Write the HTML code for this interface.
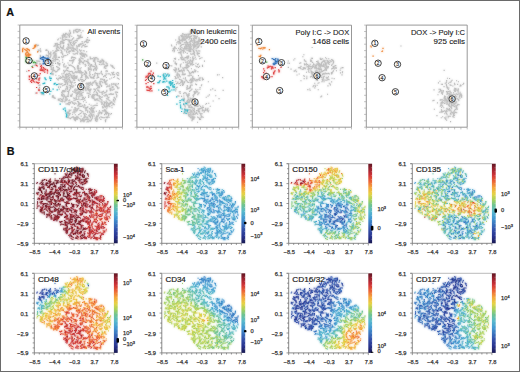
<!DOCTYPE html><html><head><meta charset="utf-8"><style>html,body{margin:0;padding:0;background:#fff;}svg{display:block;font-family:"Liberation Sans",sans-serif;}</style></head><body><svg width="520" height="372" viewBox="0 0 520 372"><defs><linearGradient id="cb" x1="0" y1="0" x2="0" y2="1"><stop offset="0.000" stop-color="#5f1623"/><stop offset="0.070" stop-color="#9b2330"/><stop offset="0.140" stop-color="#cd3237"/><stop offset="0.220" stop-color="#eb6437"/><stop offset="0.300" stop-color="#f5a53c"/><stop offset="0.380" stop-color="#e6d246"/><stop offset="0.450" stop-color="#aad25a"/><stop offset="0.520" stop-color="#6ec391"/><stop offset="0.600" stop-color="#58b9cd"/><stop offset="0.680" stop-color="#449bd2"/><stop offset="0.760" stop-color="#3a73be"/><stop offset="0.840" stop-color="#324ba5"/><stop offset="0.920" stop-color="#28328c"/><stop offset="1.000" stop-color="#191950"/></linearGradient><filter id="bl" x="-5%" y="-5%" width="110%" height="110%"><feGaussianBlur stdDeviation="0.35"/></filter><filter id="halo" x="-5%" y="-5%" width="110%" height="110%"><feGaussianBlur in="SourceGraphic" stdDeviation="1.1" result="b"/><feComponentTransfer in="b" result="b2"><feFuncA type="linear" slope="0.8"/></feComponentTransfer><feGaussianBlur in="SourceGraphic" stdDeviation="0.3" result="s"/><feMerge><feMergeNode in="b2"/><feMergeNode in="s"/></feMerge></filter></defs><rect x="0" y="0" width="520" height="372" fill="#fff"/><rect x="0.5" y="0.5" width="519" height="371" fill="none" stroke="#6a6a6a" stroke-width="1"/><text x="6.3" y="15.6" font-size="10.80" text-anchor="start" font-weight="bold" fill="#111" stroke="#111" stroke-width="0.2">A</text><text x="6.8" y="154.8" font-size="10.80" text-anchor="start" font-weight="bold" fill="#111" stroke="#111" stroke-width="0.2">B</text><g stroke-width="1.1" fill="none" filter="url(#halo)"><path d="M62.0 90.8h1.1M94.5 62.4h1.1M81.7 120.9h1.1M78.1 114.6h1.1M80.5 54.7h1.1M70.5 86.4h1.1M73.8 67.6h1.1M78.9 86.2h1.1M78.5 96.0h1.1M67.5 95.2h1.1M36.9 45.6h1.1M104.1 111.0h1.1M76.7 49.0h1.1M78.1 104.5h1.1M96.5 120.2h1.1M87.4 61.0h1.1M87.5 89.7h1.1M94.1 99.7h1.1M100.2 84.9h1.1M110.1 74.9h1.1M90.3 108.7h1.1M80.8 54.7h1.1M64.7 77.2h1.1M108.1 86.1h1.1M88.0 68.0h1.1M72.4 45.9h1.1M94.1 61.3h1.1M84.2 116.6h1.1M87.0 119.5h1.1M78.3 35.9h1.1M105.8 77.5h1.1M96.5 98.6h1.1M112.3 67.5h1.1M47.9 56.7h1.1M61.7 93.1h1.1M60.0 43.9h1.1M48.3 53.6h1.1M85.9 119.4h1.1M109.8 102.6h1.1M81.4 87.3h1.1M45.3 50.3h1.1M90.0 90.1h1.1M82.8 92.3h1.1M62.2 91.7h1.1M62.1 59.9h1.1M81.1 99.5h1.1M74.2 90.2h1.1M113.1 72.4h1.1M84.2 107.8h1.1M77.3 52.3h1.1M106.3 90.4h1.1M69.9 113.8h1.1M58.0 87.5h1.1M98.4 112.3h1.1M104.4 82.4h1.1M68.8 73.4h1.1M107.5 116.9h1.1M101.5 102.2h1.1M78.4 31.1h1.1M99.3 61.7h1.1M98.6 98.8h1.1M62.1 95.2h1.1M111.1 83.7h1.1M84.8 64.4h1.1M62.4 41.8h1.1M83.8 42.1h1.1M78.5 102.7h1.1M67.6 104.3h1.1M90.3 65.8h1.1M76.5 76.0h1.1M110.0 103.4h1.1M75.0 85.0h1.1M103.0 76.6h1.1M103.0 91.4h1.1M97.9 86.0h1.1M78.9 49.9h1.1M84.4 105.7h1.1M59.0 68.3h1.1M71.3 77.8h1.1M77.1 65.9h1.1M63.6 77.3h1.1M83.9 117.7h1.1M94.7 90.5h1.1M80.6 116.1h1.1M65.8 82.2h1.1M97.6 95.7h1.1M79.0 61.2h1.1M62.0 101.7h1.1M75.4 77.2h1.1M82.2 53.2h1.1M73.3 30.6h1.1M61.9 85.7h1.1M100.4 81.2h1.1M73.8 77.8h1.1M102.4 104.0h1.1M77.5 92.2h1.1M88.1 95.2h1.1M93.2 70.7h1.1M98.5 112.8h1.1M116.6 74.5h1.1M101.6 92.2h1.1M82.4 55.5h1.1M98.4 91.4h1.1M81.5 46.2h1.1M88.8 69.5h1.1M85.9 72.6h1.1M63.7 71.4h1.1M89.5 83.4h1.1M79.3 64.1h1.1M104.0 114.6h1.1M72.4 103.4h1.1M113.0 94.1h1.1M76.4 94.3h1.1M58.7 89.1h1.1M76.5 31.8h1.1M50.7 60.6h1.1M61.6 41.3h1.1M90.4 120.7h1.1M100.9 113.7h1.1M58.9 65.2h1.1M73.2 111.7h1.1M88.9 108.6h1.1M70.4 110.0h1.1M34.2 65.2h1.1M92.4 82.4h1.1M50.3 52.1h1.1M71.8 60.2h1.1M74.7 53.9h1.1M105.6 65.5h1.1M50.7 65.9h1.1M76.3 92.3h1.1M61.5 52.7h1.1M90.6 70.1h1.1M84.1 117.7h1.1M84.1 55.0h1.1M76.5 29.3h1.1M77.8 101.7h1.1M73.3 30.2h1.1M62.1 47.4h1.1M75.0 30.8h1.1M82.8 120.7h1.1M101.7 94.4h1.1M101.8 74.5h1.1M69.0 65.5h1.1M86.8 39.9h1.1M68.7 85.4h1.1M69.4 102.4h1.1M70.0 87.3h1.1M116.8 78.0h1.1M108.4 106.1h1.1M73.0 42.8h1.1M54.4 57.3h1.1M71.8 94.2h1.1M62.1 79.3h1.1M107.8 99.7h1.1M72.9 66.9h1.1M79.7 37.6h1.1M97.1 75.8h1.1M74.8 99.1h1.1M48.1 54.2h1.1M75.6 97.4h1.1M86.7 42.7h1.1M90.1 77.1h1.1M93.3 111.5h1.1M109.2 86.3h1.1M106.9 117.8h1.1M79.5 71.9h1.1M70.1 88.6h1.1M79.7 68.9h1.1M79.7 50.7h1.1M67.7 96.4h1.1M61.6 94.2h1.1M76.7 46.8h1.1M71.5 50.7h1.1M90.9 114.6h1.1M81.7 53.7h1.1M85.1 75.4h1.1M80.1 51.2h1.1M66.5 68.6h1.1M79.8 62.1h1.1M89.2 91.0h1.1M39.7 57.5h1.1M94.9 64.1h1.1M63.1 79.7h1.1M91.0 64.6h1.1M97.7 73.8h1.1M57.0 67.1h1.1M70.0 85.5h1.1M57.7 99.2h1.1M41.2 93.6h1.1M96.2 67.1h1.1M103.1 60.7h1.1M81.7 120.3h1.1M116.0 94.7h1.1M89.9 69.3h1.1M65.3 91.0h1.1M79.5 61.0h1.1M53.8 70.6h1.1M114.0 76.7h1.1M61.3 56.6h1.1M115.8 73.7h1.1M90.4 109.9h1.1M112.2 84.3h1.1M69.1 60.6h1.1M96.9 93.1h1.1M108.1 115.5h1.1M91.0 114.5h1.1M100.0 79.1h1.1M76.1 45.9h1.1M60.0 87.1h1.1M106.2 108.8h1.1M93.8 66.6h1.1M70.7 75.4h1.1M69.4 110.6h1.1M54.8 54.9h1.1M103.4 101.8h1.1M65.2 39.4h1.1M83.8 113.9h1.1M61.0 50.7h1.1M100.3 119.4h1.1M86.7 76.9h1.1M85.2 108.3h1.1M82.3 120.0h1.1M68.0 93.0h1.1M55.1 44.7h1.1M62.7 34.6h1.1M54.0 52.2h1.1M67.7 35.6h1.1M117.0 92.4h1.1M113.7 104.7h1.1M74.3 78.5h1.1M37.3 61.1h1.1M72.0 114.2h1.1M111.2 72.7h1.1M100.4 116.9h1.1M61.8 37.8h1.1M63.0 43.6h1.1M53.4 70.4h1.1M78.3 37.9h1.1M82.2 56.4h1.1M84.9 79.5h1.1M77.6 69.6h1.1M89.6 67.7h1.1M95.2 80.9h1.1M64.7 39.4h1.1M111.5 107.8h1.1M92.1 108.7h1.1M70.9 101.8h1.1M79.1 44.6h1.1M55.5 56.1h1.1M68.1 91.9h1.1M68.6 42.0h1.1M67.3 48.6h1.1M87.3 111.0h1.1M72.6 53.7h1.1M52.0 58.2h1.1M60.8 101.4h1.1M95.0 68.0h1.1M80.6 67.8h1.1M100.3 62.8h1.1M67.3 40.0h1.1M100.9 71.4h1.1M64.3 96.3h1.1M91.7 110.3h1.1M105.0 121.6h1.1M58.0 47.7h1.1M78.2 98.9h1.1M59.7 42.8h1.1M90.0 116.1h1.1M63.2 65.8h1.1M85.2 46.6h1.1M114.3 100.2h1.1M98.3 61.2h1.1M91.3 77.9h1.1M99.1 113.8h1.1M63.2 96.8h1.1M69.5 103.4h1.1M35.1 93.1h1.1M117.4 88.7h1.1M70.4 47.9h1.1M80.7 53.3h1.1M118.1 75.1h1.1M60.6 84.4h1.1M105.5 73.2h1.1M80.5 110.7h1.1M81.9 95.2h1.1M63.7 72.5h1.1M52.4 71.0h1.1M63.8 36.5h1.1M81.0 93.6h1.1M39.4 50.4h1.1M102.3 60.0h1.1M63.1 85.3h1.1M111.6 90.1h1.1M82.2 105.3h1.1M94.7 89.4h1.1M64.9 74.6h1.1M113.3 83.6h1.1M74.3 76.4h1.1M82.4 72.5h1.1M67.6 103.6h1.1M76.3 116.4h1.1M65.6 74.9h1.1M112.9 103.8h1.1M98.5 86.6h1.1M57.7 80.0h1.1M55.2 59.6h1.1M56.1 78.4h1.1M83.3 121.7h1.1M54.5 53.8h1.1M88.6 68.7h1.1M103.3 107.2h1.1M92.4 106.0h1.1M48.6 64.1h1.1M92.4 94.9h1.1M81.1 53.4h1.1M84.0 98.6h1.1M78.6 106.0h1.1M111.8 66.5h1.1M104.0 80.7h1.1M80.8 72.2h1.1M81.5 84.5h1.1M98.8 95.7h1.1M97.5 76.9h1.1M82.5 58.9h1.1M75.5 76.6h1.1M72.7 41.8h1.1M98.7 101.0h1.1M76.8 117.4h1.1M68.7 90.4h1.1M70.9 58.1h1.1M74.7 42.9h1.1M59.9 47.1h1.1M94.1 60.7h1.1M89.3 120.6h1.1M80.7 89.6h1.1M80.7 50.3h1.1M79.6 96.0h1.1M76.4 47.9h1.1M66.3 39.5h1.1M103.0 111.0h1.1M39.3 61.7h1.1M95.9 121.2h1.1M104.3 92.5h1.1M76.9 118.7h1.1M93.7 95.4h1.1M72.5 60.6h1.1M79.8 106.2h1.1M61.2 92.2h1.1M89.7 94.4h1.1M88.6 116.0h1.1M68.4 39.7h1.1M108.7 100.3h1.1M100.5 92.2h1.1M94.7 64.6h1.1M69.3 47.8h1.1M89.5 112.8h1.1M79.1 29.6h1.1M88.6 120.3h1.1M93.5 105.8h1.1M66.7 113.3h1.1M66.2 80.0h1.1M66.6 77.9h1.1M113.8 74.6h1.1M88.4 82.7h1.1M87.9 40.2h1.1M73.7 73.0h1.1M89.2 91.2h1.1M95.8 116.7h1.1M57.2 70.3h1.1M74.2 111.3h1.1M96.1 99.6h1.1M78.8 45.1h1.1M116.9 87.7h1.1M83.2 89.7h1.1M84.4 115.8h1.1M103.5 61.8h1.1M72.2 112.3h1.1M58.3 64.3h1.1M83.9 120.9h1.1M113.7 97.3h1.1M74.6 100.2h1.1M71.0 49.7h1.1M50.3 62.6h1.1M57.9 78.7h1.1M58.9 57.4h1.1M65.1 78.7h1.1M75.5 29.8h1.1M63.9 34.5h1.1M66.2 73.9h1.1M50.1 54.1h1.1M91.7 111.4h1.1M99.4 81.4h1.1M68.7 114.3h1.1M117.1 75.5h1.1M74.3 107.9h1.1M74.7 118.5h1.1M93.2 76.5h1.1M97.2 85.8h1.1M93.3 60.1h1.1M65.0 34.8h1.1M54.4 45.6h1.1M82.9 101.8h1.1M73.3 49.3h1.1M90.5 111.0h1.1M91.6 97.8h1.1M72.1 57.1h1.1M86.6 93.1h1.1M76.7 71.7h1.1M90.6 113.2h1.1M58.2 86.7h1.1M114.9 99.3h1.1M32.3 65.8h1.1M75.3 93.1h1.1M81.6 106.3h1.1M105.9 114.3h1.1M86.3 85.2h1.1M72.0 102.1h1.1M74.9 120.6h1.1M61.7 48.2h1.1M74.0 117.7h1.1M98.9 86.3h1.1M74.3 48.9h1.1M87.1 37.5h1.1M82.9 89.2h1.1M77.7 72.2h1.1M106.5 105.8h1.1M64.3 91.0h1.1M104.2 106.4h1.1M68.2 47.9h1.1M102.0 60.6h1.1M73.0 48.3h1.1M80.2 77.8h1.1M87.9 69.1h1.1M81.7 90.1h1.1M92.2 74.6h1.1M84.9 76.3h1.1M76.3 50.4h1.1M78.5 36.9h1.1M59.0 78.3h1.1M98.1 77.5h1.1M63.3 42.5h1.1M55.1 71.9h1.1M99.7 82.5h1.1M83.1 117.3h1.1M105.6 101.0h1.1M79.0 114.0h1.1M92.0 116.4h1.1M92.5 108.3h1.1M51.9 60.7h1.1M114.2 102.0h1.1M95.1 57.6h1.1M107.5 105.4h1.1M86.4 122.0h1.1M67.6 117.8h1.1M85.0 72.7h1.1M57.1 49.8h1.1M71.2 95.1h1.1M87.6 119.0h1.1M40.1 51.8h1.1M90.5 105.2h1.1M55.2 51.7h1.1M69.7 118.6h1.1M64.8 66.9h1.1M69.0 36.0h1.1M63.1 91.8h1.1M80.8 79.6h1.1M79.3 118.8h1.1M99.7 83.6h1.1M76.3 72.7h1.1M81.2 47.3h1.1M41.6 94.1h1.1M111.6 94.5h1.1M72.2 38.6h1.1M76.8 71.7h1.1M82.6 63.8h1.1M82.4 30.9h1.1M54.2 52.9h1.1M76.3 76.5h1.1M82.4 45.5h1.1M115.5 93.7h1.1M70.9 117.8h1.1M77.2 99.5h1.1M87.9 62.5h1.1M101.5 102.0h1.1M72.2 78.5h1.1M82.7 56.3h1.1M53.3 57.3h1.1M66.0 51.8h1.1M56.0 43.9h1.1M89.3 66.3h1.1M104.3 110.9h1.1M102.2 82.6h1.1M63.0 76.8h1.1M104.0 81.2h1.1M93.2 114.7h1.1M71.1 96.3h1.1M58.2 50.2h1.1M65.6 66.0h1.1M112.1 73.4h1.1M85.3 71.6h1.1M88.7 104.3h1.1M82.9 113.3h1.1M105.1 120.5h1.1M81.0 76.3h1.1M75.1 49.2h1.1M85.3 109.4h1.1M92.2 96.0h1.1M39.7 55.3h1.1M75.3 72.1h1.1M81.5 58.3h1.1M39.8 48.9h1.1M90.8 108.6h1.1M85.7 114.5h1.1M70.0 51.1h1.1M68.7 37.1h1.1M62.3 99.1h1.1M75.9 95.5h1.1M70.8 40.3h1.1M103.5 93.1h1.1M85.1 61.0h1.1M78.8 38.2h1.1M88.8 114.9h1.1M72.4 47.4h1.1M101.4 103.1h1.1M75.1 49.7h1.1M101.1 85.5h1.1M68.7 53.2h1.1M78.3 63.3h1.1M105.2 83.4h1.1M67.1 87.1h1.1M96.5 93.0h1.1M65.4 104.0h1.1M106.2 86.9h1.1M91.2 65.2h1.1M56.7 43.3h1.1M74.1 89.9h1.1M69.6 40.2h1.1M67.2 112.0h1.1M36.2 60.9h1.1M63.2 70.4h1.1M91.5 96.9h1.1M97.0 87.8h1.1M63.1 35.6h1.1M87.0 112.1h1.1M95.5 99.9h1.1M83.9 56.2h1.1M93.4 78.5h1.1M75.8 118.1h1.1M26.2 71.4h1.1M94.3 75.1h1.1M49.1 65.4h1.1M85.3 83.7h1.1M115.5 83.9h1.1M78.4 71.7h1.1M57.4 59.6h1.1M58.9 100.3h1.1M109.3 78.9h1.1M77.0 68.2h1.1M84.5 64.6h1.1M86.8 77.6h1.1M70.6 75.8h1.1M66.8 87.6h1.1M76.1 110.6h1.1M80.4 60.7h1.1M51.6 65.3h1.1M66.6 103.9h1.1M99.5 112.0h1.1M78.4 118.2h1.1M86.5 86.6h1.1M67.9 45.2h1.1M64.7 99.7h1.1M46.7 55.6h1.1M107.0 102.8h1.1M85.4 90.6h1.1M37.9 51.2h1.1M86.6 84.1h1.1M51.7 97.0h1.1M106.9 86.1h1.1M106.7 63.9h1.1M63.0 46.7h1.1M83.0 99.0h1.1M105.2 66.8h1.1M113.5 104.5h1.1M77.1 35.3h1.1M79.2 61.1h1.1M106.0 104.4h1.1M58.8 99.0h1.1M50.7 69.4h1.1M60.1 78.4h1.1M104.9 81.9h1.1M54.5 55.9h1.1M51.7 69.9h1.1M87.8 78.1h1.1M54.3 98.1h1.1M113.9 68.2h1.1M78.8 63.0h1.1M88.3 115.6h1.1M118.6 79.3h1.1M71.7 94.1h1.1M66.7 67.9h1.1M56.8 47.8h1.1M66.3 100.2h1.1M84.3 73.6h1.1M109.5 103.0h1.1M79.6 90.4h1.1M108.4 94.2h1.1M82.3 99.4h1.1M83.3 120.5h1.1M52.0 95.9h1.1M74.5 69.7h1.1M93.5 112.7h1.1M62.1 62.3h1.1M105.6 95.3h1.1M104.6 81.6h1.1M38.9 64.0h1.1M66.3 37.1h1.1M67.6 46.3h1.1M96.9 116.8h1.1M82.2 119.3h1.1M38.0 45.3h1.1M73.2 32.9h1.1M112.2 74.8h1.1M106.7 96.8h1.1M80.4 120.5h1.1M77.3 92.7h1.1M80.8 112.7h1.1M87.8 93.2h1.1M89.5 76.2h1.1M96.7 94.1h1.1M65.9 70.1h1.1M101.4 73.8h1.1M81.8 86.3h1.1M109.4 106.7h1.1M80.7 32.8h1.1M73.6 51.2h1.1M39.0 90.6h1.1M81.2 72.6h1.1M78.9 88.3h1.1M85.6 41.4h1.1M82.9 90.3h1.1M106.5 84.1h1.1M68.9 51.1h1.1M95.8 111.2h1.1M50.3 52.4h1.1M85.9 75.8h1.1M84.8 116.9h1.1M101.9 106.9h1.1M74.6 72.3h1.1M87.4 59.8h1.1M105.9 113.3h1.1M59.2 64.6h1.1M39.4 85.1h1.1M105.3 119.5h1.1M88.4 87.7h1.1M68.0 76.7h1.1M94.8 72.9h1.1M68.6 80.0h1.1M69.2 31.3h1.1M97.8 115.9h1.1M80.0 30.2h1.1M76.1 119.3h1.1M81.3 74.4h1.1M95.2 65.1h1.1M52.4 65.5h1.1M92.5 77.8h1.1M79.7 36.0h1.1M50.0 61.3h1.1M78.7 92.5h1.1M83.6 74.4h1.1M80.7 52.7h1.1M74.3 57.5h1.1M71.3 45.6h1.1M67.6 116.6h1.1M79.4 87.9h1.1M51.3 74.1h1.1M60.9 47.6h1.1M79.9 87.9h1.1M62.9 98.1h1.1M86.1 51.7h1.1M65.8 76.2h1.1M75.1 119.5h1.1M45.7 50.5h1.1M67.6 49.8h1.1M49.2 53.9h1.1M61.7 48.4h1.1M96.8 116.4h1.1M69.3 46.1h1.1M66.8 84.8h1.1M75.6 103.7h1.1M40.3 51.0h1.1M82.9 62.7h1.1M66.7 74.3h1.1M38.3 85.3h1.1M59.3 63.5h1.1M72.3 91.4h1.1M76.2 93.8h1.1M89.2 72.7h1.1M76.6 117.0h1.1M63.9 81.8h1.1M88.7 85.5h1.1M68.7 115.3h1.1M74.8 108.9h1.1M80.7 94.7h1.1M45.7 55.1h1.1M70.3 96.5h1.1M91.0 115.7h1.1M110.9 85.0h1.1M116.4 95.8h1.1M71.3 86.7h1.1M106.3 112.4h1.1M105.4 92.3h1.1M113.0 99.6h1.1M103.7 117.6h1.1M85.6 109.0h1.1M98.9 73.8h1.1M104.8 76.3h1.1M73.5 43.8h1.1M60.6 41.3h1.1M53.4 56.2h1.1M93.2 108.4h1.1M51.4 64.8h1.1M105.7 63.2h1.1M94.1 91.5h1.1M88.0 121.7h1.1M66.0 74.5h1.1M74.9 118.8h1.1M104.9 82.3h1.1M62.1 53.7h1.1M99.0 87.6h1.1M62.1 54.8h1.1M90.2 77.6h1.1M78.0 44.9h1.1M71.0 65.7h1.1M60.9 77.6h1.1M77.5 29.8h1.1M49.4 53.4h1.1M79.3 103.5h1.1M80.5 106.5h1.1M37.7 50.1h1.1M67.7 113.6h1.1M77.7 46.1h1.1M104.1 82.6h1.1M81.4 111.3h1.1M92.7 82.9h1.1M54.4 71.0h1.1M103.7 67.9h1.1M107.5 73.8h1.1M74.1 80.4h1.1M93.5 82.1h1.1M85.3 89.4h1.1M81.9 84.1h1.1M81.3 73.3h1.1M80.0 53.7h1.1M40.5 64.4h1.1M53.6 59.4h1.1M106.0 103.7h1.1M70.0 74.2h1.1M88.1 97.4h1.1M85.4 107.5h1.1M65.5 81.2h1.1M65.5 99.0h1.1M78.8 36.8h1.1M93.4 98.6h1.1M113.2 77.5h1.1M101.9 110.9h1.1M73.5 92.2h1.1M105.6 106.8h1.1M109.6 101.0h1.1M53.1 52.9h1.1M106.7 71.5h1.1M86.0 110.3h1.1M76.1 117.4h1.1M89.7 58.9h1.1M103.9 75.9h1.1M72.2 72.6h1.1M52.5 74.6h1.1M80.4 93.7h1.1M100.4 112.6h1.1M77.9 70.6h1.1M78.0 91.8h1.1M80.3 103.9h1.1M64.2 91.6h1.1M77.9 80.4h1.1M71.7 39.6h1.1M105.4 82.0h1.1M85.2 110.8h1.1M87.1 121.1h1.1M65.7 88.3h1.1M90.8 119.6h1.1M80.3 119.4h1.1M76.8 53.9h1.1M78.6 30.0h1.1M46.7 50.2h1.1M65.2 80.7h1.1M82.1 85.2h1.1M45.8 49.8h1.1M95.4 70.2h1.1M77.9 38.8h1.1M79.8 73.0h1.1M73.2 44.5h1.1M70.1 65.1h1.1M36.0 44.9h1.1M71.2 36.3h1.1M62.9 34.0h1.1M85.0 119.6h1.1M80.7 95.6h1.1M102.0 97.0h1.1M82.1 54.0h1.1M65.4 83.3h1.1M50.3 55.2h1.1M89.6 69.0h1.1M62.5 101.2h1.1M95.8 73.5h1.1M55.0 63.4h1.1M91.2 77.4h1.1M73.7 59.2h1.1M96.5 95.5h1.1M57.1 50.5h1.1M88.4 83.8h1.1M73.1 37.9h1.1M110.5 89.8h1.1M61.7 41.6h1.1M80.9 106.4h1.1M105.4 84.4h1.1M96.0 119.3h1.1M49.9 63.3h1.1M89.9 65.0h1.1M78.8 46.2h1.1M82.7 50.8h1.1M84.4 100.4h1.1M66.6 89.8h1.1M89.3 89.6h1.1M39.9 56.4h1.1M74.6 92.2h1.1M69.6 80.6h1.1M67.9 78.8h1.1M104.1 103.8h1.1M62.5 49.2h1.1M110.2 65.0h1.1M74.7 103.1h1.1M68.5 40.9h1.1M95.9 92.1h1.1M66.4 34.1h1.1M49.5 64.4h1.1M78.7 38.1h1.1M96.8 83.7h1.1M112.1 103.0h1.1M58.4 75.7h1.1M87.3 106.9h1.1M85.5 65.3h1.1M70.0 118.4h1.1M97.8 114.8h1.1M71.9 78.4h1.1M100.4 60.6h1.1M68.1 73.9h1.1M107.6 103.8h1.1M81.7 55.8h1.1M76.2 110.9h1.1M84.8 108.3h1.1M90.8 69.0h1.1M73.6 54.2h1.1M47.9 52.5h1.1M77.9 89.6h1.1M55.2 43.6h1.1M64.9 97.1h1.1M78.4 60.3h1.1M96.2 115.7h1.1M76.3 96.5h1.1M96.9 73.6h1.1M50.6 67.0h1.1M87.0 107.4h1.1M78.2 97.1h1.1M91.7 112.8h1.1M81.3 55.1h1.1M105.1 95.3h1.1M60.1 41.7h1.1M107.7 113.3h1.1M60.9 99.4h1.1M61.0 92.2h1.1M109.1 85.0h1.1M51.0 61.8h1.1M89.6 59.0h1.1M66.3 86.4h1.1M115.9 86.1h1.1M67.9 76.8h1.1M66.2 100.1h1.1M96.0 66.0h1.1M80.0 70.7h1.1M68.7 118.0h1.1M105.4 71.1h1.1M86.2 117.3h1.1M91.5 118.7h1.1M117.8 78.5h1.1M100.5 73.1h1.1M103.8 106.2h1.1M56.8 44.4h1.1M97.6 113.7h1.1M54.5 61.3h1.1M66.3 80.5h1.1M59.5 84.1h1.1M87.3 89.6h1.1M66.9 70.6h1.1M103.9 79.6h1.1M43.3 94.7h1.1M75.7 53.3h1.1M56.0 49.9h1.1M95.1 100.1h1.1M51.1 63.4h1.1M60.0 76.7h1.1M104.8 113.8h1.1M92.9 77.6h1.1M106.2 91.5h1.1M106.0 104.6h1.1M101.0 61.2h1.1M68.2 100.7h1.1M81.3 77.4h1.1M68.8 77.4h1.1M97.1 90.1h1.1M74.6 91.2h1.1M95.7 83.9h1.1M88.2 89.9h1.1M68.2 71.1h1.1M105.8 80.9h1.1M58.4 83.9h1.1M90.5 89.2h1.1M54.6 45.9h1.1M98.9 110.8h1.1M98.8 64.4h1.1M73.6 82.9h1.1M71.4 60.6h1.1M94.6 94.7h1.1M78.8 58.9h1.1M53.0 52.8h1.1M53.0 60.9h1.1M87.3 89.7h1.1M102.7 61.9h1.1M59.1 69.0h1.1M34.9 63.3h1.1M87.4 59.2h1.1M56.2 51.3h1.1M77.8 104.9h1.1M97.3 77.5h1.1M57.5 46.7h1.1M66.0 48.3h1.1M80.5 91.9h1.1M79.7 79.4h1.1M114.5 84.2h1.1M76.8 89.6h1.1M114.8 92.1h1.1M104.1 67.0h1.1M101.4 59.3h1.1M50.1 53.2h1.1M108.3 105.0h1.1M61.5 53.1h1.1M83.5 119.4h1.1M80.2 121.6h1.1M77.5 31.7h1.1M105.4 112.1h1.1M81.8 97.1h1.1M69.2 30.2h1.1M74.0 119.9h1.1M105.1 113.1h1.1M95.9 66.1h1.1M76.2 108.8h1.1M96.6 58.9h1.1M70.0 33.4h1.1M87.1 117.2h1.1M73.9 98.4h1.1M70.1 86.6h1.1M68.4 64.9h1.1M106.6 105.8h1.1M90.0 114.0h1.1M75.5 78.4h1.1M116.8 86.8h1.1M108.5 103.5h1.1M86.5 87.7h1.1M108.7 113.8h1.1M39.8 92.7h1.1M77.0 110.0h1.1M84.1 46.8h1.1M73.8 104.5h1.1M70.7 44.6h1.1M82.7 44.0h1.1M82.6 118.8h1.1M112.0 65.7h1.1M94.2 73.8h1.1M61.9 36.7h1.1M89.8 74.8h1.1M86.8 88.8h1.1M54.1 52.1h1.1M75.7 119.0h1.1M58.0 67.7h1.1M57.8 57.4h1.1M68.2 102.6h1.1M94.4 100.1h1.1M60.0 46.0h1.1M118.3 87.9h1.1M100.4 101.9h1.1M84.4 70.9h1.1M109.2 88.2h1.1M69.1 80.1h1.1M78.2 103.4h1.1M92.2 94.8h1.1M80.5 54.3h1.1M80.9 61.7h1.1M52.9 69.9h1.1M52.0 62.5h1.1M55.5 53.8h1.1M95.0 82.8h1.1M86.4 42.3h1.1M61.7 38.9h1.1M97.7 59.1h1.1M64.2 80.1h1.1M67.1 54.6h1.1M72.9 78.5h1.1M81.7 120.4h1.1M96.6 99.7h1.1M79.4 110.4h1.1M73.8 41.3h1.1M107.0 65.5h1.1M89.6 57.1h1.1M49.6 60.3h1.1M95.9 70.0h1.1M103.6 104.8h1.1M64.0 71.4h1.1M51.3 73.5h1.1M85.9 76.2h1.1M64.1 35.5h1.1M77.3 93.6h1.1M63.1 37.3h1.1M54.9 60.0h1.1M113.5 98.0h1.1M53.5 97.3h1.1M92.4 109.4h1.1M104.0 105.8h1.1M82.8 80.3h1.1M103.1 80.1h1.1M70.9 83.8h1.1M83.0 97.4h1.1M91.0 108.2h1.1M93.3 92.3h1.1M112.4 66.8h1.1M52.8 70.1h1.1M75.1 58.2h1.1M112.8 67.8h1.1M52.4 70.8h1.1M70.2 71.5h1.1M86.3 56.3h1.1M75.2 110.3h1.1M102.6 63.0h1.1M85.4 108.6h1.1M105.3 112.8h1.1M108.5 105.9h1.1M62.4 40.4h1.1M96.4 78.1h1.1M86.2 61.3h1.1M68.6 111.5h1.1M61.6 42.4h1.1M112.8 100.3h1.1M62.9 56.9h1.1M96.9 116.6h1.1M80.7 71.6h1.1M73.5 103.1h1.1M106.4 65.0h1.1M85.7 102.2h1.1M75.7 98.3h1.1M103.6 110.6h1.1M109.8 90.7h1.1M74.0 78.6h1.1M92.1 115.0h1.1M72.5 117.2h1.1M66.0 81.1h1.1M67.6 81.5h1.1M71.9 48.1h1.1M64.3 49.5h1.1M35.1 64.4h1.1M67.8 112.9h1.1M70.1 81.6h1.1M55.0 58.9h1.1M91.5 95.7h1.1M105.3 117.2h1.1M97.1 74.7h1.1M77.8 68.5h1.1M92.7 66.4h1.1M70.3 82.8h1.1M56.9 44.6h1.1M112.4 104.2h1.1M69.1 41.2h1.1M36.5 63.1h1.1M52.7 67.2h1.1M111.1 78.0h1.1M84.1 104.6h1.1M80.5 44.4h1.1M106.1 103.5h1.1M66.1 78.2h1.1M97.5 100.4h1.1M104.0 102.7h1.1M70.7 42.3h1.1M73.3 79.4h1.1M74.7 40.8h1.1M77.4 38.6h1.1M100.3 61.7h1.1M68.4 52.1h1.1M55.8 57.2h1.1M73.5 117.8h1.1M94.6 118.4h1.1M52.9 67.9h1.1M65.8 77.1h1.1M83.8 51.0h1.1M58.1 69.6h1.1M68.6 110.1h1.1M88.9 111.9h1.1M112.7 74.3h1.1M89.3 71.6h1.1M98.2 90.3h1.1M73.6 111.9h1.1M112.5 87.7h1.1M99.0 117.9h1.1M76.6 32.4h1.1M106.9 112.6h1.1M92.1 58.6h1.1M76.3 39.1h1.1M96.5 103.3h1.1M72.2 62.2h1.1M106.4 70.5h1.1M67.7 112.2h1.1M57.2 39.9h1.1M69.9 43.9h1.1M85.1 116.8h1.1M71.4 76.3h1.1M86.1 108.0h1.1M107.6 97.6h1.1M58.1 83.9h1.1M67.5 115.7h1.1M77.1 101.5h1.1M89.3 64.3h1.1M115.2 85.0h1.1M70.8 60.8h1.1M65.2 37.1h1.1M102.9 105.0h1.1M79.8 44.6h1.1M75.3 71.5h1.1M55.8 71.6h1.1M61.4 48.2h1.1M84.9 113.7h1.1M81.6 41.6h1.1M97.0 119.1h1.1M59.2 44.6h1.1M92.4 98.1h1.1M67.4 47.4h1.1M71.7 71.6h1.1M72.8 116.7h1.1M84.4 53.9h1.1M108.4 97.3h1.1M75.1 112.0h1.1M96.4 121.3h1.1M62.8 48.1h1.1M64.4 55.7h1.1M58.8 77.9h1.1M78.7 37.0h1.1M95.7 94.5h1.1M72.0 77.3h1.1M74.8 89.1h1.1M108.7 73.9h1.1M87.3 83.2h1.1M99.7 83.9h1.1M76.2 89.4h1.1M97.9 87.8h1.1M98.9 83.1h1.1M83.2 88.6h1.1M69.6 87.4h1.1M105.6 111.5h1.1M106.0 105.8h1.1M102.5 117.7h1.1M88.0 65.1h1.1M77.1 51.2h1.1M74.7 82.5h1.1M78.8 104.4h1.1M72.1 57.4h1.1M56.5 47.9h1.1M64.6 96.7h1.1M71.6 86.1h1.1M56.9 79.2h1.1M75.2 90.7h1.1M78.7 72.7h1.1M106.7 106.9h1.1M75.4 29.5h1.1M84.1 87.8h1.1M54.3 61.0h1.1M48.9 57.7h1.1M83.0 81.0h1.1M76.9 40.8h1.1M83.4 61.7h1.1M99.3 96.8h1.1M82.9 107.3h1.1M54.6 43.9h1.1M78.7 88.9h1.1M81.2 43.7h1.1M64.8 82.1h1.1M110.2 114.3h1.1M72.9 98.0h1.1M86.5 110.3h1.1M85.0 88.4h1.1M99.2 62.5h1.1M77.7 65.2h1.1M58.5 63.7h1.1M99.7 96.5h1.1M57.3 63.7h1.1M85.3 54.6h1.1M63.8 63.9h1.1M74.7 107.6h1.1M90.3 89.0h1.1M79.2 91.5h1.1M83.0 54.6h1.1M83.5 55.6h1.1M72.6 61.2h1.1M105.9 98.8h1.1M72.6 73.5h1.1M74.2 109.9h1.1M112.7 89.8h1.1M47.8 55.6h1.1M61.2 95.8h1.1M77.7 117.3h1.1M73.4 77.5h1.1M57.7 63.0h1.1M68.4 33.2h1.1M106.4 117.1h1.1M55.6 55.0h1.1M52.5 68.9h1.1M107.5 116.7h1.1M53.7 55.1h1.1M88.6 63.4h1.1M75.8 118.6h1.1M89.2 73.8h1.1M101.1 79.1h1.1M111.9 94.2h1.1M56.3 59.4h1.1M110.6 102.8h1.1M94.4 99.2h1.1M87.2 62.1h1.1M79.0 80.8h1.1M66.6 49.5h1.1M63.2 91.2h1.1M65.0 89.2h1.1M69.6 42.5h1.1M70.9 82.4h1.1M52.4 95.8h1.1M94.5 67.0h1.1M87.9 70.2h1.1M61.7 35.6h1.1M69.2 75.0h1.1M68.7 104.6h1.1M93.8 68.9h1.1M50.9 72.7h1.1M117.4 84.3h1.1M69.4 82.1h1.1M100.4 99.6h1.1M93.9 59.1h1.1M56.2 45.7h1.1M105.2 68.4h1.1M56.5 46.8h1.1M111.4 87.1h1.1M89.7 66.6h1.1M104.2 81.4h1.1M88.8 75.3h1.1M64.3 102.0h1.1M89.9 109.3h1.1M88.1 119.3h1.1M79.6 99.8h1.1M81.8 62.4h1.1M63.2 94.4h1.1M101.4 81.8h1.1M108.1 114.4h1.1M64.2 90.7h1.1M39.7 63.6h1.1M95.6 105.2h1.1M69.0 51.4h1.1M63.1 45.6h1.1M106.1 117.6h1.1M65.3 98.2h1.1M89.5 121.2h1.1M106.2 102.0h1.1M80.3 93.8h1.1M77.5 35.7h1.1M104.7 111.2h1.1M104.4 102.4h1.1M89.0 116.5h1.1M79.4 106.5h1.1M77.2 94.0h1.1M82.0 75.7h1.1M69.1 71.8h1.1M75.9 78.2h1.1M67.8 67.9h1.1M78.6 36.0h1.1M93.4 89.1h1.1M79.4 37.6h1.1M102.4 107.9h1.1M91.7 85.4h1.1M49.7 66.4h1.1M66.0 86.7h1.1M94.9 119.6h1.1M75.6 42.2h1.1M101.4 100.1h1.1M87.3 84.0h1.1M69.2 89.3h1.1M75.5 31.3h1.1M105.8 113.1h1.1M66.9 88.7h1.1M81.9 79.6h1.1M70.0 43.1h1.1M91.3 84.3h1.1M73.8 43.6h1.1M57.9 44.5h1.1M57.8 100.1h1.1M52.7 96.4h1.1M101.4 64.2h1.1M78.2 108.1h1.1M63.3 73.6h1.1M63.5 66.9h1.1M101.6 93.3h1.1M61.4 42.2h1.1M106.7 80.2h1.1M80.6 120.6h1.1M73.2 60.2h1.1M64.3 50.8h1.1M91.9 117.7h1.1M73.9 119.2h1.1M81.9 37.3h1.1M116.7 72.7h1.1M67.1 79.5h1.1M60.3 50.1h1.1M72.4 51.4h1.1M96.0 69.2h1.1M77.6 67.4h1.1M66.3 50.7h1.1M62.3 42.6h1.1M74.6 30.3h1.1M68.9 113.3h1.1M85.4 109.9h1.1M94.1 81.1h1.1M73.2 57.6h1.1M95.5 117.8h1.1M59.7 38.1h1.1M111.3 105.6h1.1M72.1 50.3h1.1M118.1 73.3h1.1M70.2 60.7h1.1M81.9 118.9h1.1M72.0 66.2h1.1M68.3 44.1h1.1M83.5 45.4h1.1M72.3 87.1h1.1M88.4 90.4h1.1M99.3 97.6h1.1M50.4 54.9h1.1M58.9 48.3h1.1M57.1 62.6h1.1M66.8 117.4h1.1M84.0 115.5h1.1M101.9 91.7h1.1M110.8 94.2h1.1M84.8 66.2h1.1M89.9 82.3h1.1M52.5 63.4h1.1M78.7 70.6h1.1M71.8 117.1h1.1M77.3 108.9h1.1M66.5 99.0h1.1M111.2 101.9h1.1M73.7 113.0h1.1M55.2 57.8h1.1M73.4 118.9h1.1M84.6 74.4h1.1M74.9 77.5h1.1M71.2 84.8h1.1M73.2 85.9h1.1M70.1 95.4h1.1M35.9 62.8h1.1M87.7 88.6h1.1M56.9 45.7h1.1M81.9 43.2h1.1M117.4 72.5h1.1M72.2 43.3h1.1M100.9 97.2h1.1M92.6 112.0h1.1M84.7 87.3h1.1M98.1 87.6h1.1M85.9 61.4h1.1M63.7 36.5h1.1M86.4 46.4h1.1M101.0 86.5h1.1M52.5 73.5h1.1M55.3 75.3h1.1M58.5 99.0h1.1M96.1 118.7h1.1M99.5 112.2h1.1M67.4 63.0h1.1M71.5 48.1h1.1M67.0 67.6h1.1M54.7 98.3h1.1M95.9 85.0h1.1M60.4 52.8h1.1M109.5 94.5h1.1M99.2 92.2h1.1M80.2 57.0h1.1M84.5 41.7h1.1M82.4 111.8h1.1M61.4 73.9h1.1M79.8 103.8h1.1M89.9 58.2h1.1M104.8 120.5h1.1M65.0 70.9h1.1M69.5 48.5h1.1M93.4 57.6h1.1M77.9 102.3h1.1M91.2 96.7h1.1M69.8 32.2h1.1M66.7 99.1h1.1M67.1 74.5h1.1M60.6 77.8h1.1M52.6 53.8h1.1M92.4 77.9h1.1M35.9 63.8h1.1M113.6 89.1h1.1M74.1 48.7h1.1M103.9 66.7h1.1M72.6 75.4h1.1M84.0 80.6h1.1M100.6 72.0h1.1M76.3 77.6h1.1M87.4 63.2h1.1M92.9 69.6h1.1M106.2 94.7h1.1M106.2 112.2h1.1M51.7 71.9h1.1M54.2 98.2h1.1M69.1 100.1h1.1M78.9 62.3h1.1M61.5 83.6h1.1M89.4 92.1h1.1M77.7 66.3h1.1M101.6 103.3h1.1M100.4 64.7h1.1M53.4 46.2h1.1M79.8 59.7h1.1M94.9 63.4h1.1M83.4 106.3h1.1M86.1 73.7h1.1M76.4 94.8h1.1M94.9 120.7h1.1M73.7 44.9h1.1M62.2 77.1h1.1M61.5 100.0h1.1M93.3 97.5h1.1M57.9 39.0h1.1M99.9 98.5h1.1M94.4 59.6h1.1M113.3 84.2h1.1M71.8 63.3h1.1M73.1 110.0h1.1M70.6 77.0h1.1M63.0 40.1h1.1M105.0 95.3h1.1M62.2 39.3h1.1M105.4 62.2h1.1M116.1 96.9h1.1M62.2 96.3h1.1M55.7 43.7h1.1M96.9 85.4h1.1M96.2 57.8h1.1M76.3 90.5h1.1M80.4 58.1h1.1M94.9 68.9h1.1M64.3 101.4h1.1M65.0 84.4h1.1M66.5 52.8h1.1M97.8 86.7h1.1M69.0 79.0h1.1M80.8 37.4h1.1M74.3 68.6h1.1M107.6 98.1h1.1M109.8 93.7h1.1M69.1 36.7h1.1M73.9 77.5h1.1M53.5 97.2h1.1M96.6 105.4h1.1M55.9 48.4h1.1M109.7 103.8h1.1M76.0 99.4h1.1M38.4 61.1h1.1M106.3 66.3h1.1M105.4 94.3h1.1M96.2 84.6h1.1M63.1 64.7h1.1M88.2 86.6h1.1M53.6 97.9h1.1M101.7 74.8h1.1M115.9 92.1h1.1M63.3 43.0h1.1M65.3 100.8h1.1M68.1 51.9h1.1M67.3 79.6h1.1M66.9 88.2h1.1M85.0 71.8h1.1M82.8 53.9h1.1M52.4 50.7h1.1M52.6 58.8h1.1M65.0 33.5h1.1M69.3 102.4h1.1M55.2 50.7h1.1M113.3 101.3h1.1M76.4 117.1h1.1M64.7 34.5h1.1M88.7 93.8h1.1M105.5 102.7h1.1M96.1 82.9h1.1M76.8 119.3h1.1M76.7 53.3h1.1M61.7 57.7h1.1M58.2 63.5h1.1M71.8 82.1h1.1M73.0 76.4h1.1M51.2 68.0h1.1M101.5 112.9h1.1M57.6 69.4h1.1M108.8 104.5h1.1M73.4 100.3h1.1M101.4 117.4h1.1M102.5 63.9h1.1M108.0 104.9h1.1M104.5 65.8h1.1M105.2 110.5h1.1M63.9 84.6h1.1M110.8 93.8h1.1M56.6 71.2h1.1M87.8 84.9h1.1M81.0 81.2h1.1M85.1 41.2h1.1M58.8 61.0h1.1M112.6 94.1h1.1M77.2 117.1h1.1M59.9 98.8h1.1M104.8 75.3h1.1M79.0 60.0h1.1M109.4 89.7h1.1M104.3 96.2h1.1M63.3 55.8h1.1M94.5 89.3h1.1M71.4 107.1h1.1M106.8 95.7h1.1M90.0 117.6h1.1M50.6 69.0h1.1M97.0 94.7h1.1M58.2 50.4h1.1M67.3 44.2h1.1M39.0 87.4h1.1M74.0 75.3h1.1M68.9 34.2h1.1M74.8 114.8h1.1M66.6 104.0h1.1M75.6 109.7h1.1M71.8 87.3h1.1M93.9 76.1h1.1M90.5 84.1h1.1M66.9 112.9h1.1M66.6 96.4h1.1M66.9 76.3h1.1M56.0 66.6h1.1M64.4 35.6h1.1M36.9 45.2h1.1M89.5 84.7h1.1M59.8 101.0h1.1M107.0 113.1h1.1M63.2 79.7h1.1M75.6 31.7h1.1M78.0 93.4h1.1M93.3 77.1h1.1M64.1 36.6h1.1M80.3 35.0h1.1M84.3 57.3h1.1M105.8 74.7h1.1M69.9 102.4h1.1M89.6 116.6h1.1M98.9 97.1h1.1M65.1 75.9h1.1M68.8 114.1h1.1M65.5 33.4h1.1M91.9 97.1h1.1M84.9 97.2h1.1M71.2 57.1h1.1M79.7 43.7h1.1M81.8 92.8h1.1M105.1 107.1h1.1M75.8 40.5h1.1M72.8 59.8h1.1M87.7 42.1h1.1M72.7 80.3h1.1M113.0 103.5h1.1M91.6 83.2h1.1M86.0 41.9h1.1M68.1 75.5h1.1M67.7 94.1h1.1M74.9 117.6h1.1M64.1 79.1h1.1M81.6 55.4h1.1M71.2 71.2h1.1M81.3 53.2h1.1M102.2 79.4h1.1M91.2 107.3h1.1M86.2 40.4h1.1M65.5 55.5h1.1M94.5 105.3h1.1M73.1 50.4h1.1M112.4 86.6h1.1M110.0 89.5h1.1M85.5 78.5h1.1M83.7 114.4h1.1M93.8 58.6h1.1M110.9 113.5h1.1M83.8 60.6h1.1M97.2 61.1h1.1M67.2 82.6h1.1M96.4 117.6h1.1M76.9 67.0h1.1M80.0 36.5h1.1M94.1 107.8h1.1M103.5 64.4h1.1M49.8 60.4h1.1M85.3 77.4h1.1M107.0 99.0h1.1M79.1 91.9h1.1M90.7 107.5h1.1M92.7 110.5h1.1M47.9 51.4h1.1M61.0 94.7h1.1M91.4 111.7h1.1M78.1 68.4h1.1M61.3 51.6h1.1M91.1 115.6h1.1M49.9 57.1h1.1M82.2 98.2h1.1M94.7 58.3h1.1M87.8 67.9h1.1M103.9 109.8h1.1M93.6 116.0h1.1M103.5 95.5h1.1M81.3 75.5h1.1M38.5 88.5h1.1M61.5 43.5h1.1M75.5 118.3h1.1M34.9 63.3h1.1M112.0 73.7h1.1M62.0 100.2h1.1M93.3 94.3h1.1M86.7 118.2h1.1M112.5 72.7h1.1M99.5 84.8h1.1M110.9 102.8h1.1M98.6 96.2h1.1M94.2 59.0h1.1M90.9 58.8h1.1M67.0 83.7h1.1M105.4 106.2h1.1M77.5 68.6h1.1M63.1 90.5h1.1M96.5 68.2h1.1M52.6 97.5h1.1M77.3 105.9h1.1M79.5 53.4h1.1M92.9 61.1h1.1M110.3 88.4h1.1M101.1 104.2h1.1M88.3 96.3h1.1M87.5 89.4h1.1M76.8 94.8h1.1M52.8 95.7h1.1M91.6 66.2h1.1M108.6 117.2h1.1M105.0 110.0h1.1M50.3 56.0h1.1M117.9 83.5h1.1M77.7 79.3h1.1M93.2 96.4h1.1M86.2 83.0h1.1M63.7 95.4h1.1M86.4 39.3h1.1M96.2 88.6h1.1M67.4 34.5h1.1M106.1 105.4h1.1M62.3 75.9h1.1M67.1 91.5h1.1M73.2 31.8h1.1M79.3 94.5h1.1M80.0 113.5h1.1M86.2 55.2h1.1M49.8 66.7h1.1M65.7 97.1h1.1M114.6 98.2h1.1M85.9 76.9h1.1M86.1 107.5h1.1M110.8 65.9h1.1M82.0 81.6h1.1M79.2 93.1h1.1M89.0 40.4h1.1M84.8 44.6h1.1M69.5 35.0h1.1M114.9 85.5h1.1M68.2 91.3h1.1M79.7 54.1h1.1M64.1 40.3h1.1" stroke="#c0c0c0"/></g><g stroke-width="1.2" fill="none" filter="url(#halo)"><path d="M26.0 57.2h1.2M33.7 62.1h1.2M25.8 62.2h1.2M34.7 62.6h1.2M32.8 62.7h1.2M25.7 60.2h1.2M30.3 59.8h1.2M29.5 60.1h1.2M32.0 60.9h1.2M26.1 59.2h1.2M25.3 61.3h1.2M31.5 66.6h1.2M25.7 58.3h1.2M29.3 59.5h1.2M25.3 57.1h1.2M30.9 60.8h1.2M26.9 62.7h1.2" stroke="#4fa84f"/><path d="M33.5 47.9h1.2M26.9 54.9h1.2M28.8 55.9h1.2M34.8 45.2h1.2M22.0 50.5h1.2M25.7 55.1h1.2M34.3 47.1h1.2M26.1 50.5h1.2M24.2 49.4h1.2M28.0 55.1h1.2M26.1 56.1h1.2M26.4 48.6h1.2M28.7 50.6h1.2M28.3 49.5h1.2M26.6 51.5h1.2M22.0 51.6h1.2M32.5 48.5h1.2M37.0 51.9h1.2M25.1 53.8h1.2M30.0 54.8h1.2M34.0 45.9h1.2M28.9 54.4h1.2M25.1 54.9h1.2M27.4 52.9h1.2M27.2 49.4h1.2M35.0 45.3h1.2M28.0 53.8h1.2M34.3 46.1h1.2M26.0 55.5h1.2M25.5 53.1h1.2M35.0 46.3h1.2M25.1 50.1h1.2M26.4 52.4h1.2M22.5 48.4h1.2M25.6 55.0h1.2M27.6 56.4h1.2M22.0 49.4h1.2" stroke="#ef8a3c"/><path d="M32.8 81.1h1.2M32.3 80.1h1.2M28.7 76.2h1.2M43.9 70.0h1.2M36.1 79.0h1.2M44.9 69.4h1.2M30.2 81.4h1.2M44.1 72.2h1.2M39.6 73.6h1.2M28.8 76.8h1.2M38.4 82.5h1.2M35.7 82.2h1.2M40.1 66.5h1.2M38.4 80.1h1.2M39.5 70.0h1.2M32.1 67.5h1.2M40.6 70.4h1.2M31.0 77.5h1.2M28.7 79.4h1.2M38.3 78.8h1.2M42.3 69.5h1.2M38.4 89.6h1.2M47.0 70.8h1.2M42.9 67.6h1.2M41.7 70.4h1.2M38.3 75.4h1.2M37.6 83.3h1.2M36.0 74.2h1.2M31.0 82.5h1.2M40.5 69.2h1.2M31.7 79.7h1.2M39.1 78.0h1.2M33.8 82.0h1.2M46.9 73.0h1.2M43.5 68.5h1.2M31.8 78.2h1.2M46.6 69.8h1.2M35.7 65.3h1.2M36.2 93.0h1.2M36.8 82.5h1.2M28.3 70.7h1.2M41.2 67.0h1.2M40.8 68.0h1.2M36.7 66.0h1.2M40.7 65.5h1.2M42.7 70.8h1.2M39.8 70.1h1.2M38.3 90.3h1.2M32.7 74.5h1.2M36.0 87.5h1.2M30.9 80.5h1.2" stroke="#e04848"/><path d="M53.8 83.7h1.2M50.0 80.3h1.2M43.0 92.9h1.2M66.1 115.7h1.2M43.6 89.9h1.2M52.5 89.1h1.2M59.6 104.1h1.2M55.8 84.6h1.2M44.4 88.1h1.2M49.4 78.3h1.2M64.4 108.1h1.2M49.1 77.0h1.2M40.9 92.5h1.2M42.7 93.7h1.2M57.0 84.5h1.2M65.8 116.8h1.2M65.0 111.2h1.2M66.1 114.5h1.2M54.5 83.4h1.2M56.6 89.8h1.2M53.6 84.1h1.2M42.5 83.7h1.2M44.5 89.2h1.2M50.1 73.6h1.2M41.8 93.1h1.2M50.2 91.4h1.2M49.2 94.0h1.2M44.7 78.8h1.2M64.6 110.1h1.2M44.3 77.8h1.2M42.0 92.6h1.2M45.4 79.7h1.2M62.8 109.1h1.2M50.6 78.4h1.2M65.5 113.2h1.2M43.6 83.4h1.2M44.1 83.1h1.2" stroke="#40bccc"/><path d="M46.1 58.6h1.2M48.7 59.8h1.2M47.9 59.1h1.2M42.9 61.7h1.2M42.5 63.9h1.2M46.3 65.1h1.2M45.0 61.7h1.2M47.3 58.1h1.2M41.5 59.4h1.2M40.7 57.9h1.2M45.7 60.6h1.2M42.6 59.6h1.2M47.9 63.2h1.2M43.1 60.6h1.2M44.0 57.8h1.2M39.8 58.6h1.2M42.6 56.6h1.2M41.8 57.7h1.2M43.5 63.3h1.2M45.1 58.1h1.2M46.1 61.6h1.2M47.1 59.2h1.2M43.3 60.0h1.2M43.0 57.7h1.2M44.5 63.9h1.2" stroke="#3070b8"/></g><path d="M19.8 25.0V127.2H122.5V25.0Z" stroke="#8c8c8c" stroke-width="0.9" fill="none"/><path d="M19.8 25.0h-2.2M19.8 127.2v2.2M19.8 31.4h-2.2M26.2 127.2v2.2M19.8 37.8h-2.2M32.6 127.2v2.2M19.8 44.2h-2.2M39.1 127.2v2.2M19.8 50.5h-2.2M45.5 127.2v2.2M19.8 56.9h-2.2M51.9 127.2v2.2M19.8 63.3h-2.2M58.3 127.2v2.2M19.8 69.7h-2.2M64.7 127.2v2.2M19.8 76.1h-2.2M71.2 127.2v2.2M19.8 82.5h-2.2M77.6 127.2v2.2M19.8 88.9h-2.2M84.0 127.2v2.2M19.8 95.3h-2.2M90.4 127.2v2.2M19.8 101.7h-2.2M96.8 127.2v2.2M19.8 108.0h-2.2M103.2 127.2v2.2M19.8 114.4h-2.2M109.7 127.2v2.2M19.8 120.8h-2.2M116.1 127.2v2.2M19.8 127.2h-2.2M122.5 127.2v2.2" stroke="#999" stroke-width="0.6" fill="none"/><text x="120.2" y="33.9" font-size="8.00" text-anchor="end" font-weight="normal" fill="#1a1a1a" stroke="#1a1a1a" stroke-width="0.12" textLength="32.6" lengthAdjust="spacingAndGlyphs">All events</text><circle cx="26.1" cy="40.9" r="3.2" fill="#fff" fill-opacity="0.7" stroke="#2a2a2a" stroke-width="0.9"/><text x="26.1" y="42.8" font-size="5.30" text-anchor="middle" font-weight="normal" fill="#333" stroke="#333" stroke-width="0.15">1</text><circle cx="29.0" cy="60.6" r="3.2" fill="#fff" fill-opacity="0.7" stroke="#2a2a2a" stroke-width="0.9"/><text x="29.0" y="62.5" font-size="5.30" text-anchor="middle" font-weight="normal" fill="#333" stroke="#333" stroke-width="0.15">2</text><circle cx="48.0" cy="62.5" r="3.2" fill="#fff" fill-opacity="0.7" stroke="#2a2a2a" stroke-width="0.9"/><text x="48.0" y="64.4" font-size="5.30" text-anchor="middle" font-weight="normal" fill="#333" stroke="#333" stroke-width="0.15">3</text><circle cx="34.3" cy="75.9" r="3.2" fill="#fff" fill-opacity="0.7" stroke="#2a2a2a" stroke-width="0.9"/><text x="34.3" y="77.8" font-size="5.30" text-anchor="middle" font-weight="normal" fill="#333" stroke="#333" stroke-width="0.15">4</text><circle cx="46.4" cy="89.6" r="3.2" fill="#fff" fill-opacity="0.7" stroke="#2a2a2a" stroke-width="0.9"/><text x="46.4" y="91.5" font-size="5.30" text-anchor="middle" font-weight="normal" fill="#333" stroke="#333" stroke-width="0.15">5</text><circle cx="80.8" cy="86.5" r="3.2" fill="#fff" fill-opacity="0.7" stroke="#2a2a2a" stroke-width="0.9"/><text x="80.8" y="88.4" font-size="5.30" text-anchor="middle" font-weight="normal" fill="#333" stroke="#333" stroke-width="0.15">6</text><g stroke-width="1.1" fill="none" filter="url(#halo)"><path d="M205.0 110.5h1.1M179.1 83.5h1.1M197.1 54.8h1.1M182.9 74.8h1.1M179.8 48.2h1.1M178.8 74.9h1.1M184.8 67.6h1.1M193.3 49.1h1.1M186.5 43.0h1.1M203.9 61.1h1.1M190.9 36.1h1.1M197.3 54.8h1.1M216.9 74.9h1.1M189.0 46.1h1.1M182.3 59.7h1.1M200.7 116.6h1.1M194.9 36.1h1.1M183.4 37.0h1.1M222.1 77.6h1.1M183.4 100.1h1.1M196.3 41.5h1.1M193.4 53.0h1.1M190.9 39.6h1.1M197.4 41.7h1.1M186.6 69.0h1.1M169.7 65.7h1.1M200.7 107.9h1.1M193.8 52.5h1.1M222.6 90.4h1.1M186.6 113.8h1.1M174.2 70.3h1.1M187.6 98.8h1.1M200.7 108.3h1.1M187.1 65.5h1.1M179.1 41.9h1.1M187.4 34.1h1.1M187.9 99.9h1.1M194.4 41.4h1.1M198.5 79.1h1.1M191.6 85.1h1.1M195.5 50.1h1.1M182.0 85.5h1.1M200.4 117.7h1.1M189.1 107.4h1.1M196.0 66.7h1.1M182.5 82.3h1.1M192.0 77.3h1.1M198.7 53.4h1.1M191.1 64.2h1.1M190.0 30.8h1.1M188.3 36.7h1.1M194.1 92.2h1.1M188.0 113.0h1.1M183.7 92.7h1.1M184.5 74.0h1.1M184.7 106.9h1.1M198.0 46.4h1.1M182.2 57.7h1.1M175.5 89.2h1.1M178.4 41.4h1.1M189.8 111.7h1.1M178.2 71.3h1.1M193.1 29.5h1.1M177.7 42.2h1.1M185.7 65.6h1.1M189.7 43.0h1.1M202.9 79.4h1.1M183.9 99.1h1.1M191.4 79.5h1.1M187.4 110.1h1.1M191.2 54.2h1.1M188.4 94.3h1.1M178.9 79.4h1.1M198.8 78.0h1.1M191.4 99.1h1.1M197.0 64.6h1.1M182.9 39.9h1.1M184.9 42.7h1.1M194.3 71.3h1.1M184.4 105.9h1.1M186.7 88.7h1.1M196.3 50.9h1.1M193.3 47.0h1.1M188.2 50.9h1.1M167.3 73.5h1.1M198.4 111.9h1.1M183.2 68.7h1.1M212.6 101.0h1.1M190.8 81.6h1.1M199.5 87.6h1.1M177.2 74.6h1.1M173.9 58.5h1.1M186.7 85.6h1.1M201.4 57.8h1.1M193.8 44.2h1.1M175.9 83.6h1.1M173.2 61.0h1.1M197.1 66.7h1.1M192.2 116.2h1.1M206.8 109.9h1.1M197.6 46.0h1.1M187.1 112.2h1.1M188.6 102.8h1.1M184.5 36.8h1.1M192.7 46.0h1.1M176.8 87.2h1.1M182.8 62.8h1.1M185.4 36.2h1.1M186.0 110.7h1.1M186.1 34.9h1.1M181.9 39.6h1.1M200.4 113.9h1.1M201.8 108.3h1.1M194.8 42.8h1.1M184.0 58.0h1.1M184.4 35.7h1.1M190.9 46.8h1.1M188.6 114.2h1.1M178.5 38.0h1.1M177.3 82.1h1.1M192.3 54.0h1.1M179.7 43.8h1.1M197.4 42.1h1.1M198.7 56.5h1.1M194.2 69.7h1.1M189.6 109.9h1.1M181.4 39.6h1.1M187.5 101.8h1.1M195.7 44.8h1.1M184.0 48.8h1.1M203.8 111.1h1.1M185.9 93.2h1.1M184.0 40.2h1.1M181.0 96.4h1.1M208.2 110.3h1.1M174.7 47.9h1.1M194.7 99.0h1.1M188.3 88.5h1.1M180.7 49.7h1.1M176.4 42.9h1.1M179.9 65.9h1.1M170.9 45.0h1.1M188.5 109.7h1.1M174.8 88.7h1.1M183.7 38.7h1.1M192.5 35.3h1.1M187.1 48.1h1.1M197.1 110.7h1.1M192.5 95.4h1.1M206.0 110.0h1.1M197.6 93.7h1.1M179.8 85.4h1.1M198.7 105.3h1.1M180.7 58.9h1.1M198.9 41.3h1.1M181.6 74.7h1.1M179.5 71.1h1.1M182.9 84.8h1.1M181.6 41.7h1.1M208.8 94.9h1.1M197.6 53.5h1.1M194.6 36.1h1.1M195.2 106.0h1.1M215.2 95.7h1.1M177.3 75.7h1.1M188.8 106.1h1.1M189.8 36.6h1.1M189.3 41.9h1.1M187.5 58.3h1.1M197.3 89.7h1.1M193.0 48.0h1.1M183.4 44.2h1.1M183.0 39.7h1.1M193.5 118.7h1.1M196.3 106.3h1.1M185.1 39.9h1.1M192.5 59.0h1.1M186.0 47.9h1.1M201.9 109.8h1.1M190.3 73.1h1.1M174.0 70.4h1.1M190.9 111.3h1.1M195.4 45.3h1.1M186.1 94.9h1.1M188.9 112.3h1.1M185.4 48.1h1.1M204.5 110.3h1.1M192.0 63.3h1.1M191.2 100.2h1.1M187.7 49.8h1.1M180.2 40.2h1.1M174.7 78.8h1.1M193.5 78.7h1.1M179.8 51.8h1.1M184.7 60.2h1.1M175.2 81.2h1.1M195.8 42.3h1.1M188.5 93.5h1.1M190.6 106.3h1.1M178.2 59.7h1.1M181.7 34.9h1.1M189.9 49.4h1.1M207.0 111.0h1.1M189.6 44.4h1.1M178.7 91.9h1.1M187.4 57.5h1.1M199.2 80.0h1.1M174.7 59.4h1.1M186.9 110.3h1.1M188.6 102.1h1.1M191.5 120.6h1.1M202.3 106.1h1.1M190.9 49.0h1.1M190.3 65.0h1.1M199.4 89.2h1.1M184.8 92.9h1.1M184.9 48.1h1.1M189.6 48.5h1.1M180.4 35.5h1.1M194.0 35.9h1.1M192.9 50.6h1.1M175.7 78.4h1.1M197.2 47.0h1.1M187.7 102.8h1.1M184.9 77.9h1.1M186.6 58.9h1.1M206.9 109.4h1.1M180.0 42.7h1.1M183.6 59.9h1.1M196.0 84.6h1.1M191.2 116.7h1.1M192.3 80.0h1.1M187.8 95.1h1.1M191.0 38.5h1.1M185.6 36.2h1.1M179.8 91.8h1.1M197.3 79.7h1.1M181.7 50.2h1.1M175.6 48.5h1.1M186.8 70.3h1.1M192.9 72.8h1.1M197.7 47.5h1.1M196.3 113.4h1.1M186.0 42.4h1.1M193.4 71.8h1.1M198.9 45.7h1.1M197.9 103.7h1.1M193.8 99.5h1.1M182.7 51.9h1.1M181.8 71.7h1.1M179.7 76.9h1.1M199.1 39.3h1.1M187.7 96.3h1.1M205.2 104.3h1.1M199.4 113.4h1.1M188.3 116.0h1.1M183.5 98.0h1.1M191.7 49.4h1.1M191.9 72.2h1.1M197.1 32.8h1.1M192.3 78.8h1.1M194.8 57.2h1.1M185.4 37.3h1.1M192.5 95.5h1.1M189.6 33.5h1.1M189.4 88.3h1.1M198.5 108.7h1.1M195.3 38.4h1.1M189.0 47.5h1.1M191.7 49.8h1.1M190.7 90.0h1.1M183.4 69.8h1.1M200.2 31.6h1.1M203.5 112.2h1.1M186.8 64.4h1.1M192.4 118.1h1.1M195.0 71.8h1.1M199.9 78.0h1.1M206.0 103.5h1.1M192.7 110.6h1.1M173.6 51.8h1.1M179.7 52.9h1.1M183.0 83.7h1.1M179.7 46.8h1.1M197.4 109.0h1.1M198.1 40.0h1.1M182.2 83.0h1.1M193.6 35.5h1.1M218.5 98.6h1.1M188.3 46.2h1.1M195.4 63.2h1.1M179.3 71.1h1.1M175.6 70.0h1.1M192.1 57.9h1.1M176.7 73.6h1.1M188.4 94.1h1.1M180.7 54.8h1.1M173.6 47.9h1.1M189.0 37.7h1.1M186.9 67.4h1.1M200.8 85.7h1.1M187.9 67.0h1.1M191.3 61.4h1.1M187.2 88.9h1.1M183.0 37.3h1.1M184.3 46.5h1.1M189.8 33.1h1.1M197.3 71.7h1.1M193.9 92.8h1.1M192.4 81.1h1.1M195.0 114.0h1.1M195.1 89.2h1.1M182.6 70.2h1.1M199.0 119.4h1.1M190.2 51.4h1.1M182.3 44.5h1.1M194.2 47.3h1.1M182.3 68.0h1.1M192.6 117.3h1.1M191.2 72.4h1.1M188.3 45.1h1.1M175.9 64.8h1.1M196.7 48.0h1.1M185.3 80.1h1.1M192.7 119.3h1.1M182.2 40.8h1.1M195.3 92.5h1.1M197.2 52.9h1.1M187.9 45.7h1.1M199.0 66.4h1.1M186.6 44.1h1.1M175.9 75.0h1.1M168.1 74.2h1.1M194.5 38.5h1.1M177.4 76.8h1.1M192.1 108.0h1.1M191.7 119.5h1.1M198.4 37.9h1.1M186.0 46.3h1.1M188.9 49.8h1.1M183.4 74.4h1.1M195.0 92.8h1.1M181.2 44.8h1.1M188.0 99.5h1.1M176.0 63.6h1.1M189.0 91.4h1.1M180.6 81.9h1.1M197.2 94.8h1.1M188.0 34.6h1.1M187.0 96.5h1.1M196.5 52.0h1.1M190.2 44.0h1.1M177.4 41.5h1.1M173.4 69.6h1.1M182.7 74.6h1.1M191.6 118.8h1.1M189.8 90.7h1.1M194.6 45.1h1.1M187.7 65.8h1.1M177.7 77.7h1.1M194.1 30.0h1.1M192.5 113.5h1.1M185.2 57.7h1.1M194.2 46.3h1.1M198.0 111.4h1.1M176.6 72.2h1.1M190.3 40.6h1.1M193.7 53.7h1.1M190.7 80.5h1.1M180.1 52.8h1.1M196.5 53.8h1.1M198.3 41.1h1.1M192.0 61.6h1.1M194.5 104.2h1.1M182.3 73.9h1.1M201.9 107.5h1.1M182.2 81.3h1.1M182.2 99.0h1.1M195.4 36.9h1.1M190.5 85.0h1.1M179.0 52.6h1.1M202.6 110.3h1.1M183.1 93.6h1.1M187.5 75.8h1.1M192.7 117.4h1.1M196.9 41.9h1.1M188.9 72.7h1.1M194.5 70.8h1.1M194.6 91.9h1.1M205.2 108.2h1.1M194.5 80.5h1.1M193.9 42.3h1.1M188.4 39.8h1.1M201.7 110.9h1.1M198.5 39.1h1.1M193.4 54.0h1.1M195.2 30.1h1.1M181.9 80.8h1.1M189.2 48.7h1.1M187.9 70.7h1.1M189.8 44.7h1.1M186.7 65.2h1.1M199.0 58.7h1.1M191.4 114.7h1.1M187.9 36.5h1.1M182.1 83.4h1.1M189.7 38.1h1.1M190.4 79.0h1.1M178.4 41.8h1.1M197.4 106.4h1.1M195.4 46.4h1.1M199.3 51.0h1.1M186.2 80.7h1.1M184.6 78.9h1.1M193.6 112.5h1.1M190.0 64.8h1.1M183.1 34.2h1.1M171.2 65.9h1.1M177.9 52.8h1.1M184.8 74.1h1.1M198.3 56.0h1.1M192.8 110.9h1.1M183.8 51.1h1.1M196.7 34.8h1.1M197.1 104.8h1.1M187.5 97.4h1.1M175.0 58.2h1.1M190.9 63.6h1.1M189.7 114.0h1.1M176.9 83.1h1.1M192.9 96.6h1.1M186.9 37.6h1.1M188.2 105.3h1.1M174.5 67.7h1.1M202.7 117.3h1.1M188.1 44.4h1.1M190.1 99.2h1.1M186.9 100.4h1.1M182.6 59.5h1.1M183.5 37.6h1.1M181.6 36.5h1.1M183.5 70.8h1.1M193.7 43.1h1.1M172.8 50.0h1.1M182.8 50.6h1.1M187.7 35.7h1.1M189.6 41.5h1.1M198.0 67.5h1.1M171.3 46.0h1.1M197.9 64.0h1.1M186.4 62.4h1.1M179.2 49.9h1.1M190.2 83.0h1.1M188.0 60.7h1.1M210.2 89.9h1.1M195.4 59.1h1.1M179.2 40.7h1.1M175.8 69.1h1.1M180.8 51.9h1.1M193.1 64.5h1.1M175.1 90.9h1.1M174.2 46.8h1.1M186.5 50.4h1.1M182.7 48.5h1.1M197.0 91.9h1.1M196.2 79.5h1.1M186.3 38.5h1.1M200.0 119.4h1.1M194.1 31.9h1.1M190.5 98.5h1.1M186.8 86.7h1.1M192.3 76.2h1.1M193.6 110.0h1.1M200.7 46.9h1.1M190.4 104.5h1.1M187.3 44.8h1.1M199.2 44.1h1.1M199.1 118.8h1.1M196.6 80.7h1.1M189.8 34.2h1.1M181.3 47.6h1.1M178.6 36.9h1.1M180.7 45.8h1.1M189.7 51.8h1.1M184.8 102.6h1.1M188.4 95.4h1.1M185.8 80.2h1.1M187.2 63.3h1.1M193.4 58.4h1.1M178.4 39.1h1.1M186.4 87.6h1.1M192.0 62.3h1.1M181.0 80.1h1.1M185.7 68.3h1.1M185.9 109.9h1.1M198.2 109.7h1.1M196.0 110.5h1.1M190.4 41.5h1.1M193.5 36.6h1.1M195.1 66.0h1.1M180.8 35.7h1.1M193.9 93.7h1.1M186.1 46.5h1.1M186.5 87.9h1.1M199.4 80.4h1.1M189.2 34.7h1.1M188.0 37.3h1.1M182.8 58.7h1.1M207.5 108.3h1.1M196.9 43.1h1.1M195.2 113.3h1.1M189.3 115.1h1.1M192.9 51.7h1.1M175.8 87.6h1.1M192.9 114.6h1.1M183.3 113.4h1.1M179.1 40.6h1.1M180.0 57.8h1.1M185.3 111.5h1.1M189.9 87.1h1.1M209.7 106.2h1.1M198.1 41.3h1.1M179.4 70.5h1.1M192.3 98.4h1.1M183.9 108.9h1.1M190.7 78.7h1.1M184.2 81.6h1.1M188.6 48.3h1.1M194.4 55.8h1.1M184.5 113.0h1.1M186.8 81.7h1.1M194.4 42.2h1.1M185.0 57.5h1.1M199.8 33.5h1.1M183.0 104.1h1.1M185.7 41.4h1.1M179.0 71.5h1.1M185.1 45.9h1.1M197.1 44.6h1.1M191.1 81.6h1.1M182.8 78.3h1.1M186.7 53.4h1.1M194.2 92.6h1.1M187.4 42.5h1.1M190.0 79.5h1.1M191.4 40.9h1.1M185.0 52.3h1.1M191.4 107.1h1.1M190.1 117.8h1.1M188.2 46.2h1.1M201.9 78.9h1.1M185.8 67.1h1.1M202.9 107.5h1.1M192.9 38.5h1.1M174.9 69.7h1.1M193.9 45.4h1.1M192.4 56.8h1.1M188.9 37.2h1.1M186.4 104.2h1.1M214.6 90.4h1.1M183.6 59.8h1.1M190.3 112.0h1.1M191.9 60.4h1.1M188.8 100.3h1.1M193.2 32.6h1.1M192.9 39.2h1.1M188.8 62.4h1.1M184.4 112.2h1.1M179.6 93.4h1.1M186.5 44.0h1.1M190.3 117.0h1.1M201.6 116.9h1.1M202.5 41.4h1.1M186.0 41.3h1.1M189.7 59.9h1.1M181.9 37.2h1.1M189.4 75.1h1.1M196.4 44.7h1.1M192.0 71.6h1.1M178.1 48.4h1.1M184.0 39.0h1.1M201.5 113.8h1.1M156.2 63.1h1.1M188.7 99.7h1.1M198.1 41.7h1.1M175.4 69.3h1.1M185.8 42.1h1.1M193.9 100.2h1.1M175.9 44.8h1.1M184.1 47.6h1.1M188.4 71.7h1.1M191.7 112.1h1.1M193.7 39.3h1.1M186.0 57.0h1.1M187.7 34.7h1.1M194.3 106.7h1.1M190.3 60.9h1.1M181.1 55.8h1.1M190.2 82.3h1.1M191.4 89.1h1.1M180.0 82.8h1.1M190.1 53.9h1.1M188.5 102.0h1.1M185.1 38.9h1.1M175.5 68.2h1.1M193.2 43.2h1.1M190.5 115.3h1.1M218.6 74.7h1.1M193.8 37.7h1.1M189.5 48.5h1.1M182.9 38.7h1.1M194.0 111.4h1.1M186.3 57.4h1.1M186.8 56.2h1.1M193.7 51.3h1.1M183.5 101.2h1.1M191.3 82.6h1.1M193.0 44.3h1.1M189.3 116.6h1.1M192.0 29.7h1.1M174.7 62.1h1.1M182.3 40.1h1.1M193.5 40.9h1.1M197.8 43.9h1.1M181.5 82.2h1.1M189.5 98.0h1.1M203.0 110.3h1.1M175.2 63.9h1.1M198.3 110.8h1.1M180.6 64.0h1.1M191.3 107.6h1.1M195.8 91.6h1.1M180.4 70.9h1.1M189.2 61.3h1.1M189.3 73.6h1.1M188.1 106.9h1.1M194.3 117.3h1.1M174.5 63.2h1.1M173.5 49.6h1.1M188.7 34.1h1.1M187.2 94.8h1.1M192.4 118.6h1.1M190.1 47.5h1.1M185.7 45.2h1.1M188.8 100.9h1.1M195.5 80.9h1.1M183.3 49.6h1.1M186.3 42.7h1.1M175.2 70.9h1.1M187.5 82.5h1.1M183.6 105.0h1.1M174.5 76.5h1.1M183.4 39.8h1.1M177.3 95.9h1.1M192.1 30.3h1.1M199.2 40.4h1.1M192.4 114.3h1.1M183.7 70.9h1.1M186.9 36.9h1.1M197.1 114.2h1.1M178.7 41.7h1.1M179.9 45.7h1.1M173.9 50.7h1.1M192.0 64.9h1.1M181.1 57.9h1.1M189.3 101.3h1.1M192.5 78.3h1.1M201.9 65.3h1.1M186.4 101.4h1.1M189.2 101.9h1.1M195.9 37.8h1.1M175.1 40.0h1.1M192.2 42.3h1.1M198.2 50.9h1.1M198.4 79.7h1.1M202.0 66.4h1.1M186.7 43.3h1.1M187.4 44.2h1.1M182.3 35.7h1.1M180.2 67.0h1.1M189.6 47.9h1.1M192.1 78.9h1.1M199.0 109.0h1.1M189.8 60.4h1.1M184.4 46.9h1.1M178.0 69.5h1.1M188.0 114.9h1.1M190.2 107.7h1.1M191.9 44.9h1.1M177.1 50.2h1.1M188.6 75.9h1.1M189.1 51.5h1.1M183.0 50.8h1.1M179.0 42.7h1.1M191.2 30.4h1.1M201.9 109.9h1.1M189.8 57.8h1.1M188.7 66.3h1.1M185.0 44.3h1.1M188.9 87.2h1.1M163.0 73.7h1.1M175.7 48.5h1.1M178.1 68.4h1.1M188.5 44.2h1.1M200.5 115.5h1.1M189.7 105.4h1.1M207.5 96.1h1.1M195.3 70.7h1.1M193.9 108.9h1.1M186.1 45.1h1.1M190.4 113.1h1.1M193.2 78.6h1.1M185.3 49.2h1.1M183.6 39.1h1.1M189.9 85.9h1.1M186.8 95.4h1.1M198.5 43.3h1.1M182.5 36.3h1.1M189.0 36.7h1.1M190.4 62.7h1.1M194.2 37.7h1.1M188.2 48.3h1.1M183.7 67.7h1.1M207.8 81.7h1.1M195.7 38.6h1.1M199.0 111.9h1.1M178.1 74.0h1.1M178.4 96.1h1.1M212.2 88.9h1.1M193.1 72.3h1.1M181.7 71.0h1.1M186.1 48.7h1.1M185.5 67.2h1.1M183.3 99.2h1.1M183.8 74.6h1.1M177.4 77.9h1.1M201.6 77.8h1.1M190.7 48.9h1.1M199.2 41.5h1.1M195.7 90.2h1.1M186.2 89.3h1.1M178.2 83.7h1.1M197.7 41.1h1.1M190.6 110.2h1.1M200.0 106.4h1.1M193.0 94.9h1.1M190.3 45.1h1.1M189.7 31.3h1.1M188.4 63.4h1.1M189.7 110.1h1.1M179.7 40.2h1.1M179.0 39.4h1.1M187.2 105.0h1.1M189.9 46.1h1.1M181.7 84.5h1.1M183.1 53.0h1.1M190.9 68.7h1.1M197.1 117.1h1.1M186.3 37.9h1.1M192.5 80.0h1.1M185.7 36.9h1.1M172.7 48.6h1.1M205.7 97.3h1.1M200.4 44.2h1.1M188.1 65.9h1.1M192.6 99.4h1.1M179.8 64.8h1.1M185.7 64.2h1.1M183.3 96.0h1.1M180.0 43.2h1.1M196.0 105.1h1.1M189.1 50.9h1.1M200.0 41.2h1.1M187.9 56.4h1.1M181.8 50.4h1.1M172.0 50.8h1.1M193.0 117.1h1.1M180.5 53.8h1.1M193.3 53.4h1.1M174.8 71.9h1.1M176.6 75.2h1.1M174.9 63.6h1.1M183.8 42.8h1.1M188.5 82.2h1.1M168.0 68.1h1.1M200.0 58.3h1.1M193.9 114.3h1.1M190.0 100.3h1.1M178.6 70.5h1.1M195.6 48.2h1.1M195.2 38.2h1.1M205.0 109.3h1.1M194.1 41.2h1.1M181.8 38.5h1.1M193.8 117.1h1.1M195.6 37.2h1.1M188.1 107.1h1.1M191.5 80.6h1.1M192.6 53.5h1.1M167.4 69.1h1.1M192.7 45.6h1.1M190.7 75.4h1.1M195.8 112.4h1.1M185.5 34.4h1.1M189.0 38.3h1.1M192.2 109.7h1.1M180.7 49.9h1.1M175.1 77.4h1.1M186.7 66.9h1.1M179.9 79.8h1.1M192.3 31.9h1.1M194.6 93.4h1.1M180.8 36.8h1.1M186.6 102.4h1.1M182.2 33.5h1.1M187.8 57.2h1.1M197.0 122.2h1.1M196.3 43.8h1.1M198.4 92.9h1.1M201.2 84.7h1.1M176.1 69.1h1.1M192.4 40.7h1.1M202.0 80.0h1.1M198.0 117.8h1.1M189.3 80.4h1.1M188.1 56.1h1.1M186.7 61.3h1.1M193.9 54.8h1.1M208.2 103.2h1.1M191.5 117.6h1.1M192.3 77.7h1.1M189.7 50.5h1.1M193.3 46.6h1.1M200.2 114.4h1.1M183.9 82.6h1.1M181.4 56.9h1.1M173.7 48.5h1.1M181.4 59.6h1.1M196.6 36.6h1.1M195.0 84.1h1.1M195.7 92.0h1.1M182.3 72.7h1.1M207.9 111.7h1.1M181.3 81.7h1.1M185.0 109.3h1.1M182.1 68.0h1.1M193.1 113.5h1.1M193.2 108.2h1.1M197.9 75.6h1.1M178.2 43.7h1.1M181.0 70.0h1.1M192.1 118.3h1.1M187.2 46.3h1.1M189.8 32.4h1.1M197.6 42.8h1.1M193.0 60.0h1.1M180.1 49.3h1.1M181.2 80.9h1.1M188.7 47.1h1.1M189.2 42.4h1.1M193.4 94.9h1.1M189.8 63.7h1.1M194.3 79.4h1.1M190.6 31.5h1.1M184.1 34.6h1.1M179.0 76.0h1.1M194.2 40.3h1.1M193.6 91.6h1.1M199.0 118.3h1.1M199.6 108.6h1.1M188.4 94.6h1.1M184.9 62.1h1.1M186.1 35.2h1.1M180.8 40.5h1.1" stroke="#c0c0c0"/></g><g stroke-width="1.2" fill="none" filter="url(#halo)"><path d="M168.7 82.9h1.2M165.2 79.0h1.2M170.0 85.4h1.2M167.9 91.6h1.2M180.1 108.0h1.2M168.5 87.9h1.2M165.4 76.4h1.2M187.0 110.1h1.2M179.5 102.7h1.2M157.5 76.2h1.2M186.8 111.2h1.2M162.5 81.7h1.2M157.3 82.6h1.2M166.2 81.2h1.2M186.1 103.4h1.2M162.6 75.1h1.2M185.3 103.7h1.2M176.3 104.2h1.2M168.6 91.8h1.2M171.7 84.0h1.2M170.4 84.3h1.2M166.1 75.5h1.2M158.1 90.0h1.2M172.1 80.5h1.2M159.5 80.7h1.2M183.8 112.0h1.2M181.3 99.8h1.2M182.9 100.2h1.2M170.7 82.8h1.2M172.3 87.0h1.2M162.4 82.3h1.2M164.5 73.9h1.2M169.7 82.3h1.2M164.1 77.4h1.2M164.4 82.0h1.2M184.1 109.8h1.2M173.9 86.8h1.2M167.9 87.0h1.2M171.4 83.7h1.2M173.7 84.5h1.2M179.5 100.7h1.2M176.1 96.9h1.2M180.0 106.9h1.2M171.3 83.5h1.2M168.7 81.8h1.2M166.3 86.9h1.2M163.3 75.8h1.2M173.4 89.9h1.2M185.2 110.1h1.2M163.1 76.9h1.2M172.1 85.9h1.2M162.8 74.8h1.2M173.0 86.1h1.2M179.9 105.2h1.2M166.8 87.0h1.2M163.3 81.5h1.2M181.0 111.5h1.2M171.3 90.0h1.2M158.8 81.6h1.2M173.5 87.5h1.2M167.0 95.3h1.2M166.5 74.5h1.2M185.5 113.3h1.2M168.6 89.0h1.2M164.1 78.7h1.2M167.1 91.5h1.2M158.4 82.6h1.2M169.6 83.6h1.2M181.5 109.0h1.2M172.1 82.7h1.2M183.2 104.1h1.2M159.6 76.6h1.2M163.1 79.2h1.2M170.1 81.5h1.2M169.4 91.1h1.2M168.1 76.1h1.2M168.7 75.1h1.2" stroke="#40bccc"/><path d="M145.7 76.3h1.2M148.4 73.3h1.2M146.4 90.1h1.2M144.9 80.5h1.2M152.7 76.2h1.2M149.5 91.0h1.2M146.2 87.2h1.2M153.2 83.7h1.2M145.7 79.5h1.2M149.7 89.4h1.2M152.8 73.2h1.2M150.3 86.3h1.2M147.4 90.5h1.2M147.5 82.5h1.2M145.5 83.6h1.2M150.8 82.0h1.2M147.8 74.2h1.2M146.1 87.1h1.2M151.9 74.7h1.2M151.3 90.9h1.2M148.5 88.0h1.2M150.6 88.4h1.2M149.5 73.3h1.2M150.7 88.4h1.2M147.3 76.9h1.2M150.5 71.2h1.2M147.4 75.7h1.2M148.6 90.4h1.2M147.2 78.0h1.2M146.7 86.8h1.2M149.7 74.6h1.2M149.4 88.3h1.2M145.4 77.4h1.2M147.4 87.1h1.2" stroke="#e04848"/><path d="M142.1 59.9h1.2" stroke="#4fa84f"/></g><path d="M136.9 25.2V127.2H238.7V25.2Z" stroke="#8c8c8c" stroke-width="0.9" fill="none"/><path d="M136.9 25.2h-2.2M136.9 127.2v2.2M136.9 31.6h-2.2M143.3 127.2v2.2M136.9 38.0h-2.2M149.6 127.2v2.2M136.9 44.3h-2.2M156.0 127.2v2.2M136.9 50.7h-2.2M162.3 127.2v2.2M136.9 57.1h-2.2M168.7 127.2v2.2M136.9 63.5h-2.2M175.1 127.2v2.2M136.9 69.8h-2.2M181.4 127.2v2.2M136.9 76.2h-2.2M187.8 127.2v2.2M136.9 82.6h-2.2M194.2 127.2v2.2M136.9 89.0h-2.2M200.5 127.2v2.2M136.9 95.3h-2.2M206.9 127.2v2.2M136.9 101.7h-2.2M213.2 127.2v2.2M136.9 108.1h-2.2M219.6 127.2v2.2M136.9 114.5h-2.2M226.0 127.2v2.2M136.9 120.8h-2.2M232.3 127.2v2.2M136.9 127.2h-2.2M238.7 127.2v2.2" stroke="#999" stroke-width="0.6" fill="none"/><text x="236.5" y="34.4" font-size="8.00" text-anchor="end" font-weight="normal" fill="#1a1a1a" stroke="#1a1a1a" stroke-width="0.12" textLength="46.0" lengthAdjust="spacingAndGlyphs">Non leukemic</text><text x="236.5" y="43.7" font-size="8.00" text-anchor="end" font-weight="normal" fill="#1a1a1a" stroke="#1a1a1a" stroke-width="0.12" textLength="36.3" lengthAdjust="spacingAndGlyphs">2400 cells</text><circle cx="143.5" cy="43.9" r="3.2" fill="#fff" fill-opacity="0.7" stroke="#2a2a2a" stroke-width="0.9"/><text x="143.5" y="45.8" font-size="5.30" text-anchor="middle" font-weight="normal" fill="#333" stroke="#333" stroke-width="0.15">1</text><circle cx="147.5" cy="63.7" r="3.2" fill="#fff" fill-opacity="0.7" stroke="#2a2a2a" stroke-width="0.9"/><text x="147.5" y="65.6" font-size="5.30" text-anchor="middle" font-weight="normal" fill="#333" stroke="#333" stroke-width="0.15">2</text><circle cx="166.0" cy="65.6" r="3.2" fill="#fff" fill-opacity="0.7" stroke="#2a2a2a" stroke-width="0.9"/><text x="166.0" y="67.5" font-size="5.30" text-anchor="middle" font-weight="normal" fill="#333" stroke="#333" stroke-width="0.15">3</text><circle cx="151.5" cy="78.5" r="3.2" fill="#fff" fill-opacity="0.7" stroke="#2a2a2a" stroke-width="0.9"/><text x="151.5" y="80.4" font-size="5.30" text-anchor="middle" font-weight="normal" fill="#333" stroke="#333" stroke-width="0.15">4</text><circle cx="164.7" cy="92.3" r="3.2" fill="#fff" fill-opacity="0.7" stroke="#2a2a2a" stroke-width="0.9"/><text x="164.7" y="94.2" font-size="5.30" text-anchor="middle" font-weight="normal" fill="#333" stroke="#333" stroke-width="0.15">5</text><circle cx="195.0" cy="102.0" r="3.2" fill="#fff" fill-opacity="0.7" stroke="#2a2a2a" stroke-width="0.9"/><text x="195.0" y="103.9" font-size="5.30" text-anchor="middle" font-weight="normal" fill="#333" stroke="#333" stroke-width="0.15">6</text><g stroke-width="1.1" fill="none" filter="url(#halo)"><path d="M324.4 62.5h1.1M304.4 67.7h1.1M299.0 67.6h1.1M317.5 61.1h1.1M317.7 89.8h1.1M329.9 85.0h1.1M312.2 66.2h1.1M318.2 68.1h1.1M324.0 61.5h1.1M341.6 67.6h1.1M300.7 69.0h1.1M340.3 68.2h1.1M293.2 60.0h1.1M325.4 63.1h1.1M320.4 65.9h1.1M331.8 72.9h1.1M326.7 80.0h1.1M320.3 96.9h1.1M309.9 66.7h1.1M305.1 64.2h1.1M300.2 62.9h1.1M332.7 67.6h1.1M298.6 74.0h1.1M318.9 69.6h1.1M311.2 68.6h1.1M309.7 64.2h1.1M312.2 66.9h1.1M307.4 66.2h1.1M335.2 65.6h1.1M327.4 79.1h1.1M318.7 64.4h1.1M320.7 70.2h1.1M308.1 70.1h1.1M314.5 68.8h1.1M316.6 79.4h1.1M312.6 78.0h1.1M315.2 74.4h1.1M320.2 77.2h1.1M317.5 64.4h1.1M311.9 77.1h1.1M310.1 69.0h1.1M308.5 66.3h1.1M324.5 69.2h1.1M324.8 64.2h1.1M311.3 73.7h1.1M319.9 59.4h1.1M312.1 74.4h1.1M326.1 67.3h1.1M332.8 60.8h1.1M320.0 69.4h1.1M287.7 61.0h1.1M311.0 66.7h1.1M310.0 61.1h1.1M308.6 72.2h1.1M323.8 66.7h1.1M287.8 67.4h1.1M316.9 77.0h1.1M325.2 65.2h1.1M316.5 63.9h1.1M324.6 60.9h1.1M332.9 62.8h1.1M325.5 69.1h1.1M319.7 67.8h1.1M326.1 58.8h1.1M307.3 69.3h1.1M324.9 68.1h1.1M327.3 67.8h1.1M318.5 73.4h1.1M332.0 60.1h1.1M317.8 63.8h1.1M312.7 72.6h1.1M296.5 75.0h1.1M318.7 68.8h1.1M322.9 65.1h1.1M311.2 72.4h1.1M321.0 59.5h1.1M324.6 64.7h1.1M318.5 82.8h1.1M332.2 71.8h1.1M333.1 61.9h1.1M306.0 63.3h1.1M318.4 66.1h1.1M330.9 73.5h1.1M323.2 76.6h1.1M323.3 60.2h1.1M327.7 61.2h1.1M316.6 85.2h1.1M316.0 80.0h1.1M304.3 65.0h1.1M331.7 60.8h1.1M318.1 69.2h1.1M322.9 70.5h1.1M315.5 66.4h1.1M325.0 57.7h1.1M315.3 72.8h1.1M311.6 47.5h1.1M335.2 67.5h1.1M317.1 62.1h1.1M318.0 62.7h1.1M319.4 66.4h1.1M296.0 71.7h1.1M315.6 71.7h1.1M335.8 68.1h1.1M305.9 72.2h1.1M311.9 58.4h1.1M306.2 78.8h1.1M327.4 85.9h1.1M328.0 63.4h1.1M294.3 58.8h1.1M321.2 65.3h1.1M317.0 77.7h1.1M327.1 62.2h1.1M314.8 73.3h1.1M310.8 60.8h1.1M303.2 68.9h1.1M320.9 66.0h1.1M325.6 80.3h1.1M302.7 67.8h1.1M293.6 71.1h1.1M339.9 72.9h1.1M314.6 73.7h1.1M303.3 54.8h1.1M305.3 61.4h1.1M341.5 74.9h1.1M319.6 76.3h1.1M331.1 73.9h1.1M311.6 72.7h1.1M315.4 67.8h1.1M314.3 87.9h1.1M324.7 73.0h1.1M323.6 61.2h1.1M321.6 62.0h1.1M311.7 74.5h1.1M325.1 65.3h1.1M321.9 80.8h1.1M313.9 74.5h1.1M314.7 65.8h1.1M309.5 66.3h1.1M319.3 72.8h1.1M313.1 63.9h1.1M328.7 73.9h1.1M333.4 68.0h1.1M311.6 73.4h1.1M332.8 61.0h1.1M323.1 64.0h1.1M331.1 65.5h1.1M318.6 71.3h1.1M330.9 72.6h1.1M302.3 56.8h1.1M325.4 70.4h1.1M342.4 67.6h1.1M319.7 69.1h1.1M325.6 73.6h1.1M321.3 77.5h1.1M326.8 60.9h1.1M317.0 80.4h1.1M317.3 72.2h1.1M332.1 68.5h1.1M321.0 62.9h1.1M320.0 65.1h1.1M315.2 67.3h1.1M300.4 80.7h1.1M304.0 64.8h1.1M312.1 65.8h1.1M315.7 65.4h1.1M320.8 69.1h1.1M302.2 69.4h1.1M326.7 73.7h1.1M314.9 71.3h1.1M325.9 66.1h1.1M310.4 70.8h1.1M322.6 73.5h1.1M328.3 61.8h1.1M317.1 68.8h1.1M322.9 77.7h1.1M330.8 61.3h1.1M311.8 67.5h1.1M328.6 64.5h1.1M324.3 80.1h1.1M307.0 64.5h1.1M327.2 77.6h1.1M320.9 64.1h1.1M321.8 62.2h1.1M307.3 89.6h1.1M332.4 63.8h1.1M331.1 59.5h1.1M325.8 66.2h1.1M306.3 76.2h1.1M324.2 73.9h1.1M319.9 74.9h1.1M315.8 67.5h1.1M323.9 70.2h1.1M322.0 74.2h1.1M312.5 86.7h1.1M314.7 71.0h1.1M311.3 61.8h1.1M328.4 62.4h1.1M326.7 66.8h1.1M299.8 68.3h1.1M315.6 74.1h1.1M303.6 78.6h1.1M342.0 71.7h1.1M332.9 70.9h1.1M325.8 70.1h1.1M309.0 66.0h1.1M316.1 76.3h1.1M310.8 72.7h1.1M324.5 64.7h1.1M307.9 71.7h1.1M326.2 78.2h1.1M322.5 61.4h1.1M321.4 71.0h1.1M308.3 68.6h1.1M322.7 66.5h1.1M303.3 67.8h1.1M330.1 61.8h1.1M315.6 78.9h1.1M300.5 66.4h1.1M319.4 71.7h1.1M322.1 58.7h1.1M306.5 66.9h1.1M309.9 76.9h1.1M331.5 64.5h1.1M303.8 59.9h1.1M328.2 58.8h1.1M323.1 73.9h1.1M314.5 85.4h1.1M304.3 60.9h1.1M317.5 83.3h1.1M310.9 76.5h1.1M329.5 84.0h1.1M328.7 83.2h1.1M316.2 70.3h1.1M320.4 72.3h1.1M322.8 80.1h1.1M318.1 65.3h1.1M319.5 72.9h1.1M326.5 60.6h1.1M309.2 89.0h1.1M329.0 62.6h1.1M308.2 65.3h1.1M303.7 68.4h1.1M325.6 64.6h1.1M294.6 70.9h1.1M288.9 63.2h1.1M318.8 63.5h1.1M319.3 74.0h1.1M314.7 73.6h1.1M324.4 67.1h1.1M327.9 76.8h1.1M319.7 58.3h1.1M327.7 61.6h1.1M319.8 66.7h1.1M318.9 75.4h1.1M312.1 62.5h1.1M331.1 81.9h1.1M306.0 64.9h1.1M310.7 71.6h1.1M314.2 83.2h1.1M321.7 79.4h1.1M325.7 77.2h1.1M310.9 71.9h1.1M314.8 86.4h1.1M287.4 63.1h1.1M318.1 73.0h1.1M325.9 69.4h1.1M308.1 67.5h1.1M339.7 70.1h1.1M321.1 96.1h1.1M315.1 66.4h1.1M322.1 74.4h1.1M314.8 74.5h1.1M328.9 62.7h1.1M335.9 70.8h1.1M316.1 61.5h1.1M331.1 68.9h1.1M323.5 81.7h1.1M297.9 67.7h1.1M321.4 81.7h1.1M327.5 67.7h1.1M312.9 85.7h1.1M299.7 67.2h1.1M315.4 77.8h1.1M333.5 66.9h1.1M303.3 75.5h1.1M328.4 79.6h1.1M309.6 90.2h1.1M322.7 78.8h1.1M316.0 68.7h1.1M329.5 60.5h1.1M332.7 66.5h1.1M308.2 66.4h1.1M310.3 59.9h1.1M315.8 75.2h1.1M324.8 63.6h1.1M331.5 78.2h1.1M312.9 72.7h1.1M312.9 65.0h1.1M310.8 58.3h1.1M321.1 71.5h1.1M323.6 65.3h1.1M327.4 61.1h1.1M314.3 64.7h1.1M304.9 68.7h1.1M313.2 66.6h1.1M314.3 67.7h1.1M315.3 71.9h1.1M322.5 61.3h1.1M327.8 66.6h1.1M319.8 64.3h1.1M303.7 76.5h1.1M326.5 63.1h1.1M319.2 65.3h1.1M327.8 73.4h1.1M334.1 66.0h1.1M321.2 75.9h1.1M333.6 78.6h1.1M312.0 72.1h1.1M323.8 76.2h1.1M321.9 65.7h1.1M299.1 63.2h1.1M316.4 76.2h1.1M309.1 68.8h1.1M316.7 71.3h1.1M290.5 69.1h1.1M315.7 80.0h1.1M320.8 64.9h1.1M327.0 94.3h1.1M322.7 65.9h1.1M306.3 77.7h1.1M333.7 68.9h1.1M322.2 71.4h1.1M316.2 65.1h1.1M323.5 60.9h1.1M314.2 67.2h1.1M308.6 68.5h1.1M317.9 68.0h1.1M311.7 75.6h1.1M295.3 70.0h1.1M341.8 72.8h1.1M320.9 59.0h1.1M308.0 68.7h1.1M335.1 68.3h1.1M326.3 68.4h1.1M321.6 66.3h1.1M303.8 63.7h1.1M315.3 72.3h1.1M316.1 77.0h1.1" stroke="#c0c0c0"/></g><g stroke-width="1.2" fill="none" filter="url(#halo)"><path d="M259.8 48.7h1.2M268.8 49.6h1.2M262.1 49.0h1.2M258.4 48.3h1.2M260.2 55.3h1.2M263.3 48.2h1.2M260.8 48.2h1.2M258.6 56.4h1.2M264.3 47.6h1.2M256.7 45.2h1.2M262.5 47.5h1.2M264.4 48.0h1.2M259.8 56.6h1.2" stroke="#ef8a3c"/><path d="M263.0 72.6h1.2M273.1 72.7h1.2M270.9 68.9h1.2M263.9 70.9h1.2M269.3 77.0h1.2M280.4 67.4h1.2M261.0 76.9h1.2M268.6 66.8h1.2M266.8 67.9h1.2M278.4 72.0h1.2M267.5 66.2h1.2M269.6 66.3h1.2M278.6 70.9h1.2M271.0 66.8h1.2M274.6 67.7h1.2M263.2 78.6h1.2M272.0 66.8h1.2M271.4 76.6h1.2M273.0 73.9h1.2M263.9 78.3h1.2M263.1 68.9h1.2M271.4 67.8h1.2M278.1 69.9h1.2M263.3 77.2h1.2M262.5 76.9h1.2M262.1 77.1h1.2M267.8 67.5h1.2M262.3 78.0h1.2M266.0 77.1h1.2M274.4 70.9h1.2M272.5 68.2h1.2M265.6 73.4h1.2M273.2 73.8h1.2M273.7 71.8h1.2" stroke="#e04848"/><path d="M279.3 62.7h1.2M273.4 64.7h1.2M274.2 64.1h1.2M276.1 61.3h1.2M280.3 62.2h1.2M277.1 61.1h1.2M276.3 62.8h1.2M274.9 61.8h1.2M277.2 59.2h1.2M273.0 59.4h1.2M275.2 58.7h1.2M274.3 59.7h1.2M272.7 63.8h1.2M277.7 60.2h1.2M271.6 58.7h1.2M279.6 61.4h1.2M275.1 63.4h1.2M274.7 60.7h1.2M273.6 63.0h1.2M278.9 62.3h1.2" stroke="#3070b8"/><path d="M260.1 60.8h1.2M266.1 62.2h1.2" stroke="#4fa84f"/></g><path d="M252.3 25.2V127.2H351.5V25.2Z" stroke="#8c8c8c" stroke-width="0.9" fill="none"/><path d="M252.3 25.2h-2.2M252.3 127.2v2.2M252.3 31.6h-2.2M258.5 127.2v2.2M252.3 38.0h-2.2M264.7 127.2v2.2M252.3 44.3h-2.2M270.9 127.2v2.2M252.3 50.7h-2.2M277.1 127.2v2.2M252.3 57.1h-2.2M283.3 127.2v2.2M252.3 63.5h-2.2M289.5 127.2v2.2M252.3 69.8h-2.2M295.7 127.2v2.2M252.3 76.2h-2.2M301.9 127.2v2.2M252.3 82.6h-2.2M308.1 127.2v2.2M252.3 89.0h-2.2M314.3 127.2v2.2M252.3 95.3h-2.2M320.5 127.2v2.2M252.3 101.7h-2.2M326.7 127.2v2.2M252.3 108.1h-2.2M332.9 127.2v2.2M252.3 114.5h-2.2M339.1 127.2v2.2M252.3 120.8h-2.2M345.3 127.2v2.2M252.3 127.2h-2.2M351.5 127.2v2.2" stroke="#999" stroke-width="0.6" fill="none"/><text x="349.2" y="34.7" font-size="8.00" text-anchor="end" font-weight="normal" fill="#1a1a1a" stroke="#1a1a1a" stroke-width="0.12" textLength="53.6" lengthAdjust="spacingAndGlyphs">Poly I:C -&gt; DOX</text><text x="349.2" y="44.0" font-size="8.00" text-anchor="end" font-weight="normal" fill="#1a1a1a" stroke="#1a1a1a" stroke-width="0.12" textLength="36.9" lengthAdjust="spacingAndGlyphs">1468 cells</text><circle cx="258.8" cy="41.5" r="3.2" fill="#fff" fill-opacity="0.7" stroke="#2a2a2a" stroke-width="0.9"/><text x="258.8" y="43.4" font-size="5.30" text-anchor="middle" font-weight="normal" fill="#333" stroke="#333" stroke-width="0.15">1</text><circle cx="262.5" cy="60.8" r="3.2" fill="#fff" fill-opacity="0.7" stroke="#2a2a2a" stroke-width="0.9"/><text x="262.5" y="62.7" font-size="5.30" text-anchor="middle" font-weight="normal" fill="#333" stroke="#333" stroke-width="0.15">2</text><circle cx="281.5" cy="62.7" r="3.2" fill="#fff" fill-opacity="0.7" stroke="#2a2a2a" stroke-width="0.9"/><text x="281.5" y="64.6" font-size="5.30" text-anchor="middle" font-weight="normal" fill="#333" stroke="#333" stroke-width="0.15">3</text><circle cx="266.5" cy="76.6" r="3.2" fill="#fff" fill-opacity="0.7" stroke="#2a2a2a" stroke-width="0.9"/><text x="266.5" y="78.5" font-size="5.30" text-anchor="middle" font-weight="normal" fill="#333" stroke="#333" stroke-width="0.15">4</text><circle cx="279.7" cy="90.6" r="3.2" fill="#fff" fill-opacity="0.7" stroke="#2a2a2a" stroke-width="0.9"/><text x="279.7" y="92.5" font-size="5.30" text-anchor="middle" font-weight="normal" fill="#333" stroke="#333" stroke-width="0.15">5</text><circle cx="316.9" cy="75.8" r="3.2" fill="#fff" fill-opacity="0.7" stroke="#2a2a2a" stroke-width="0.9"/><text x="316.9" y="77.7" font-size="5.30" text-anchor="middle" font-weight="normal" fill="#333" stroke="#333" stroke-width="0.15">6</text><g stroke-width="1.1" fill="none" filter="url(#halo)"><path d="M456.0 80.7h1.1M448.9 95.4h1.1M452.3 94.7h1.1M454.2 98.0h1.1M448.3 88.0h1.1M453.8 115.4h1.1M454.7 102.7h1.1M441.3 110.7h1.1M445.7 82.7h1.1M449.4 82.4h1.1M444.1 96.1h1.1M446.6 102.2h1.1M443.7 98.8h1.1M451.9 105.2h1.1M447.3 88.4h1.1M448.0 91.5h1.1M446.6 114.7h1.1M439.9 90.6h1.1M449.8 92.1h1.1M447.5 104.1h1.1M446.0 113.7h1.1M453.3 97.9h1.1M446.7 92.9h1.1M454.1 84.8h1.1M450.7 92.8h1.1M453.3 106.1h1.1M440.9 102.6h1.1M452.7 99.7h1.1M454.8 105.7h1.1M460.8 94.7h1.1M453.7 111.1h1.1M457.1 84.4h1.1M453.0 115.5h1.1M450.0 96.3h1.1M451.2 108.8h1.1M448.5 101.8h1.1M447.6 116.4h1.1M445.3 119.4h1.1M458.1 99.5h1.1M440.3 90.2h1.1M445.5 117.0h1.1M457.9 81.8h1.1M456.3 107.8h1.1M450.0 121.6h1.1M444.2 113.8h1.1M456.5 90.2h1.1M439.9 89.5h1.1M445.2 118.3h1.1M448.8 94.1h1.1M443.9 101.0h1.1M445.4 112.8h1.1M443.1 102.7h1.1M449.9 94.5h1.1M458.6 97.3h1.1M450.5 111.0h1.1M451.6 95.6h1.1M447.8 97.6h1.1M441.3 93.4h1.1M445.4 111.5h1.1M451.4 105.8h1.1M449.2 106.4h1.1M454.8 91.4h1.1M455.0 96.7h1.1M442.2 106.3h1.1M441.7 101.5h1.1M450.6 101.1h1.1M452.5 105.4h1.1M442.0 102.6h1.1M454.0 106.5h1.1M456.5 94.6h1.1M460.3 93.7h1.1M446.5 102.0h1.1M446.5 87.7h1.1M449.5 84.8h1.1M452.4 97.2h1.1M441.4 112.1h1.1M454.5 84.2h1.1M449.5 85.0h1.1M448.6 93.2h1.1M446.5 103.2h1.1M459.8 94.3h1.1M441.7 93.1h1.1M440.7 99.9h1.1M446.5 94.4h1.1M451.9 102.8h1.1M446.1 80.5h1.1M458.4 104.6h1.1M451.0 104.4h1.1M447.2 98.6h1.1M443.2 107.8h1.1M453.3 94.3h1.1M456.2 112.7h1.1M442.7 90.6h1.1M450.6 95.3h1.1M449.9 95.1h1.1M442.1 116.8h1.1M451.7 96.9h1.1M441.9 94.2h1.1M454.3 106.7h1.1M447.8 109.8h1.1M441.0 111.2h1.1M446.9 100.8h1.1M460.6 96.1h1.1M446.8 98.3h1.1M457.7 88.8h1.1M444.5 103.2h1.1M453.6 101.8h1.1M442.0 111.6h1.1M441.4 105.4h1.1M447.3 93.5h1.1M453.6 90.1h1.1M449.1 97.3h1.1M455.1 97.3h1.1M461.2 95.8h1.1M451.3 112.4h1.1M457.8 99.7h1.1M454.0 98.8h1.1M439.3 91.5h1.1M437.9 82.9h1.1M456.6 109.1h1.1M450.9 103.8h1.1M450.6 106.8h1.1M454.6 101.0h1.1M440.9 109.7h1.1M451.0 107.7h1.1M454.6 101.2h1.1M450.4 82.0h1.1M450.0 94.2h1.1M446.9 101.5h1.1M447.1 97.1h1.1M445.8 84.3h1.1M455.4 89.8h1.1M461.1 97.1h1.1M449.6 97.0h1.1M395.9 63.4h1.1M459.2 95.2h1.1M449.1 103.8h1.1M439.9 99.8h1.1M441.1 92.1h1.1M449.4 91.0h1.1M447.2 88.0h1.1M447.2 109.1h1.1M452.6 103.8h1.1M445.0 96.7h1.1M453.0 92.8h1.1M445.8 100.5h1.1M453.9 83.3h1.1M450.1 95.3h1.1M452.7 113.4h1.1M458.6 93.7h1.1M448.0 83.2h1.1M454.0 112.8h1.1M448.8 106.3h1.1M451.6 101.9h1.1M454.7 99.6h1.1M449.8 113.9h1.1M451.0 104.7h1.1M433.5 89.9h1.1M450.8 81.0h1.1M400.4 46.0h1.1M444.0 110.8h1.1M441.0 107.5h1.1M456.0 106.7h1.1M453.6 99.6h1.1M456.1 96.8h1.1M459.6 92.2h1.1M443.6 70.4h1.1M457.2 98.9h1.1M462.4 84.5h1.1M450.1 113.1h1.1M454.9 95.6h1.1M453.4 103.6h1.1M453.6 113.8h1.1M447.8 89.5h1.1M455.7 107.4h1.1M448.7 116.2h1.1M450.5 99.7h1.1M446.1 120.2h1.1M439.6 100.1h1.1M445.4 101.9h1.1M454.1 88.2h1.1M437.4 94.8h1.1M452.3 86.0h1.1M459.5 86.1h1.1M441.8 99.7h1.1M440.8 84.3h1.1M460.6 85.8h1.1M448.6 104.8h1.1M449.0 105.9h1.1M450.6 111.1h1.1M438.5 92.3h1.1M448.9 108.6h1.1M433.4 100.4h1.1M452.3 116.7h1.1M446.1 113.5h1.1M448.6 110.6h1.1M454.7 90.7h1.1M450.5 85.4h1.1M441.9 84.4h1.1M457.3 104.2h1.1M451.1 103.5h1.1M442.6 100.4h1.1M442.1 92.7h1.1M449.1 102.7h1.1M443.7 97.7h1.1M444.7 83.3h1.1M445.9 91.6h1.1M444.1 117.9h1.1M451.9 112.6h1.1M441.7 103.3h1.1M446.9 109.3h1.1M452.5 97.6h1.1M460.0 85.1h1.1M448.0 105.1h1.1M457.6 92.1h1.1M451.5 99.1h1.1M453.4 97.3h1.1M440.4 103.1h1.1M439.7 106.3h1.1M448.0 100.7h1.1M436.9 102.9h1.1M450.9 105.8h1.1M438.5 89.2h1.1M447.6 117.7h1.1M443.5 86.6h1.1M446.3 86.6h1.1M446.9 87.3h1.1M450.5 96.0h1.1M449.1 91.3h1.1M444.4 96.9h1.1M454.1 91.1h1.1M453.2 112.1h1.1M432.3 100.8h1.1M444.7 100.3h1.1M450.9 98.8h1.1M457.6 89.8h1.1M452.8 115.7h1.1M452.5 116.7h1.1M448.3 109.5h1.1M455.5 102.9h1.1M449.9 96.4h1.1M446.0 81.7h1.1M445.5 99.6h1.1M453.0 114.4h1.1M440.2 105.3h1.1M439.2 112.3h1.1M451.2 102.0h1.1M455.0 109.4h1.1M449.4 102.4h1.1M442.6 91.7h1.1M446.4 100.1h1.1M463.1 83.4h1.1M456.9 105.1h1.1M444.4 99.6h1.1M451.6 80.3h1.1M440.3 112.0h1.1M439.3 81.2h1.1M440.7 117.8h1.1M456.2 105.6h1.1M457.4 91.0h1.1M452.5 99.4h1.1M444.4 97.6h1.1M447.0 91.8h1.1M456.1 101.9h1.1M459.0 96.3h1.1M456.1 98.8h1.1M445.8 112.0h1.1M449.8 116.2h1.1M452.6 102.3h1.1M454.4 94.5h1.1M455.4 88.8h1.1M451.2 94.7h1.1M446.1 110.1h1.1M448.6 94.3h1.1M457.8 89.9h1.1M446.6 103.3h1.1M454.1 110.1h1.1M448.6 96.8h1.1M446.9 78.2h1.1M445.0 98.6h1.1M450.5 114.1h1.1M450.0 95.4h1.1M460.9 96.9h1.1M446.0 85.4h1.1M452.6 98.1h1.1M454.6 103.8h1.1M450.3 94.3h1.1M444.0 103.4h1.1M455.1 112.4h1.1M450.4 102.8h1.1M445.4 111.0h1.1M454.2 101.6h1.1M458.2 100.6h1.1M460.0 94.0h1.1M453.7 104.5h1.1M433.8 109.3h1.1M455.7 93.8h1.1M457.5 94.1h1.1M454.3 89.7h1.1M449.4 96.2h1.1M439.7 89.3h1.1M451.7 95.7h1.1M446.3 108.4h1.1M449.0 78.5h1.1M450.3 94.1h1.1M441.2 90.8h1.1M456.2 108.0h1.1M444.0 97.1h1.1M455.9 108.5h1.1M450.1 107.1h1.1M456.5 109.5h1.1M454.9 89.6h1.1M460.3 95.0h1.1M446.6 111.3h1.1M454.5 89.3h1.1M451.9 99.1h1.1M443.1 111.4h1.1M436.4 115.6h1.1M449.0 109.8h1.1M441.0 107.4h1.1M448.5 95.5h1.1M444.9 111.8h1.1M440.6 104.2h1.1M455.2 88.5h1.1M446.2 104.2h1.1M453.5 117.2h1.1M450.0 110.0h1.1M447.1 93.4h1.1M459.4 98.2h1.1" stroke="#c0c0c0"/></g><g stroke-width="1.2" fill="none" filter="url(#halo)"><path d="M381.4 51.5h1.2M370.2 46.0h1.2M372.5 56.1h1.2M381.9 51.0h1.2M370.7 47.0h1.2M382.4 48.3h1.2" stroke="#ef8a3c"/></g><path d="M366.3 25.1V127.2H467.2V25.1Z" stroke="#8c8c8c" stroke-width="0.9" fill="none"/><path d="M366.3 25.1h-2.2M366.3 127.2v2.2M366.3 31.5h-2.2M372.6 127.2v2.2M366.3 37.9h-2.2M378.9 127.2v2.2M366.3 44.2h-2.2M385.2 127.2v2.2M366.3 50.6h-2.2M391.5 127.2v2.2M366.3 57.0h-2.2M397.8 127.2v2.2M366.3 63.4h-2.2M404.1 127.2v2.2M366.3 69.8h-2.2M410.4 127.2v2.2M366.3 76.2h-2.2M416.8 127.2v2.2M366.3 82.5h-2.2M423.1 127.2v2.2M366.3 88.9h-2.2M429.4 127.2v2.2M366.3 95.3h-2.2M435.7 127.2v2.2M366.3 101.7h-2.2M442.0 127.2v2.2M366.3 108.1h-2.2M448.3 127.2v2.2M366.3 114.4h-2.2M454.6 127.2v2.2M366.3 120.8h-2.2M460.9 127.2v2.2M366.3 127.2h-2.2M467.2 127.2v2.2" stroke="#999" stroke-width="0.6" fill="none"/><text x="465.1" y="34.7" font-size="8.00" text-anchor="end" font-weight="normal" fill="#1a1a1a" stroke="#1a1a1a" stroke-width="0.12" textLength="54.2" lengthAdjust="spacingAndGlyphs">DOX -&gt; Poly I:C</text><text x="465.1" y="44.0" font-size="8.00" text-anchor="end" font-weight="normal" fill="#1a1a1a" stroke="#1a1a1a" stroke-width="0.12" textLength="31.5" lengthAdjust="spacingAndGlyphs">925 cells</text><circle cx="374.9" cy="43.3" r="3.2" fill="#fff" fill-opacity="0.7" stroke="#2a2a2a" stroke-width="0.9"/><text x="374.9" y="45.2" font-size="5.30" text-anchor="middle" font-weight="normal" fill="#333" stroke="#333" stroke-width="0.15">1</text><circle cx="378.1" cy="63.2" r="3.2" fill="#fff" fill-opacity="0.7" stroke="#2a2a2a" stroke-width="0.9"/><text x="378.1" y="65.1" font-size="5.30" text-anchor="middle" font-weight="normal" fill="#333" stroke="#333" stroke-width="0.15">2</text><circle cx="397.5" cy="64.4" r="3.2" fill="#fff" fill-opacity="0.7" stroke="#2a2a2a" stroke-width="0.9"/><text x="397.5" y="66.3" font-size="5.30" text-anchor="middle" font-weight="normal" fill="#333" stroke="#333" stroke-width="0.15">3</text><circle cx="382.1" cy="77.7" r="3.2" fill="#fff" fill-opacity="0.7" stroke="#2a2a2a" stroke-width="0.9"/><text x="382.1" y="79.6" font-size="5.30" text-anchor="middle" font-weight="normal" fill="#333" stroke="#333" stroke-width="0.15">4</text><circle cx="395.4" cy="91.8" r="3.2" fill="#fff" fill-opacity="0.7" stroke="#2a2a2a" stroke-width="0.9"/><text x="395.4" y="93.7" font-size="5.30" text-anchor="middle" font-weight="normal" fill="#333" stroke="#333" stroke-width="0.15">5</text><circle cx="452.1" cy="99.0" r="3.2" fill="#fff" fill-opacity="0.7" stroke="#2a2a2a" stroke-width="0.9"/><text x="452.1" y="100.9" font-size="5.30" text-anchor="middle" font-weight="normal" fill="#333" stroke="#333" stroke-width="0.15">6</text><g stroke-width="1" fill="none" filter="url(#halo)"><path d="M87.3 174.3h1M78.7 186.3h1M71.1 175.8h1M68.4 179.8h1M54.3 204.3h1M42.0 198.9h1M80.0 174.6h1M66.7 209.6h1M60.9 198.1h1M80.8 226.9h1M43.7 188.4h1M75.9 191.7h1M53.9 209.3h1M48.8 196.3h1M43.0 204.3h1M60.9 214.7h1M68.2 199.1h1M55.0 192.3h1M54.5 201.3h1M65.9 203.7h1M49.9 184.4h1M55.0 203.6h1M69.4 236.8h1M66.3 231.9h1M44.5 208.8h1M45.7 205.1h1M60.7 209.0h1M48.6 209.1h1M77.5 205.5h1M41.9 208.3h1M81.8 171.2h1M80.3 171.0h1M56.3 193.4h1M92.5 204.1h1M62.9 207.7h1M61.2 179.7h1M46.3 198.8h1M60.3 182.4h1M76.2 167.1h1M71.6 204.4h1M74.2 193.1h1M67.6 223.7h1M70.0 186.5h1M52.9 206.8h1M81.6 235.5h1M38.2 192.7h1M63.1 178.1h1M49.5 191.8h1M54.2 207.7h1M57.3 193.6h1M71.5 232.1h1M73.5 194.9h1M73.1 206.0h1M49.5 215.1h1M39.9 189.5h1M66.0 189.6h1M83.3 179.9h1M61.6 221.4h1M91.7 196.4h1M65.6 227.8h1M72.1 219.3h1M85.4 178.5h1M39.7 190.2h1M70.3 217.1h1M45.6 206.1h1M65.8 197.5h1M78.9 174.5h1M76.5 186.5h1M59.1 194.0h1M49.5 205.1h1M48.8 181.5h1M37.1 202.8h1M64.3 180.8h1M45.5 199.3h1M63.0 186.5h1M57.8 214.2h1M76.1 190.8h1M53.1 183.1h1M69.4 228.4h1M70.1 172.2h1M70.5 173.2h1M81.8 238.4h1M77.6 177.0h1M73.4 233.4h1M64.9 202.6h1M58.0 196.5h1M60.2 184.9h1M63.2 229.7h1M77.6 171.4h1M76.9 217.6h1M60.0 188.7h1M61.2 184.8h1M91.0 207.8h1M66.4 192.3h1M46.3 217.3h1M82.3 169.7h1M42.2 187.8h1M80.3 221.2h1M37.0 201.8h1M55.8 206.1h1M78.2 223.0h1M63.4 224.6h1M69.0 210.0h1M54.3 186.1h1M46.6 183.1h1M50.2 199.5h1M73.2 194.5h1M48.0 186.8h1M65.9 191.0h1M81.0 182.3h1M56.9 181.1h1M43.5 185.0h1M43.1 188.3h1M71.4 185.3h1M46.1 185.2h1M53.0 203.7h1M41.4 187.6h1M68.7 220.9h1M65.6 175.5h1M50.4 191.3h1M64.7 213.4h1M53.7 194.3h1M55.3 200.7h1M60.2 209.6h1M55.7 183.3h1M73.7 170.3h1M47.9 181.0h1M44.5 191.9h1M79.6 173.6h1M66.9 190.0h1M65.3 196.6h1M68.8 229.2h1M80.4 231.4h1M75.4 183.5h1M67.5 201.8h1M78.7 222.1h1M67.4 195.5h1M82.2 230.0h1M52.5 193.1h1M80.1 207.7h1M49.7 204.0h1M44.9 194.9h1M63.5 193.0h1M57.9 194.4h1M50.9 217.1h1M72.4 180.5h1M40.8 182.4h1M76.2 178.5h1M73.9 220.9h1M64.8 196.4h1M42.7 198.8h1M68.7 180.9h1M64.9 216.6h1M51.0 187.8h1M39.6 190.5h1M61.7 206.2h1M49.6 195.8h1M39.0 188.6h1M65.6 225.4h1M84.5 229.2h1M92.8 194.0h1M69.8 174.8h1M51.3 191.2h1M58.1 192.3h1M52.1 183.9h1M66.3 203.4h1M62.9 193.9h1M71.1 236.6h1M42.5 203.5h1M74.4 186.5h1M45.0 205.8h1M59.8 214.8h1M47.5 194.3h1M60.3 199.0h1M51.5 197.5h1M93.9 194.9h1M79.8 196.6h1M57.9 180.8h1M66.4 228.6h1M84.6 194.5h1M72.4 183.8h1M49.4 179.9h1M45.6 194.4h1M77.2 178.3h1M48.8 212.2h1M74.9 210.7h1M65.1 190.3h1M41.4 209.3h1M71.5 174.8h1M55.5 180.5h1M77.6 171.0h1M59.2 206.1h1M47.9 196.8h1M46.9 185.9h1M73.9 224.0h1M70.8 174.0h1M51.5 193.4h1M75.6 237.4h1M64.1 185.9h1M76.0 170.3h1M58.0 203.5h1M42.5 182.8h1M70.1 218.8h1M83.0 177.2h1M82.2 200.7h1M60.7 221.7h1M77.5 223.8h1M40.7 211.3h1M61.9 214.6h1M67.3 196.5h1M54.6 211.3h1M52.0 188.1h1M48.7 195.3h1M64.0 182.0h1M66.4 230.9h1M45.7 190.9h1M45.7 184.3h1M59.8 186.6h1M63.8 196.3h1M41.1 199.4h1M73.0 234.4h1M80.2 214.1h1M66.2 177.3h1M64.8 216.6h1M75.0 193.0h1M55.5 202.5h1M66.4 233.6h1M85.6 179.5h1M77.1 223.6h1M84.1 172.7h1M74.1 211.7h1M71.4 208.8h1M57.7 198.5h1M68.2 195.3h1M57.3 182.1h1M71.4 191.2h1M70.0 210.1h1M54.9 219.6h1M54.7 200.1h1M68.0 182.0h1M56.6 182.7h1M65.6 225.2h1M75.7 170.1h1M45.7 189.9h1M84.6 179.5h1M78.8 202.9h1M54.2 219.8h1M51.1 212.1h1M41.1 197.3h1M63.2 206.4h1M83.7 176.6h1M43.7 213.2h1M50.2 184.5h1M41.9 184.9h1M82.3 171.0h1M57.3 212.2h1M45.9 203.8h1M57.2 209.5h1M66.0 215.0h1M66.6 224.8h1M41.7 201.5h1M77.9 185.6h1M71.8 224.4h1M41.8 193.2h1M39.2 198.3h1M72.1 227.4h1M41.4 187.1h1M53.9 218.8h1M88.1 189.3h1M70.6 232.7h1M66.8 216.0h1M70.7 187.7h1M66.7 193.5h1M67.9 179.0h1M41.6 180.8h1M47.4 198.6h1M73.5 173.4h1M60.1 189.8h1M68.5 208.7h1M58.4 211.2h1M76.0 215.2h1M58.8 192.7h1M76.1 219.4h1M75.9 170.7h1M43.0 198.7h1M62.2 190.2h1M43.9 212.1h1M58.1 187.9h1M47.0 211.0h1M57.3 196.7h1M59.7 211.3h1M56.6 182.8h1M65.8 206.0h1M72.8 224.0h1M70.1 219.7h1M47.3 197.6h1M50.8 189.5h1M62.0 198.1h1M70.5 199.4h1M72.5 173.3h1M66.5 222.8h1M83.3 184.2h1M41.0 210.3h1M63.5 193.1h1M68.4 185.8h1M48.8 215.8h1M76.7 169.9h1M54.4 185.5h1M69.0 174.2h1M64.7 221.2h1M75.1 233.5h1M50.8 201.8h1M49.4 196.8h1M52.7 198.9h1M75.3 185.9h1M52.7 194.0h1M44.3 193.7h1M76.1 191.9h1M80.6 235.7h1M94.2 197.9h1M75.4 171.6h1M41.2 197.5h1M69.7 235.8h1M43.3 197.2h1M60.5 210.6h1M72.8 204.7h1M46.6 194.7h1M62.8 196.0h1M83.1 204.4h1M81.5 201.0h1M74.2 225.3h1M73.1 188.5h1M50.3 181.5h1M54.9 186.2h1M63.8 208.4h1M77.7 171.7h1M39.3 188.0h1M40.8 199.5h1M52.2 184.7h1M75.0 178.6h1M75.3 218.8h1M57.1 215.2h1M43.2 196.1h1M41.2 191.3h1M51.2 184.5h1M41.2 198.3h1M74.9 233.0h1M74.7 210.9h1M59.4 205.0h1M40.2 209.6h1M77.6 174.1h1M37.3 199.2h1M76.3 189.7h1M62.7 200.0h1M91.2 195.6h1M52.9 186.6h1M70.5 221.7h1M42.7 184.3h1M82.9 228.1h1M51.0 200.0h1M56.3 195.6h1M49.6 185.4h1M54.8 205.7h1M77.1 231.4h1M70.4 183.2h1M75.3 172.6h1M56.7 190.9h1M79.4 201.9h1M49.8 192.6h1M62.0 182.2h1M64.2 178.0h1M89.7 188.9h1M40.5 194.5h1M58.2 200.1h1M64.5 186.5h1M68.0 194.9h1M50.3 211.9h1M45.8 194.3h1M58.9 200.9h1M72.8 181.5h1M62.5 207.8h1M56.0 183.7h1M66.5 174.1h1M65.9 229.9h1M77.9 200.9h1M82.4 236.1h1M41.0 210.0h1M54.5 210.5h1M91.6 204.3h1M43.4 189.4h1M67.5 194.8h1M55.2 186.7h1M60.1 188.1h1M69.4 223.6h1M57.3 195.7h1M75.9 212.1h1M86.7 173.5h1M60.1 199.3h1M46.1 180.5h1M67.4 218.2h1M61.2 210.0h1M60.7 200.6h1M80.7 171.9h1M56.4 201.3h1M68.5 176.8h1M69.0 181.4h1M57.8 190.7h1M62.6 200.1h1M40.1 188.4h1M55.9 190.3h1M55.6 210.6h1M74.9 222.2h1M62.3 184.8h1M76.3 232.0h1M68.2 223.0h1M76.3 193.4h1M79.1 233.0h1M63.7 207.3h1M85.8 199.4h1M58.5 204.3h1M40.9 191.4h1M72.7 172.7h1M73.6 224.7h1M73.8 168.5h1M42.0 183.7h1M49.4 194.3h1M84.4 171.7h1M38.6 205.9h1M37.3 193.2h1M49.6 182.3h1M81.3 179.6h1M60.9 215.0h1M72.3 231.7h1M69.0 174.5h1M81.4 168.8h1M49.9 179.0h1M62.5 180.0h1M75.9 221.0h1M50.7 207.3h1M66.3 222.2h1M75.6 177.8h1M36.3 183.4h1M79.7 170.4h1M83.0 174.9h1M77.5 172.4h1M57.6 182.8h1M67.1 184.2h1M81.6 206.4h1M53.3 214.6h1M36.5 192.7h1M47.0 183.1h1M85.4 203.9h1M88.8 198.4h1M68.8 197.9h1M83.8 191.8h1M75.9 190.7h1M82.1 176.5h1M75.3 221.2h1M58.7 208.1h1M62.4 224.4h1M37.9 189.2h1M43.2 180.2h1M55.0 208.3h1M77.2 173.4h1M74.5 181.6h1M42.1 180.2h1M79.5 222.1h1M78.3 203.8h1M80.5 183.8h1M53.4 182.3h1M76.8 230.6h1M72.8 190.0h1M72.2 217.1h1M40.5 207.9h1M47.7 201.6h1M39.3 187.7h1M52.4 197.0h1M47.5 183.5h1M49.5 210.1h1M50.5 191.7h1M74.1 233.8h1M78.9 179.3h1M78.6 180.5h1M88.8 200.4h1M83.8 175.6h1M70.7 210.9h1M51.8 189.6h1M55.7 216.8h1M80.0 199.2h1M85.2 183.3h1M40.5 203.8h1M50.4 194.4h1M86.6 181.2h1M68.5 189.8h1M61.4 187.0h1M57.7 217.7h1M58.0 210.2h1M82.0 184.7h1M79.5 192.3h1M62.9 195.0h1M70.8 222.5h1M52.2 212.2h1M64.1 190.6h1M54.5 173.8h1" stroke="#5f1623"/><path d="M89.3 212.2h1M65.5 232.7h1M75.2 216.2h1M92.2 208.5h1M68.8 235.0h1M81.3 207.4h1M72.8 205.7h1M74.6 213.9h1M66.3 183.6h1M76.4 207.2h1M83.0 212.0h1M71.9 220.9h1M85.7 189.3h1M48.8 206.5h1M82.5 201.1h1M69.1 222.5h1M70.0 215.1h1M90.5 229.7h1M87.5 204.4h1M53.0 220.3h1M95.9 197.1h1M83.1 210.0h1M67.0 231.2h1M50.6 218.0h1M89.0 232.8h1M96.3 213.5h1M57.6 205.4h1M78.8 178.4h1M73.9 198.5h1M81.9 220.1h1M75.5 171.2h1M79.6 210.9h1M77.2 172.6h1M89.2 205.7h1M90.0 190.5h1M85.1 205.1h1M83.4 211.5h1M80.3 214.4h1M106.9 210.2h1M85.2 206.2h1M41.3 197.5h1M85.5 229.1h1M85.4 238.4h1M84.3 233.6h1M71.0 211.8h1M73.0 224.4h1M81.2 205.5h1M75.1 221.7h1M100.7 202.5h1M81.4 170.2h1M71.7 228.4h1M40.3 209.5h1M69.1 198.4h1M77.1 167.6h1M85.7 202.0h1M64.7 213.2h1M102.6 213.2h1M54.9 190.3h1M89.5 231.3h1M102.7 200.5h1M95.8 213.3h1M64.9 228.6h1M86.3 228.7h1M53.9 192.2h1M68.5 219.0h1M94.7 192.2h1M68.0 175.9h1M91.6 231.2h1M80.6 228.8h1M74.9 170.8h1M83.7 200.0h1M94.3 203.4h1M81.4 235.1h1M102.0 203.7h1M49.7 217.1h1M75.6 179.4h1M55.8 189.9h1M75.5 176.3h1M84.3 219.3h1M102.0 201.3h1M99.2 238.2h1M101.9 226.8h1M88.9 191.0h1M50.4 197.6h1M72.1 216.7h1M88.1 223.0h1M47.7 208.7h1M57.3 219.0h1M80.8 237.3h1M75.1 210.2h1M66.5 217.1h1M51.3 211.7h1M88.8 230.5h1M65.3 209.9h1M47.8 215.7h1M77.8 217.1h1M65.7 217.2h1M55.1 209.3h1M97.2 226.1h1M47.1 187.5h1M88.8 224.7h1M79.5 175.4h1M89.4 211.3h1M90.1 227.2h1M79.1 194.9h1M64.3 180.6h1M54.0 199.5h1M45.3 208.2h1M84.7 237.1h1M39.5 202.2h1M41.3 208.3h1M68.0 181.6h1M76.0 178.1h1M92.9 201.8h1M65.6 222.4h1M42.3 205.1h1M50.9 202.8h1M64.6 222.2h1M78.7 194.0h1M92.5 201.0h1M82.4 208.6h1M75.3 211.3h1M72.3 205.1h1M82.6 225.6h1M70.5 214.8h1M84.5 231.6h1M73.1 209.7h1M95.1 222.0h1M81.6 210.8h1M88.6 206.6h1M89.6 228.3h1M45.0 194.2h1M96.3 210.9h1M49.2 192.8h1M84.9 228.0h1M72.1 236.9h1M68.6 198.5h1M73.1 205.8h1M73.3 215.4h1M90.6 189.6h1M46.6 197.4h1M79.7 233.9h1M98.6 209.6h1M45.9 191.9h1M81.4 226.1h1M76.5 236.9h1M76.5 205.3h1M59.8 200.2h1M76.6 227.9h1M94.8 198.7h1M79.0 224.1h1M90.5 208.7h1M74.8 234.1h1M51.8 202.7h1M79.8 171.4h1M103.5 206.3h1M62.1 210.2h1M109.5 211.1h1M70.1 198.6h1M68.0 211.7h1M70.0 216.1h1M59.2 201.1h1M79.7 208.5h1M56.0 192.7h1M86.3 203.7h1M81.6 214.4h1M69.3 195.6h1M86.3 218.2h1M75.7 194.2h1M65.1 217.0h1M64.8 184.2h1M79.7 221.2h1M86.0 193.7h1M61.4 224.3h1M85.4 221.2h1M58.6 217.0h1M85.4 204.2h1M103.5 227.5h1M72.4 183.2h1M47.1 206.3h1M89.8 200.9h1M69.2 213.9h1M73.4 187.6h1M50.0 211.1h1M87.1 236.3h1M100.0 236.5h1M47.8 207.4h1M88.9 223.1h1M85.3 179.7h1M73.5 204.5h1M67.9 198.1h1M80.8 231.3h1M90.1 193.6h1M93.6 236.7h1M86.0 212.8h1M84.1 192.8h1M45.3 185.0h1M81.3 221.1h1M81.5 205.4h1M74.7 170.6h1M69.4 186.1h1M80.3 214.0h1M91.0 209.8h1M59.8 214.3h1M70.9 224.8h1M92.2 233.7h1M75.9 198.5h1M67.1 202.8h1M79.5 187.0h1M58.6 201.6h1M82.9 203.7h1M79.9 208.7h1M88.0 176.2h1M75.6 168.5h1M65.3 230.9h1M94.8 193.2h1M45.8 197.9h1M67.5 219.1h1M89.5 234.0h1M45.5 179.6h1M40.1 207.0h1M64.6 182.5h1M45.0 195.3h1M66.2 227.0h1M80.5 232.2h1M92.4 195.5h1M89.7 201.9h1M53.0 197.8h1M72.1 225.0h1M66.5 198.3h1M80.6 211.1h1M83.7 228.8h1M94.1 191.9h1M75.4 198.7h1M65.0 224.9h1M94.1 230.2h1M71.7 231.1h1M97.4 207.1h1M42.0 207.6h1M43.9 203.7h1M81.6 225.3h1M100.4 227.1h1M88.6 233.2h1M74.0 172.4h1M65.9 202.7h1M41.2 208.6h1M91.7 237.2h1M81.4 204.4h1M42.6 196.4h1M82.9 192.5h1M110.0 207.3h1M62.4 183.1h1M71.6 232.4h1M74.4 226.3h1M88.5 211.1h1M89.3 192.7h1M90.5 207.4h1M102.4 201.5h1M81.5 183.8h1M72.6 230.5h1M61.2 190.2h1M78.6 201.9h1M80.0 172.7h1M48.9 186.9h1M67.4 183.5h1M100.9 210.8h1M91.6 199.9h1M41.5 203.4h1M60.8 214.3h1M64.8 176.8h1M80.6 225.9h1M38.8 187.1h1M65.3 224.5h1M75.6 210.5h1M82.8 237.4h1M51.2 199.8h1M70.3 196.2h1M91.8 201.9h1M73.6 193.9h1M60.8 199.1h1M83.0 189.8h1M79.5 177.3h1M57.1 209.9h1M81.7 201.6h1M65.2 229.0h1M88.9 231.9h1M63.5 191.4h1M80.6 225.4h1M90.8 192.8h1M96.6 198.9h1M59.9 194.5h1M97.1 231.2h1M58.8 195.8h1M101.7 223.5h1M72.3 198.7h1M79.4 213.7h1M52.9 219.1h1M84.1 237.7h1M61.1 181.7h1M83.1 237.5h1M75.4 220.3h1M66.5 218.9h1M39.8 195.2h1M71.6 221.9h1M74.9 179.6h1M89.3 225.5h1M56.8 206.1h1" stroke="#9f2430"/><path d="M85.3 201.0h1M78.2 223.5h1M53.8 200.5h1M49.7 201.8h1M96.8 199.9h1M91.7 200.9h1M56.0 217.9h1M73.2 229.8h1M89.6 230.2h1M57.6 197.5h1M37.0 203.8h1M80.7 213.2h1M65.1 222.1h1M67.4 199.8h1M88.0 218.1h1M63.1 208.6h1M110.1 206.3h1M37.6 206.1h1M82.4 220.4h1M66.0 230.9h1M56.6 180.6h1M61.8 213.9h1M70.7 226.4h1M62.2 178.4h1M46.3 183.8h1M80.0 218.1h1M89.9 220.4h1M77.1 170.1h1M41.3 198.6h1M41.0 202.2h1M79.5 169.0h1M96.6 210.6h1M68.8 195.6h1M82.2 234.7h1M43.7 199.0h1M78.2 224.0h1M96.2 237.7h1M64.4 217.5h1M74.2 169.6h1M84.0 203.2h1M85.0 212.7h1M83.4 235.5h1M84.2 236.7h1M70.9 215.1h1M37.8 198.1h1M65.8 204.9h1M98.3 229.6h1M76.3 177.0h1M70.3 207.7h1M84.2 212.2h1M67.2 196.8h1M64.4 187.5h1M73.1 197.9h1M75.0 221.0h1M82.0 189.4h1M57.0 192.8h1M77.3 205.4h1M55.1 204.9h1M55.6 200.6h1M84.4 197.9h1M74.8 175.6h1M96.1 197.7h1M54.2 215.2h1M62.7 192.3h1M101.1 227.2h1M77.5 186.7h1M65.8 216.2h1M67.0 211.6h1M73.2 206.6h1M42.2 196.0h1M66.7 173.0h1M90.9 190.4h1M85.4 237.9h1M84.2 180.4h1M44.2 196.7h1M56.2 196.7h1M78.9 200.8h1M53.8 217.4h1M83.0 203.4h1M77.2 193.0h1M75.8 201.6h1M72.8 237.6h1M54.7 216.7h1M48.7 201.5h1M73.8 217.3h1M49.0 185.2h1M44.5 198.3h1M83.8 198.7h1M80.8 171.1h1M83.4 198.1h1M78.8 201.0h1M82.4 211.9h1M63.9 220.5h1M84.2 183.6h1M78.2 185.9h1M54.0 220.0h1M74.0 229.2h1M88.0 197.7h1M91.7 192.2h1M73.2 184.4h1M59.1 221.8h1M72.8 205.3h1M78.5 181.2h1M83.8 228.8h1M70.4 191.0h1M79.1 224.5h1M51.3 193.2h1M75.9 217.6h1M90.7 192.7h1M80.0 236.6h1M80.3 179.3h1M89.3 190.0h1M72.1 182.1h1M84.1 193.8h1M95.6 190.5h1M80.3 220.4h1M69.7 234.4h1M89.5 216.5h1M67.6 175.9h1M43.2 186.6h1M57.6 211.2h1M73.2 207.0h1M83.2 211.0h1M65.4 214.2h1M88.7 191.8h1M64.2 228.9h1M50.7 211.7h1M66.8 216.1h1M89.2 189.3h1M45.6 209.6h1M65.8 231.8h1M40.2 202.9h1M84.6 218.0h1M93.3 194.9h1M63.7 176.8h1M79.6 229.1h1M57.9 208.7h1M53.5 206.0h1M69.3 199.9h1M57.5 218.5h1M57.4 213.2h1M84.6 205.8h1M77.0 233.2h1M61.4 182.4h1M74.8 232.0h1M84.0 228.5h1M75.4 226.4h1M83.6 205.8h1M69.4 196.7h1M87.5 178.4h1M41.4 201.4h1M71.8 229.2h1M81.3 187.3h1M77.7 193.7h1M92.0 207.4h1M87.7 222.7h1M40.0 210.6h1M42.7 212.7h1M91.6 189.5h1M81.4 238.1h1M64.9 222.2h1M88.3 221.8h1M46.7 196.8h1M56.2 181.9h1M60.9 180.7h1M70.3 192.0h1M80.9 238.7h1M85.1 193.9h1M43.5 187.3h1M75.7 232.8h1M85.5 194.0h1M76.2 224.0h1M65.2 223.1h1M74.2 215.9h1M74.6 195.1h1M84.2 181.3h1M68.6 220.2h1M69.4 180.4h1M45.8 184.1h1M49.0 187.9h1M81.6 172.5h1M87.8 199.9h1M55.4 196.0h1M74.8 189.8h1M74.9 221.2h1M82.9 229.3h1M71.2 216.8h1M65.4 174.5h1M96.6 198.7h1M61.3 178.7h1M59.5 210.9h1M66.8 232.6h1M51.4 217.9h1M67.2 215.2h1M46.5 216.3h1M73.4 169.4h1M83.1 188.2h1M92.1 197.4h1M48.5 181.7h1M80.9 226.1h1M93.3 194.1h1M76.6 210.8h1M63.9 202.2h1M82.1 210.4h1M86.7 205.0h1M59.4 182.0h1M93.7 193.9h1M77.0 232.1h1M82.6 169.0h1M70.4 177.3h1M85.2 222.1h1M100.4 200.6h1M76.0 192.7h1M54.2 210.3h1M36.9 206.9h1M88.8 227.6h1M61.1 188.0h1M91.2 211.2h1M84.1 181.4h1M64.8 223.9h1M88.4 237.5h1M54.6 179.0h1M104.4 203.4h1M41.1 192.4h1M49.7 206.8h1M79.2 199.8h1M68.6 221.2h1M50.4 200.8h1M51.1 203.5h1M67.5 208.5h1M52.7 211.1h1M77.8 178.2h1M36.8 205.0h1M77.4 215.6h1M86.4 178.3h1M64.7 173.7h1M105.6 213.1h1M51.0 204.5h1M84.7 229.1h1M45.8 206.7h1M79.1 217.5h1M66.7 231.9h1M84.9 205.2h1M95.1 233.7h1M71.0 191.4h1M88.7 193.6h1M67.2 203.2h1M70.8 186.7h1M66.6 225.8h1M55.2 215.3h1M63.3 228.3h1M59.9 222.3h1M69.4 185.6h1M82.5 205.8h1M46.9 203.8h1M61.0 221.6h1M46.3 210.3h1M67.7 176.9h1M70.0 191.6h1M77.1 175.0h1M60.1 189.8h1M46.5 193.5h1M99.4 204.8h1M40.3 187.7h1M75.6 204.7h1M89.7 206.8h1M69.7 217.1h1M69.4 177.3h1M85.8 221.5h1M40.5 190.6h1M83.8 234.5h1M87.5 175.3h1M54.7 186.9h1M71.4 239.0h1M95.8 199.1h1M74.4 198.3h1M86.6 195.4h1M71.8 204.8h1M65.7 219.0h1M79.3 181.9h1M77.5 202.6h1M40.4 209.6h1M58.6 188.2h1M38.3 198.9h1M82.4 219.4h1M80.7 227.9h1M81.4 227.1h1M73.1 233.6h1M68.0 174.9h1M81.1 220.7h1M74.9 238.2h1M66.9 203.3h1M66.9 230.4h1M70.7 228.6h1M40.2 183.2h1M41.7 181.8h1M97.4 196.7h1M57.0 217.9h1M81.0 188.1h1M64.9 224.0h1M91.3 194.0h1M76.0 189.8h1M63.1 209.6h1M93.2 201.8h1M54.0 203.8h1M73.4 198.3h1M89.0 206.7h1M59.6 204.0h1M49.5 203.0h1M78.9 209.0h1M70.8 217.9h1M59.8 194.5h1M77.0 168.7h1M92.3 194.0h1M39.6 210.2h1M77.6 216.7h1M70.0 214.6h1M47.7 206.4h1M47.9 193.9h1M49.2 185.9h1M68.6 189.4h1M54.2 192.6h1M78.1 217.2h1M49.7 201.8h1M76.8 201.8h1M72.4 208.8h1M56.8 217.2h1M83.2 181.9h1M66.0 211.2h1M79.9 236.8h1M60.7 210.1h1M87.7 219.5h1M40.7 212.1h1M80.5 175.5h1M81.1 189.0h1M71.4 173.6h1M83.7 237.8h1M74.2 194.1h1M55.3 187.7h1M56.1 209.5h1" stroke="#8a1f2c"/><path d="M92.4 230.1h1M91.4 217.0h1M88.1 227.6h1M86.0 216.6h1M93.3 214.7h1M95.0 238.7h1M100.2 220.1h1M96.2 205.5h1M90.2 237.0h1M93.6 215.8h1M96.8 214.1h1M109.5 212.8h1M103.3 201.9h1M95.2 210.9h1M97.1 224.2h1M96.9 228.8h1M89.5 232.8h1M96.9 227.6h1M93.4 229.7h1M105.4 205.9h1M103.4 206.6h1M95.9 219.5h1M104.3 232.0h1M94.9 219.2h1M106.7 219.8h1M103.5 231.4h1M92.1 224.0h1M98.6 199.7h1M100.6 211.4h1M99.0 205.7h1M96.2 221.3h1M105.2 219.5h1M100.0 211.0h1M102.4 200.3h1M106.0 214.1h1M100.3 219.4h1M98.5 207.5h1M102.2 208.8h1M106.1 211.3h1M105.8 229.3h1M101.8 222.5h1M104.0 218.0h1M99.9 208.2h1M92.9 232.9h1M87.2 197.1h1M101.4 195.6h1M87.1 232.9h1M108.9 211.9h1M105.7 218.3h1M89.0 222.5h1M99.3 219.0h1M106.7 210.5h1M86.7 210.9h1M106.3 219.9h1M97.6 210.2h1M97.9 227.8h1M105.8 219.3h1M97.5 215.9h1M103.1 207.6h1M105.2 206.2h1" stroke="#da4837"/><path d="M82.0 192.9h1M56.2 204.9h1M65.8 174.8h1M78.6 228.9h1M45.8 183.1h1M51.6 211.2h1M62.8 177.3h1M64.6 212.2h1M82.0 175.4h1M49.7 193.3h1M77.8 199.8h1M72.7 205.1h1M85.2 205.9h1M68.3 199.4h1M62.7 211.1h1M77.1 217.6h1M41.8 196.6h1M64.1 184.9h1M39.8 211.6h1M76.5 199.8h1M37.3 194.6h1M86.1 181.4h1M38.8 189.7h1M96.1 198.9h1M67.4 210.0h1M45.6 183.3h1M59.3 178.6h1M83.8 203.4h1M74.2 171.4h1M49.3 209.8h1M54.5 180.7h1M66.9 227.7h1M42.6 211.0h1M65.8 182.0h1M55.3 208.8h1M75.2 211.3h1M67.0 208.6h1M84.8 203.1h1M62.5 212.1h1M77.8 230.3h1M58.9 188.6h1M82.6 199.8h1M41.3 209.1h1M86.0 181.6h1M60.6 224.0h1M75.6 212.2h1M66.7 177.0h1M76.2 200.7h1M71.1 203.4h1M49.1 187.0h1M56.4 220.8h1M48.7 208.0h1M39.2 189.6h1M78.2 221.1h1M89.7 200.8h1M67.9 188.7h1M84.6 195.6h1M64.8 181.8h1M67.7 181.0h1M46.0 195.5h1M68.0 203.4h1M61.8 200.7h1M76.8 198.0h1M52.0 199.7h1M67.4 195.8h1M62.0 186.2h1M70.2 199.4h1M57.7 217.5h1M68.2 182.0h1M79.3 179.2h1M50.5 201.1h1M82.3 168.3h1M36.5 208.3h1M77.2 177.4h1M99.0 201.4h1M75.7 220.3h1M91.6 193.0h1M71.7 181.2h1M80.5 168.7h1M57.5 204.2h1M70.5 216.9h1M53.8 183.9h1M55.6 190.9h1M62.2 188.1h1M59.9 214.7h1M60.1 224.9h1M70.8 188.7h1M73.4 189.5h1M43.2 204.6h1M64.5 222.9h1M74.0 180.8h1M82.0 176.9h1M70.1 168.6h1M71.5 212.7h1M60.3 191.8h1M59.8 195.5h1M67.4 192.7h1M81.9 175.5h1M48.8 186.2h1M74.9 198.5h1M79.0 178.3h1M43.8 214.2h1M74.7 169.0h1M73.1 216.5h1M48.7 193.3h1M49.5 182.3h1M74.4 218.2h1M76.2 196.0h1M57.5 204.4h1M71.3 180.2h1M69.1 193.5h1M55.2 218.7h1M77.7 234.0h1M53.9 184.9h1M77.1 200.5h1M75.1 193.6h1M42.3 195.7h1M38.7 198.6h1M81.8 209.1h1M81.9 176.4h1M75.9 238.4h1M82.0 182.3h1M71.2 210.7h1M56.9 216.5h1M82.8 177.3h1M80.7 231.7h1M50.9 194.3h1M68.2 182.6h1M73.9 187.4h1M71.8 231.1h1M81.3 214.5h1M70.3 186.5h1M52.0 196.7h1M64.5 189.6h1M79.9 232.2h1M65.8 208.4h1M82.6 170.1h1M80.7 196.2h1M82.3 187.5h1M64.2 181.6h1M46.1 207.7h1M72.4 239.4h1M55.5 216.3h1M59.0 212.9h1M51.9 207.2h1M49.1 210.3h1M61.3 210.8h1M73.0 172.6h1M49.0 208.5h1M93.8 234.7h1M67.4 198.8h1M79.1 223.1h1M48.1 214.2h1M54.9 201.7h1M82.6 182.8h1M79.7 233.0h1M77.6 180.2h1M68.5 182.8h1M43.7 209.5h1M82.4 221.0h1M36.8 182.5h1M54.7 217.7h1M41.2 192.4h1M61.2 181.7h1M64.2 185.5h1M74.6 210.3h1M75.6 214.2h1M66.3 196.8h1M79.4 196.1h1M58.7 217.1h1M75.9 219.3h1M48.8 214.7h1M65.2 177.5h1M49.5 198.7h1M76.4 198.7h1M56.2 219.0h1M76.4 197.0h1M49.8 207.8h1M48.5 209.0h1M63.4 199.3h1M77.2 176.0h1M67.0 194.5h1M76.1 184.4h1M71.1 227.3h1M59.2 211.9h1M42.2 186.9h1M43.7 203.7h1M78.7 169.6h1M77.0 177.8h1M41.1 184.3h1M78.5 192.7h1M60.2 181.1h1M67.2 177.6h1M71.9 206.5h1M52.6 189.0h1M48.5 193.8h1M75.7 182.5h1M63.0 189.5h1M51.1 215.6h1M92.3 212.0h1M66.6 198.1h1M41.7 212.9h1M52.9 196.1h1M57.8 197.6h1M50.2 192.3h1M84.5 199.4h1M55.0 189.2h1M81.9 174.3h1M66.2 201.8h1M76.9 238.1h1M78.7 201.5h1M52.7 183.1h1M88.8 196.7h1M66.6 209.2h1M64.6 189.4h1M71.3 198.7h1M84.3 193.4h1M77.0 227.5h1M63.6 194.0h1M86.2 193.8h1M86.8 194.3h1M42.4 206.0h1M100.0 237.4h1M76.1 195.0h1M58.3 193.3h1M73.8 189.7h1M60.4 209.3h1M47.5 204.6h1M77.1 206.4h1M89.3 197.6h1M58.2 212.2h1M71.4 182.9h1M75.8 230.2h1M44.9 203.5h1M71.6 186.6h1M42.8 207.0h1M53.5 193.3h1M75.2 220.0h1M80.0 222.2h1M66.4 210.0h1M84.8 170.8h1M53.7 193.2h1M79.1 221.6h1M50.5 216.4h1M87.2 196.3h1M72.0 206.0h1M86.4 182.2h1M65.6 204.7h1M40.5 201.8h1M74.8 222.7h1M96.7 203.6h1M80.1 224.4h1M74.9 198.8h1M80.0 207.5h1M79.6 180.8h1M77.2 236.5h1M39.4 183.8h1M68.5 200.6h1M56.5 216.0h1M49.2 180.9h1M59.0 189.6h1M46.2 200.1h1M59.5 187.6h1M67.0 226.7h1M70.8 187.1h1M72.6 169.9h1M95.7 238.7h1M50.6 219.0h1M44.8 206.8h1M45.8 184.7h1M45.4 205.8h1M57.9 216.5h1M76.9 228.6h1M57.2 199.9h1M71.8 182.9h1M80.7 232.7h1M93.1 201.9h1M72.2 185.9h1M60.1 222.1h1M69.2 173.2h1M55.3 186.1h1M46.7 215.3h1M96.1 207.0h1M46.1 214.3h1M36.3 193.6h1M51.5 219.0h1M59.6 204.5h1M86.7 206.1h1M69.4 189.3h1M84.3 179.9h1M46.0 206.1h1M71.6 170.1h1M64.8 208.4h1M90.0 189.9h1M84.0 177.1h1M72.8 204.8h1M71.5 214.8h1M82.1 213.5h1M70.7 235.5h1M66.1 182.6h1M102.9 196.7h1M47.1 214.4h1M60.4 190.7h1M72.4 179.5h1M44.9 192.9h1M70.4 233.7h1M87.5 174.2h1M80.2 196.7h1M49.1 183.2h1M40.9 199.3h1M70.0 199.8h1M71.1 219.4h1M86.6 201.7h1M85.2 180.9h1M53.9 186.4h1M67.8 187.7h1M65.9 205.7h1M47.2 199.9h1M83.7 233.2h1M78.6 171.2h1M48.7 201.9h1M44.0 179.6h1M48.1 187.3h1M83.2 229.2h1M77.5 192.8h1M68.4 194.2h1M56.4 219.8h1M93.8 202.6h1M46.9 197.2h1M58.8 214.4h1M64.5 230.2h1M69.8 221.0h1M64.0 217.3h1M79.2 187.3h1M80.0 188.0h1M59.0 193.7h1M71.3 207.4h1M62.6 200.1h1M76.3 192.6h1M61.8 180.8h1M50.7 183.7h1M73.6 169.6h1M62.2 209.7h1M55.0 191.3h1" stroke="#741b28"/><path d="M96.0 230.5h1M49.1 213.8h1M74.1 210.0h1M64.6 225.4h1M57.8 218.5h1M69.2 219.3h1M59.6 201.6h1M61.8 214.5h1M68.3 235.5h1M99.2 209.0h1M100.1 216.5h1M97.0 206.4h1M102.4 204.6h1M95.5 214.3h1M100.7 234.0h1M91.0 225.1h1M96.6 203.4h1M95.7 237.9h1M80.6 215.3h1M76.1 200.9h1M77.6 227.5h1M85.7 211.2h1M98.4 200.7h1M87.1 223.7h1M96.1 191.4h1M89.4 189.0h1M85.8 206.7h1M96.6 197.8h1M63.0 201.0h1M75.3 182.4h1M87.2 228.1h1M50.1 213.7h1M99.7 238.4h1M77.2 226.5h1M69.5 198.6h1M94.2 201.8h1M90.9 213.0h1M73.4 212.4h1M84.8 237.9h1M99.0 228.9h1M92.0 202.4h1M107.2 219.0h1M67.8 180.6h1M83.0 220.0h1M98.0 225.4h1M91.8 194.1h1M94.0 191.2h1M76.5 235.7h1M67.8 184.5h1M62.1 207.2h1M86.3 228.5h1M104.5 212.2h1M103.5 228.1h1M71.8 228.2h1M93.2 204.9h1M88.5 226.6h1M86.0 238.7h1M108.4 216.4h1M54.1 211.4h1M107.6 212.0h1M105.7 204.0h1M97.6 227.1h1M75.2 210.3h1M70.4 189.0h1M77.1 192.7h1M82.9 207.8h1M100.3 219.2h1M92.9 236.0h1M97.5 200.1h1M72.7 230.7h1M84.0 192.4h1M103.1 232.9h1M70.9 207.9h1M90.3 210.9h1M90.9 231.9h1M88.8 229.6h1M107.4 201.9h1M78.2 228.4h1M79.9 215.1h1M92.5 222.2h1M93.7 209.9h1M94.9 202.6h1M83.4 221.1h1M76.0 193.6h1M99.3 200.4h1M83.6 232.1h1M99.9 214.6h1M67.2 202.2h1M66.6 206.7h1M67.1 222.8h1M103.7 205.6h1M94.1 237.6h1M108.3 209.3h1M89.8 212.9h1M54.7 218.8h1M102.0 214.1h1M95.6 203.1h1M84.5 198.9h1M93.9 201.4h1M89.1 227.6h1M93.6 192.1h1M74.1 192.5h1M56.5 218.8h1M101.0 225.0h1M87.9 196.2h1M94.2 189.6h1M98.1 233.0h1M69.3 209.3h1M84.5 218.0h1M95.7 211.0h1M98.3 197.2h1M99.0 216.4h1M80.5 169.3h1M99.7 199.3h1M51.2 192.1h1M79.8 238.8h1M97.6 204.1h1M63.6 211.9h1M67.7 229.8h1M71.4 230.1h1M101.8 234.3h1M91.4 195.6h1M103.3 197.7h1M86.3 196.9h1M57.6 213.1h1M107.4 201.5h1M85.2 217.1h1M95.9 222.7h1M100.5 199.9h1M57.7 201.0h1M80.1 202.6h1M85.2 209.3h1M83.4 202.5h1M90.2 205.3h1M72.4 215.3h1M70.6 238.4h1M101.5 233.3h1M66.7 218.9h1M93.4 235.6h1M36.9 193.7h1M98.7 224.7h1M95.8 203.2h1M69.9 224.5h1M86.7 212.0h1M66.8 191.0h1M73.1 194.8h1M61.8 199.5h1M99.2 232.8h1M98.9 203.9h1M41.3 207.2h1M96.4 209.9h1M102.9 210.6h1M83.0 221.3h1M79.5 222.2h1M107.5 209.5h1M72.6 194.4h1M96.3 229.6h1M90.4 238.7h1M94.9 237.7h1M86.5 220.6h1M69.6 199.0h1M80.1 209.4h1M39.1 199.6h1M99.7 197.1h1M78.0 237.2h1M96.7 217.1h1M87.7 195.4h1M93.2 238.5h1M71.0 199.1h1M78.9 233.3h1M69.5 198.9h1M103.7 200.6h1M102.2 224.2h1M70.1 222.3h1M94.4 221.3h1M93.9 192.9h1M83.4 219.0h1M96.1 217.9h1M78.4 232.4h1M89.9 217.4h1M59.0 188.5h1M104.0 222.2h1M74.7 170.1h1M86.1 237.6h1M99.4 196.0h1M80.2 183.0h1M87.4 198.1h1M81.0 203.4h1M49.8 180.1h1M78.9 182.8h1M106.4 216.1h1M86.1 218.4h1M54.7 217.0h1M100.5 209.3h1M92.1 231.6h1M103.8 231.0h1M92.2 205.1h1M99.7 211.2h1M81.7 212.6h1M90.3 212.1h1M84.6 183.1h1M93.4 195.7h1M83.9 217.1h1M69.0 203.4h1M93.8 193.1h1M87.7 210.5h1M93.3 217.9h1" stroke="#b02933"/><path d="M101.9 211.0h1M86.6 207.4h1M91.6 231.4h1M102.9 226.6h1M89.5 233.9h1M103.7 210.1h1M93.4 221.7h1M85.8 210.2h1M94.1 202.4h1M103.0 199.5h1M95.1 197.6h1M107.0 207.9h1M100.6 210.4h1M89.7 232.0h1M92.7 216.4h1M101.5 207.8h1M39.2 196.1h1M101.5 200.8h1M89.7 235.0h1M96.7 237.9h1M96.7 228.6h1M41.1 196.0h1M96.2 228.0h1M96.1 192.5h1M78.3 196.3h1M92.3 215.1h1M83.2 216.4h1M86.1 222.5h1M96.1 231.7h1M107.2 212.3h1M94.2 238.5h1M89.2 198.9h1M85.2 182.3h1M88.8 234.7h1M89.6 221.7h1M98.0 223.7h1M104.3 208.0h1M89.9 211.8h1M107.3 202.8h1M94.6 194.2h1M82.3 219.2h1M89.9 233.0h1M72.4 233.6h1M98.2 227.0h1M108.6 211.7h1M104.6 207.0h1M96.4 238.9h1M106.1 219.1h1M92.6 228.6h1M87.9 223.1h1M99.6 227.8h1M91.2 224.1h1M89.0 230.9h1M108.0 221.3h1M94.5 226.0h1M104.7 211.6h1M100.7 197.0h1M91.3 212.0h1M91.8 226.8h1M90.7 232.0h1M103.2 198.4h1M97.8 227.9h1M98.1 215.5h1M48.6 211.2h1M91.9 206.1h1M89.1 215.5h1M97.1 233.7h1M87.9 224.2h1M49.8 189.3h1M57.6 216.7h1M100.2 239.3h1M80.2 213.3h1M90.9 210.8h1M93.5 221.1h1M101.3 199.4h1M103.8 198.6h1M102.1 200.1h1M90.7 232.0h1M96.0 215.2h1M91.6 223.1h1M84.5 238.7h1M89.2 236.8h1M93.9 232.8h1M86.7 222.4h1M107.0 211.2h1M84.4 221.0h1M91.9 203.3h1M69.0 191.6h1M90.7 215.1h1M107.3 213.0h1M99.8 235.5h1M97.5 226.4h1M98.4 226.9h1M94.8 234.3h1M81.1 195.3h1M95.5 198.0h1M91.3 214.9h1M101.0 235.0h1M82.8 208.8h1M96.1 233.4h1M85.4 207.2h1M99.1 210.5h1M99.5 207.8h1M99.0 228.6h1M106.4 204.7h1M100.2 207.2h1M87.7 233.7h1M67.7 229.3h1M89.8 221.4h1M104.3 205.7h1M99.9 208.2h1M68.0 208.4h1M91.1 232.9h1M102.5 228.6h1M97.2 238.0h1M106.9 219.0h1M86.8 198.9h1M98.6 199.3h1M100.9 215.1h1M91.6 230.4h1M104.4 204.6h1M88.7 199.8h1M102.3 223.1h1M98.1 225.7h1M105.8 205.0h1M88.4 218.8h1M103.1 209.3h1M85.6 218.9h1M90.9 237.8h1M86.9 221.6h1M77.5 239.0h1M102.9 234.4h1M95.6 215.5h1M56.8 189.6h1M42.0 210.2h1M93.1 231.7h1M105.1 204.1h1M84.3 204.1h1M93.9 201.6h1M105.4 210.8h1M95.7 222.3h1M63.0 182.3h1M66.5 183.0h1M66.0 216.7h1M94.4 215.2h1M89.0 235.6h1" stroke="#c22f36"/><path d="M91.3 225.9h1M94.0 220.3h1M105.3 219.8h1M94.8 213.5h1M101.3 224.6h1M109.5 218.2h1" stroke="#ec6837"/><path d="M93.8 219.4h1M94.3 219.3h1M105.3 214.9h1M101.7 233.3h1M96.3 227.0h1M81.7 209.4h1M89.1 202.7h1M101.8 224.4h1M105.5 230.8h1M95.9 239.7h1M88.9 228.6h1M102.8 224.3h1M95.7 218.8h1M77.8 199.8h1M80.0 233.2h1M104.4 218.9h1M105.2 217.6h1M100.9 208.5h1M90.8 216.1h1M100.4 195.6h1M108.5 209.8h1M101.1 209.4h1M109.9 214.3h1M109.0 207.8h1M97.0 220.7h1M97.1 228.7h1M96.5 216.0h1M95.3 232.3h1M88.6 235.7h1M96.1 208.0h1M100.5 207.8h1M100.4 199.1h1M100.7 226.2h1M96.6 199.6h1M98.2 198.3h1M103.8 217.0h1M99.0 226.0h1M101.1 216.4h1M96.7 213.8h1M105.6 224.6h1M93.3 232.7h1M95.1 230.0h1M91.3 211.8h1M99.8 202.0h1M91.9 227.9h1M80.5 201.2h1M106.2 217.8h1M107.2 218.1h1M104.2 227.5h1M103.6 211.6h1M89.6 222.4h1M96.9 206.2h1M96.7 226.5h1M100.9 228.2h1M94.7 202.6h1M107.0 203.8h1M98.9 214.8h1M93.0 212.8h1M102.6 211.3h1M88.0 226.7h1M98.7 222.9h1M101.1 218.6h1M100.8 214.1h1M97.0 239.7h1M87.3 220.0h1M105.1 222.4h1M93.0 209.1h1M91.6 224.9h1M106.4 217.1h1M90.3 211.7h1M90.4 231.8h1M86.9 217.4h1M104.7 224.1h1M87.1 223.9h1M99.1 227.9h1M89.3 219.2h1M91.5 217.0h1M101.8 215.6h1M87.1 218.6h1M108.0 208.3h1M101.4 196.2h1M105.0 205.2h1M87.9 200.4h1M98.2 238.2h1M109.5 209.4h1M103.7 232.0h1M91.5 230.5h1M95.4 226.5h1" stroke="#d13837"/><path d="M103.7 223.2h1M99.9 210.2h1M98.5 218.3h1M105.0 211.4h1" stroke="#ef7c39"/><path d="M96.0 212.3h1M109.0 217.2h1M101.5 214.9h1M102.7 230.7h1M94.6 221.1h1M101.7 218.6h1M105.4 215.9h1M104.3 223.2h1M88.1 236.1h1M100.5 237.4h1M92.4 217.5h1M89.0 226.4h1M96.2 213.3h1M101.0 219.4h1M100.0 232.2h1M101.5 221.5h1M99.5 219.9h1M110.0 215.3h1M101.8 205.4h1M96.7 237.7h1M104.4 212.5h1" stroke="#e45737"/></g><path d="M34.3 163.7V243.3H113.9" stroke="#7a7a7a" stroke-width="0.9" fill="none"/><path d="M32.3 163.7H113.9" stroke="#a8a8a8" stroke-width="0.8" fill="none"/><path d="M32.1 163.7h2.2M34.3 243.3v2.2M32.7 168.7h1.6M39.3 243.3v1.6M32.7 173.6h1.6M44.2 243.3v1.6M32.7 178.6h1.6M49.2 243.3v1.6M32.1 183.6h2.2M54.2 243.3v2.2M32.7 188.6h1.6M59.2 243.3v1.6M32.7 193.5h1.6M64.1 243.3v1.6M32.7 198.5h1.6M69.1 243.3v1.6M32.1 203.5h2.2M74.1 243.3v2.2M32.7 208.5h1.6M79.1 243.3v1.6M32.7 213.4h1.6M84.0 243.3v1.6M32.7 218.4h1.6M89.0 243.3v1.6M32.1 223.4h2.2M94.0 243.3v2.2M32.7 228.4h1.6M99.0 243.3v1.6M32.7 233.3h1.6M103.9 243.3v1.6M32.7 238.3h1.6M108.9 243.3v1.6M32.1 243.3h2.2M113.9 243.3v2.2" stroke="#6a6a6a" stroke-width="0.7" fill="none"/><text x="28.3" y="166.2" font-size="5.70" text-anchor="end" font-weight="normal" fill="#333" stroke="#333" stroke-width="0.25">6.1</text><text x="28.3" y="186.1" font-size="5.70" text-anchor="end" font-weight="normal" fill="#333" stroke="#333" stroke-width="0.25">3.1</text><text x="28.3" y="206.0" font-size="5.70" text-anchor="end" font-weight="normal" fill="#333" stroke="#333" stroke-width="0.25">0.1</text><text x="28.3" y="225.9" font-size="5.70" text-anchor="end" font-weight="normal" fill="#333" stroke="#333" stroke-width="0.25">−2.9</text><text x="28.3" y="245.8" font-size="5.70" text-anchor="end" font-weight="normal" fill="#333" stroke="#333" stroke-width="0.25">−5.9</text><text x="34.8" y="254.3" font-size="5.70" text-anchor="middle" font-weight="normal" fill="#3a3a3a" stroke="#3a3a3a" stroke-width="0.25">−8.5</text><text x="54.7" y="254.3" font-size="5.70" text-anchor="middle" font-weight="normal" fill="#3a3a3a" stroke="#3a3a3a" stroke-width="0.25">−4.4</text><text x="74.6" y="254.3" font-size="5.70" text-anchor="middle" font-weight="normal" fill="#3a3a3a" stroke="#3a3a3a" stroke-width="0.25">−0.3</text><text x="94.5" y="254.3" font-size="5.70" text-anchor="middle" font-weight="normal" fill="#3a3a3a" stroke="#3a3a3a" stroke-width="0.25">3.7</text><text x="114.4" y="254.3" font-size="5.70" text-anchor="middle" font-weight="normal" fill="#3a3a3a" stroke="#3a3a3a" stroke-width="0.25">7.8</text><rect x="113.9" y="163.7" width="3.8" height="79.6" fill="url(#cb)"/><path d="M117.7 167.7h-1.2M117.7 171.7h-1.2M117.7 175.6h-1.2M117.7 179.6h-1.2M117.7 183.6h-1.2M117.7 187.6h-1.2M117.7 191.6h-1.2M117.7 195.5h-1.2M117.7 199.5h-1.2M117.7 203.5h-1.2M117.7 207.5h-1.2M117.7 211.5h-1.2M117.7 215.4h-1.2M117.7 219.4h-1.2M117.7 223.4h-1.2M117.7 227.4h-1.2M117.7 231.4h-1.2M117.7 235.3h-1.2M117.7 239.3h-1.2" stroke="#fff" stroke-opacity="0.5" stroke-width="0.5"/><rect x="116.5" y="199.7" width="2.5" height="1.6" rx="0.6" fill="#000"/><text x="123.1" y="196.9" font-size="5.70" text-anchor="start" font-weight="normal" fill="#333" stroke="#333" stroke-width="0.25">10<tspan dy="-2.3" font-size="3.9">3</tspan></text><text x="123.1" y="202.2" font-size="5.70" text-anchor="start" font-weight="normal" fill="#333" stroke="#333" stroke-width="0.25">0</text><text x="123.1" y="207.4" font-size="5.70" text-anchor="start" font-weight="normal" fill="#333" stroke="#333" stroke-width="0.25">−10<tspan dy="-2.3" font-size="3.9">3</tspan></text><text x="123.1" y="239.2" font-size="5.70" text-anchor="start" font-weight="normal" fill="#333" stroke="#333" stroke-width="0.25">−10<tspan dy="-2.3" font-size="3.9">4</tspan></text><text x="37.9" y="172.2" font-size="8.00" text-anchor="start" font-weight="normal" fill="#222" stroke="#222" stroke-width="0.2" textLength="42.5" lengthAdjust="spacingAndGlyphs">CD117/cKit</text><g stroke-width="1" fill="none" filter="url(#halo)"><path d="M214.8 174.3h1M216.8 212.2h1M219.9 230.1h1M207.5 174.6h1M218.8 225.9h1M217.0 233.9h1M226.7 209.0h1M215.6 227.6h1M215.5 218.1h1M227.6 216.5h1M229.2 233.3h1M223.4 197.1h1M231.2 223.2h1M230.5 199.5h1M207.8 171.0h1M203.7 167.1h1M222.5 238.7h1M201.7 193.1h1M217.4 220.4h1M207.0 169.0h1M209.4 220.1h1M210.8 179.9h1M203.0 171.2h1M221.5 220.3h1M234.5 207.9h1M223.2 237.9h1M216.7 205.7h1M210.1 199.8h1M229.3 224.4h1M229.0 200.8h1M209.3 238.4h1M213.3 206.7h1M218.5 207.8h1M216.4 228.6h1M223.6 192.5h1M237.0 212.8h1M230.8 201.9h1M236.5 217.2h1M217.2 200.8h1M212.1 195.6h1M226.5 228.9h1M219.8 215.1h1M206.4 200.8h1M208.9 170.2h1M210.5 203.4h1M225.5 225.4h1M203.3 201.6h1M210.7 216.4h1M200.7 194.5h1M231.9 218.9h1M221.5 191.2h1M209.8 168.3h1M213.2 202.0h1M230.1 213.2h1M210.9 198.1h1M216.7 198.9h1M212.7 182.3h1M223.3 213.3h1M213.8 228.5h1M201.2 170.3h1M201.5 229.2h1M224.6 224.2h1M216.0 226.6h1M217.0 232.8h1M202.4 170.8h1M211.2 200.0h1M229.5 203.7h1M224.5 220.7h1M229.5 201.3h1M206.6 224.5h1M235.1 212.0h1M229.0 214.9h1M230.9 206.6h1M207.8 179.3h1M211.6 193.8h1M223.1 190.5h1M231.8 232.0h1M202.4 198.5h1M209.8 219.2h1M202.2 169.0h1M220.3 194.0h1M217.4 233.0h1M210.7 211.0h1M201.9 186.5h1M216.3 224.7h1M207.0 175.4h1M216.9 211.3h1M222.4 219.2h1M205.2 234.0h1M206.6 194.9h1M221.4 194.9h1M204.6 200.5h1M220.8 194.9h1M221.2 209.9h1M209.3 209.1h1M199.0 174.8h1M231.0 231.4h1M232.1 207.0h1M212.1 205.8h1M220.4 201.8h1M232.9 215.9h1M201.4 187.4h1M223.9 238.9h1M228.1 211.4h1M223.6 208.0h1M227.9 199.1h1M210.5 177.2h1M210.1 170.1h1M219.5 207.4h1M227.4 214.6h1M215.2 222.7h1M209.1 210.8h1M219.1 189.5h1M217.1 228.3h1M197.8 192.0h1M222.0 226.0h1M212.6 193.9h1M202.5 193.0h1M227.5 211.0h1M210.1 182.8h1M200.6 205.8h1M219.3 226.8h1M229.5 214.1h1M212.1 179.5h1M225.3 227.9h1M202.1 195.1h1M223.1 203.1h1M215.6 236.1h1M221.4 201.4h1M229.9 200.3h1M224.6 233.7h1M206.5 224.1h1M218.0 208.7h1M233.5 214.1h1M231.0 206.3h1M215.6 189.3h1M225.6 233.0h1M207.2 208.5h1M207.7 213.3h1M212.0 218.0h1M200.9 169.4h1M223.2 211.0h1M228.8 224.6h1M203.4 170.7h1M208.0 169.3h1M209.6 210.4h1M213.5 193.7h1M218.8 211.8h1M214.2 205.0h1M229.6 200.1h1M212.9 221.2h1M206.0 192.7h1M219.4 227.9h1M225.1 204.1h1M233.6 211.3h1M204.2 169.9h1M233.7 217.8h1M211.6 181.4h1M234.5 211.2h1M202.8 185.9h1M221.7 197.9h1M217.1 222.4h1M210.6 204.4h1M218.2 215.1h1M234.8 213.0h1M200.6 188.5h1M225.9 226.9h1M206.2 201.5h1M216.3 196.7h1M223.4 222.7h1M226.4 214.8h1M205.2 171.7h1M223.0 198.0h1M213.5 212.8h1M228.0 199.9h1M213.7 193.8h1M210.3 208.8h1M217.7 205.3h1M229.3 222.5h1M212.4 205.2h1M204.6 206.4h1M215.5 226.7h1M218.7 195.6h1M227.7 207.2h1M223.7 213.3h1M228.3 214.1h1M223.3 203.2h1M214.2 212.0h1M215.5 176.2h1M196.9 185.6h1M204.6 231.4h1M226.7 232.8h1M226.4 203.9h1M232.6 222.4h1M204.6 175.0h1M223.9 209.9h1M210.5 221.3h1M219.9 195.5h1M217.2 201.9h1M218.6 232.9h1M235.0 209.5h1M230.0 228.6h1M227.5 232.2h1M211.2 228.8h1M202.9 198.7h1M220.5 209.1h1M219.1 224.9h1M222.4 237.7h1M234.4 219.0h1M227.9 227.1h1M216.1 233.2h1M214.3 198.9h1M217.9 231.8h1M223.3 199.1h1M226.1 199.3h1M214.1 195.4h1M237.5 207.3h1M228.4 215.1h1M219.1 230.4h1M214.7 197.1h1M216.2 199.8h1M220.7 238.5h1M203.8 193.4h1M207.5 172.7h1M215.9 218.8h1M200.6 233.6h1M211.9 171.7h1M216.8 219.2h1M237.5 215.3h1M229.3 205.4h1M219.0 217.0h1M229.7 224.2h1M218.4 237.8h1M226.8 219.0h1M223.6 217.9h1M208.5 188.1h1M199.1 170.1h1M219.3 201.9h1M217.4 217.4h1M223.1 215.5h1M231.5 222.2h1M220.7 201.8h1M207.0 177.3h1M226.0 218.3h1M214.2 210.9h1M213.6 237.6h1M200.9 198.3h1M216.5 206.7h1M207.7 183.0h1M218.3 192.8h1M206.4 209.0h1M232.6 204.1h1M204.5 168.7h1M221.4 201.6h1M211.2 233.2h1M232.5 205.2h1M215.4 200.4h1M201.6 233.8h1M228.0 209.3h1M219.6 231.6h1M216.3 200.4h1M231.3 231.0h1M233.3 219.3h1M219.7 205.1h1M227.2 211.2h1M199.8 198.7h1M205.0 192.8h1M222.9 226.5h1M207.5 199.2h1M211.6 237.7h1M230.6 207.6h1M196.0 189.8h1M216.8 225.5h1M201.1 169.6h1" stroke="#459dd2"/><path d="M212.8 201.0h1M193.3 174.8h1M219.7 208.5h1M203.4 191.7h1M230.4 226.6h1M203.9 207.2h1M205.3 199.8h1M221.3 219.4h1M200.2 205.1h1M195.8 199.4h1M218.0 229.7h1M215.0 204.4h1M221.6 202.4h1M209.3 171.2h1M220.0 204.1h1M199.1 204.4h1M207.5 218.1h1M229.9 204.6h1M224.1 210.6h1M209.7 234.7h1M199.0 232.1h1M219.2 196.4h1M224.1 203.4h1M228.1 210.4h1M212.9 178.5h1M207.1 210.9h1M217.2 232.0h1M206.4 174.5h1M208.1 215.3h1M217.7 237.0h1M213.5 181.6h1M200.6 197.9h1M203.1 212.2h1M224.2 228.6h1M198.6 203.4h1M223.6 191.4h1M216.9 189.0h1M202.3 175.6h1M190.7 229.7h1M224.1 197.8h1M212.9 238.4h1M208.7 205.5h1M195.4 188.7h1M200.9 212.4h1M212.9 237.9h1M234.7 219.0h1M195.3 180.6h1M210.5 220.0h1M200.3 237.6h1M206.8 179.2h1M232.7 217.6h1M198.9 185.3h1M195.3 184.5h1M236.0 209.8h1M221.7 238.5h1M230.2 200.5h1M219.1 193.0h1M207.1 173.6h1M205.7 185.9h1M199.2 181.2h1M219.1 231.2h1M196.3 229.2h1M219.2 192.2h1M213.5 238.7h1M198.3 188.7h1M232.8 219.8h1M207.5 236.6h1M216.4 191.0h1M216.8 190.0h1M197.9 189.0h1M208.3 237.3h1M202.6 210.2h1M206.5 178.3h1M205.3 217.1h1M190.4 193.9h1M216.2 191.8h1M224.7 226.1h1M198.8 180.2h1M216.7 189.3h1M205.7 228.4h1M212.1 218.0h1M199.9 183.8h1M220.0 222.2h1M222.8 232.3h1M203.4 238.4h1M209.5 182.3h1M219.6 224.0h1M226.8 200.4h1M208.2 231.7h1M206.2 194.0h1M208.8 214.5h1M226.5 205.7h1M218.7 224.1h1M202.8 211.3h1M199.8 205.1h1M211.1 232.1h1M200.5 172.6h1M235.5 221.3h1M225.7 198.3h1M207.7 214.1h1M199.6 236.9h1M196.1 198.5h1M207.2 233.0h1M213.1 179.5h1M211.6 172.7h1M218.2 232.0h1M226.5 226.0h1M230.7 198.4h1M203.7 224.0h1M211.2 176.6h1M219.4 206.1h1M209.8 171.0h1M221.1 192.1h1M192.9 174.5h1M221.7 189.6h1M233.1 224.6h1M194.3 232.6h1M198.2 187.7h1M201.0 173.4h1M210.6 188.2h1M219.6 197.4h1M225.8 197.2h1M222.6 230.0h1M203.5 215.2h1M209.1 214.4h1M203.2 194.2h1M220.8 194.1h1M204.5 177.8h1M227.3 202.0h1M198.0 199.4h1M200.0 173.3h1M210.8 184.2h1M231.0 227.5h1M199.9 183.2h1M195.9 185.8h1M203.2 182.5h1M234.7 218.1h1M231.7 227.5h1M198.9 230.1h1M231.9 203.4h1M218.9 195.6h1M230.8 197.7h1M209.4 174.3h1M201.0 204.5h1M228.4 228.2h1M227.3 235.5h1M213.8 196.9h1M234.5 203.8h1M204.9 215.6h1M234.9 201.5h1M213.9 178.3h1M204.5 227.5h1M228.5 235.0h1M192.2 173.7h1M202.5 178.6h1M202.2 170.6h1M202.2 210.9h1M220.9 235.6h1M231.5 218.0h1M198.5 191.4h1M203.3 230.2h1M219.7 233.7h1M216.2 193.6h1M203.4 198.5h1M227.4 208.2h1M198.3 186.7h1M199.1 186.6h1M194.1 225.8h1M203.1 168.5h1M214.8 220.0h1M197.9 183.2h1M210.0 205.8h1M231.8 205.7h1M217.2 188.9h1M203.1 204.7h1M200.1 194.4h1M217.9 238.7h1M193.4 229.9h1M211.3 234.5h1M213.9 182.2h1M224.7 238.0h1M215.0 175.3h1M224.2 203.6h1M207.1 180.8h1M204.7 236.5h1M201.9 198.3h1M210.4 192.5h1M199.3 204.8h1M194.5 226.7h1M199.1 232.4h1M208.2 171.9h1M216.8 192.7h1M227.2 197.1h1M196.5 181.4h1M228.9 195.6h1M205.0 202.6h1M205.5 237.2h1M229.9 201.5h1M200.1 230.5h1M204.4 228.6h1M206.1 201.9h1M209.9 219.4h1M208.2 232.7h1M200.2 172.7h1M201.1 224.7h1M201.3 168.5h1M195.5 174.9h1M197.0 198.9h1M208.6 220.7h1M208.9 168.8h1M196.9 189.3h1M210.5 174.9h1M211.8 179.9h1M218.8 194.0h1M211.5 177.1h1M196.3 197.9h1M211.3 191.8h1M209.6 213.5h1M209.6 176.5h1M193.6 182.6h1M230.4 196.7h1M202.8 221.2h1M214.6 218.6h1M197.9 233.7h1M204.7 173.4h1M228.9 196.2h1M214.9 198.1h1M225.7 238.2h1M225.1 210.2h1M237.0 209.4h1M196.1 189.4h1M229.2 223.5h1M205.6 217.2h1M209.2 212.6h1M217.8 212.1h1M206.9 213.7h1M210.7 181.9h1M212.7 183.3h1M211.4 217.1h1M206.7 187.3h1M208.0 175.5h1M208.6 189.0h1M210.6 237.5h1M221.3 193.1h1" stroke="#52b0cf"/><path d="M205.7 223.5h1M209.5 192.9h1M206.2 186.3h1M208.3 226.9h1M209.5 175.4h1M214.1 207.4h1M219.1 231.4h1M213.2 189.3h1M200.7 229.8h1M195.8 235.5h1M217.1 230.2h1M212.7 205.9h1M231.2 210.1h1M208.2 213.2h1M232.8 214.9h1M204.6 217.6h1M224.5 206.4h1M213.5 216.6h1M223.5 212.3h1M223.6 198.9h1M197.5 186.5h1M204.6 170.1h1M201.7 171.4h1M227.7 220.1h1M223.8 227.0h1M201.4 198.5h1M228.2 234.0h1M200.6 206.0h1M223.7 237.7h1M211.5 203.2h1M223.7 205.5h1M210.9 235.5h1M204.7 172.6h1M212.3 203.1h1M211.7 236.7h1M225.8 229.6h1M216.6 202.7h1M205.3 230.3h1M203.8 177.0h1M205.1 227.5h1M203.6 190.8h1M221.1 215.8h1M225.9 200.7h1M205.1 177.0h1M212.6 205.1h1M217.2 235.0h1M233.0 230.8h1M209.5 189.4h1M203.7 200.7h1M223.4 239.7h1M223.7 228.0h1M224.3 214.1h1M223.6 197.7h1M212.7 206.2h1M230.3 224.3h1M213.0 229.1h1M228.6 227.2h1M209.8 169.7h1M214.7 228.1h1M227.2 238.4h1M200.7 206.6h1M221.7 201.8h1M218.4 190.4h1M219.5 202.4h1M204.3 198.0h1M207.5 233.2h1M219.3 194.1h1M195.7 182.0h1M204.0 235.7h1M208.5 182.3h1M223.6 231.7h1M222.7 210.9h1M228.4 208.5h1M234.7 212.3h1M204.7 177.4h1M211.3 198.7h1M227.9 195.6h1M208.3 171.1h1M226.5 201.4h1M216.3 234.7h1M206.3 201.0h1M209.9 211.9h1M232.0 212.2h1M231.0 228.1h1M211.7 183.6h1M220.7 204.9h1M213.8 228.7h1M222.2 192.2h1M195.5 175.9h1M208.1 228.8h1M236.5 207.8h1M224.4 228.8h1M206.2 222.1h1M224.4 227.6h1M225.5 223.7h1M203.1 179.4h1M232.9 205.9h1M217.4 211.8h1M197.9 191.0h1M209.5 176.9h1M211.8 219.3h1M224.6 228.7h1M226.7 238.2h1M229.4 226.8h1M203.4 217.6h1M233.2 204.0h1M215.6 223.0h1M225.1 227.1h1M207.8 220.4h1M209.4 175.5h1M216.3 230.5h1M227.8 219.2h1M217.0 216.5h1M197.3 174.8h1M220.4 236.0h1M225.0 200.1h1M230.2 230.7h1M211.5 192.4h1M203.7 196.0h1M218.4 231.9h1M216.3 229.6h1M204.7 178.3h1M202.4 210.7h1M207.1 229.1h1M205.1 171.0h1M222.4 202.6h1M234.2 219.8h1M209.4 176.4h1M203.5 178.1h1M226.1 199.7h1M210.3 177.3h1M216.1 235.7h1M202.9 226.4h1M203.5 170.3h1M220.1 228.6h1M215.0 178.4h1M227.1 227.8h1M228.2 226.2h1M207.4 232.2h1M205.2 193.7h1M209.8 187.5h1M210.1 225.6h1M212.0 231.6h1M216.5 230.9h1M215.8 221.8h1M223.8 210.9h1M231.3 217.0h1M235.8 209.3h1M218.8 212.0h1M196.0 182.8h1M218.1 189.6h1M209.9 221.0h1M225.6 215.5h1M212.0 198.9h1M211.7 181.3h1M226.1 209.6h1M209.1 172.5h1M204.0 205.3h1M201.6 192.5h1M204.1 227.9h1M222.3 198.7h1M215.4 224.2h1M224.1 198.7h1M205.4 185.6h1M206.9 196.1h1M215.4 196.2h1M237.0 211.1h1M203.4 219.3h1M227.7 239.3h1M218.4 210.8h1M220.8 232.7h1M203.9 197.0h1M208.4 226.1h1M227.8 219.4h1M204.1 210.8h1M204.7 176.0h1M219.9 217.5h1M203.6 184.4h1M227.2 199.3h1M207.2 221.2h1M221.2 193.9h1M206.2 169.6h1M218.2 232.0h1M210.1 169.0h1M226.0 207.5h1M227.9 200.6h1M212.0 238.7h1M229.7 208.8h1M208.0 201.2h1M216.3 227.6h1M196.5 174.2h1M200.9 187.6h1M221.4 232.8h1M219.8 212.0h1M214.6 236.3h1M203.6 191.9h1M208.1 235.7h1M202.9 171.6h1M211.9 221.0h1M231.1 211.6h1M219.4 203.3h1M216.4 223.1h1M209.0 201.0h1M224.2 226.5h1M233.3 229.3h1M222.2 202.6h1M205.3 178.2h1M222.3 234.3h1M216.5 226.4h1M212.7 217.1h1M198.8 198.7h1M221.1 236.7h1M211.8 193.4h1M211.6 192.8h1M230.1 211.3h1M218.8 214.9h1M207.6 202.6h1M233.1 213.1h1M210.9 202.5h1M212.2 229.1h1M209.0 205.4h1M223.6 233.4h1M201.3 189.7h1M212.9 207.2h1M229.0 233.3h1M227.0 207.8h1M216.8 197.6h1M228.6 218.6h1M215.2 233.7h1M207.0 187.0h1M220.4 232.9h1M200.6 194.8h1M202.8 172.6h1M206.9 201.9h1M195.5 208.4h1M195.2 176.9h1M207.5 222.2h1M197.5 191.6h1M217.0 234.0h1M212.3 170.8h1M230.4 210.6h1M208.0 232.2h1M228.5 219.4h1M194.0 174.1h1M213.3 221.5h1M214.7 196.3h1M208.1 211.1h1M223.8 229.6h1M221.6 191.9h1M205.4 200.9h1M209.9 236.1h1M221.6 230.2h1M224.9 207.1h1M214.0 220.6h1M219.2 237.2h1M208.9 204.4h1M214.4 217.4h1M232.2 224.1h1M207.6 209.4h1M196.0 176.8h1M206.8 181.9h1M215.2 195.4h1M218.0 207.4h1M229.8 223.1h1M203.8 232.0h1M233.3 205.0h1M198.5 199.1h1M199.3 182.9h1M226.6 227.9h1M208.2 227.9h1M208.9 227.1h1M194.9 183.5h1M213.1 218.9h1M233.2 218.3h1M208.8 179.6h1M231.2 200.6h1M208.1 225.9h1M221.9 221.3h1M210.9 219.0h1M207.2 170.4h1M214.4 221.6h1M234.2 210.5h1M197.8 196.2h1M205.0 172.4h1M230.4 234.4h1M205.9 232.4h1M201.1 193.9h1M216.3 198.4h1M203.5 189.8h1M200.3 204.8h1M203.4 190.7h1M210.5 189.8h1M209.2 201.6h1M235.5 208.3h1M199.9 179.5h1M233.8 219.9h1M226.9 196.0h1M207.7 196.7h1M216.4 231.9h1M208.1 225.4h1M211.8 204.1h1M224.1 198.9h1M219.8 194.0h1M232.9 210.8h1M213.6 218.4h1M224.6 231.2h1M231.2 232.0h1M206.4 179.3h1M225.4 227.8h1M223.2 222.3h1M206.1 180.5h1M204.3 201.8h1M212.1 183.1h1M232.5 211.4h1M221.3 202.6h1M232.7 206.2h1M207.5 188.0h1M221.9 215.2h1M216.5 235.6h1M203.8 192.6h1M209.5 184.7h1M215.2 210.5h1M207.0 192.3h1M202.4 179.6h1" stroke="#4ba6d0"/><path d="M193.0 232.7h1M202.7 216.2h1M195.9 179.8h1M223.5 230.5h1M196.3 235.0h1M188.4 198.1h1M192.1 212.2h1M202.1 213.9h1M193.8 183.6h1M199.4 220.9h1M193.8 231.9h1M186.8 178.6h1M196.3 195.6h1M193.3 182.0h1M189.1 221.4h1M193.3 204.9h1M197.8 207.7h1M191.8 180.8h1M198.0 173.2h1M190.5 201.0h1M193.9 192.3h1M198.5 211.8h1M212.3 237.9h1M202.6 221.7h1M205.7 223.0h1M196.5 210.0h1M197.7 199.4h1M201.3 217.3h1M199.3 228.2h1M194.4 190.0h1M202.9 183.5h1M200.7 184.4h1M201.4 220.9h1M192.3 196.4h1M194.0 217.1h1M193.1 225.4h1M200.6 216.5h1M200.2 230.7h1M193.3 231.8h1M192.6 190.3h1M191.2 176.8h1M201.4 224.0h1M195.7 182.6h1M191.6 185.9h1M202.3 232.0h1M211.5 228.5h1M199.3 229.2h1M192.0 189.6h1M193.3 208.4h1M199.9 239.4h1M200.6 209.7h1M194.7 202.2h1M188.8 210.8h1M208.9 238.1h1M194.9 198.8h1M200.5 234.4h1M192.3 216.6h1M193.9 233.6h1M204.6 223.6h1M200.8 215.4h1M203.2 232.8h1M193.1 225.2h1M196.9 180.4h1M208.9 226.1h1M202.4 221.2h1M193.8 196.8h1M195.5 211.7h1M192.7 177.5h1M196.8 209.3h1M191.4 202.2h1M197.6 219.7h1M189.5 198.1h1M194.7 177.6h1M188.6 188.0h1M194.1 198.1h1M197.2 235.8h1M204.4 238.1h1M191.3 208.4h1M191.1 194.0h1M208.8 221.1h1M199.9 215.3h1M187.9 209.3h1M206.6 217.5h1M194.2 231.9h1M198.4 224.8h1M198.0 221.7h1M197.4 224.5h1M190.8 228.3h1M192.8 230.9h1M195.2 229.3h1M192.0 186.5h1M192.1 182.5h1M206.6 221.6h1M195.5 194.9h1M200.3 181.5h1M199.6 225.0h1M192.5 224.9h1M188.7 210.0h1M193.2 219.0h1M206.6 233.0h1M202.4 238.2h1M199.8 231.7h1M194.4 203.3h1M192.3 176.8h1M190.0 180.0h1M197.6 222.3h1M203.4 221.0h1M188.3 199.1h1M199.0 214.8h1M198.2 235.5h1M192.7 229.0h1M189.9 224.4h1M197.5 199.8h1M205.1 216.7h1M195.3 187.7h1M195.9 194.2h1M193.5 211.2h1M196.5 203.4h1M192.0 230.2h1M194.0 218.9h1M199.1 221.9h1M198.3 222.5h1" stroke="#5fbcba"/><path d="M198.6 175.8h1M206.1 228.9h1M201.6 210.0h1M200.3 205.7h1M196.7 219.3h1M196.9 236.8h1M205.0 205.5h1M209.9 220.4h1M223.8 213.5h1M209.1 235.5h1M190.6 178.1h1M194.4 227.7h1M222.6 197.6h1M202.7 211.3h1M205.7 224.0h1M201.7 169.6h1M204.0 186.5h1M217.5 190.5h1M200.9 233.4h1M188.1 224.0h1M204.4 217.6h1M190.2 192.3h1M202.8 182.4h1M205.0 186.7h1M211.8 233.6h1M205.7 221.1h1M207.8 221.2h1M200.5 224.4h1M197.0 198.6h1M218.4 213.0h1M194.2 173.0h1M195.2 181.0h1M195.5 203.4h1M190.9 224.6h1M204.7 193.0h1M213.6 222.5h1M196.6 198.4h1M204.6 167.6h1M193.1 175.5h1M208.0 168.7h1M207.9 231.4h1M195.0 201.8h1M209.7 230.0h1M208.9 235.1h1M200.3 205.3h1M206.0 181.2h1M211.3 228.8h1M200.9 189.5h1M192.0 222.9h1M201.5 180.8h1M203.0 176.3h1M199.9 180.5h1M203.7 178.5h1M196.2 180.9h1M199.6 182.1h1M187.3 195.5h1M202.7 210.3h1M194.9 192.7h1M204.6 192.7h1M197.2 234.4h1M212.0 229.2h1M195.1 175.9h1M201.9 218.2h1M191.7 228.9h1M198.4 207.9h1M187.8 199.0h1M217.6 227.2h1M193.9 228.6h1M207.4 215.1h1M196.8 199.9h1M195.5 181.6h1M198.7 210.7h1M203.1 237.4h1M199.3 231.1h1M209.9 208.6h1M208.8 187.3h1M205.0 223.8h1M193.9 230.9h1M208.4 238.7h1M193.7 177.3h1M206.6 223.1h1M212.4 228.0h1M201.6 211.7h1M198.9 208.8h1M198.9 191.2h1M195.5 182.0h1M202.1 210.3h1M203.1 214.2h1M202.3 189.8h1M204.0 236.9h1M210.4 229.3h1M198.7 216.8h1M224.2 213.8h1M188.8 178.7h1M202.3 234.1h1M198.1 232.7h1M195.4 179.0h1M196.8 195.6h1M228.8 199.4h1M204.5 232.1h1M197.9 177.3h1M207.3 238.8h1M187.7 181.1h1M216.7 236.8h1M191.0 193.1h1M203.5 192.7h1M202.6 233.5h1M215.9 237.5h1M196.5 191.6h1M195.4 198.1h1M201.7 225.3h1M225.0 226.4h1M192.1 189.4h1M217.6 193.6h1M208.6 195.3h1M202.8 218.8h1M198.1 238.4h1M226.6 210.5h1M202.4 233.0h1M205.1 174.1h1M196.9 186.1h1M203.8 189.7h1M198.9 182.9h1M226.2 224.7h1M210.4 228.1h1M191.7 178.0h1M193.7 227.0h1M207.0 222.2h1M196.9 177.3h1M199.5 206.0h1M199.2 231.1h1M233.9 217.1h1M202.3 222.7h1M209.1 225.3h1M193.4 202.7h1M198.9 239.0h1M203.4 212.1h1M197.1 199.0h1M189.9 183.1h1M201.9 226.3h1M198.3 187.1h1M200.1 169.9h1M202.4 222.2h1M206.4 233.3h1M199.7 185.9h1M196.7 173.2h1M194.4 230.4h1M203.1 210.5h1M210.3 237.4h1M198.2 228.6h1M203.1 177.8h1M205.0 239.0h1M202.2 170.1h1M215.0 174.2h1M202.0 181.6h1M207.0 222.1h1M208.0 183.8h1M204.3 230.6h1M200.3 190.0h1M231.9 212.5h1M212.7 180.9h1M206.4 182.8h1M206.1 171.2h1M211.3 175.6h1M210.7 229.2h1M199.9 208.8h1M194.0 183.0h1M207.4 236.8h1M214.1 181.2h1M198.9 173.6h1M211.2 237.8h1M202.9 220.3h1M201.7 194.1h1M198.8 207.4h1" stroke="#58b9cd"/><path d="M181.8 204.3h1M183.7 204.9h1M183.5 217.9h1M184.1 180.6h1M189.7 178.4h1M182.8 208.8h1M185.5 196.5h1M183.1 200.6h1M181.7 215.2h1M189.5 186.2h1M182.2 216.7h1M182.8 200.7h1M183.2 183.3h1M183.1 190.9h1M186.6 221.8h1M178.5 187.8h1M185.1 211.2h1M182.6 209.3h1M185.0 204.4h1M194.3 216.1h1M182.7 218.7h1M179.0 197.5h1M185.4 180.8h1M185.4 208.7h1M183.0 216.3h1M186.5 212.9h1M179.5 188.1h1M183.7 181.9h1M187.3 186.6h1M175.6 214.2h1M182.2 200.1h1M190.7 206.4h1M182.9 196.0h1M184.7 209.5h1M183.5 192.7h1M185.9 211.2h1M185.6 187.9h1M184.1 182.8h1M186.1 217.0h1M191.1 211.9h1M182.1 179.0h1M185.2 201.0h1M186.1 201.6h1M183.8 195.6h1M182.3 205.7h1M184.2 190.9h1M193.9 210.0h1M187.6 189.8h1M181.2 193.2h1M183.5 183.7h1M182.2 186.9h1M184.8 195.7h1M184.0 216.0h1M185.3 190.7h1M185.4 216.5h1M182.8 186.1h1M192.3 208.4h1M181.4 186.4h1M184.3 217.2h1M183.2 216.8h1M182.8 187.7h1M182.5 191.3h1" stroke="#95cd6e"/><path d="M181.3 200.5h1M176.6 213.8h1M182.5 203.6h1M181.7 207.7h1M177.0 215.1h1M180.6 183.1h1M176.6 187.0h1M181.3 217.4h1M179.5 199.7h1M175.5 186.8h1M177.2 217.1h1M178.4 217.1h1M178.8 191.2h1M181.4 184.9h1M179.5 196.7h1M182.1 211.3h1M177.7 184.5h1M176.0 209.0h1M178.7 192.1h1M177.5 211.1h1M178.3 201.8h1M180.4 196.1h1M177.7 192.3h1M178.6 203.5h1M178.5 200.0h1M181.0 193.3h1M177.8 211.9h1M180.5 197.8h1M182.0 210.5h1M183.1 210.6h1M179.0 219.0h1M187.1 204.5h1M180.8 214.6h1M184.3 189.6h1M182.5 208.3h1M175.2 201.6h1M179.9 197.0h1M181.7 192.6h1M177.9 194.4h1" stroke="#bfd253"/><path d="M169.5 198.9h1M165.1 206.1h1M168.8 198.6h1M168.5 202.2h1M168.6 196.0h1M169.7 196.0h1M164.0 208.3h1M168.9 187.6h1M168.3 182.4h1M167.0 202.2h1M169.8 195.7h1M166.2 198.6h1M168.7 197.5h1M168.7 191.3h1M169.2 181.8h1M169.5 210.2h1M168.4 199.3h1M168.0 207.9h1M167.3 195.2h1" stroke="#e45737"/><path d="M229.4 211.0h1M208.8 207.4h1M224.3 199.9h1M218.9 217.0h1M210.5 212.0h1M210.0 201.1h1M220.9 221.7h1M213.3 210.2h1M237.6 206.3h1M213.6 181.4h1M220.8 214.7h1M210.6 210.0h1M206.3 178.4h1M211.3 203.4h1M223.0 214.3h1M201.0 194.9h1M212.5 212.7h1M211.7 212.2h1M197.6 172.2h1M210.9 211.5h1M224.2 237.9h1M204.8 205.4h1M214.6 223.7h1M205.1 171.4h1M234.4 210.2h1M205.8 196.3h1M223.2 218.8h1M205.3 199.8h1M211.7 180.4h1M218.3 216.1h1M217.0 231.3h1M215.5 197.7h1M237.4 214.3h1M220.9 229.7h1M221.8 203.4h1M235.9 216.4h1M231.8 208.0h1M207.6 207.7h1M234.8 202.8h1M197.6 168.6h1M218.2 192.7h1M222.1 194.2h1M223.4 219.5h1M210.4 207.8h1M200.7 207.0h1M230.6 232.9h1M217.8 210.9h1M207.3 196.6h1M234.9 201.9h1M225.7 227.0h1M212.2 237.1h1M210.9 221.1h1M198.3 174.0h1M203.5 193.6h1M222.1 221.1h1M229.2 218.6h1M211.1 205.8h1M197.8 186.5h1M233.6 219.1h1M228.0 207.8h1M215.4 223.1h1M224.1 199.6h1M223.7 221.3h1M216.1 206.6h1M221.3 234.7h1M221.6 237.6h1M232.2 211.6h1M232.7 219.5h1M205.1 180.2h1M213.0 194.0h1M203.2 170.1h1M206.3 202.9h1M228.6 216.4h1M216.6 215.5h1M228.0 237.4h1M207.3 171.4h1M227.4 210.2h1M203.9 198.7h1M213.8 218.2h1M226.5 216.4h1M223.5 215.2h1M219.1 223.1h1M218.7 211.2h1M214.2 222.4h1M227.5 236.5h1M206.7 199.8h1M200.3 204.7h1M212.0 199.4h1M212.8 179.7h1M220.5 212.8h1M214.3 194.3h1M227.5 237.4h1M203.6 195.0h1M226.5 228.6h1M207.8 214.0h1M233.9 204.7h1M218.5 209.8h1M224.5 239.7h1M207.4 208.7h1M217.3 221.4h1M222.3 193.2h1M227.4 208.2h1M219.1 204.3h1M201.5 172.4h1M217.8 211.7h1M207.6 224.4h1M229.0 221.5h1M214.2 173.5h1M216.0 211.1h1M223.2 238.7h1M214.6 232.9h1M227.0 219.9h1M225.6 225.7h1M213.3 199.4h1M230.6 209.3h1M236.4 211.9h1M220.6 201.9h1M219.1 199.9h1M196.5 174.5h1M216.5 222.5h1M237.0 218.2h1M214.2 206.1h1M224.9 196.7h1M209.1 206.4h1M229.3 215.6h1M217.5 189.9h1M220.6 231.7h1M214.1 201.7h1M233.9 216.1h1M219.0 230.5h1M225.0 215.9h1M220.9 195.7h1M215.2 219.5h1M220.8 217.9h1" stroke="#4291cd"/><path d="M194.2 209.6h1M190.3 177.3h1M195.7 199.1h1M189.3 214.5h1M196.6 222.5h1M193.4 203.7h1M197.5 215.1h1M194.9 199.8h1M191.6 184.9h1M193.5 230.9h1M189.3 213.9h1M198.2 226.4h1M188.7 179.7h1M194.5 231.2h1M195.1 223.7h1M194.9 210.0h1M193.5 189.6h1M193.1 227.8h1M194.5 208.6h1M199.6 219.3h1M193.3 197.5h1M198.4 215.1h1M190.0 212.1h1M186.4 188.6h1M190.5 186.5h1M196.9 228.4h1M191.9 187.5h1M202.5 221.0h1M194.2 177.0h1M193.3 216.2h1M194.5 211.6h1M183.3 206.1h1M204.7 226.5h1M194.9 195.8h1M193.4 191.0h1M192.2 213.2h1M196.2 220.9h1M192.2 213.4h1M192.4 228.6h1M203.2 220.3h1M187.7 209.6h1M191.4 220.5h1M194.9 195.5h1M199.6 216.7h1M192.8 209.9h1M198.6 236.6h1M199.9 233.6h1M187.3 214.8h1M191.8 180.6h1M204.5 233.2h1M192.1 222.2h1M196.9 196.7h1M197.6 218.8h1M198.0 214.8h1M194.6 222.8h1M188.4 180.7h1M191.3 196.3h1M183.0 202.5h1M228.2 197.0h1M201.7 215.9h1M194.1 224.8h1M199.3 224.4h1M199.6 227.4h1M197.6 198.6h1M197.5 216.1h1M187.0 210.9h1M194.2 193.5h1M203.6 219.4h1M193.3 206.0h1M198.6 227.3h1M192.6 217.0h1M194.0 222.8h1M196.7 213.9h1M192.3 223.9h1M196.1 221.2h1M188.0 210.6h1M195.0 208.5h1M194.1 209.2h1M208.3 231.3h1M194.7 203.2h1M194.3 191.0h1M187.4 222.3h1M202.7 220.0h1M194.0 198.3h1M197.2 217.1h1M196.9 223.6h1M196.0 200.6h1M191.2 207.3h1M192.8 224.5h1M193.8 222.2h1M194.6 184.2h1M190.6 209.6h1M198.3 217.9h1M187.3 194.5h1M198.6 219.4h1M197.5 214.6h1M193.4 205.7h1M186.3 195.8h1M182.2 217.0h1M198.2 210.9h1M193.5 216.7h1M197.3 221.0h1M190.1 200.1h1M189.3 180.8h1M190.4 195.0h1M191.6 190.6h1" stroke="#66bfa8"/><path d="M192.1 225.4h1M185.3 218.5h1M188.4 214.7h1M192.6 222.1h1M188.2 209.0h1M190.4 207.7h1M187.8 182.4h1M191.9 217.5h1M197.8 217.1h1M186.6 194.0h1M192.4 202.6h1M192.3 181.8h1M189.3 200.7h1M199.2 228.4h1M181.8 186.1h1M184.4 181.1h1M196.0 219.0h1M198.0 216.9h1M187.6 224.9h1M191.0 193.0h1M185.4 194.4h1M199.0 212.7h1M187.8 191.8h1M192.4 216.6h1M189.2 206.2h1M185.6 192.3h1M193.8 203.4h1M193.2 217.2h1M192.9 214.2h1M196.6 193.5h1M186.7 206.1h1M193.1 222.4h1M178.4 202.8h1M188.9 182.4h1M185.5 203.5h1M191.7 181.6h1M194.1 206.7h1M192.4 222.2h1M191.5 182.0h1M195.7 195.3h1M182.2 218.8h1M197.5 210.1h1M184.1 182.7h1M188.7 181.7h1M191.7 185.5h1M192.7 223.1h1M196.1 220.2h1M193.5 215.0h1M187.3 200.2h1M185.1 216.7h1M186.2 217.1h1M194.3 216.0h1M186.7 201.1h1M189.7 190.2h1M187.2 211.3h1M186.7 211.9h1M192.3 184.2h1M186.9 182.0h1M188.9 224.3h1M199.4 206.5h1M180.1 189.0h1M195.2 229.8h1M190.3 196.0h1M193.7 201.8h1M184.6 215.2h1M194.2 218.9h1M190.2 200.0h1M187.3 214.3h1M194.6 202.8h1M182.7 215.3h1M189.5 182.2h1M185.7 200.1h1M195.0 219.1h1M193.1 204.7h1M195.0 194.8h1M187.6 199.3h1M183.9 201.3h1M190.1 200.1h1M189.8 184.8h1M186.1 188.2h1M188.7 190.2h1M184.7 199.9h1M186.0 204.3h1M188.4 215.0h1M188.3 214.3h1M187.9 190.7h1M191.0 191.4h1M199.7 217.1h1M187.4 194.5h1M190.5 182.3h1M188.2 210.1h1M188.6 181.7h1M191.5 217.3h1M188.9 187.0h1M186.5 193.7h1" stroke="#6dc295"/><path d="M173.3 183.1h1M173.8 183.8h1M173.0 199.3h1M171.7 196.7h1M174.1 183.1h1M178.8 193.2h1M175.2 208.7h1M170.2 212.7h1M176.7 192.8h1M173.4 203.8h1M171.4 212.1h1M175.3 207.4h1M174.1 194.7h1M172.8 185.0h1M173.3 206.7h1M174.4 203.8h1M173.3 184.7h1M177.1 182.3h1M177.4 179.0h1M175.0 183.5h1" stroke="#f0b33f"/><path d="M179.1 211.2h1M177.2 201.8h1M180.5 220.3h1M176.3 181.5h1M177.6 213.7h1M178.0 201.1h1M177.9 191.3h1M181.4 192.2h1M181.6 211.4h1M178.8 211.7h1M175.3 215.7h1M178.2 211.7h1M179.4 207.2h1M176.1 211.2h1M178.6 212.1h1M178.9 217.9h1M174.9 198.6h1M180.2 198.9h1M178.6 215.6h1M180.2 194.0h1M177.8 181.5h1M180.2 211.1h1M179.7 184.7h1M177.3 192.6h1M178.0 216.4h1M176.4 186.9h1M173.6 214.3h1M178.7 199.8h1M174.6 214.4h1M177.0 203.0h1M177.0 210.1h1M176.7 185.9h1M176.2 201.9h1" stroke="#d5d24c"/><path d="M171.2 188.4h1M170.5 204.3h1M168.8 197.5h1M170.7 186.6h1M170.0 203.5h1M170.0 182.8h1M168.9 201.4h1M171.0 187.3h1M168.6 197.3h1M169.3 193.2h1M170.5 198.7h1M170.8 197.2h1M168.8 207.2h1M166.6 199.6h1M168.4 191.4h1M169.6 180.2h1" stroke="#ec6837"/><path d="M181.4 209.3h1M182.5 192.3h1M185.1 197.5h1M183.8 193.4h1M178.1 218.0h1M185.1 205.4h1M180.4 206.8h1M177.0 191.8h1M182.0 180.7h1M184.8 193.6h1M183.7 196.7h1M180.5 203.7h1M189.6 207.2h1M181.5 220.0h1M180.0 193.1h1M179.6 183.9h1M181.5 199.5h1M183.0 180.5h1M179.0 193.4h1M182.4 219.6h1M181.7 219.8h1M184.8 212.2h1M177.3 189.3h1M181.4 218.8h1M176.3 214.7h1M177.0 198.7h1M181.7 210.3h1M181.9 185.5h1M185.1 213.1h1M185.8 193.3h1M177.1 185.4h1M182.7 186.7h1M187.0 187.6h1M183.4 190.3h1M184.5 217.9h1M186.5 188.5h1M184.6 209.9h1M187.1 204.0h1M180.9 182.3h1M179.3 189.6h1M180.4 219.1h1M185.5 210.2h1M183.6 209.5h1M182.0 173.8h1" stroke="#aad25a"/><path d="M176.3 196.3h1M177.2 193.3h1M177.4 184.4h1M176.1 209.1h1M176.2 208.0h1M176.2 201.5h1M181.2 194.3h1M176.3 186.2h1M176.2 193.3h1M174.6 187.5h1M172.8 208.2h1M176.3 212.2h1M174.2 196.8h1M176.5 187.9h1M174.0 216.3h1M176.0 181.7h1M177.3 207.8h1M178.3 189.5h1M177.9 200.8h1M180.2 183.1h1M178.5 204.5h1M178.7 184.5h1M175.0 204.6h1M178.1 219.0h1M176.9 194.3h1M178.2 207.3h1M176.6 183.2h1M174.7 199.9h1M178.0 191.7h1M175.2 206.4h1M177.2 201.8h1M178.2 183.7h1M179.7 212.2h1" stroke="#e7cf45"/><path d="M219.2 200.9h1M221.8 219.3h1M204.0 199.8h1M216.5 232.8h1M209.2 209.4h1M218.5 225.1h1M220.2 216.4h1M229.0 207.8h1M213.2 211.2h1M211.9 197.9h1M207.8 214.4h1M228.2 202.5h1M228.6 209.4h1M217.1 221.7h1M224.0 216.0h1M202.6 193.6h1M236.1 211.7h1M220.0 201.0h1M208.2 196.2h1M231.2 205.6h1M217.3 212.9h1M231.8 223.2h1M207.2 233.9h1M215.3 199.9h1M216.6 227.6h1M228.5 225.0h1M222.3 213.5h1M221.0 221.1h1M231.3 198.6h1M212.7 222.1h1M217.3 200.9h1M229.3 234.3h1M224.4 206.2h1M222.6 233.7h1M226.2 222.9h1M210.4 203.7h1M226.9 204.8h1M217.2 206.8h1M202.4 198.8h1M207.5 207.5h1M214.6 223.9h1M231.9 204.6h1M224.2 217.1h1M209.0 183.8h1M228.4 210.8h1M224.2 237.7h1M221.4 192.9h1M205.8 203.8h1" stroke="#3e84c7"/><path d="M187.1 201.6h1M182.0 201.3h1M190.2 211.1h1M190.6 208.6h1M185.3 214.2h1M194.7 196.8h1M184.5 192.8h1M182.6 204.9h1M187.7 184.9h1M183.9 220.8h1M187.5 188.7h1M188.7 184.8h1M185.2 217.5h1M182.4 190.3h1M192.8 196.6h1M185.0 204.2h1M181.3 183.9h1M189.7 188.1h1M187.4 214.7h1M183.3 189.9h1M184.8 219.0h1M181.0 206.0h1M185.0 218.5h1M184.9 213.2h1M184.4 216.5h1M188.2 221.7h1M189.4 214.6h1M194.8 196.5h1M182.4 201.7h1M185.2 198.5h1M184.8 182.1h1M182.2 217.7h1M184.0 218.8h1M179.3 202.7h1M189.6 210.2h1M194.7 215.2h1M187.6 189.8h1M196.0 208.7h1M183.7 219.0h1M186.3 192.7h1M184.8 196.7h1M190.9 199.3h1M194.5 194.5h1M200.3 224.0h1M190.5 189.5h1M192.2 221.2h1M185.3 197.6h1M182.5 189.2h1M182.4 186.2h1M186.9 205.0h1M185.7 212.2h1M180.4 186.6h1M189.3 199.5h1M188.5 221.6h1M186.4 200.9h1M190.0 207.8h1M187.6 188.1h1M186.5 189.6h1M194.9 218.2h1M188.2 200.6h1M195.7 223.0h1M187.6 222.1h1M185.1 182.8h1M192.4 224.0h1M181.5 203.8h1M186.2 208.1h1M183.9 219.8h1M186.3 214.4h1M185.2 217.7h1M184.3 206.1h1M189.7 209.7h1" stroke="#7fc781"/><path d="M176.3 206.5h1M172.0 208.8h1M173.8 198.8h1M176.8 209.8h1M170.1 211.0h1M177.0 205.1h1M173.8 217.3h1M177.7 199.5h1M176.5 185.2h1M172.0 198.3h1M175.4 181.0h1M177.2 204.0h1M172.4 194.9h1M177.9 197.6h1M171.3 214.2h1M177.0 182.3h1M176.9 179.9h1M175.4 196.8h1M174.4 185.9h1M178.4 194.3h1M173.6 207.7h1M176.6 210.3h1M176.2 195.3h1M176.5 208.5h1M173.2 189.9h1M174.5 211.0h1M176.3 215.8h1M176.9 196.8h1M177.2 206.8h1M176.7 180.9h1M173.6 180.5h1M173.7 200.1h1M174.2 215.3h1M175.4 193.9h1M175.6 187.3h1M174.4 197.2h1" stroke="#ecc142"/><path d="M164.5 203.8h1M166.3 189.7h1M169.7 187.8h1M168.9 187.1h1M168.6 184.3h1M164.4 206.9h1M164.3 205.0h1M164.8 199.2h1M167.8 187.7h1M167.6 188.4h1M166.1 205.9h1M169.0 203.4h1" stroke="#d13837"/><path d="M169.3 196.6h1M167.3 211.6h1M169.4 208.3h1M167.8 209.5h1M170.6 188.3h1M170.7 204.6h1M172.5 205.8h1M168.8 208.3h1M169.8 205.1h1M168.2 211.3h1M167.5 210.6h1M173.2 184.3h1M166.7 198.3h1M169.7 186.9h1M171.2 203.7h1M168.5 210.3h1M168.6 192.4h1M168.3 199.5h1M169.9 206.0h1M168.7 198.3h1M167.7 209.6h1M170.2 184.3h1M170.3 207.0h1M173.0 179.6h1M174.0 193.5h1M168.5 210.0h1M171.4 203.7h1M168.7 208.6h1M172.3 206.8h1M170.7 180.2h1M167.1 210.2h1" stroke="#ef7c39"/><path d="M173.2 205.1h1M173.6 185.2h1M170.2 198.8h1M177.1 195.8h1M175.0 194.3h1M173.1 194.4h1M168.9 209.3h1M173.2 190.9h1M171.2 209.5h1M174.1 197.4h1M173.4 191.9h1M171.2 213.2h1M173.3 184.1h1M174.8 197.6h1M174.6 206.3h1M176.0 193.8h1M169.2 212.9h1M171.8 193.7h1M170.7 196.1h1M172.4 203.5h1M173.3 197.9h1M173.8 210.3h1M172.5 195.3h1M173.3 194.3h1M169.5 207.6h1M172.9 205.8h1M173.5 206.1h1M174.5 183.1h1M177.3 180.1h1" stroke="#f5a53c"/><path d="M164.8 194.6h1M167.2 190.2h1M165.3 198.1h1M166.7 189.6h1M166.8 188.0h1M168.0 190.6h1" stroke="#b02933"/><path d="M173.1 183.3h1M171.2 199.0h1M173.1 206.1h1M168.8 209.1h1M173.5 195.5h1M172.0 191.9h1M173.1 209.6h1M172.5 194.2h1M169.2 201.5h1M167.6 207.0h1M170.9 189.4h1M167.9 209.6h1M172.4 192.9h1M171.5 179.6h1M168.2 212.1h1" stroke="#f2913a"/><path d="M165.7 192.7h1M164.8 193.2h1" stroke="#8a1f2c"/><path d="M167.4 189.5h1M164.6 202.8h1M171.0 185.0h1M167.1 190.5h1M167.7 202.9h1M168.6 199.4h1M168.7 192.4h1M169.4 184.9h1M169.1 180.8h1M168.0 194.5h1M168.0 201.8h1M170.1 196.4h1M165.8 198.9h1M169.5 183.7h1" stroke="#da4837"/><path d="M203.6 200.9h1M212.1 194.5h1M209.7 200.7h1M222.6 222.0h1M213.8 203.7h1M212.9 204.2h1M212.7 209.3h1M223.6 207.0h1M212.9 203.9h1M208.5 203.4h1" stroke="#3b78c0"/><path d="M166.7 196.1h1M164.5 201.8h1M166.5 188.6h1M166.9 183.8h1M166.3 187.1h1M167.7 183.2h1M166.8 187.7h1M168.0 203.8h1" stroke="#c22f36"/><path d="M164.3 182.5h1M164.0 192.7h1M165.4 189.2h1" stroke="#9f2430"/><path d="M164.4 193.7h1M163.8 193.6h1M163.8 183.4h1" stroke="#741b28"/></g><path d="M161.8 163.7V243.3H241.4" stroke="#7a7a7a" stroke-width="0.9" fill="none"/><path d="M159.8 163.7H241.4" stroke="#a8a8a8" stroke-width="0.8" fill="none"/><path d="M159.6 163.7h2.2M161.8 243.3v2.2M160.2 168.7h1.6M166.8 243.3v1.6M160.2 173.6h1.6M171.8 243.3v1.6M160.2 178.6h1.6M176.7 243.3v1.6M159.6 183.6h2.2M181.7 243.3v2.2M160.2 188.6h1.6M186.7 243.3v1.6M160.2 193.5h1.6M191.7 243.3v1.6M160.2 198.5h1.6M196.6 243.3v1.6M159.6 203.5h2.2M201.6 243.3v2.2M160.2 208.5h1.6M206.6 243.3v1.6M160.2 213.4h1.6M211.6 243.3v1.6M160.2 218.4h1.6M216.5 243.3v1.6M159.6 223.4h2.2M221.5 243.3v2.2M160.2 228.4h1.6M226.5 243.3v1.6M160.2 233.3h1.6M231.4 243.3v1.6M160.2 238.3h1.6M236.4 243.3v1.6M159.6 243.3h2.2M241.4 243.3v2.2" stroke="#6a6a6a" stroke-width="0.7" fill="none"/><text x="155.8" y="166.2" font-size="5.70" text-anchor="end" font-weight="normal" fill="#333" stroke="#333" stroke-width="0.25">6.1</text><text x="155.8" y="186.1" font-size="5.70" text-anchor="end" font-weight="normal" fill="#333" stroke="#333" stroke-width="0.25">3.1</text><text x="155.8" y="206.0" font-size="5.70" text-anchor="end" font-weight="normal" fill="#333" stroke="#333" stroke-width="0.25">0.1</text><text x="155.8" y="225.9" font-size="5.70" text-anchor="end" font-weight="normal" fill="#333" stroke="#333" stroke-width="0.25">−2.9</text><text x="155.8" y="245.8" font-size="5.70" text-anchor="end" font-weight="normal" fill="#333" stroke="#333" stroke-width="0.25">−5.9</text><text x="162.3" y="254.3" font-size="5.70" text-anchor="middle" font-weight="normal" fill="#3a3a3a" stroke="#3a3a3a" stroke-width="0.25">−8.5</text><text x="182.2" y="254.3" font-size="5.70" text-anchor="middle" font-weight="normal" fill="#3a3a3a" stroke="#3a3a3a" stroke-width="0.25">−4.4</text><text x="202.1" y="254.3" font-size="5.70" text-anchor="middle" font-weight="normal" fill="#3a3a3a" stroke="#3a3a3a" stroke-width="0.25">−0.3</text><text x="222.0" y="254.3" font-size="5.70" text-anchor="middle" font-weight="normal" fill="#3a3a3a" stroke="#3a3a3a" stroke-width="0.25">3.7</text><text x="241.9" y="254.3" font-size="5.70" text-anchor="middle" font-weight="normal" fill="#3a3a3a" stroke="#3a3a3a" stroke-width="0.25">7.8</text><rect x="241.4" y="163.7" width="3.8" height="79.6" fill="url(#cb)"/><path d="M245.2 167.7h-1.2M245.2 171.7h-1.2M245.2 175.6h-1.2M245.2 179.6h-1.2M245.2 183.6h-1.2M245.2 187.6h-1.2M245.2 191.6h-1.2M245.2 195.5h-1.2M245.2 199.5h-1.2M245.2 203.5h-1.2M245.2 207.5h-1.2M245.2 211.5h-1.2M245.2 215.4h-1.2M245.2 219.4h-1.2M245.2 223.4h-1.2M245.2 227.4h-1.2M245.2 231.4h-1.2M245.2 235.3h-1.2M245.2 239.3h-1.2" stroke="#fff" stroke-opacity="0.5" stroke-width="0.5"/><rect x="244.0" y="221.7" width="2.5" height="2.6" rx="1.0" fill="#000"/><text x="250.6" y="181.3" font-size="5.70" text-anchor="start" font-weight="normal" fill="#333" stroke="#333" stroke-width="0.25">10<tspan dy="-2.3" font-size="3.9">4</tspan></text><text x="250.6" y="212.3" font-size="5.70" text-anchor="start" font-weight="normal" fill="#333" stroke="#333" stroke-width="0.25">10<tspan dy="-2.3" font-size="3.9">3</tspan></text><text x="250.6" y="224.8" font-size="5.70" text-anchor="start" font-weight="normal" fill="#333" stroke="#333" stroke-width="0.25">0</text><text x="250.6" y="237.7" font-size="5.70" text-anchor="start" font-weight="normal" fill="#333" stroke="#333" stroke-width="0.25">−10<tspan dy="-2.3" font-size="3.9">3</tspan></text><text x="165.4" y="172.2" font-size="8.00" text-anchor="start" font-weight="normal" fill="#222" stroke="#222" stroke-width="0.2" textLength="19.0" lengthAdjust="spacingAndGlyphs">Sca-1</text><g stroke-width="1" fill="none" filter="url(#halo)"><path d="M341.7 174.3h1M315.6 179.7h1M313.7 178.6h1M333.9 169.0h1M328.6 171.4h1M329.9 171.2h1M339.8 178.5h1M331.6 172.6h1M330.7 177.0h1M324.9 173.2h1M321.1 177.0h1M314.6 184.9h1M335.8 170.2h1M336.7 168.3h1M311.3 181.1h1M331.5 167.6h1M335.2 171.1h1M329.3 170.8h1M325.9 174.8h1M311.7 182.1h1M304.6 184.5h1M322.3 179.0h1M333.1 169.6h1M323.8 185.6h1M311.1 190.9h1M322.1 176.9h1M339.2 170.8h1M328.4 172.4h1M316.8 183.1h1M312.2 190.7h1M327.1 172.7h1M322.4 174.9h1M319.2 176.8h1M331.9 172.4h1M329.1 170.1h1M331.6 173.4h1M328.9 181.6h1M339.6 180.9h1M334.9 175.5h1M316.2 180.8h1" stroke="#f0b33f"/><path d="M343.7 212.2h1M327.2 205.7h1M324.4 215.1h1M344.9 229.7h1M340.2 210.2h1M336.8 220.4h1M322.0 223.7h1M327.5 206.0h1M321.4 208.6h1M343.6 205.7h1M338.6 212.2h1M331.7 205.4h1M317.4 201.0h1M345.4 207.8h1M331.6 226.5h1M327.6 206.6h1M322.4 203.4h1M330.2 201.6h1M322.9 219.0h1M319.7 209.9h1M320.7 203.4h1M343.2 224.7h1M331.5 200.5h1M348.1 209.9h1M336.2 209.1h1M347.0 228.6h1M321.5 222.8h1M344.0 228.3h1M350.7 210.9h1M344.2 212.9h1M346.2 226.8h1M327.7 215.4h1M330.6 224.0h1M317.6 206.4h1M346.3 206.1h1M330.9 205.3h1M331.0 227.9h1M326.5 227.4h1M322.4 211.7h1M334.6 213.3h1M335.3 226.1h1M338.8 221.0h1M343.3 223.1h1M328.6 225.3h1M331.4 227.5h1M321.6 203.2h1M324.9 221.7h1M337.3 228.1h1M321.5 202.8h1M344.2 221.4h1M336.9 205.8h1M334.4 222.2h1M320.8 210.0h1M324.1 217.1h1M338.1 228.8h1M296.4 207.6h1M335.8 204.4h1M323.8 223.6h1M330.3 212.1h1M341.5 223.9h1M333.0 201.9h1M335.1 227.9h1M350.5 207.0h1M324.5 222.3h1M319.7 224.5h1M336.0 206.4h1M339.8 203.9h1M343.4 206.7h1M332.7 203.8h1M325.2 217.9h1M350.1 222.3h1M323.4 203.4h1M329.8 220.3h1" stroke="#4291cd"/><path d="M339.7 201.0h1M319.9 232.7h1M310.6 204.9h1M333.0 228.9h1M319.0 225.4h1M315.3 198.1h1M320.3 203.7h1M317.1 211.1h1M315.1 209.0h1M303.0 209.1h1M296.3 208.3h1M316.2 213.9h1M328.6 193.1h1M350.7 227.0h1M320.4 189.6h1M312.2 214.2h1M323.8 228.4h1M330.6 200.7h1M310.8 220.8h1M308.6 215.2h1M339.0 195.6h1M323.9 198.6h1M345.3 190.4h1M331.2 198.0h1M290.9 208.3h1M309.7 200.7h1M330.1 220.3h1M308.4 220.0h1M346.0 231.2h1M323.2 229.2h1M342.4 197.7h1M311.9 204.2h1M321.8 195.5h1M314.3 214.7h1M324.8 191.0h1M321.8 192.7h1M319.3 216.6h1M329.3 198.5h1M316.1 206.2h1M338.9 229.2h1M312.0 211.2h1M344.3 233.0h1M309.5 209.3h1M318.6 228.9h1M300.0 209.6h1M314.7 199.0h1M308.4 199.5h1M296.7 205.1h1M328.3 187.4h1M355.1 226.2h1M315.1 221.7h1M300.5 207.7h1M309.9 216.3h1M338.9 231.6h1M343.4 230.9h1M303.4 208.5h1M319.2 216.6h1M309.1 218.8h1M309.1 217.7h1M303.0 211.2h1M319.6 223.1h1M296.1 201.5h1M312.0 216.7h1M352.5 233.0h1M313.6 201.1h1M313.9 210.9h1M323.7 195.6h1M314.1 211.3h1M321.4 194.5h1M298.1 203.7h1M352.9 207.5h1M334.9 201.2h1M318.0 211.9h1M323.6 213.9h1M297.7 197.2h1M314.9 210.6h1M304.8 200.8h1M351.3 206.2h1M320.6 201.8h1M307.1 211.1h1M349.1 202.6h1M343.2 196.7h1M312.0 213.1h1M350.3 222.7h1M335.2 231.3h1M295.2 199.5h1M346.6 233.7h1M350.2 203.2h1M321.0 225.8h1M317.7 228.3h1M322.1 229.3h1M309.2 205.7h1M314.3 222.3h1M333.8 201.9h1M301.3 203.8h1M315.4 221.6h1M300.7 210.3h1M354.3 208.2h1M353.8 204.8h1M345.5 232.9h1M322.4 194.9h1M313.3 200.9h1M327.0 194.4h1M350.7 229.6h1M319.4 224.9h1M326.1 231.1h1M351.1 203.6h1M315.6 210.0h1M305.0 219.0h1M343.1 199.8h1M353.9 219.9h1M312.3 216.5h1M292.7 198.9h1M340.2 199.4h1M353.5 227.9h1M300.5 214.3h1M301.5 214.4h1M319.6 229.0h1M309.4 208.3h1M324.8 233.7h1M343.3 231.9h1M338.1 233.2h1M309.1 217.0h1M345.9 230.5h1M326.7 198.7h1M348.2 202.6h1M313.2 214.4h1" stroke="#58b9cd"/><path d="M346.8 230.1h1M336.4 192.9h1M346.1 200.9h1M340.1 189.3h1M316.2 214.5h1M303.2 206.5h1M323.8 236.8h1M300.1 205.1h1M300.7 198.8h1M350.5 198.9h1M305.0 218.0h1M336.0 235.5h1M295.4 202.2h1M297.0 211.0h1M355.1 234.0h1M327.9 194.9h1M309.7 208.8h1M298.1 199.0h1M351.0 203.4h1M294.1 190.2h1M337.8 235.5h1M295.7 209.1h1M356.2 224.4h1M315.0 224.0h1M344.1 235.0h1M359.9 230.8h1M317.6 229.7h1M317.1 192.3h1M329.7 182.4h1M363.4 217.2h1M354.1 238.4h1M291.4 201.8h1M344.1 200.8h1M296.6 196.0h1M348.6 201.8h1M334.4 233.2h1M312.1 217.5h1M298.9 198.3h1M304.8 191.3h1M298.9 191.9h1M351.3 227.6h1M305.3 217.1h1M356.3 226.8h1M360.1 204.0h1M302.1 208.7h1M331.5 192.7h1M312.5 192.3h1M303.1 193.3h1M296.9 203.5h1M343.6 189.3h1M328.8 186.5h1M305.9 197.5h1M320.2 231.8h1M294.6 202.9h1M299.7 208.2h1M296.7 195.7h1M349.3 202.6h1M311.8 213.2h1M347.3 201.8h1M330.4 193.6h1M311.3 216.5h1M353.4 205.7h1M295.8 201.4h1M306.4 196.7h1M334.3 232.2h1M316.3 214.6h1M309.0 211.3h1M306.3 207.2h1M303.1 195.3h1M295.5 199.4h1M348.9 226.0h1M354.4 211.0h1M320.8 233.6h1M355.1 197.0h1M312.1 198.5h1M300.1 189.9h1M352.2 227.9h1M334.1 233.9h1M338.9 198.9h1M342.2 199.9h1M309.8 196.0h1M356.8 200.3h1M311.6 209.5h1M355.5 216.4h1M333.8 196.1h1M342.3 196.2h1M354.9 237.4h1M357.9 206.3h1M312.8 211.2h1M301.4 211.0h1M311.7 196.7h1M354.1 199.3h1M305.2 189.5h1M334.2 238.8h1M356.6 208.8h1M325.8 230.1h1M348.3 232.8h1M324.1 235.8h1M312.2 197.6h1M304.6 192.3h1M305.5 203.5h1M331.3 238.1h1M352.8 226.9h1M361.8 201.5h1M341.2 194.3h1M325.0 238.4h1M301.9 204.6h1M291.7 199.2h1M353.1 224.7h1M313.0 201.6h1M347.3 232.9h1M331.5 231.4h1M324.4 191.6h1M348.5 191.9h1M348.5 230.2h1M351.6 238.0h1M331.6 236.5h1M353.0 199.3h1M300.6 200.1h1M321.4 226.7h1M326.0 232.4h1M341.6 197.1h1M343.7 192.7h1M354.1 197.1h1M294.8 209.6h1M299.8 205.8h1M356.7 223.1h1M325.4 199.1h1M335.1 232.7h1M303.8 194.3h1M360.1 218.3h1M356.2 205.4h1M305.6 199.8h1M305.1 207.3h1M307.7 214.6h1M328.0 193.9h1M356.2 215.6h1M343.2 198.4h1M325.1 235.5h1M311.5 209.9h1M296.4 210.2h1M313.1 208.1h1M347.5 231.7h1M359.5 204.1h1M302.1 201.6h1M306.8 197.0h1M303.1 201.9h1M358.2 231.0h1M349.8 226.5h1M337.5 237.5h1M317.3 195.0h1" stroke="#6dc295"/><path d="M332.6 223.5h1M329.6 216.2h1M346.6 208.5h1M330.8 207.2h1M345.8 217.0h1M326.3 220.9h1M323.6 219.3h1M339.6 205.9h1M332.6 224.0h1M329.4 221.0h1M330.0 212.2h1M332.6 223.0h1M345.2 216.1h1M347.6 204.9h1M338.7 219.3h1M333.5 224.5h1M334.3 215.1h1M335.7 214.5h1M342.3 223.1h1M337.0 225.6h1M342.1 222.7h1M343.0 206.6h1M323.0 220.2h1M330.0 214.2h1M329.3 221.2h1M343.5 215.5h1M338.9 218.0h1M330.5 219.4h1M340.7 218.2h1M320.2 206.0h1M346.7 212.0h1M337.5 204.4h1M329.1 210.9h1M337.4 221.3h1M333.5 221.6h1M329.2 222.7h1M340.9 220.6h1M334.4 207.5h1M335.5 220.7h1M332.5 217.2h1M336.1 212.6h1M338.3 217.1h1M343.7 225.5h1" stroke="#365fb2"/><path d="M333.1 186.3h1M336.4 175.4h1M309.4 192.3h1M336.2 171.2h1M291.7 194.6h1M294.3 189.5h1M292.2 198.1h1M317.4 186.5h1M318.8 187.5h1M332.0 177.0h1M311.4 192.8h1M303.5 187.0h1M321.1 173.0h1M361.6 219.0h1M361.6 212.3h1M339.6 182.3h1M330.0 179.4h1M326.8 180.5h1M303.2 186.2h1M333.4 178.3h1M331.6 178.3h1M318.1 176.8h1M322.4 181.6h1M301.3 185.9h1M336.4 182.3h1M357.9 231.4h1M325.2 174.0h1M318.5 185.9h1M337.0 170.1h1M338.5 172.7h1M338.6 181.3h1M334.2 171.4h1M348.6 189.6h1M295.8 187.1h1M334.9 169.3h1M305.6 192.1h1M360.6 217.8h1M317.4 189.5h1M323.4 174.2h1M338.5 181.4h1M329.7 185.9h1M358.0 211.6h1M340.8 178.3h1M332.1 171.7h1M330.7 189.7h1M333.9 187.0h1M342.4 176.2h1M310.7 195.6h1M331.5 175.0h1M300.9 193.5h1M361.9 209.5h1M320.9 174.1h1M340.8 182.2h1M323.4 181.4h1M335.7 179.6h1M323.6 173.2h1M316.9 180.0h1M326.0 170.1h1M290.9 192.7h1M320.5 182.6h1M358.8 212.5h1M360.2 219.3h1M337.6 181.9h1M339.6 183.3h1M341.0 181.2h1M343.4 235.6h1" stroke="#e7cf45"/><path d="M325.5 175.8h1M334.4 174.6h1M340.5 181.4h1M330.6 167.1h1M333.3 174.5h1M324.5 172.2h1M329.2 175.6h1M332.0 171.4h1M322.6 182.0h1M333.7 179.2h1M322.2 184.5h1M328.4 180.8h1M323.1 180.9h1M293.4 188.6h1M336.3 176.4h1M315.8 182.4h1M330.4 170.3h1M324.7 186.5h1M306.4 188.1h1M327.4 172.6h1M340.0 179.5h1M332.0 180.2h1M358.7 223.2h1M322.9 182.8h1M322.4 182.0h1M336.0 172.5h1M315.7 178.7h1M319.6 177.5h1M337.0 169.0h1M322.8 185.8h1M315.5 188.0h1M330.5 191.9h1M356.2 222.5h1M304.0 185.4h1M307.9 193.3h1M323.8 177.3h1M313.9 187.6h1M335.9 183.8h1M334.4 172.7h1M358.1 200.6h1M335.8 168.8h1M338.7 179.9h1M330.3 190.7h1M333.0 171.2h1M338.2 175.6h1M320.9 183.0h1M333.6 187.3h1M325.8 173.6h1M328.0 169.6h1" stroke="#ecc142"/><path d="M322.8 179.8h1M303.2 196.3h1M343.9 233.9h1M364.5 206.3h1M293.2 189.7h1M356.8 204.6h1M292.6 192.7h1M337.7 179.9h1M328.6 169.6h1M330.5 190.8h1M355.9 200.8h1M336.2 238.4h1M350.5 191.4h1M339.2 237.9h1M300.4 195.5h1M331.6 193.0h1M335.4 182.3h1M357.1 200.5h1M326.1 181.2h1M362.8 216.4h1M332.9 181.2h1M361.7 202.8h1M324.5 168.6h1M362.0 212.0h1M330.6 178.5h1M334.7 179.3h1M326.5 182.1h1M304.0 195.8h1M317.3 193.9h1M325.7 180.2h1M301.5 187.5h1M357.5 232.9h1M301.9 194.3h1M332.0 171.0h1M361.1 219.8h1M359.0 207.0h1M330.4 178.1h1M353.0 199.7h1M331.4 233.2h1M354.9 207.8h1M335.7 187.3h1M327.4 234.4h1M325.8 191.2h1M356.4 214.1h1M295.6 192.4h1M329.0 195.1h1M342.5 236.1h1M351.5 233.7h1M301.8 198.6h1M310.4 192.7h1M316.6 190.2h1M354.7 219.4h1M337.7 184.2h1M357.9 227.5h1M343.6 236.8h1M361.6 218.1h1M298.7 193.7h1M336.3 174.3h1M361.7 213.0h1M351.1 226.5h1M344.5 193.6h1M357.0 211.3h1M312.7 193.3h1M349.5 233.7h1M325.8 182.9h1M324.8 183.2h1M304.2 192.6h1M327.2 181.5h1M354.4 232.2h1M344.8 238.7h1M297.8 189.4h1M361.3 219.0h1M355.8 195.6h1M294.5 188.4h1M295.3 191.4h1M338.8 171.7h1M355.3 210.8h1M326.6 185.9h1M351.1 237.7h1M363.9 218.2h1M351.8 196.7h1M358.4 222.2h1M338.2 191.8h1M299.3 192.9h1M293.7 187.7h1M302.1 206.4h1M302.5 187.3h1M357.5 207.6h1M335.5 189.0h1M334.4 188.0h1" stroke="#bfd253"/><path d="M350.4 230.5h1M306.0 211.2h1M297.4 204.3h1M304.1 193.3h1M332.2 199.8h1M322.7 235.5h1M321.8 199.8h1M321.4 231.2h1M307.3 206.8h1M321.8 210.0h1M323.2 195.6h1M308.6 207.7h1M321.3 227.7h1M303.9 215.1h1M346.1 196.4h1M361.4 207.9h1M350.6 205.5h1M355.0 210.4h1M344.4 190.5h1M355.9 207.8h1M337.0 199.8h1M293.6 196.1h1M319.3 202.6h1M312.4 196.5h1M351.2 214.1h1M295.7 197.5h1M310.2 206.1h1M298.6 196.7h1M352.4 225.4h1M346.2 194.1h1M309.1 216.7h1M304.9 201.1h1M349.6 210.9h1M354.8 195.6h1M343.9 231.3h1M353.4 201.4h1M347.8 229.7h1M297.6 204.6h1M317.9 193.0h1M356.4 201.3h1M311.7 219.0h1M324.1 234.4h1M302.2 215.7h1M357.1 230.7h1M311.9 204.4h1M305.1 211.7h1M351.6 226.1h1M325.5 236.6h1M323.5 193.5h1M314.2 214.8h1M346.9 222.2h1M293.1 198.6h1M349.7 232.3h1M335.1 231.7h1M326.2 231.1h1M321.7 196.5h1M354.3 214.6h1M320.8 230.9h1M309.3 201.7h1M326.5 236.9h1M322.6 195.3h1M298.1 213.2h1M314.2 200.2h1M351.0 198.7h1M310.9 218.8h1M296.2 193.2h1M363.9 211.1h1M354.6 239.3h1M354.3 210.2h1M303.9 198.7h1M300.9 216.3h1M310.6 219.0h1M358.2 198.6h1M316.4 198.1h1M317.9 193.1h1M319.1 221.2h1M321.0 198.1h1M307.3 196.1h1M348.6 197.9h1M345.8 195.6h1M295.6 197.5h1M317.2 196.0h1M354.2 235.5h1M340.7 196.9h1M338.7 193.4h1M349.9 198.0h1M312.1 201.0h1M300.2 206.7h1M294.6 209.6h1M354.6 207.2h1M350.6 213.3h1M355.2 214.1h1M309.6 215.3h1M297.2 207.0h1M300.2 197.9h1M312.6 200.1h1M344.1 201.9h1M307.4 197.8h1M320.9 198.3h1M320.3 229.9h1M298.3 203.7h1M321.9 194.8h1M354.8 227.1h1M350.2 199.1h1M322.9 200.6h1M293.5 199.6h1M310.8 201.3h1M299.2 206.8h1M351.1 217.1h1M327.0 230.5h1M312.9 204.3h1M329.3 238.2h1M326.7 231.7h1M321.3 203.3h1M337.2 237.4h1M324.7 196.2h1M350.5 217.9h1M300.4 206.1h1M347.6 201.8h1M352.9 218.3h1M314.0 204.0h1M295.3 199.3h1M331.2 230.6h1M348.3 201.6h1M314.3 194.5h1M342.3 200.4h1M354.9 209.3h1M346.5 231.6h1M310.1 216.8h1M334.4 199.2h1M318.4 217.3h1M338.1 237.8h1M312.1 217.7h1" stroke="#5fbcba"/><path d="M308.7 204.3h1M323.2 235.0h1M298.1 188.4h1M312.0 197.5h1M291.4 203.8h1M349.4 238.7h1M324.4 186.5h1M303.7 209.8h1M354.6 220.1h1M311.7 193.6h1M325.9 232.1h1M330.9 186.5h1M344.6 237.0h1M352.8 200.7h1M336.4 189.4h1M343.8 189.0h1M338.8 197.9h1M357.2 224.3h1M355.5 227.2h1M331.9 186.7h1M355.1 202.5h1M322.2 180.6h1M306.4 199.7h1M327.6 194.5h1M358.8 218.9h1M327.2 237.6h1M348.4 191.2h1M303.1 201.5h1M325.8 185.3h1M307.4 203.7h1M308.1 194.3h1M355.5 209.4h1M357.9 228.1h1M329.8 183.5h1M327.6 184.4h1M312.3 194.4h1M305.7 193.2h1M314.7 191.8h1M357.8 206.6h1M314.2 195.5h1M335.2 237.3h1M347.2 194.0h1M347.3 236.0h1M351.9 200.1h1M327.1 230.7h1M332.1 234.0h1M339.0 194.5h1M326.8 183.8h1M352.6 227.0h1M339.1 237.1h1M330.3 238.4h1M363.0 211.7h1M305.3 202.8h1M356.1 218.6h1M329.2 232.0h1M350.8 238.9h1M341.9 178.4h1M354.8 199.1h1M335.1 196.2h1M362.4 221.3h1M335.3 238.7h1M329.4 193.0h1M309.9 202.5h1M359.6 219.5h1M362.7 209.3h1M301.0 197.4h1M339.9 194.0h1M357.6 198.4h1M352.5 215.5h1M308.6 219.8h1M348.3 201.4h1M300.3 203.8h1M293.6 198.3h1M342.5 189.3h1M355.7 224.6h1M297.4 198.7h1M298.3 212.1h1M330.1 194.2h1M340.4 193.7h1M352.0 204.1h1M338.9 238.7h1M302.9 193.8h1M360.5 211.3h1M330.1 182.5h1M329.5 233.5h1M342.8 237.5h1M357.7 197.7h1M323.4 191.6h1M355.3 228.2h1M351.9 226.4h1M348.0 236.7h1M305.4 204.5h1M325.4 191.4h1M342.1 233.7h1M325.2 186.7h1M357.3 210.6h1M299.4 195.3h1M294.7 187.7h1M294.9 190.6h1M338.2 234.5h1M360.8 217.1h1M311.7 195.7h1M359.1 224.1h1M341.0 195.4h1M355.3 215.1h1M333.7 181.9h1M341.5 232.9h1M360.2 205.0h1M303.3 186.9h1M327.5 233.6h1M291.7 193.2h1M364.4 215.3h1M293.2 187.1h1M345.3 237.8h1M337.4 174.9h1M357.3 234.4h1M314.8 190.7h1M360.7 219.9h1M334.6 183.0h1M294.9 207.9h1M360.8 216.1h1M359.8 210.8h1M301.6 199.9h1M302.3 193.9h1M313.2 195.8h1M303.6 185.9h1M363.9 209.4h1M358.1 232.0h1M356.1 223.5h1M333.0 180.5h1M322.8 194.2h1M339.0 183.1h1M359.4 211.4h1M301.3 197.2h1M328.6 194.1h1M313.4 193.7h1M330.7 192.6h1M312.4 210.2h1M294.2 195.2h1M333.9 192.3h1" stroke="#95cd6e"/><path d="M308.2 200.5h1M308.3 209.3h1M322.6 199.1h1M314.0 201.6h1M327.6 229.8h1M344.0 230.2h1M353.6 209.0h1M309.4 203.6h1M348.5 202.4h1M359.7 214.9h1M296.2 196.6h1M298.9 208.8h1M354.5 216.5h1M343.4 232.8h1M295.7 198.6h1M349.9 214.3h1M328.3 198.5h1M336.6 234.7h1M320.0 227.8h1M300.0 206.1h1M303.9 205.1h1M327.8 233.4h1M351.1 228.6h1M295.5 196.0h1M309.5 204.9h1M351.0 197.8h1M332.7 196.3h1M300.7 217.3h1M324.6 199.4h1M320.3 191.0h1M323.5 198.4h1M357.0 213.2h1M337.8 198.1h1M343.9 232.8h1M352.4 223.7h1M348.7 203.4h1M313.5 221.8h1M308.5 211.4h1M299.3 194.9h1M351.4 220.7h1M353.6 238.2h1M334.4 236.6h1M355.9 214.9h1M343.3 191.0h1M297.1 198.8h1M352.0 227.1h1M350.0 190.5h1M298.2 214.2h1M343.1 191.8h1M312.3 208.7h1M307.9 206.0h1M311.9 218.5h1M295.8 209.3h1M302.3 196.8h1M343.0 235.7h1M346.9 201.0h1M338.0 232.1h1M303.5 210.3h1M297.1 212.7h1M300.1 190.9h1M324.7 192.0h1M348.2 234.7h1M358.2 217.0h1M334.1 233.0h1M298.1 209.5h1M345.0 189.6h1M345.1 232.0h1M295.5 197.3h1M300.3 191.9h1M349.2 198.7h1M320.7 196.8h1M313.1 217.1h1M308.3 218.8h1M303.2 214.7h1M321.1 193.5h1M347.7 232.7h1M353.4 216.4h1M313.6 211.9h1M348.1 193.9h1M331.4 232.1h1M354.8 200.6h1M295.4 210.3h1M308.6 210.3h1M304.4 211.1h1M305.2 201.8h1M303.8 196.8h1M307.1 198.9h1M295.5 192.4h1M354.4 236.5h1M302.2 207.4h1M349.2 234.3h1M325.7 198.7h1M354.9 199.9h1M355.4 235.0h1M311.5 215.2h1M350.5 233.4h1M295.6 198.3h1M314.8 209.3h1M329.3 233.0h1M313.8 205.0h1M353.9 207.8h1M321.1 231.9h1M345.6 195.6h1M312.6 212.2h1M353.1 222.9h1M314.2 214.3h1M299.3 203.5h1M354.3 208.2h1M351.4 239.7h1M305.4 200.0h1M316.2 199.5h1M349.2 193.2h1M294.9 194.5h1M295.7 207.2h1M294.5 207.0h1M334.9 232.2h1M304.7 211.9h1M300.2 194.3h1M356.9 228.6h1M341.6 196.3h1M336.8 236.1h1M351.8 207.1h1M343.0 233.2h1M341.2 198.9h1M344.8 231.8h1M346.1 237.2h1M355.9 221.5h1M310.9 216.0h1M315.1 200.6h1M358.8 204.6h1M317.0 200.1h1M310.0 210.6h1M330.7 232.0h1M311.6 199.9h1M347.5 201.9h1M321.3 230.4h1M353.7 219.0h1M314.0 204.5h1M323.8 189.3h1M316.8 224.4h1M334.6 196.7h1M303.9 210.1h1M294.0 210.2h1M328.5 233.8h1M352.3 227.8h1M311.2 217.2h1M310.8 219.8h1M347.8 195.7h1M307.3 219.1h1M294.9 203.8h1M295.1 212.1h1M306.6 212.2h1" stroke="#66bfa8"/><path d="M296.4 198.9h1M356.3 211.0h1M351.2 199.9h1M308.9 201.3h1M307.4 220.3h1M292.0 206.1h1M356.1 233.3h1M310.7 193.4h1M313.5 194.0h1M291.5 202.8h1M350.6 228.0h1M350.5 197.7h1M361.3 210.2h1M363.9 212.8h1M293.6 189.6h1M338.7 233.6h1M322.3 188.7h1M339.8 237.9h1M321.8 195.8h1M350.5 231.7h1M355.3 208.5h1M348.6 238.5h1M343.6 198.9h1M332.6 185.9h1M349.1 192.2h1M351.5 224.2h1M346.1 192.2h1M334.8 231.4h1M340.4 238.7h1M335.8 235.1h1M304.1 204.0h1M325.2 188.7h1M327.8 189.5h1M349.0 194.2h1M343.7 190.0h1M338.5 193.8h1M354.7 219.2h1M330.6 196.0h1M299.4 205.8h1M345.3 231.9h1M334.2 196.6h1M361.8 201.9h1M300.0 194.4h1M347.7 194.9h1M329.5 193.6h1M319.5 190.3h1M293.9 202.2h1M323.7 199.9h1M313.6 206.1h1M333.1 194.0h1M355.0 211.4h1M312.4 203.5h1M332.1 193.7h1M326.8 239.4h1M351.0 199.6h1M313.4 212.9h1M294.4 210.6h1M335.8 238.1h1M299.4 194.2h1M352.6 198.3h1M348.5 237.6h1M339.5 193.9h1M309.1 200.1h1M330.1 232.8h1M353.4 226.0h1M305.5 212.1h1M350.0 203.1h1M303.4 187.9h1M329.2 189.8h1M348.0 192.1h1M330.9 236.9h1M328.5 192.5h1M360.0 224.6h1M346.5 197.4h1M352.7 197.2h1M349.5 230.0h1M304.2 207.8h1M347.7 194.1h1M356.5 200.1h1M301.5 206.3h1M303.2 215.8h1M291.3 206.9h1M358.6 227.5h1M305.5 215.6h1M361.4 211.2h1M356.2 234.3h1M335.0 235.7h1M304.1 206.8h1M327.5 188.5h1M291.2 205.0h1M353.3 214.8h1M335.5 195.3h1M318.0 194.0h1M296.8 206.0h1M330.5 195.0h1M297.6 196.1h1M355.9 233.3h1M353.4 228.6h1M347.8 235.6h1M343.7 197.6h1M360.8 204.7h1M355.5 218.6h1M343.1 193.6h1M321.2 191.0h1M353.6 232.8h1M353.3 203.9h1M344.1 188.9h1M359.5 222.4h1M346.8 195.5h1M349.3 237.7h1M295.6 208.6h1M314.5 199.3h1M332.4 237.2h1M342.1 195.4h1M356.8 201.5h1M333.3 233.3h1M293.0 205.9h1M295.9 203.4h1M290.7 193.6h1M348.3 192.9h1M361.1 210.5h1M332.8 232.4h1M345.7 194.0h1M315.2 199.1h1M308.4 203.8h1M357.3 196.7h1M353.8 196.0h1M292.3 189.2h1M303.9 203.0h1M345.2 192.8h1M355.8 196.2h1M351.0 198.9h1M341.8 198.1h1M351.5 231.2h1M323.0 189.4h1M304.1 201.8h1M354.1 211.2h1M334.3 236.8h1M359.6 206.2h1M322.9 189.8h1M348.2 193.1h1M317.0 200.1h1M336.4 184.7h1M311.2 206.1h1" stroke="#7fc781"/><path d="M320.2 174.8h1M314.7 182.4h1M331.5 170.1h1M320.2 182.0h1M313.3 188.6h1M318.7 180.8h1M315.6 184.8h1M297.9 185.0h1M336.3 175.5h1M329.1 169.0h1M306.5 183.9h1M312.3 180.8h1M318.6 185.5h1M314.5 189.8h1M330.5 184.4h1M313.8 182.0h1M307.0 189.0h1M307.3 186.6h1M316.4 182.2h1M335.1 171.9h1M327.0 169.9h1M322.9 176.8h1M310.3 190.3h1M311.2 189.6h1M326.8 179.5h1M331.4 168.7h1M315.8 187.0h1M309.4 191.3h1" stroke="#f2913a"/><path d="M303.5 213.8h1M321.1 209.6h1M346.0 231.4h1M304.1 201.8h1M310.4 217.9h1M322.7 199.4h1M319.5 222.1h1M320.4 230.9h1M350.3 197.1h1M330.9 199.8h1M347.7 214.7h1M350.7 213.5h1M312.0 205.4h1M338.2 203.4h1M351.0 210.6h1M350.1 237.9h1M320.2 197.5h1M344.1 232.0h1M332.2 230.3h1M330.5 200.9h1M324.7 207.7h1M325.5 203.4h1M310.0 200.6h1M320.8 192.3h1M341.6 228.1h1M333.3 200.8h1M319.1 213.4h1M318.3 220.5h1M314.5 224.9h1M344.3 211.8h1M351.5 228.7h1M345.1 192.7h1M305.7 211.7h1M320.1 217.2h1M333.5 194.9h1M348.3 194.9h1M320.8 228.6h1M320.0 222.4h1M349.0 221.1h1M350.5 208.0h1M326.2 229.2h1M295.1 211.3h1M321.6 202.2h1M301.1 196.8h1M321.8 198.8h1M358.1 205.6h1M302.5 214.2h1M339.3 228.0h1M333.2 202.9h1M353.0 209.6h1M337.3 229.3h1M306.2 202.7h1M316.5 210.2h1M321.2 232.6h1M330.8 198.7h1M330.8 197.0h1M302.9 209.0h1M317.8 199.3h1M318.3 202.2h1M301.7 197.6h1M346.3 227.9h1M313.0 217.0h1M324.9 199.4h1M346.0 223.1h1M344.2 200.9h1M341.1 222.4h1M338.9 199.4h1M335.9 201.0h1M344.6 205.3h1M353.5 210.5h1M330.3 198.5h1M327.5 194.8h1M329.8 198.7h1M332.3 200.9h1M308.9 210.5h1M346.0 224.9h1M320.3 202.7h1M328.8 198.3h1M321.8 218.2h1M324.0 199.0h1M331.9 202.6h1M347.6 238.5h1M323.9 198.9h1M346.0 199.9h1M315.3 215.0h1M315.2 214.3h1M305.9 219.0h1M320.7 222.2h1M311.4 217.9h1M346.2 201.9h1M317.5 209.6h1M336.1 201.6h1M327.8 198.3h1M343.2 200.4h1M351.9 215.9h1M320.4 216.7h1M315.1 210.1h1M316.6 209.7h1" stroke="#52b0cf"/><path d="M328.5 210.0h1M341.0 207.4h1M345.7 225.9h1M342.5 227.6h1M341.9 204.4h1M331.9 205.5h1M325.1 226.4h1M337.5 210.0h1M336.3 220.1h1M329.6 211.3h1M338.4 203.2h1M326.5 219.3h1M316.9 212.1h1M335.0 215.3h1M340.1 211.2h1M339.5 205.1h1M321.4 211.6h1M335.6 205.5h1M345.3 213.0h1M317.8 224.6h1M323.1 220.9h1M350.2 213.3h1M342.9 226.6h1M333.1 222.1h1M327.2 205.3h1M338.2 228.8h1M318.9 222.9h1M325.9 212.7h1M342.5 223.0h1M332.2 217.1h1M343.8 211.3h1M349.3 219.2h1M344.5 227.2h1M337.8 221.1h1M339.0 205.8h1M324.9 214.8h1M350.6 221.3h1M321.0 206.7h1M328.5 211.7h1M324.4 210.1h1M320.0 225.2h1M329.0 210.3h1M320.4 215.0h1M325.6 216.8h1M342.3 224.2h1M324.4 216.1h1M334.1 208.5h1M349.2 213.5h1M345.3 210.8h1M324.5 219.7h1M334.1 221.2h1M341.1 205.0h1M326.3 206.5h1M323.0 221.2h1M344.0 222.4h1M327.9 204.5h1M318.2 208.4h1M347.4 212.8h1M339.6 209.3h1M331.5 206.4h1M330.2 230.2h1M337.3 203.7h1M334.3 208.7h1M329.6 220.0h1M330.0 204.7h1M347.4 209.1h1M341.3 217.4h1M328.8 226.3h1M344.9 207.4h1M329.3 222.2h1M318.1 207.3h1M328.0 224.7h1M343.7 219.2h1M330.0 210.5h1M330.3 221.0h1M341.1 206.1h1M344.3 217.4h1M323.2 197.9h1M327.2 204.8h1M326.6 217.1h1M332.0 216.7h1M337.6 229.2h1M331.2 201.8h1M320.4 211.2h1M348.8 215.2h1M342.1 210.5h1M325.2 222.5h1" stroke="#3e84c7"/><path d="M300.2 183.1h1M307.5 183.1h1M308.2 183.9h1M308.3 184.9h1M303.8 179.9h1M300.1 184.3h1M296.3 184.9h1M312.5 187.9h1M309.0 179.0h1M310.4 183.7h1M300.5 180.5h1M304.0 182.3h1M304.3 179.0h1" stroke="#da4837"/><path d="M335.7 207.4h1M319.0 212.2h1M337.4 212.0h1M342.4 218.1h1M317.5 208.6h1M350.4 212.3h1M334.0 210.9h1M324.7 217.1h1M341.5 223.7h1M334.7 221.2h1M327.4 224.4h1M346.7 215.1h1M323.4 210.0h1M328.2 217.3h1M340.7 228.5h1M336.8 211.9h1M335.0 228.8h1M324.9 216.9h1M330.3 217.6h1M326.5 216.7h1M329.6 210.3h1M329.5 210.2h1M327.6 207.0h1M329.8 226.4h1M336.8 208.6h1M346.4 207.4h1M333.5 223.1h1M331.5 223.6h1M325.8 208.8h1M327.5 205.8h1M333.4 224.1h1M321.0 224.8h1M344.9 208.7h1M330.3 219.3h1M323.7 209.3h1M321.6 215.2h1M336.0 214.4h1M327.2 224.0h1M336.5 210.4h1M345.7 211.8h1M339.8 221.2h1M320.9 222.8h1M343.2 227.6h1M345.6 211.2h1M327.2 204.7h1M345.7 214.9h1M335.9 205.4h1M345.4 209.8h1M325.3 224.8h1M344.1 206.8h1M340.2 221.5h1M335.0 211.1h1M326.4 206.0h1M346.0 204.3h1M336.0 225.3h1M342.9 211.1h1M331.3 228.6h1M335.0 225.9h1M341.3 221.6h1M333.9 222.1h1M333.3 209.0h1M325.5 219.4h1M338.7 204.1h1M333.8 213.7h1M324.2 221.0h1M320.9 218.9h1M326.0 221.9h1M347.7 217.9h1" stroke="#3b78c0"/><path d="M335.2 226.9h1M329.0 213.9h1M348.2 219.4h1M335.1 213.2h1M331.5 217.6h1M340.4 216.6h1M346.9 204.1h1M334.4 218.1h1M344.3 220.4h1M336.1 209.4h1M339.4 212.7h1M332.0 227.5h1M337.8 211.5h1M331.3 217.6h1M339.6 206.2h1M332.6 221.1h1M327.8 212.4h1M337.4 203.4h1M337.6 216.4h1M334.7 220.4h1M320.9 217.1h1M327.5 216.5h1M328.8 218.2h1M344.7 210.9h1M339.0 218.0h1M329.3 210.7h1M338.4 228.5h1M338.0 205.8h1M336.0 210.8h1M345.7 212.0h1M336.8 221.0h1M335.8 226.1h1M326.2 224.4h1M331.0 210.8h1M325.5 227.3h1M345.1 215.1h1M321.9 208.5h1M321.0 209.2h1M331.8 215.6h1M339.6 217.1h1M337.2 208.8h1M329.7 218.8h1M333.5 217.5h1M339.3 205.2h1M341.7 220.0h1M334.5 224.4h1M326.2 204.8h1M320.1 219.0h1M336.8 219.4h1M345.9 217.0h1M337.8 219.0h1M336.5 213.5h1M329.7 221.2h1M341.1 210.9h1M325.1 210.9h1" stroke="#386cb9"/><path d="M317.2 177.3h1M304.3 184.4h1M316.6 178.4h1M308.7 186.1h1M300.5 185.2h1M320.0 175.5h1M328.1 170.3h1M310.0 190.9h1M310.2 189.9h1M309.9 180.5h1M318.4 182.0h1M327.8 169.4h1M311.0 182.8h1M314.6 181.1h1M329.7 172.6h1M319.0 182.5h1M315.5 181.7h1M309.7 187.7h1M308.9 173.8h1" stroke="#ec6837"/><path d="M330.3 191.7h1M357.3 226.6h1M358.1 210.1h1M358.1 223.2h1M357.4 199.5h1M333.2 178.4h1M350.6 237.7h1M338.6 236.7h1M352.7 229.6h1M299.9 199.3h1M351.1 237.9h1M350.3 239.7h1M303.1 208.0h1M339.8 238.4h1M338.6 180.4h1M353.4 228.9h1M310.6 196.7h1M308.2 217.4h1M304.6 199.5h1M330.9 235.7h1M297.5 188.3h1M331.6 177.4h1M343.2 234.7h1M346.0 193.0h1M363.4 207.8h1M351.3 228.8h1M359.7 219.8h1M336.4 176.9h1M304.8 197.6h1M324.8 189.0h1M358.7 232.0h1M297.6 186.6h1M338.4 192.4h1M326.8 233.6h1M305.9 193.4h1M353.7 200.4h1M359.8 215.9h1M360.5 219.1h1M318.9 189.6h1M336.7 187.5h1M303.6 192.8h1M297.9 187.3h1M338.1 176.6h1M311.7 212.2h1M332.3 185.6h1M360.4 214.1h1M304.2 189.3h1M325.0 232.7h1M325.1 187.7h1M337.5 188.2h1M313.2 192.7h1M331.6 176.0h1M355.7 199.4h1M296.6 186.9h1M331.4 177.8h1M354.2 202.0h1M332.9 192.7h1M324.8 177.3h1M330.4 192.7h1M307.1 194.0h1M301.0 194.7h1M360.2 229.3h1M361.4 203.8h1M340.6 193.8h1M360.0 213.1h1M329.4 178.6h1M354.4 237.4h1M328.2 189.7h1M358.4 218.0h1M323.8 186.1h1M291.3 193.7h1M358.7 205.7h1M343.9 234.0h1M341.9 175.3h1M325.8 239.0h1M337.3 192.5h1M364.4 207.3h1M350.1 238.7h1M330.7 193.4h1M333.5 233.0h1M326.2 182.9h1M321.8 183.5h1M356.6 224.2h1M330.0 177.8h1M331.9 239.0h1M335.4 188.1h1M344.4 189.9h1M337.4 189.8h1M340.5 237.6h1M362.4 208.3h1M317.9 191.4h1M334.9 183.8h1M327.2 190.0h1M314.2 194.5h1M346.7 194.0h1M359.4 205.2h1M352.6 238.2h1M333.3 179.3h1M338.5 237.7h1M304.8 194.4h1M318.5 190.6h1" stroke="#aad25a"/><path d="M320.7 183.6h1M303.9 191.8h1M340.4 181.6h1M314.4 188.7h1M350.5 192.5h1M357.7 201.9h1M336.7 169.7h1M296.6 187.8h1M322.1 181.0h1M359.6 217.6h1M302.4 186.8h1M295.8 187.6h1M362.9 209.8h1M358.9 212.2h1M334.0 173.6h1M308.3 192.2h1M321.3 190.0h1M322.4 175.9h1M334.9 168.7h1M364.3 214.3h1M306.9 193.1h1M358.7 208.0h1M329.9 176.3h1M305.4 187.8h1M294.0 190.5h1M305.7 191.2h1M333.9 175.4h1M337.2 177.3h1M305.3 194.3h1M322.6 182.6h1M330.0 237.4h1M354.0 227.8h1M337.4 177.2h1M346.0 189.5h1M359.1 211.6h1M337.0 182.8h1M330.1 170.1h1M339.0 179.5h1M323.8 180.4h1M355.4 225.0h1M329.2 234.1h1M326.8 183.2h1M331.1 169.9h1M327.8 187.6h1M358.8 203.4h1M341.5 236.3h1M329.8 171.6h1M339.7 179.7h1M332.2 178.2h1M319.0 189.4h1M293.7 188.0h1M338.5 192.8h1M329.1 170.6h1M295.6 191.3h1M332.0 174.1h1M326.0 186.6h1M330.0 168.5h1M314.5 189.8h1M318.9 186.5h1M308.1 193.2h1M355.4 219.4h1M294.9 201.8h1M334.0 180.8h1M313.4 189.6h1M325.2 187.1h1M315.6 190.2h1M357.5 209.3h1M363.3 211.9h1M321.5 184.2h1M313.4 188.5h1M330.4 189.8h1M336.5 176.5h1M333.9 177.3h1M341.9 174.2h1M333.3 182.8h1M322.2 187.7h1M304.9 191.7h1M308.6 192.6h1M331.9 192.8h1M329.3 179.6h1" stroke="#d5d24c"/><path d="M312.2 218.5h1M336.9 201.1h1M327.1 205.1h1M347.8 221.7h1M351.4 206.4h1M317.3 207.7h1M349.5 197.6h1M343.5 202.7h1M321.6 196.8h1M348.0 215.8h1M327.5 197.9h1M340.2 206.7h1M346.4 202.4h1M316.2 200.7h1M338.2 198.7h1M316.5 207.2h1M333.2 201.0h1M319.3 228.6h1M314.6 209.6h1M326.2 228.2h1M340.7 228.7h1M328.4 229.2h1M319.7 196.6h1M336.6 230.0h1M356.4 203.7h1M304.1 217.1h1M359.8 205.9h1M319.2 196.4h1M320.0 225.4h1M350.9 216.0h1M334.0 229.1h1M295.7 208.3h1M328.3 224.0h1M320.2 208.4h1M349.5 222.0h1M315.7 210.8h1M319.3 222.2h1M318.2 196.3h1M323.0 198.5h1M309.3 219.6h1M343.5 227.6h1M321.2 216.0h1M340.7 203.7h1M330.4 215.2h1M347.9 221.1h1M346.8 217.5h1M319.5 217.0h1M339.8 204.2h1M322.1 229.8h1M319.2 223.9h1M333.6 199.8h1M346.3 203.3h1M322.3 198.1h1M334.5 202.6h1M339.1 229.1h1M326.8 215.3h1M317.1 200.0h1M321.9 219.1h1M350.8 209.9h1M316.9 207.8h1M304.9 216.4h1M295.4 210.0h1M320.0 204.7h1M344.7 211.7h1M329.3 198.8h1M297.0 196.4h1M346.0 230.4h1M322.6 223.0h1M352.5 225.7h1M301.1 215.3h1M348.8 221.3h1M319.2 208.4h1M350.0 215.5h1M324.4 199.8h1M335.0 225.4h1M341.0 201.7h1M335.4 203.4h1M352.0 210.2h1M346.6 205.1h1M318.9 230.2h1M310.5 209.5h1" stroke="#4ba6d0"/><path d="M315.3 214.7h1M323.5 222.5h1M348.7 219.3h1M320.7 231.9h1M294.2 211.6h1M326.0 204.4h1M316.0 221.4h1M348.4 220.3h1M318.8 217.5h1M339.2 203.1h1M320.2 204.9h1M347.1 216.4h1M343.3 228.6h1M339.9 229.1h1M320.2 216.2h1M304.5 213.7h1M350.1 218.8h1M325.4 211.8h1M332.2 199.8h1M326.1 228.4h1M337.4 220.0h1M294.7 209.5h1M340.1 202.0h1M319.1 213.2h1M321.9 201.8h1M338.1 200.0h1M328.3 220.9h1M350.3 219.5h1M337.3 207.8h1M343.2 230.5h1M319.8 214.2h1M321.2 216.1h1M325.3 207.9h1M309.6 218.7h1M343.2 229.6h1M332.6 228.4h1M303.2 212.2h1M325.6 210.7h1M346.5 224.0h1M319.0 222.2h1M323.8 196.7h1M324.5 218.8h1M345.6 224.1h1M329.7 211.3h1M326.7 205.1h1M336.6 200.7h1M331.9 223.8h1M342.7 221.8h1M351.1 213.8h1M324.5 198.6h1M305.8 217.9h1M322.9 208.7h1M350.1 211.0h1M345.1 232.0h1M315.8 224.3h1M350.4 215.2h1M296.1 212.9h1M333.1 201.5h1M343.4 226.4h1M337.8 202.5h1M339.8 207.2h1M321.1 218.9h1M342.4 226.7h1M324.3 224.5h1M319.7 230.9h1M322.4 208.4h1M320.6 227.0h1M326.5 225.0h1M314.5 222.1h1M343.4 222.5h1M325.1 228.6h1M319.3 224.0h1M324.4 214.6h1M340.5 218.4h1M320.3 205.7h1M326.8 208.8h1M344.7 212.1h1M325.7 207.4h1" stroke="#459dd2"/><path d="M318.5 184.9h1M317.5 178.1h1M308.9 180.7h1M316.4 186.2h1M315.3 180.7h1M314.2 186.6h1M327.9 173.4h1M319.2 184.2h1M295.5 184.3h1M299.7 185.0h1M341.1 173.5h1M316.7 184.8h1M328.2 168.5h1M312.0 182.8h1M306.2 189.6h1M317.4 182.3h1" stroke="#ef7c39"/><path d="M311.0 180.6h1M334.7 171.0h1M319.2 181.8h1M303.4 185.2h1M338.6 183.6h1M316.6 188.1h1M324.2 174.8h1M322.0 175.9h1M318.6 181.6h1M320.6 177.3h1M315.6 181.7h1M336.7 171.0h1M319.8 174.5h1M330.3 170.7h1M326.9 173.3h1M321.6 177.6h1M307.1 183.1h1M319.1 173.7h1M318.6 178.0h1M309.6 186.7h1M314.5 188.1h1M313.0 188.2h1M323.4 174.5h1M334.1 170.4h1M338.4 177.1h1" stroke="#f5a53c"/><path d="M300.7 183.8h1M291.2 182.5h1" stroke="#9f2430"/><path d="M300.0 183.3h1M301.0 183.1h1M295.2 182.4h1M301.4 183.1h1M298.4 179.6h1" stroke="#8a1f2c"/><path d="M345.4 225.1h1M329.5 221.7h1M344.0 221.7h1M343.9 216.5h1M328.6 215.9h1M333.9 222.2h1M334.5 209.4h1M342.1 219.5h1" stroke="#3148a2"/><path d="M325.3 215.1h1M334.7 214.4h1M340.5 222.5h1M334.5 207.7h1M336.7 219.2h1M337.6 211.0h1M327.5 209.7h1M339.6 222.1h1M334.7 214.0h1M341.1 212.0h1M342.8 218.8h1M335.8 227.1h1M340.0 218.9h1M325.9 214.8h1" stroke="#3452aa"/><path d="M303.2 181.5h1M300.2 184.1h1M309.7 186.1h1M303.5 183.2h1M296.5 180.2h1M304.2 180.1h1" stroke="#b02933"/><path d="M309.3 190.3h1M310.1 183.3h1M318.7 180.6h1M296.9 182.8h1M310.6 181.9h1M311.0 182.7h1M308.8 185.5h1M306.6 184.7h1M309.1 186.9h1M293.8 183.8h1M300.2 184.7h1M290.7 183.4h1M308.3 186.4h1M305.1 183.7h1" stroke="#e45737"/><path d="M302.3 181.0h1M302.9 181.7h1" stroke="#741b28"/><path d="M303.9 182.3h1M296.0 180.8h1M309.4 189.2h1M304.7 181.5h1M305.6 184.5h1M297.6 180.2h1" stroke="#d13837"/><path d="M334.6 214.1h1" stroke="#273088"/><path d="M309.3 186.2h1M297.1 184.3h1M299.9 179.6h1M303.6 180.9h1M296.4 183.7h1M294.6 183.2h1M296.1 181.8h1M307.8 182.3h1M301.9 183.5h1" stroke="#c22f36"/><path d="M340.4 212.8h1M335.7 221.1h1M341.5 218.6h1" stroke="#2e409a"/></g><path d="M288.7 163.7V243.3H368.3" stroke="#7a7a7a" stroke-width="0.9" fill="none"/><path d="M286.7 163.7H368.3" stroke="#a8a8a8" stroke-width="0.8" fill="none"/><path d="M286.5 163.7h2.2M288.7 243.3v2.2M287.1 168.7h1.6M293.7 243.3v1.6M287.1 173.6h1.6M298.6 243.3v1.6M287.1 178.6h1.6M303.6 243.3v1.6M286.5 183.6h2.2M308.6 243.3v2.2M287.1 188.6h1.6M313.6 243.3v1.6M287.1 193.5h1.6M318.6 243.3v1.6M287.1 198.5h1.6M323.5 243.3v1.6M286.5 203.5h2.2M328.5 243.3v2.2M287.1 208.5h1.6M333.5 243.3v1.6M287.1 213.4h1.6M338.4 243.3v1.6M287.1 218.4h1.6M343.4 243.3v1.6M286.5 223.4h2.2M348.4 243.3v2.2M287.1 228.4h1.6M353.4 243.3v1.6M287.1 233.3h1.6M358.3 243.3v1.6M287.1 238.3h1.6M363.3 243.3v1.6M286.5 243.3h2.2M368.3 243.3v2.2" stroke="#6a6a6a" stroke-width="0.7" fill="none"/><text x="282.7" y="166.2" font-size="5.70" text-anchor="end" font-weight="normal" fill="#333" stroke="#333" stroke-width="0.25">6.1</text><text x="282.7" y="186.1" font-size="5.70" text-anchor="end" font-weight="normal" fill="#333" stroke="#333" stroke-width="0.25">3.1</text><text x="282.7" y="206.0" font-size="5.70" text-anchor="end" font-weight="normal" fill="#333" stroke="#333" stroke-width="0.25">0.1</text><text x="282.7" y="225.9" font-size="5.70" text-anchor="end" font-weight="normal" fill="#333" stroke="#333" stroke-width="0.25">−2.9</text><text x="282.7" y="245.8" font-size="5.70" text-anchor="end" font-weight="normal" fill="#333" stroke="#333" stroke-width="0.25">−5.9</text><text x="289.2" y="254.3" font-size="5.70" text-anchor="middle" font-weight="normal" fill="#3a3a3a" stroke="#3a3a3a" stroke-width="0.25">−8.5</text><text x="309.1" y="254.3" font-size="5.70" text-anchor="middle" font-weight="normal" fill="#3a3a3a" stroke="#3a3a3a" stroke-width="0.25">−4.4</text><text x="329.0" y="254.3" font-size="5.70" text-anchor="middle" font-weight="normal" fill="#3a3a3a" stroke="#3a3a3a" stroke-width="0.25">−0.3</text><text x="348.9" y="254.3" font-size="5.70" text-anchor="middle" font-weight="normal" fill="#3a3a3a" stroke="#3a3a3a" stroke-width="0.25">3.7</text><text x="368.8" y="254.3" font-size="5.70" text-anchor="middle" font-weight="normal" fill="#3a3a3a" stroke="#3a3a3a" stroke-width="0.25">7.8</text><rect x="368.3" y="163.7" width="3.8" height="79.6" fill="url(#cb)"/><path d="M372.1 167.7h-1.2M372.1 171.7h-1.2M372.1 175.6h-1.2M372.1 179.6h-1.2M372.1 183.6h-1.2M372.1 187.6h-1.2M372.1 191.6h-1.2M372.1 195.5h-1.2M372.1 199.5h-1.2M372.1 203.5h-1.2M372.1 207.5h-1.2M372.1 211.5h-1.2M372.1 215.4h-1.2M372.1 219.4h-1.2M372.1 223.4h-1.2M372.1 227.4h-1.2M372.1 231.4h-1.2M372.1 235.3h-1.2M372.1 239.3h-1.2" stroke="#fff" stroke-opacity="0.5" stroke-width="0.5"/><rect x="370.9" y="225.8" width="2.5" height="4.8" rx="1.0" fill="#000"/><text x="377.5" y="211.4" font-size="5.70" text-anchor="start" font-weight="normal" fill="#333" stroke="#333" stroke-width="0.25">10<tspan dy="-2.3" font-size="3.9">3</tspan></text><text x="377.5" y="230.1" font-size="5.70" text-anchor="start" font-weight="normal" fill="#333" stroke="#333" stroke-width="0.25">0</text><text x="292.3" y="172.2" font-size="8.00" text-anchor="start" font-weight="normal" fill="#222" stroke="#222" stroke-width="0.2" textLength="25.2" lengthAdjust="spacingAndGlyphs">CD150</text><g stroke-width="1" fill="none" filter="url(#halo)"><path d="M465.3 174.3h1M421.7 188.4h1M444.3 183.6h1M461.0 212.0h1M447.1 222.5h1M433.0 203.6h1M488.1 206.3h1M455.5 205.5h1M471.3 214.7h1M474.3 213.5h1M480.4 204.6h1M455.1 170.1h1M444.9 227.7h1M448.3 217.1h1M423.6 206.1h1M440.5 212.1h1M454.1 200.9h1M474.7 237.9h1M435.0 192.8h1M478.7 202.5h1M446.5 219.0h1M487.9 214.3h1M474.9 227.6h1M461.7 200.0h1M448.5 216.9h1M438.1 224.9h1M433.8 189.9h1M437.8 195.5h1M458.3 220.4h1M426.8 186.2h1M445.6 175.9h1M426.7 193.3h1M430.1 183.9h1M450.7 230.7h1M462.0 192.4h1M449.3 180.2h1M432.0 199.5h1M435.9 180.8h1M443.1 190.3h1M435.9 208.7h1M461.4 221.1h1M424.9 185.9h1M454.0 178.1h1M479.7 218.6h1M442.5 189.6h1M429.9 207.2h1M427.1 210.3h1M439.3 210.8h1M445.4 198.8h1M427.2 192.8h1M482.7 211.6h1M421.5 187.3h1M467.8 212.9h1M435.7 198.5h1M435.3 182.1h1M446.0 182.0h1M480.0 214.1h1M432.7 217.7h1M481.2 198.4h1M441.2 206.4h1M427.0 187.9h1M433.4 196.0h1M454.5 236.9h1M487.5 211.1h1M444.8 216.0h1M419.6 180.8h1M445.2 215.2h1M424.5 216.3h1M451.4 169.4h1M454.4 197.0h1M436.8 192.7h1M436.1 187.9h1M454.1 184.4h1M437.2 211.9h1M455.0 177.8h1M474.0 215.2h1M438.2 181.1h1M478.4 200.6h1M454.0 192.7h1M425.1 206.3h1M485.2 218.1h1M430.7 198.9h1M472.2 197.9h1M453.4 171.6h1M433.0 189.2h1M483.8 229.3h1M456.7 201.5h1M435.6 213.1h1M473.9 222.7h1M450.4 215.3h1M419.2 191.3h1M484.4 204.7h1M445.2 203.2h1M449.6 186.6h1M441.3 228.3h1M443.3 230.9h1M434.3 195.6h1M434.7 190.9h1M445.5 219.1h1M444.2 227.0h1M455.9 200.9h1M432.5 210.5h1M421.4 189.4h1M443.6 204.7h1M452.0 172.4h1M443.9 202.7h1M419.2 208.6h1M424.1 180.5h1M473.7 238.7h1M435.9 216.5h1M439.2 190.2h1M449.8 182.9h1M445.4 183.5h1M416.6 205.9h1M471.1 201.9h1M438.1 222.1h1M459.3 179.6h1M442.8 176.8h1M418.2 183.2h1M419.7 181.8h1M484.7 210.5h1M438.8 199.1h1M459.7 201.6h1M463.2 180.9h1M445.8 187.7h1M475.1 231.2h1M476.2 238.2h1M481.8 231.0h1M448.7 210.9h1M449.4 173.6h1M435.7 217.7h1M442.1 190.6h1" stroke="#7fc781"/><path d="M467.3 212.2h1M479.9 211.0h1M427.7 201.8h1M454.4 207.2h1M463.2 205.9h1M475.0 206.4h1M419.0 202.2h1M459.7 209.4h1M445.0 208.6h1M417.7 190.2h1M462.8 203.1h1M463.7 211.2h1M469.0 207.8h1M453.8 201.6h1M463.7 202.0h1M481.4 206.6h1M425.8 215.7h1M467.4 211.3h1M461.6 205.8h1M478.5 207.8h1M477.0 205.7h1M430.0 196.7h1M453.3 211.3h1M424.1 207.7h1M437.0 212.9h1M459.6 210.8h1M445.2 202.2h1M432.9 219.6h1M473.6 203.1h1M423.9 203.8h1M426.8 214.7h1M421.9 212.1h1M454.6 210.8h1M436.6 217.0h1M475.6 204.1h1M432.2 210.3h1M464.0 212.8h1M480.6 211.3h1M415.3 199.2h1M473.1 233.7h1M474.2 213.3h1M446.0 194.9h1M423.8 194.3h1M453.6 204.7h1M467.7 206.8h1M440.5 207.8h1M474.7 203.6h1M435.8 190.7h1M455.5 202.6h1M479.8 205.4h1M459.6 206.4h1M425.7 201.6h1M478.5 209.3h1M444.0 211.2h1M418.7 212.1h1M436.0 210.2h1M465.7 210.5h1" stroke="#f0b33f"/><path d="M463.3 201.0h1M442.6 212.2h1M469.4 217.0h1M434.0 217.9h1M450.7 205.1h1M443.9 203.7h1M458.7 213.2h1M440.7 211.1h1M468.5 229.7h1M443.1 222.1h1M415.6 206.1h1M417.8 211.6h1M464.0 216.6h1M481.7 223.2h1M416.2 192.7h1M443.8 182.0h1M443.8 197.5h1M437.1 194.0h1M458.6 215.3h1M419.3 209.1h1M448.1 172.2h1M448.5 173.2h1M442.4 187.5h1M453.6 212.2h1M449.1 203.4h1M434.4 220.8h1M438.0 188.7h1M441.0 201.0h1M420.2 187.8h1M445.0 211.6h1M472.2 201.8h1M445.7 181.0h1M428.2 199.5h1M469.8 194.1h1M435.7 217.5h1M459.0 182.3h1M474.1 231.7h1M427.0 185.2h1M485.2 212.3h1M424.1 185.2h1M477.0 201.4h1M461.4 198.1h1M456.8 201.0h1M431.7 194.3h1M433.3 200.7h1M438.2 209.6h1M425.9 181.0h1M449.8 228.2h1M475.1 224.2h1M466.0 197.7h1M427.7 217.1h1M449.5 212.7h1M477.2 238.2h1M442.9 216.6h1M458.8 237.3h1M444.5 217.1h1M417.6 190.5h1M423.3 208.2h1M462.7 237.1h1M449.5 174.8h1M459.9 176.4h1M434.9 216.5h1M428.9 194.3h1M483.4 215.9h1M442.6 222.2h1M452.8 232.0h1M470.5 201.0h1M436.0 203.5h1M442.0 182.0h1M444.4 230.9h1M442.8 216.6h1M426.1 214.2h1M432.7 218.8h1M432.7 200.1h1M468.7 232.0h1M475.8 227.9h1M429.1 212.1h1M423.9 191.9h1M479.1 216.4h1M457.8 171.4h1M440.1 210.2h1M444.8 232.6h1M477.9 210.2h1M429.4 217.9h1M426.5 181.7h1M459.6 214.4h1M479.3 224.6h1M478.3 219.4h1M441.9 202.2h1M476.5 207.5h1M463.4 204.2h1M441.5 193.1h1M458.5 201.2h1M447.2 213.9h1M442.8 223.9h1M479.8 234.3h1M430.7 194.0h1M447.7 235.8h1M435.8 197.6h1M429.1 203.5h1M468.7 215.1h1M451.5 204.5h1M445.9 198.1h1M444.2 201.8h1M444.6 209.2h1M476.9 214.8h1M478.5 199.9h1M441.6 194.0h1M430.2 184.7h1M452.7 170.6h1M451.8 189.7h1M419.2 198.3h1M458.3 214.0h1M420.8 207.0h1M431.5 193.3h1M437.9 222.3h1M439.0 221.6h1M438.1 189.8h1M442.5 186.5h1M477.4 204.8h1M480.9 210.6h1M431.7 193.2h1M420.0 207.6h1M438.1 199.3h1M440.6 200.1h1M418.1 188.4h1M426.9 186.9h1M427.6 182.3h1M469.6 199.9h1M414.3 193.6h1M477.3 219.0h1M429.2 199.8h1M486.0 208.3h1M440.4 224.4h1M441.5 191.4h1M437.8 194.5h1M436.8 195.8h1M456.1 217.2h1M473.7 222.3h1M462.6 183.1h1M433.7 216.8h1M444.0 216.7h1M440.9 195.0h1M433.0 191.3h1" stroke="#95cd6e"/><path d="M470.4 230.1h1M467.0 232.8h1M462.3 233.6h1M466.5 226.6h1M466.9 191.0h1M444.4 228.6h1M465.9 223.1h1M465.7 222.7h1M476.3 197.2h1M477.0 228.6h1M455.1 231.4h1M465.1 223.9h1M458.7 232.7h1" stroke="#386cb9"/><path d="M456.2 223.5h1M474.0 230.5h1M456.6 228.9h1M423.8 183.1h1M444.3 231.9h1M455.1 217.6h1M442.1 184.9h1M434.6 180.6h1M448.7 226.4h1M437.3 178.6h1M446.8 195.6h1M451.9 198.5h1M444.0 189.6h1M462.2 236.7h1M426.8 181.5h1M453.0 221.0h1M460.0 189.4h1M467.4 189.0h1M474.2 228.0h1M444.4 192.3h1M455.5 186.7h1M455.2 226.5h1M456.9 200.8h1M459.4 170.2h1M449.7 228.4h1M461.2 216.4h1M450.8 237.6h1M421.1 188.3h1M419.4 187.6h1M445.8 184.5h1M457.6 173.6h1M462.2 183.6h1M472.7 192.2h1M458.4 231.4h1M433.6 190.9h1M480.0 203.7h1M448.8 188.7h1M448.4 191.0h1M475.0 220.7h1M485.3 202.8h1M468.7 192.7h1M418.8 182.4h1M466.8 230.5h1M443.6 225.4h1M447.8 174.8h1M455.8 217.1h1M480.7 230.7h1M447.1 193.5h1M431.9 184.9h1M450.4 183.8h1M453.1 193.6h1M451.9 224.0h1M470.1 224.0h1M474.4 238.9h1M447.4 196.7h1M465.5 178.4h1M461.0 177.2h1M448.3 192.0h1M458.2 214.1h1M472.5 226.0h1M457.7 233.9h1M461.7 176.6h1M449.2 216.8h1M457.0 224.1h1M439.3 178.7h1M478.5 237.4h1M483.6 224.6h1M466.1 189.3h1M438.1 189.8h1M473.1 230.0h1M458.9 226.1h1M454.0 215.2h1M443.1 217.0h1M448.1 219.7h1M464.0 193.7h1M480.1 200.1h1M463.4 221.2h1M440.0 198.1h1M445.2 177.6h1M484.1 211.3h1M484.2 217.8h1M482.2 227.5h1M453.1 233.5h1M454.1 191.9h1M469.4 195.6h1M446.6 221.2h1M440.8 196.0h1M466.9 223.1h1M485.3 213.0h1M478.9 228.2h1M475.5 226.4h1M449.3 198.7h1M464.8 194.3h1M423.8 206.7h1M478.0 237.4h1M454.1 195.0h1M479.5 233.3h1M455.6 174.1h1M454.3 189.7h1M466.7 193.6h1M476.7 224.7h1M447.9 224.5h1M444.8 191.0h1M427.6 185.4h1M465.3 220.0h1M467.5 234.0h1M447.4 177.3h1M465.2 196.3h1M472.1 191.9h1M453.4 198.7h1M464.5 220.6h1M452.9 198.8h1M452.4 198.3h1M479.5 221.5h1M476.6 199.3h1M488.0 207.3h1M440.4 183.1h1M469.6 230.4h1M467.3 192.7h1M428.6 219.0h1M452.9 222.2h1M440.3 184.8h1M454.3 232.0h1M436.6 188.2h1M462.4 171.7h1M459.1 220.7h1M447.2 173.2h1M427.9 179.0h1M443.3 224.5h1M444.9 230.4h1M435.6 182.8h1M437.0 188.5h1M434.8 189.6h1M453.3 221.2h1M465.5 174.2h1M458.2 196.7h1M450.8 190.0h1M474.6 198.9h1M487.5 209.4h1M481.7 232.0h1M479.7 223.5h1M446.4 194.2h1M483.0 211.4h1M437.0 193.7h1M454.3 192.6h1M449.6 221.9h1M467.3 225.5h1M451.6 169.6h1" stroke="#52b0cf"/><path d="M443.5 232.7h1M446.4 179.8h1M453.9 191.7h1M455.8 199.8h1M426.8 206.5h1M467.5 233.9h1M446.3 235.5h1M481.7 210.1h1M435.6 197.5h1M447.4 236.8h1M479.7 233.3h1M481.0 199.5h1M416.8 189.7h1M452.2 193.1h1M458.0 218.1h1M473.1 197.6h1M433.3 208.8h1M453.2 211.3h1M485.0 207.9h1M473.7 237.9h1M456.9 174.5h1M454.5 186.5h1M454.1 190.8h1M417.2 196.1h1M464.0 181.6h1M476.4 200.7h1M436.0 196.5h1M427.1 187.0h1M445.9 188.7h1M463.4 237.9h1M432.3 186.1h1M451.8 217.3h1M455.1 167.6h1M446.7 220.9h1M463.2 182.3h1M428.4 191.3h1M453.7 220.3h1M443.3 196.6h1M445.4 195.5h1M483.3 219.8h1M435.3 219.0h1M429.0 187.8h1M478.3 219.2h1M421.2 186.6h1M444.3 203.4h1M440.9 193.9h1M435.5 204.4h1M444.8 216.1h1M450.4 233.6h1M433.2 218.7h1M457.1 194.9h1M442.3 180.6h1M457.9 215.1h1M471.3 194.9h1M441.7 176.8h1M443.6 222.4h1M420.5 182.8h1M478.4 199.1h1M459.3 187.3h1M430.0 188.1h1M451.0 234.4h1M457.1 223.1h1M463.1 193.9h1M453.0 193.0h1M423.7 189.9h1M462.6 179.5h1M462.2 181.3h1M419.9 184.9h1M465.9 224.2h1M419.8 193.2h1M436.7 217.1h1M419.4 187.1h1M453.9 219.3h1M437.2 201.1h1M443.2 177.5h1M445.9 179.0h1M471.3 232.7h1M426.5 209.0h1M455.2 176.0h1M481.8 198.6h1M456.7 169.6h1M419.1 184.3h1M444.5 222.8h1M481.5 227.5h1M441.6 211.9h1M426.8 215.8h1M432.4 185.5h1M449.4 230.1h1M432.6 179.0h1M425.8 207.4h1M428.2 192.3h1M463.3 179.7h1M452.2 225.3h1M428.3 181.5h1M430.7 183.1h1M467.0 226.4h1M432.9 186.2h1M463.2 217.1h1M458.8 231.3h1M464.2 193.8h1M442.7 173.7h1M429.0 204.5h1M435.1 215.2h1M421.2 196.1h1M448.6 238.4h1M479.8 222.5h1M444.7 218.9h1M471.4 235.6h1M470.2 233.7h1M465.7 233.7h1M448.5 221.7h1M460.9 228.1h1M457.5 187.0h1M444.6 225.8h1M470.4 195.5h1M444.5 198.3h1M419.0 210.0h1M469.6 224.9h1M464.4 182.2h1M484.9 219.0h1M464.9 217.4h1M445.4 218.2h1M478.9 215.1h1M446.5 176.8h1M443.7 219.0h1M466.7 199.8h1M456.0 237.2h1M418.4 209.6h1M483.8 205.0h1M447.5 198.9h1M450.3 231.7h1M468.9 237.8h1M448.3 196.2h1M414.5 192.7h1M462.0 177.1h1M454.0 189.8h1M441.1 209.6h1M460.1 176.5h1M451.4 198.3h1M450.4 179.5h1M437.6 204.0h1M415.9 189.2h1M466.9 231.9h1M448.0 199.8h1M420.1 180.2h1M457.5 222.1h1M458.5 183.8h1M431.4 182.3h1M427.5 210.1h1M484.4 216.1h1M428.5 191.7h1M432.2 192.6h1M441.0 182.3h1M438.7 210.1h1M436.8 214.4h1M442.5 230.2h1M439.4 187.0h1M453.4 220.3h1M433.3 187.7h1M428.7 183.7h1M432.5 173.8h1" stroke="#66bfa8"/><path d="M460.0 192.9h1M440.8 177.3h1M469.6 231.4h1M469.3 225.9h1M447.2 219.3h1M446.2 199.1h1M472.3 219.3h1M444.0 230.9h1M473.9 197.1h1M438.3 182.4h1M454.2 167.1h1M467.9 220.4h1M456.8 178.4h1M456.2 224.0h1M453.5 171.2h1M452.2 169.6h1M461.4 235.5h1M448.9 215.1h1M467.7 235.0h1M451.1 197.9h1M483.5 230.8h1M465.1 223.7h1M474.6 197.8h1M484.9 210.2h1M456.2 221.1h1M442.8 181.8h1M477.0 228.9h1M455.2 193.0h1M446.2 182.0h1M472.0 191.2h1M421.5 185.0h1M443.6 175.5h1M469.6 193.0h1M469.6 231.2h1M446.8 229.2h1M453.4 183.5h1M467.5 232.8h1M456.7 222.1h1M431.8 183.9h1M451.4 189.5h1M452.0 180.8h1M448.1 168.6h1M480.0 201.3h1M450.4 180.5h1M458.0 236.6h1M442.8 196.4h1M467.3 190.0h1M448.4 189.0h1M460.3 219.2h1M475.5 200.1h1M467.2 189.3h1M466.8 224.7h1M466.8 229.6h1M456.2 228.4h1M473.3 232.3h1M446.0 181.6h1M456.7 194.0h1M477.6 227.8h1M478.7 226.2h1M457.9 232.2h1M458.7 196.2h1M460.6 225.6h1M442.2 181.6h1M445.3 196.5h1M467.0 230.9h1M469.6 189.5h1M445.1 222.8h1M460.6 182.8h1M462.1 172.7h1M482.3 223.2h1M468.6 189.6h1M460.4 221.0h1M460.3 171.0h1M452.9 221.2h1M460.9 229.3h1M479.0 225.0h1M484.0 214.1h1M427.8 189.3h1M472.2 189.6h1M450.1 227.4h1M448.1 198.6h1M448.0 216.1h1M448.6 232.7h1M448.7 187.7h1M454.4 198.7h1M471.5 221.1h1M470.4 217.5h1M450.8 224.0h1M455.0 232.1h1M450.5 173.3h1M461.3 184.2h1M467.2 236.8h1M467.6 222.4h1M447.0 191.6h1M464.4 178.3h1M468.1 193.6h1M462.3 193.4h1M452.9 233.0h1M457.1 217.5h1M467.3 197.6h1M469.2 195.6h1M448.9 224.8h1M470.9 232.9h1M445.7 229.3h1M467.7 188.9h1M448.0 191.6h1M423.5 179.6h1M485.5 209.5h1M480.5 228.6h1M463.8 221.5h1M468.4 238.7h1M458.1 224.4h1M473.8 199.1h1M447.4 223.6h1M435.3 195.7h1M460.9 192.5h1M479.4 195.6h1M454.3 193.4h1M456.9 233.3h1M458.0 172.7h1M420.0 183.7h1M467.3 219.2h1M472.4 221.3h1M460.8 237.4h1M461.4 219.0h1M462.3 179.9h1M446.8 197.9h1M452.7 170.1h1M457.5 177.3h1M465.1 218.6h1M464.1 237.6h1M484.3 219.9h1M454.8 230.6h1M458.6 225.4h1M483.1 204.1h1M482.4 212.5h1M431.9 186.4h1M475.9 227.8h1M470.1 231.6h1M426.1 187.3h1M448.8 222.5h1" stroke="#4ba6d0"/><path d="M453.2 216.2h1M480.9 226.6h1M474.8 199.9h1M451.2 229.8h1M460.4 220.4h1M439.8 213.9h1M454.5 199.8h1M464.1 181.4h1M473.0 238.7h1M423.6 183.3h1M457.5 169.0h1M432.5 180.7h1M451.5 194.9h1M459.9 220.1h1M443.6 227.8h1M450.1 219.3h1M463.4 178.5h1M460.6 199.8h1M441.0 186.5h1M444.7 177.0h1M452.8 175.6h1M474.1 192.5h1M417.2 189.6h1M465.2 228.1h1M443.8 216.2h1M458.3 221.2h1M467.7 200.8h1M462.6 195.6h1M444.7 173.0h1M468.9 190.4h1M485.2 219.0h1M454.8 198.0h1M441.4 224.6h1M443.9 191.0h1M458.8 171.1h1M467.5 231.3h1M441.9 220.5h1M481.5 228.1h1M464.3 228.7h1M444.9 190.0h1M469.7 192.2h1M451.2 184.4h1M476.0 223.7h1M440.2 188.1h1M459.4 235.1h1M453.6 179.4h1M453.5 176.3h1M428.9 217.1h1M462.3 219.3h1M472.6 194.2h1M462.1 193.8h1M473.9 219.5h1M482.3 232.0h1M452.9 198.5h1M462.5 229.2h1M466.7 191.8h1M442.2 228.9h1M452.4 186.5h1M438.3 199.0h1M468.9 231.9h1M457.8 196.6h1M443.8 231.8h1M455.1 200.5h1M484.7 219.8h1M448.8 174.0h1M455.0 233.2h1M446.2 182.6h1M449.8 229.2h1M455.5 223.8h1M448.5 214.8h1M450.4 239.4h1M434.2 181.9h1M423.7 184.3h1M437.8 186.6h1M471.8 234.7h1M441.8 196.3h1M444.2 177.3h1M446.6 198.5h1M457.7 233.0h1M451.3 215.4h1M453.7 232.8h1M463.5 194.0h1M454.2 224.0h1M453.6 214.2h1M447.4 180.4h1M423.8 184.1h1M443.4 174.5h1M474.6 198.7h1M457.4 196.1h1M449.8 224.4h1M462.5 218.0h1M445.0 194.5h1M449.1 227.3h1M420.2 186.9h1M457.8 238.8h1M462.5 238.7h1M454.7 169.9h1M466.8 227.6h1M451.4 187.6h1M465.1 236.3h1M430.9 196.1h1M481.3 197.7h1M428.4 200.8h1M474.7 226.5h1M466.8 196.7h1M442.6 189.4h1M444.7 231.9h1M430.9 186.6h1M448.8 186.7h1M472.8 193.2h1M442.2 178.0h1M482.3 205.7h1M458.0 222.2h1M442.6 182.5h1M461.0 221.3h1M418.3 187.7h1M469.1 232.9h1M428.3 211.9h1M436.9 200.9h1M434.0 183.7h1M447.7 217.1h1M472.9 237.7h1M466.6 233.2h1M457.6 180.8h1M469.7 237.2h1M482.7 224.1h1M482.4 204.6h1M447.0 181.4h1M477.5 219.9h1M446.2 223.0h1M449.0 199.1h1M454.9 228.6h1M469.5 217.0h1M480.2 224.2h1M448.7 228.6h1M453.9 221.0h1M471.9 192.9h1M453.6 177.8h1M447.4 189.3h1M474.1 217.9h1M449.6 170.1h1M469.8 201.9h1M469.3 194.0h1M448.7 235.5h1M448.4 233.7h1M455.2 173.4h1M452.5 181.6h1M449.1 219.4h1M483.4 210.8h1M464.1 218.4h1M452.1 233.8h1M456.9 179.3h1M466.8 200.4h1M429.8 189.6h1M461.2 181.9h1M462.1 237.7h1M457.9 236.8h1M442.0 217.3h1M457.2 187.3h1M446.5 189.8h1M461.1 237.5h1M444.5 218.9h1M460.0 184.7h1" stroke="#58b9cd"/><path d="M456.7 186.3h1M471.8 219.4h1M445.6 223.7h1M468.2 237.0h1M487.0 217.2h1M460.3 169.7h1M451.0 224.4h1M480.7 200.5h1M475.2 226.1h1M471.9 194.9h1M462.6 194.5h1M458.7 231.7h1M453.4 226.4h1M470.6 228.6h1M469.2 224.1h1M461.6 232.1h1M458.9 238.7h1M464.3 218.2h1M463.2 222.1h1M464.7 222.4h1M466.0 176.2h1M453.2 220.0h1M475.2 238.0h1M478.4 227.1h1M445.0 226.7h1M465.2 197.1h1M463.8 199.4h1M444.3 222.2h1M475.4 196.7h1M453.9 190.7h1M480.9 196.7h1M425.5 183.5h1M461.2 229.2h1M469.5 230.5h1M458.0 199.2h1M458.0 188.0h1M457.5 192.3h1" stroke="#3e84c7"/><path d="M449.1 175.8h1M434.2 204.9h1M429.6 211.2h1M450.8 205.7h1M452.6 213.9h1M427.7 193.3h1M433.0 192.3h1M419.8 196.6h1M419.3 198.6h1M473.5 214.3h1M474.6 210.6h1M442.3 180.8h1M442.9 202.6h1M428.1 213.7h1M433.8 206.1h1M434.2 196.7h1M447.0 210.0h1M432.7 216.7h1M460.3 168.3h1M468.8 216.1h1M442.7 213.4h1M442.9 228.6h1M432.0 220.0h1M435.5 204.2h1M456.5 181.2h1M428.4 197.6h1M420.7 198.8h1M453.2 210.3h1M445.4 192.7h1M429.3 211.7h1M421.8 214.2h1M427.6 195.8h1M467.5 216.5h1M429.3 191.2h1M428.7 211.7h1M437.8 214.8h1M426.8 212.2h1M452.9 210.7h1M459.8 209.1h1M455.6 171.0h1M435.4 213.2h1M425.9 196.8h1M482.6 207.0h1M428.9 202.8h1M419.4 201.4h1M448.1 218.8h1M432.6 211.3h1M444.6 206.7h1M442.9 222.2h1M438.9 180.7h1M433.5 202.5h1M478.0 211.0h1M452.1 211.7h1M421.7 209.5h1M439.2 181.7h1M476.6 209.6h1M421.7 213.2h1M435.2 209.5h1M464.3 203.7h1M460.1 210.4h1M448.5 199.4h1M441.0 189.5h1M442.7 221.2h1M428.0 211.1h1M419.1 192.4h1M419.2 197.5h1M459.9 174.3h1M441.8 208.4h1M458.1 202.6h1M414.9 193.7h1M436.2 212.2h1M433.2 215.3h1M436.6 201.6h1M460.9 203.7h1M464.7 212.0h1M432.8 205.7h1M476.9 203.9h1M483.1 222.4h1M424.5 193.5h1M443.9 229.9h1M471.0 209.1h1M464.8 198.9h1M434.5 216.0h1M453.9 212.1h1M438.7 200.6h1M450.6 169.9h1M434.4 201.3h1M474.7 217.1h1M416.3 198.9h1M441.7 207.3h1M481.1 209.3h1M438.8 214.3h1M424.1 214.3h1M453.6 210.5h1M464.7 206.1h1M455.5 239.0h1M435.0 217.9h1M431.3 214.6h1M460.1 213.5h1M433.0 208.3h1M418.9 199.3h1M462.3 204.1h1M459.0 203.4h1M417.6 210.2h1M465.9 200.4h1M450.3 198.7h1M472.4 215.2h1" stroke="#bfd253"/><path d="M432.3 204.3h1M420.0 198.9h1M469.7 200.9h1M460.5 201.1h1M477.2 209.0h1M474.0 212.3h1M449.6 204.4h1M435.6 205.4h1M427.3 209.8h1M451.1 206.0h1M417.9 189.5h1M461.3 179.9h1M474.6 203.4h1M478.6 210.4h1M457.6 210.9h1M448.3 207.7h1M471.6 215.8h1M438.6 224.0h1M463.8 206.7h1M419.3 197.5h1M422.2 196.7h1M461.0 203.4h1M480.6 213.2h1M440.1 207.2h1M445.5 201.8h1M430.5 193.1h1M437.1 221.8h1M422.9 194.9h1M435.9 194.4h1M429.3 193.2h1M485.6 212.0h1M425.7 208.7h1M439.7 206.2h1M435.6 211.2h1M425.1 187.5h1M423.0 205.8h1M448.9 207.9h1M423.6 194.4h1M416.7 198.6h1M429.5 193.4h1M477.3 200.4h1M418.7 211.3h1M439.9 214.6h1M451.1 209.7h1M423.7 190.9h1M427.0 208.5h1M448.0 210.1h1M459.6 172.5h1M454.5 205.3h1M435.6 216.7h1M481.5 206.3h1M457.7 208.5h1M421.0 198.7h1M437.7 211.3h1M477.8 202.0h1M449.9 206.5h1M419.0 210.3h1M428.8 201.8h1M445.5 208.5h1M459.5 201.0h1M451.1 188.5h1M430.7 211.1h1M414.8 205.0h1M420.4 206.0h1M461.4 202.5h1M463.4 207.2h1M477.1 210.5h1M438.4 209.3h1M425.5 204.6h1M440.7 200.0h1M429.0 200.0h1M446.0 208.4h1M431.0 197.8h1M478.0 232.2h1M421.9 203.7h1M459.4 204.4h1M420.6 196.4h1M433.6 210.6h1M418.9 191.4h1M451.8 168.5h1M474.7 237.7h1M473.6 215.5h1M471.2 201.8h1M422.9 192.9h1M471.9 201.6h1M448.0 214.6h1M425.9 193.9h1M427.7 201.8h1M481.1 207.6h1M430.2 212.2h1" stroke="#d5d24c"/><path d="M431.8 200.5h1M448.0 215.1h1M431.0 220.3h1M463.8 210.2h1M438.7 209.0h1M426.6 209.1h1M459.8 171.2h1M415.3 194.6h1M434.3 193.4h1M428.6 218.0h1M424.3 183.8h1M478.7 234.0h1M415.8 198.1h1M443.8 204.9h1M467.1 202.7h1M455.6 177.0h1M419.1 196.0h1M433.1 204.9h1M462.4 197.9h1M426.7 208.0h1M455.6 171.4h1M432.2 215.2h1M440.7 192.3h1M483.2 217.6h1M461.8 198.7h1M486.5 209.8h1M464.3 228.5h1M452.9 170.8h1M482.3 208.0h1M483.4 205.9h1M458.3 179.3h1M436.1 192.3h1M451.2 207.0h1M443.7 217.2h1M433.1 209.3h1M429.5 197.5h1M437.2 206.1h1M462.6 205.8h1M470.9 201.8h1M478.6 211.4h1M460.4 208.6h1M443.8 208.4h1M438.7 221.7h1M477.9 214.6h1M424.7 196.8h1M486.0 221.3h1M423.0 194.2h1M481.7 205.6h1M419.2 192.4h1M426.6 211.2h1M432.2 219.8h1M419.1 197.3h1M435.3 212.2h1M444.0 215.0h1M478.2 239.3h1M458.2 213.3h1M427.5 198.7h1M458.5 169.3h1M437.4 182.0h1M439.4 224.3h1M448.4 177.3h1M446.4 185.8h1M467.8 200.9h1M447.0 174.2h1M462.1 181.4h1M482.4 203.4h1M419.7 212.9h1M427.7 206.8h1M474.9 206.2h1M455.7 171.7h1M435.7 201.0h1M447.4 186.1h1M462.9 205.2h1M437.8 214.3h1M453.6 168.5h1M451.1 194.8h1M453.3 172.6h1M457.4 201.9h1M445.7 176.9h1M455.1 175.0h1M418.1 207.0h1M428.5 216.4h1M450.0 206.0h1M469.6 204.3h1M445.5 194.8h1M417.4 183.8h1M427.2 180.9h1M466.5 211.1h1M450.7 172.7h1M446.0 174.9h1M415.3 193.2h1M419.5 203.4h1M444.9 203.3h1M459.4 168.8h1M432.0 203.8h1M455.6 216.7h1M427.2 185.9h1M432.7 217.0h1M483.8 219.3h1M459.7 212.6h1M434.8 217.2h1M483.2 206.2h1M439.8 180.8h1" stroke="#aad25a"/><path d="M443.8 174.8h1M444.7 209.6h1M446.8 235.0h1M426.8 196.3h1M421.0 204.3h1M437.6 201.6h1M466.0 218.1h1M419.9 208.3h1M439.2 179.7h1M440.2 178.4h1M474.1 198.9h1M452.2 171.4h1M474.3 227.0h1M439.6 221.4h1M474.2 237.7h1M455.8 230.3h1M455.6 227.5h1M474.7 228.6h1M454.2 200.7h1M438.2 184.9h1M453.3 182.4h1M463.4 238.4h1M473.7 218.8h1M455.8 199.8h1M420.2 196.0h1M447.5 198.6h1M446.0 203.4h1M439.8 200.7h1M458.0 233.2h1M424.6 183.1h1M482.4 218.9h1M448.2 199.4h1M418.3 209.5h1M426.0 186.8h1M449.4 185.3h1M414.5 208.3h1M455.2 177.4h1M472.2 238.5h1M482.5 212.2h1M456.2 185.9h1M487.0 207.8h1M486.4 216.4h1M442.5 222.9h1M457.1 224.5h1M451.9 220.9h1M417.0 188.6h1M427.5 182.3h1M474.5 216.0h1M455.7 234.0h1M485.4 201.9h1M457.6 229.1h1M449.2 210.7h1M454.0 193.6h1M449.8 231.1h1M442.1 185.9h1M484.1 219.1h1M460.2 200.7h1M474.6 199.6h1M474.2 221.3h1M420.7 212.7h1M481.8 217.0h1M483.2 219.5h1M432.9 201.7h1M446.5 182.8h1M452.6 195.1h1M471.9 201.4h1M444.3 196.8h1M444.6 224.8h1M476.1 233.0h1M437.5 210.9h1M446.5 208.7h1M434.0 192.7h1M453.9 170.7h1M425.0 211.0h1M477.0 216.4h1M477.7 199.3h1M471.7 193.9h1M425.3 197.6h1M456.5 192.7h1M469.6 223.1h1M466.4 237.5h1M485.0 211.2h1M444.6 198.1h1M457.2 199.8h1M438.5 210.6h1M462.5 199.4h1M485.0 203.8h1M485.4 201.5h1M471.6 236.7h1M479.0 235.0h1M483.6 213.1h1M453.0 178.6h1M453.3 218.8h1M429.2 184.5h1M452.7 210.9h1M475.0 239.7h1M439.8 199.5h1M440.0 182.2h1M418.5 194.5h1M419.3 207.2h1M436.2 200.1h1M462.8 170.8h1M457.1 221.6h1M479.0 219.4h1M444.5 174.1h1M461.7 228.8h1M460.4 236.1h1M484.4 217.1h1M438.1 188.1h1M446.5 200.6h1M437.0 189.6h1M437.5 187.6h1M449.6 232.4h1M457.3 181.9h1M450.6 230.5h1M451.6 224.7h1M427.4 194.3h1M483.7 218.3h1M488.0 215.3h1M438.9 215.0h1M433.3 186.1h1M447.0 174.5h1M440.5 180.0h1M416.8 187.1h1M428.7 207.3h1M457.7 170.4h1M467.9 217.4h1M425.0 183.1h1M442.9 224.0h1M466.8 198.4h1M482.0 222.2h1M476.5 218.3h1M425.1 214.4h1M420.0 210.2h1M438.4 190.7h1M421.2 180.2h1M427.1 183.2h1M450.2 217.1h1M418.5 207.9h1M455.0 168.7h1M465.4 198.1h1M417.3 187.7h1M430.4 197.0h1M483.0 205.2h1M422.0 179.6h1M461.8 175.6h1M475.5 215.9h1M439.1 181.7h1M428.4 194.4h1M452.2 194.1h1M434.1 209.5h1" stroke="#6dc295"/><path d="M470.2 208.5h1M464.6 207.4h1M470.3 215.1h1M474.1 208.0h1M468.2 205.3h1M473.8 203.2h1M426.7 201.9h1" stroke="#e45737"/><path d="M427.1 213.8h1M431.9 209.3h1M432.5 201.3h1M415.0 203.8h1M423.7 205.1h1M441.1 208.6h1M430.9 206.8h1M427.5 191.8h1M461.8 203.4h1M432.2 207.7h1M420.6 211.0h1M442.4 217.5h1M463.0 212.7h1M415.1 202.8h1M462.2 212.2h1M423.5 199.3h1M435.8 214.2h1M433.6 200.6h1M441.2 229.7h1M458.3 214.4h1M487.5 212.8h1M415.0 201.8h1M451.4 212.4h1M478.9 208.5h1M431.0 203.7h1M422.5 191.9h1M450.8 205.3h1M458.1 207.7h1M427.7 204.0h1M421.2 204.6h1M460.9 207.8h1M443.3 209.9h1M433.5 216.3h1M470.0 207.4h1M426.7 195.3h1M419.1 199.4h1M449.4 208.8h1M424.6 197.4h1M453.7 170.1h1M456.8 202.9h1M437.8 200.2h1M467.1 215.5h1M474.7 213.8h1M475.1 233.7h1M443.8 206.0h1M421.7 203.7h1M428.8 189.5h1M429.1 215.6h1M461.1 204.4h1M417.3 188.0h1M477.5 207.8h1M469.0 209.8h1M427.8 192.6h1M424.9 203.8h1M477.2 232.8h1M444.4 210.0h1M418.5 190.6h1M468.3 211.7h1M449.8 204.8h1M424.2 200.1h1M423.4 205.8h1M456.6 201.9h1M478.9 210.8h1M424.7 215.3h1M481.7 200.6h1M474.1 207.0h1M437.6 204.5h1M463.4 203.9h1M435.1 209.9h1M436.7 208.1h1M456.3 203.8h1M425.2 199.9h1M475.6 210.2h1M470.2 205.1h1M477.7 211.2h1M454.8 201.8h1M450.4 208.8h1M449.3 207.4h1M440.2 209.7h1" stroke="#e7cf45"/><path d="M452.1 210.0h1M472.1 202.4h1M470.5 204.1h1M427.5 215.1h1M470.7 216.4h1M449.0 211.8h1M470.0 202.4h1M426.7 201.5h1M428.5 201.1h1M467.9 211.8h1M479.5 214.9h1M431.5 206.0h1M435.5 218.5h1M418.0 210.6h1M451.1 205.8h1M452.6 210.3h1M469.9 206.1h1M434.5 218.8h1M417.2 198.3h1M477.8 235.5h1M459.5 205.4h1M482.0 218.0h1M422.9 203.5h1M445.1 202.8h1M477.9 208.2h1M474.4 209.9h1M450.8 204.8h1M418.5 203.8h1M434.8 206.1h1" stroke="#f5a53c"/><path d="M458.0 174.6h1M449.9 220.9h1M438.9 214.7h1M446.3 199.4h1M483.3 214.9h1M478.1 216.5h1M458.3 171.0h1M445.0 231.2h1M441.1 178.1h1M478.2 220.1h1M435.3 193.6h1M469.0 225.1h1M469.7 196.4h1M455.2 172.6h1M454.3 177.0h1M445.2 196.8h1M447.4 228.4h1M479.5 200.8h1M451.4 233.4h1M473.9 239.7h1M439.2 184.8h1M466.9 228.6h1M480.8 224.3h1M479.1 227.2h1M481.3 201.9h1M462.2 180.4h1M461.0 220.0h1M440.0 186.2h1M454.5 235.7h1M434.9 181.1h1M447.1 198.4h1M432.9 190.3h1M467.2 198.9h1M433.7 183.3h1M451.7 170.3h1M452.0 229.2h1M446.0 175.9h1M449.7 181.2h1M458.5 168.7h1M464.0 238.7h1M441.5 193.0h1M479.9 226.8h1M454.2 178.5h1M438.3 191.8h1M483.7 204.0h1M450.1 216.7h1M455.1 192.7h1M457.0 178.3h1M452.7 169.0h1M470.8 194.0h1M467.9 233.0h1M481.1 232.9h1M423.6 209.6h1M468.1 227.2h1M462.6 218.0h1M476.2 227.0h1M419.4 209.3h1M433.5 180.5h1M453.9 238.4h1M486.6 211.7h1M460.0 182.3h1M481.5 231.4h1M476.6 199.7h1M466.6 235.7h1M439.4 182.4h1M459.3 214.5h1M448.3 186.5h1M460.6 170.1h1M459.4 238.1h1M451.0 172.6h1M466.3 221.8h1M467.6 228.3h1M476.2 198.3h1M444.4 233.6h1M486.3 209.3h1M446.2 195.3h1M455.6 180.2h1M434.6 182.7h1M476.1 215.5h1M442.2 185.5h1M443.2 223.1h1M452.2 215.9h1M428.2 184.5h1M466.1 236.1h1M465.8 199.9h1M472.8 198.7h1M455.9 185.6h1M465.9 196.2h1M431.9 218.8h1M451.5 173.4h1M440.2 190.2h1M435.3 196.7h1M441.4 199.3h1M479.3 199.4h1M468.7 232.0h1M460.6 169.0h1M469.9 227.9h1M430.6 189.0h1M450.4 183.2h1M439.1 188.0h1M445.7 229.8h1M453.3 185.9h1M481.6 211.6h1M455.4 215.6h1M473.5 198.0h1M462.1 192.8h1M423.3 185.0h1M462.7 229.1h1M436.3 193.3h1M466.0 226.7h1M453.9 198.5h1M420.7 184.3h1M472.1 230.2h1M449.7 231.1h1M465.5 175.3h1M432.7 186.9h1M433.2 186.7h1M464.7 173.5h1M447.6 199.0h1M452.4 226.3h1M422.8 206.8h1M433.9 190.3h1M423.8 184.7h1M435.2 199.9h1M477.1 227.9h1M436.5 204.3h1M458.7 227.9h1M466.4 218.8h1M459.4 227.1h1M486.9 211.9h1M450.2 185.9h1M458.6 225.9h1M487.5 218.2h1M455.5 172.4h1M445.1 184.2h1M451.6 193.9h1M449.5 214.8h1M444.1 182.6h1M458.2 183.0h1M427.8 180.1h1M437.9 194.5h1M446.6 189.4h1M456.6 171.2h1M434.4 219.8h1M447.0 203.4h1M459.1 189.0h1M467.0 235.6h1M452.9 179.6h1" stroke="#5fbcba"/><path d="M442.6 225.4h1M463.7 189.3h1M467.6 230.2h1M471.4 221.7h1M427.9 184.4h1M472.0 220.3h1M467.7 232.0h1M476.3 229.6h1M474.1 191.4h1M474.1 197.7h1M456.3 196.3h1M463.5 229.1h1M456.2 223.0h1M445.8 180.6h1M451.2 194.5h1M457.3 179.2h1M466.8 234.7h1M474.9 228.8h1M460.2 230.0h1M460.0 176.9h1M446.7 180.9h1M450.1 182.1h1M447.7 234.4h1M451.1 216.5h1M454.2 196.0h1M472.9 219.2h1M455.2 178.3h1M470.5 222.2h1M460.8 177.3h1M453.6 237.4h1M462.5 231.6h1M450.1 236.9h1M463.6 179.5h1M477.0 226.0h1M443.6 225.2h1M480.4 200.3h1M452.1 192.5h1M452.8 234.1h1M447.3 195.6h1M453.7 182.5h1M462.4 221.0h1M464.3 196.9h1M454.9 238.1h1M455.8 178.2h1M472.8 234.3h1M459.1 195.3h1M455.0 227.5h1M449.4 182.9h1M479.1 218.6h1M450.8 181.5h1M461.8 234.5h1M468.4 231.8h1M464.6 195.4h1M477.7 197.1h1M465.1 232.9h1M471.2 238.5h1M480.4 201.5h1M451.1 233.6h1M480.9 234.4h1M468.0 189.9h1M461.8 191.8h1M471.1 231.7h1M468.8 192.8h1M479.4 196.2h1M470.3 194.0h1M461.7 233.2h1M458.5 175.5h1" stroke="#4291cd"/><path d="M438.9 198.1h1M445.4 199.8h1M448.0 186.5h1M460.2 234.7h1M449.5 232.1h1M468.0 190.5h1M436.9 188.6h1M431.1 183.1h1M479.8 224.4h1M454.9 217.6h1M477.7 238.4h1M453.1 221.7h1M445.4 195.8h1M478.4 195.6h1M467.6 221.7h1M471.4 229.7h1M475.1 228.7h1M466.1 223.0h1M475.6 227.1h1M470.9 236.0h1M452.4 218.2h1M427.4 179.9h1M419.3 208.3h1M462.0 228.5h1M454.0 170.3h1M455.7 193.7h1M460.3 187.5h1M473.1 222.0h1M478.7 197.0h1M462.9 228.0h1M469.8 226.8h1M414.8 182.5h1M462.5 198.9h1M446.6 220.2h1M452.8 189.8h1M467.1 227.6h1M444.7 193.5h1M470.1 197.4h1M454.1 219.4h1M453.7 194.2h1M434.6 182.8h1M457.7 221.2h1M458.6 235.7h1M476.4 226.9h1M418.2 209.6h1M476.7 222.9h1M447.4 185.6h1M448.4 183.2h1M458.5 232.2h1M450.1 225.0h1M450.6 194.4h1M474.3 229.6h1M443.0 224.9h1M452.8 222.7h1M449.4 239.0h1M448.8 187.1h1M458.7 171.9h1M465.7 195.4h1M480.3 223.1h1M460.4 219.4h1M463.6 218.9h1M452.9 238.2h1M467.0 222.5h1M448.1 222.3h1M414.3 183.4h1M461.0 174.9h1M459.0 188.1h1M456.4 232.4h1M479.8 215.6h1M461.0 189.8h1M456.9 182.8h1M456.6 180.5h1M455.5 192.8h1M444.5 183.0h1M471.4 195.7h1M463.2 183.3h1M464.6 181.2h1M461.7 237.8h1M471.3 217.9h1" stroke="#459dd2"/><path d="M459.3 207.4h1M422.5 208.8h1M445.4 210.0h1M462.0 203.2h1M474.2 205.5h1M467.2 205.7h1M455.3 205.4h1M463.2 206.2h1M459.2 205.5h1M431.8 217.4h1M460.4 211.9h1M431.9 192.2h1M472.3 203.4h1M437.9 214.7h1M432.1 211.4h1M453.1 210.2h1M420.5 203.5h1M468.3 210.9h1M474.3 210.9h1M446.0 211.7h1M447.3 209.3h1M469.3 211.8h1M469.2 211.2h1M469.3 214.9h1M418.8 199.5h1M460.8 208.8h1M477.9 208.2h1M475.4 207.1h1M458.1 209.4h1M429.5 219.0h1M467.0 206.7h1M464.6 201.7h1M457.4 213.7h1" stroke="#f2913a"/><path d="M458.8 226.9h1M449.4 191.2h1M459.3 221.1h1M455.2 236.5h1M476.1 225.7h1M461.9 217.1h1" stroke="#3452aa"/><path d="M460.0 175.4h1M439.8 214.5h1M465.5 204.4h1M440.9 207.7h1M424.3 198.8h1M421.7 199.0h1M479.5 207.8h1M463.1 205.1h1M461.4 211.5h1M474.8 214.1h1M451.2 206.6h1M424.0 195.5h1M430.0 199.7h1M442.7 213.2h1M479.1 209.4h1M443.4 214.2h1M425.5 194.3h1M418.2 202.9h1M417.5 202.2h1M420.3 195.7h1M471.7 209.9h1M447.3 199.9h1M420.3 205.1h1M450.3 205.1h1M469.3 212.0h1M419.7 201.5h1M429.8 202.7h1M472.8 213.5h1M425.4 198.6h1M434.2 219.0h1M427.8 207.8h1M436.4 211.2h1M429.2 192.1h1M464.7 205.0h1M426.5 193.8h1M414.9 206.9h1M427.4 196.8h1M422.3 193.7h1M478.0 236.5h1M469.9 203.3h1M472.7 202.6h1M474.1 233.4h1M437.4 205.0h1M478.2 207.2h1M457.9 208.7h1M460.5 205.8h1M423.8 197.9h1M423.0 195.3h1M458.0 207.5h1M439.2 210.0h1M417.1 199.6h1M468.5 207.4h1M424.0 206.1h1M442.8 208.4h1M427.5 203.0h1M443.9 205.7h1M424.9 197.2h1M417.8 195.2h1" stroke="#ecc142"/><path d="M435.8 218.5h1M473.2 210.9h1M422.5 198.3h1M466.6 206.6h1M468.9 210.8h1M473.7 211.0h1M450.8 204.7h1M455.1 206.4h1M478.8 214.1h1M425.7 206.4h1" stroke="#ec6837"/><path d="M466.1 227.6h1" stroke="#3148a2"/><path d="M461.1 210.0h1" stroke="#8a1f2c"/><path d="M459.6 235.5h1M453.8 230.2h1" stroke="#2e409a"/><path d="M427.5 205.1h1M468.9 213.0h1M473.8 213.3h1M471.2 204.9h1M461.2 211.0h1M480.2 208.8h1M470.3 212.0h1M421.3 197.2h1M424.6 194.7h1M424.3 210.3h1M467.7 201.9h1M458.6 211.1h1M456.9 209.0h1M430.9 219.1h1M471.8 202.6h1" stroke="#ef7c39"/><path d="M459.8 238.4h1M459.4 226.1h1M471.3 194.1h1" stroke="#365fb2"/><path d="M424.3 217.3h1M463.2 209.3h1" stroke="#c22f36"/><path d="M462.8 237.9h1M476.0 225.4h1M464.1 222.5h1M458.6 228.8h1M461.8 228.8h1M453.9 217.6h1M473.6 190.5h1M459.9 175.5h1M449.1 236.6h1M457.5 175.4h1M472.6 221.1h1M451.9 187.4h1M472.1 237.6h1M455.1 223.6h1M471.6 192.1h1M454.6 227.9h1M461.1 188.2h1M442.8 184.2h1M471.9 232.8h1M449.0 191.4h1M467.8 221.4h1M457.5 222.2h1M459.6 225.3h1M459.5 183.8h1M457.1 233.0h1M464.9 221.6h1M443.2 229.0h1M477.4 196.0h1M448.8 217.9h1M473.4 226.5h1M465.7 219.5h1M447.8 221.0h1M471.8 193.1h1M440.6 200.1h1" stroke="#3b78c0"/><path d="M472.9 202.6h1M418.5 201.8h1" stroke="#d13837"/><path d="M468.5 208.7h1M471.0 212.8h1M464.7 210.9h1M468.3 212.1h1" stroke="#da4837"/></g><path d="M412.3 163.7V243.3H491.9" stroke="#7a7a7a" stroke-width="0.9" fill="none"/><path d="M410.3 163.7H491.9" stroke="#a8a8a8" stroke-width="0.8" fill="none"/><path d="M410.1 163.7h2.2M412.3 243.3v2.2M410.7 168.7h1.6M417.3 243.3v1.6M410.7 173.6h1.6M422.2 243.3v1.6M410.7 178.6h1.6M427.2 243.3v1.6M410.1 183.6h2.2M432.2 243.3v2.2M410.7 188.6h1.6M437.2 243.3v1.6M410.7 193.5h1.6M442.2 243.3v1.6M410.7 198.5h1.6M447.1 243.3v1.6M410.1 203.5h2.2M452.1 243.3v2.2M410.7 208.5h1.6M457.1 243.3v1.6M410.7 213.4h1.6M462.1 243.3v1.6M410.7 218.4h1.6M467.0 243.3v1.6M410.1 223.4h2.2M472.0 243.3v2.2M410.7 228.4h1.6M477.0 243.3v1.6M410.7 233.3h1.6M481.9 243.3v1.6M410.7 238.3h1.6M486.9 243.3v1.6M410.1 243.3h2.2M491.9 243.3v2.2" stroke="#6a6a6a" stroke-width="0.7" fill="none"/><text x="406.3" y="166.2" font-size="5.70" text-anchor="end" font-weight="normal" fill="#333" stroke="#333" stroke-width="0.25">6.1</text><text x="406.3" y="186.1" font-size="5.70" text-anchor="end" font-weight="normal" fill="#333" stroke="#333" stroke-width="0.25">3.1</text><text x="406.3" y="206.0" font-size="5.70" text-anchor="end" font-weight="normal" fill="#333" stroke="#333" stroke-width="0.25">0.1</text><text x="406.3" y="225.9" font-size="5.70" text-anchor="end" font-weight="normal" fill="#333" stroke="#333" stroke-width="0.25">−2.9</text><text x="406.3" y="245.8" font-size="5.70" text-anchor="end" font-weight="normal" fill="#333" stroke="#333" stroke-width="0.25">−5.9</text><text x="412.8" y="254.3" font-size="5.70" text-anchor="middle" font-weight="normal" fill="#3a3a3a" stroke="#3a3a3a" stroke-width="0.25">−8.5</text><text x="432.7" y="254.3" font-size="5.70" text-anchor="middle" font-weight="normal" fill="#3a3a3a" stroke="#3a3a3a" stroke-width="0.25">−4.4</text><text x="452.6" y="254.3" font-size="5.70" text-anchor="middle" font-weight="normal" fill="#3a3a3a" stroke="#3a3a3a" stroke-width="0.25">−0.3</text><text x="472.5" y="254.3" font-size="5.70" text-anchor="middle" font-weight="normal" fill="#3a3a3a" stroke="#3a3a3a" stroke-width="0.25">3.7</text><text x="492.4" y="254.3" font-size="5.70" text-anchor="middle" font-weight="normal" fill="#3a3a3a" stroke="#3a3a3a" stroke-width="0.25">7.8</text><rect x="491.9" y="163.7" width="3.8" height="79.6" fill="url(#cb)"/><path d="M495.7 167.7h-1.2M495.7 171.7h-1.2M495.7 175.6h-1.2M495.7 179.6h-1.2M495.7 183.6h-1.2M495.7 187.6h-1.2M495.7 191.6h-1.2M495.7 195.5h-1.2M495.7 199.5h-1.2M495.7 203.5h-1.2M495.7 207.5h-1.2M495.7 211.5h-1.2M495.7 215.4h-1.2M495.7 219.4h-1.2M495.7 223.4h-1.2M495.7 227.4h-1.2M495.7 231.4h-1.2M495.7 235.3h-1.2M495.7 239.3h-1.2" stroke="#fff" stroke-opacity="0.5" stroke-width="0.5"/><rect x="494.5" y="208.5" width="2.5" height="4.3" rx="1.0" fill="#000"/><text x="501.1" y="195.9" font-size="5.70" text-anchor="start" font-weight="normal" fill="#333" stroke="#333" stroke-width="0.25">10<tspan dy="-2.3" font-size="3.9">3</tspan></text><text x="501.1" y="212.0" font-size="5.70" text-anchor="start" font-weight="normal" fill="#333" stroke="#333" stroke-width="0.25">0</text><text x="501.1" y="229.0" font-size="5.70" text-anchor="start" font-weight="normal" fill="#333" stroke="#333" stroke-width="0.25">−10<tspan dy="-2.3" font-size="3.9">3</tspan></text><text x="415.9" y="172.2" font-size="8.00" text-anchor="start" font-weight="normal" fill="#222" stroke="#222" stroke-width="0.2" textLength="25.0" lengthAdjust="spacingAndGlyphs">CD135</text><g stroke-width="1" fill="none" filter="url(#halo)"><path d="M87.3 283.9h1M49.7 302.9h1M45.5 308.9h1M61.2 294.4h1M64.8 291.4h1M44.2 306.3h1M44.5 307.9h1M54.9 299.9h1M50.4 300.9h1M84.2 293.2h1M53.9 301.8h1M109.0 317.4h1M44.9 304.5h1M55.8 299.5h1M49.6 305.4h1M48.7 302.9h1M41.4 311.0h1M64.5 299.2h1M45.0 303.8h1M46.6 307.0h1M64.2 295.1h1M65.2 287.1h1M47.4 308.2h1M51.2 301.7h1M50.8 299.1h1M64.2 287.6h1M59.0 299.2h1M77.5 302.4h1M50.4 304.0h1M55.0 300.9h1" stroke="#95cd6e"/><path d="M89.3 321.8h1M82.0 302.5h1M56.2 314.5h1M92.2 318.1h1M60.9 307.7h1M51.6 320.8h1M81.3 317.0h1M86.6 317.0h1M102.9 336.2h1M91.4 326.6h1M77.8 309.4h1M93.8 329.0h1M94.3 328.9h1M57.6 307.1h1M80.7 322.8h1M68.3 309.0h1M93.4 331.3h1M62.7 320.7h1M55.0 313.2h1M60.7 318.6h1M100.1 326.1h1M97.0 316.0h1M93.3 324.3h1M89.0 342.4h1M52.9 316.4h1M96.6 320.2h1M49.5 324.7h1M84.0 312.8h1M65.8 314.5h1M92.7 326.0h1M98.4 310.3h1M75.6 321.8h1M87.1 333.3h1M89.4 298.6h1M96.6 307.4h1M96.1 307.3h1M88.9 338.2h1M101.1 336.8h1M95.7 328.4h1M99.0 338.5h1M57.7 327.1h1M96.1 341.3h1M95.2 320.5h1M77.2 287.0h1M102.6 322.8h1M99.0 311.0h1M82.4 321.5h1M60.2 319.2h1M101.1 319.0h1M102.0 313.3h1M70.8 298.3h1M102.0 310.9h1M94.6 303.8h1M88.9 300.6h1M95.9 329.1h1M74.9 308.1h1M82.9 317.4h1M100.3 328.8h1M65.6 335.0h1M57.6 320.8h1M88.7 301.4h1M57.5 314.0h1M89.2 298.9h1M94.9 328.8h1M93.9 304.5h1M79.8 306.2h1M98.2 336.6h1M75.1 303.2h1M59.2 315.7h1M103.5 341.0h1M94.6 330.7h1M101.7 328.2h1M78.7 303.6h1M76.0 279.9h1M96.1 317.6h1M69.4 306.3h1M100.4 308.7h1M100.7 335.8h1M91.2 333.7h1M77.7 303.3h1M80.7 305.8h1M96.6 309.2h1M59.0 322.5h1M61.3 320.4h1M85.1 303.5h1M48.1 323.8h1M91.3 321.6h1M74.1 321.3h1M54.7 328.4h1M90.7 341.6h1M48.6 320.8h1M74.6 304.7h1M81.6 282.1h1M93.9 311.0h1M89.1 325.1h1M96.7 323.4h1M56.5 328.4h1M101.0 334.6h1M90.5 318.3h1M105.6 334.2h1M100.2 348.9h1M51.4 327.5h1M90.9 320.4h1M73.4 279.0h1M48.5 318.6h1M92.4 327.1h1M63.9 311.8h1M99.7 308.9h1M103.8 308.2h1M78.5 302.3h1M71.9 316.1h1M103.5 337.1h1M102.2 318.4h1M50.0 320.7h1M51.1 325.2h1M92.3 321.6h1M101.8 343.9h1M94.2 307.5h1M60.5 320.2h1M89.6 332.0h1M91.9 312.9h1M90.7 324.7h1M81.5 310.6h1M66.2 311.4h1M98.4 336.5h1M52.7 320.7h1M98.9 324.4h1M81.1 304.9h1M84.3 303.0h1M80.1 312.2h1M86.2 303.4h1M86.8 303.9h1M74.7 280.2h1M74.7 320.5h1M95.1 343.3h1M91.0 319.4h1M91.2 305.2h1M58.2 321.8h1M98.7 332.5h1M96.2 322.9h1M55.2 324.9h1M46.3 319.9h1M68.0 318.0h1M67.7 286.5h1M50.3 321.5h1M58.9 310.5h1M75.4 308.3h1M74.4 307.9h1M80.7 281.5h1M56.4 310.9h1M88.7 309.4h1M101.4 305.2h1M87.7 305.0h1M102.4 311.1h1M71.0 308.7h1M63.7 316.9h1M99.1 337.5h1M72.7 282.3h1M88.4 328.4h1M73.8 278.1h1M103.1 318.9h1M108.9 321.5h1M105.7 327.9h1M94.4 330.9h1M51.5 328.6h1M59.6 314.1h1M75.6 287.4h1M91.8 311.5h1M73.6 303.5h1M90.0 299.5h1M68.8 307.5h1M74.7 279.7h1M57.1 319.5h1M86.7 320.5h1M58.7 317.7h1M72.4 289.1h1M70.0 309.4h1M77.0 278.3h1M83.7 342.8h1M98.2 347.8h1M101.7 333.1h1M100.5 318.9h1M78.6 290.1h1M49.7 311.4h1M93.4 305.3h1M80.0 308.8h1M93.8 312.2h1M58.0 319.8h1" stroke="#f2913a"/><path d="M85.3 310.6h1M92.4 339.7h1M71.1 285.4h1M91.6 341.0h1M74.6 323.5h1M96.8 309.5h1M91.7 310.5h1M56.0 327.5h1M61.8 324.1h1M88.1 337.2h1M87.5 314.0h1M94.1 312.0h1M88.0 327.7h1M95.9 306.7h1M86.0 326.2h1M81.8 280.8h1M96.0 321.9h1M92.5 313.7h1M89.9 330.0h1M77.1 279.7h1M73.9 308.1h1M91.0 334.7h1M55.3 318.4h1M61.6 331.0h1M94.0 329.9h1M67.0 318.2h1M95.7 347.5h1M84.8 312.7h1M65.8 307.1h1M83.4 321.1h1M105.5 340.4h1M96.1 301.0h1M85.8 316.3h1M56.4 330.4h1M63.0 310.6h1M96.1 302.1h1M54.2 324.8h1M85.2 315.8h1M89.7 310.4h1M77.8 309.4h1M90.9 322.6h1M61.8 310.3h1M53.8 327.0h1M75.8 311.2h1M86.1 332.1h1M62.1 316.8h1M83.4 307.7h1M88.8 344.3h1M78.8 310.6h1M95.8 322.9h1M103.5 337.7h1M94.7 301.8h1M98.0 333.3h1M54.1 321.0h1M88.1 332.6h1M97.6 336.7h1M59.8 305.1h1M77.1 302.3h1M69.8 284.4h1M83.2 320.6h1M97.2 335.7h1M88.8 334.3h1M59.8 324.4h1M77.1 310.1h1M93.3 304.5h1M93.7 319.5h1M57.5 328.1h1M77.6 280.6h1M94.9 312.2h1M70.8 283.6h1M92.1 333.6h1M56.9 326.1h1M92.5 310.6h1M99.6 337.4h1M67.3 306.1h1M54.6 320.9h1M87.7 332.3h1M95.1 331.6h1M67.2 311.8h1M91.6 299.1h1M89.6 337.9h1M98.2 307.9h1M96.3 320.5h1M94.1 347.2h1M94.5 335.6h1M68.6 308.1h1M89.8 322.5h1M73.1 315.4h1M54.9 329.2h1M85.5 303.6h1M99.0 335.6h1M98.1 325.1h1M54.2 329.4h1M74.6 319.9h1M91.9 315.7h1M87.8 309.5h1M93.6 301.7h1M87.9 333.8h1M100.5 347.0h1M58.7 326.7h1M53.9 328.4h1M59.5 320.5h1M79.7 318.1h1M76.4 308.3h1M92.1 307.0h1M95.7 320.6h1M76.4 306.6h1M98.3 306.8h1M49.8 317.4h1M69.3 305.2h1M43.9 321.7h1M76.6 320.4h1M82.1 320.0h1M91.3 321.4h1M90.7 341.6h1M91.9 337.5h1M98.5 317.1h1M84.5 348.3h1M76.0 302.3h1M80.5 310.8h1M89.8 310.5h1M76.7 279.5h1M66.6 307.7h1M41.7 322.5h1M79.2 309.4h1M97.5 336.0h1M94.7 312.2h1M88.8 306.3h1M86.0 322.4h1M83.4 312.1h1M90.2 314.9h1M81.5 315.0h1M96.1 343.0h1M60.4 318.9h1M101.5 342.9h1M99.5 317.4h1M99.0 338.2h1M89.3 307.2h1M62.7 309.6h1M59.8 323.9h1M87.7 343.3h1M75.9 308.1h1M97.0 349.3h1M82.9 313.3h1M89.8 331.0h1M87.3 329.6h1M99.2 342.4h1M58.2 309.7h1M66.4 319.6h1M89.7 316.4h1M50.5 326.0h1M87.2 305.9h1M72.0 315.6h1M96.7 313.2h1M86.9 327.0h1M56.5 325.6h1M60.1 308.9h1M82.9 302.1h1M69.6 308.6h1M87.2 306.7h1M85.8 309.0h1M78.6 311.5h1M93.1 311.5h1M81.1 330.3h1M66.9 312.9h1M46.7 324.9h1M103.7 310.2h1M86.7 315.7h1M79.7 280.0h1M86.9 331.2h1M97.4 306.3h1M53.3 324.2h1M64.8 318.0h1M63.1 319.2h1M83.8 301.4h1M81.7 311.2h1M87.1 328.2h1M80.2 306.3h1M101.4 305.8h1M65.9 315.3h1M97.6 319.8h1M103.7 341.6h1M97.9 337.4h1M78.6 280.8h1M95.7 331.9h1M103.8 340.6h1M91.5 340.1h1M90.3 321.7h1M55.7 326.4h1M52.9 328.7h1M60.7 319.7h1M71.4 283.2h1M87.7 320.1h1M56.1 319.1h1M93.3 327.5h1" stroke="#ef7c39"/><path d="M78.2 333.1h1M75.2 325.8h1M74.1 319.6h1M80.8 336.5h1M64.6 321.8h1M60.9 324.3h1M63.1 318.2h1M95.0 348.3h1M100.7 343.6h1M73.1 315.6h1M75.2 320.9h1M64.4 327.1h1M65.6 337.4h1M85.0 322.3h1M62.5 321.7h1M80.6 324.9h1M70.3 317.3h1M77.6 337.1h1M73.4 343.0h1M64.9 312.2h1M76.2 310.3h1M71.1 313.0h1M63.2 339.3h1M76.9 327.2h1M87.2 337.7h1M80.3 330.8h1M69.5 308.2h1M83.2 326.0h1M76.5 345.3h1M73.8 326.9h1M68.7 330.5h1M94.2 348.1h1M64.7 323.0h1M63.9 330.1h1M89.6 331.3h1M80.6 338.4h1M80.4 341.0h1M78.7 331.7h1M94.3 313.0h1M81.4 344.7h1M80.1 317.3h1M83.8 338.4h1M95.6 300.1h1M80.8 346.9h1M75.1 319.8h1M104.3 341.6h1M64.2 338.5h1M71.1 346.2h1M70.9 317.5h1M90.1 336.8h1M77.7 343.6h1M84.6 327.6h1M84.7 346.7h1M79.6 338.7h1M81.8 318.7h1M57.4 322.8h1M73.9 333.6h1M80.7 341.3h1M84.0 338.1h1M82.4 318.2h1M83.6 341.7h1M92.0 317.0h1M73.1 319.3h1M81.4 347.7h1M88.3 331.4h1M93.8 344.3h1M80.9 348.3h1M80.2 323.7h1M72.1 346.5h1M73.3 325.0h1M54.7 327.3h1M76.2 333.6h1M78.8 312.5h1M74.2 325.5h1M88.1 345.7h1M57.2 319.1h1M66.0 324.6h1M66.6 334.4h1M74.8 343.7h1M75.9 328.9h1M70.6 342.3h1M66.8 325.6h1M84.5 327.6h1M85.4 330.8h1M66.5 332.4h1M69.2 323.5h1M67.7 339.4h1M87.1 345.9h1M67.5 318.1h1M66.6 318.8h1M85.2 326.7h1M63.8 318.0h1M72.4 324.9h1M80.3 323.6h1M88.0 336.3h1M92.2 343.3h1M67.2 312.8h1M67.1 312.4h1M66.6 335.4h1M79.9 318.3h1M59.9 331.9h1M82.5 315.4h1M80.0 331.8h1M83.0 330.9h1M100.0 341.8h1M71.7 340.7h1M90.4 341.4h1M77.2 346.1h1M81.4 314.0h1M91.6 340.0h1M65.7 328.6h1M93.2 348.1h1M68.2 332.6h1M80.7 342.3h1M69.5 308.5h1M60.1 331.7h1M89.3 328.8h1M60.8 323.9h1M96.7 347.3h1M62.4 334.0h1M80.6 335.0h1M86.6 311.3h1M81.0 313.0h1M93.9 311.2h1M74.1 343.4h1M70.7 320.5h1M79.9 346.4h1M75.4 329.9h1M66.5 328.5h1" stroke="#da4837"/><path d="M65.5 342.3h1M68.8 344.6h1M71.5 341.7h1M77.8 339.9h1M80.0 342.8h1M64.9 338.2h1M73.9 330.5h1M76.6 337.5h1M80.9 335.7h1M72.8 333.6h1M79.7 330.8h1M71.4 339.7h1M88.4 347.1h1M75.3 328.4h1M74.9 342.6h1M75.8 339.8h1M70.5 331.3h1M66.2 336.6h1M79.5 331.8h1M72.1 334.6h1M65.9 339.5h1M80.1 334.0h1M81.4 336.7h1M64.5 339.8h1M89.3 335.1h1" stroke="#b02933"/><path d="M78.7 295.9h1M53.9 318.9h1M68.2 308.7h1M82.5 310.7h1M105.3 324.5h1M39.8 321.2h1M103.7 332.8h1M103.0 309.1h1M76.2 276.7h1M96.3 323.1h1M70.0 296.1h1M78.8 288.0h1M102.4 314.2h1M42.6 320.6h1M73.5 304.5h1M74.2 279.2h1M100.6 320.0h1M49.5 314.7h1M90.0 300.1h1M67.2 306.4h1M77.6 286.6h1M55.1 314.5h1M84.4 307.5h1M96.8 323.7h1M48.7 317.6h1M77.6 281.0h1M78.3 305.9h1M46.3 326.9h1M82.3 279.3h1M55.8 315.7h1M90.9 300.0h1M100.7 312.1h1M76.8 307.6h1M77.2 302.6h1M91.8 303.7h1M70.2 309.0h1M94.0 300.8h1M77.1 277.2h1M85.7 311.6h1M53.0 313.3h1M83.8 308.3h1M100.4 305.2h1M89.2 308.5h1M54.0 329.6h1M75.4 293.1h1M96.9 338.4h1M49.7 326.7h1M105.3 329.4h1M97.0 330.3h1M70.1 278.2h1M101.9 336.4h1M90.7 302.3h1M76.2 288.1h1M89.3 299.6h1M47.7 318.3h1M72.1 291.7h1M61.7 315.8h1M47.8 325.3h1M84.0 302.0h1M103.1 342.5h1M90.3 320.5h1M45.3 317.8h1M48.8 321.8h1M95.3 341.9h1M71.5 284.4h1M98.6 309.3h1M99.3 310.0h1M58.0 313.1h1M99.9 324.2h1M96.2 330.9h1M103.7 315.2h1M75.0 302.6h1M104.3 332.8h1M68.5 292.4h1M43.7 319.1h1M91.8 336.4h1M95.6 312.7h1M98.6 319.2h1M69.4 290.0h1M43.7 322.8h1M102.4 309.9h1M66.3 306.4h1M65.4 284.1h1M96.6 308.3h1M87.9 305.8h1M56.2 328.6h1M99.0 326.0h1M100.3 329.0h1M101.3 309.0h1M78.7 279.2h1M82.6 278.6h1M96.0 324.8h1M83.3 293.8h1M91.6 332.7h1M104.2 337.1h1M69.0 283.8h1M49.7 316.4h1M91.4 305.2h1M47.8 317.0h1M105.8 338.9h1M78.7 311.1h1M95.9 332.3h1M80.8 340.9h1M90.1 303.2h1M95.5 307.6h1M93.0 322.4h1M84.1 302.4h1M77.6 283.7h1M100.8 323.7h1M58.6 311.2h1M86.7 321.6h1M54.8 315.3h1M61.8 309.1h1M89.7 298.5h1M77.1 284.6h1M96.4 319.5h1M92.4 305.1h1M89.7 311.5h1M68.0 304.5h1M102.5 338.2h1M62.5 317.4h1M72.6 304.0h1M82.4 345.7h1M97.4 316.7h1M106.9 328.6h1M90.3 321.3h1M91.7 346.8h1M57.3 305.3h1M86.6 305.0h1M60.7 310.2h1M72.6 279.5h1M99.7 306.7h1M50.6 328.6h1M98.1 335.3h1M80.0 282.3h1M91.6 309.5h1M101.8 315.0h1M81.4 278.4h1M77.5 282.0h1M95.6 325.1h1M60.8 308.7h1M104.0 331.8h1M75.9 300.3h1M98.5 327.9h1M47.1 324.0h1M86.1 347.2h1M73.4 307.9h1M99.4 305.6h1M88.9 341.5h1M90.8 302.4h1M87.4 307.7h1M47.7 316.0h1M58.8 305.4h1M92.2 314.7h1M95.4 336.1h1M103.1 317.2h1M40.7 321.7h1M93.8 302.7h1M76.3 302.2h1M82.0 294.3h1M52.2 321.8h1M73.6 279.2h1" stroke="#f5a53c"/><path d="M68.4 289.4h1M53.8 310.1h1M49.1 323.4h1M75.9 301.3h1M49.7 311.4h1M59.6 311.2h1M48.8 316.1h1M48.6 318.7h1M110.1 315.9h1M101.7 342.9h1M76.5 309.4h1M74.2 302.7h1M74.2 281.0h1M49.3 319.4h1M100.2 329.7h1M68.8 305.2h1M54.2 317.3h1M75.5 280.8h1M77.2 282.2h1M101.5 317.4h1M41.3 318.7h1M101.8 334.0h1M93.6 325.4h1M58.0 306.1h1M75.3 292.0h1M77.5 296.3h1M92.3 324.7h1M83.0 313.0h1M98.0 335.0h1M40.3 319.1h1M105.2 327.2h1M50.5 310.7h1M100.9 318.1h1M71.4 294.9h1M65.6 285.1h1M80.8 280.7h1M102.7 310.1h1M68.0 285.5h1M65.3 306.2h1M88.0 307.3h1M91.7 301.8h1M57.5 313.8h1M104.3 317.6h1M72.4 290.1h1M80.3 288.9h1M84.1 303.4h1M67.4 302.3h1M81.9 285.1h1M79.0 287.9h1M62.9 303.5h1M60.3 308.6h1M54.0 309.1h1M53.5 315.6h1M41.4 318.9h1M104.6 316.6h1M76.0 303.2h1M50.9 312.4h1M99.0 315.3h1M82.6 279.7h1M82.3 297.1h1M51.9 316.8h1M49.1 319.9h1M42.7 322.3h1M73.0 282.2h1M63.8 305.9h1M100.0 320.6h1M82.6 292.4h1M57.7 308.1h1M77.6 289.8h1M45.9 313.4h1M59.8 309.8h1M79.8 281.0h1M103.5 315.9h1M88.1 298.9h1M59.2 310.7h1M73.5 283.0h1M101.3 334.2h1M75.7 303.8h1M47.0 320.6h1M57.3 306.3h1M63.4 308.9h1M67.0 304.1h1M80.5 278.9h1M86.0 303.3h1M102.1 309.7h1M93.7 303.5h1M99.8 311.6h1M62.0 307.7h1M67.2 287.2h1M48.8 325.4h1M63.0 299.1h1M107.2 327.7h1M73.4 297.2h1M75.4 281.2h1M103.6 321.2h1M103.3 307.3h1M96.9 315.8h1M83.1 314.0h1M81.9 283.9h1M86.3 306.5h1M67.9 307.7h1M107.4 311.1h1M77.7 281.3h1M73.8 299.3h1M99.1 320.1h1M104.0 327.6h1M100.2 316.8h1M44.9 313.1h1M98.7 334.3h1M73.1 304.4h1M75.3 282.2h1M101.0 329.0h1M66.5 307.9h1M41.0 319.6h1M41.2 318.2h1M104.4 314.2h1M69.0 291.0h1M96.7 326.7h1M99.5 329.5h1M76.3 303.0h1M57.2 309.5h1M71.8 292.5h1M68.0 284.5h1M81.3 289.2h1M69.0 284.1h1M46.1 323.9h1M71.6 279.7h1M101.8 325.2h1M82.1 286.1h1M49.5 312.6h1M55.0 317.9h1M63.5 301.0h1M80.5 293.4h1M105.1 313.7h1M72.8 299.6h1M104.4 322.1h1M92.3 303.6h1M97.5 325.5h1M81.1 298.6h1M74.2 303.7h1M62.6 309.7h1M79.5 301.9h1" stroke="#f0b33f"/><path d="M96.0 340.1h1M76.4 316.8h1M68.3 345.1h1M65.9 313.3h1M70.0 324.7h1M82.4 330.0h1M66.0 340.5h1M61.8 323.5h1M83.1 319.6h1M96.1 308.5h1M71.6 314.0h1M83.8 313.0h1M81.9 329.7h1M72.1 328.9h1M83.4 345.1h1M84.2 346.3h1M89.2 315.3h1M90.2 346.6h1M84.2 321.8h1M60.6 333.6h1M89.7 344.6h1M96.7 347.5h1M73.1 307.5h1M77.3 315.0h1M96.7 338.2h1M96.2 337.6h1M84.3 343.2h1M73.4 322.0h1M85.4 347.5h1M92.0 312.0h1M63.4 334.2h1M54.7 326.3h1M86.3 338.1h1M71.8 337.8h1M68.8 338.8h1M88.5 336.2h1M93.4 339.3h1M59.1 331.4h1M89.9 321.4h1M50.9 326.7h1M71.5 322.3h1M99.2 347.8h1M75.9 327.2h1M80.0 346.2h1M75.2 319.9h1M64.9 326.2h1M88.8 340.1h1M65.3 319.5h1M69.7 344.0h1M73.1 326.1h1M97.5 309.7h1M76.2 305.6h1M66.8 325.7h1M55.2 328.3h1M90.9 341.5h1M88.8 339.2h1M66.4 338.2h1M78.2 338.0h1M92.5 331.8h1M74.9 320.3h1M83.4 330.7h1M65.6 332.0h1M96.4 348.5h1M92.6 338.2h1M87.9 332.7h1M70.1 328.4h1M60.7 331.3h1M55.5 325.9h1M67.1 332.4h1M64.8 326.2h1M84.9 337.6h1M79.7 342.6h1M81.4 335.7h1M76.5 314.9h1M97.1 343.3h1M94.2 299.2h1M72.1 337.0h1M69.3 318.9h1M93.3 342.3h1M86.3 313.3h1M76.0 324.8h1M86.3 327.8h1M71.1 336.9h1M70.1 329.3h1M61.4 333.9h1M58.6 326.6h1M85.2 331.7h1M88.8 337.2h1M64.7 330.8h1M93.9 342.4h1M75.1 343.1h1M96.7 336.1h1M99.8 345.1h1M76.9 347.7h1M94.8 343.9h1M93.6 346.3h1M91.3 324.5h1M101.0 344.6h1M82.8 318.4h1M100.0 347.0h1M57.1 324.8h1M70.6 348.0h1M66.7 328.5h1M93.4 345.2h1M66.7 341.5h1M84.9 314.8h1M70.9 334.4h1M82.9 337.7h1M67.7 338.9h1M99.9 317.8h1M80.6 320.7h1M96.3 339.2h1M94.1 301.5h1M77.9 310.5h1M91.6 313.9h1M83.8 344.1h1M91.6 334.5h1M97.2 347.6h1M65.6 314.3h1M81.6 334.9h1M67.5 304.4h1M100.4 336.7h1M88.6 342.8h1M86.8 308.5h1M75.9 321.7h1M71.8 314.4h1M61.2 319.6h1M80.1 319.0h1M77.5 312.2h1M90.5 317.0h1M87.1 342.5h1M57.9 326.1h1M72.6 340.1h1M76.9 338.2h1M89.0 332.1h1M81.6 316.0h1M78.4 342.0h1M89.9 327.0h1M64.9 333.6h1M93.2 311.4h1M75.3 330.8h1M89.0 316.3h1M77.6 326.3h1M87.9 310.0h1M54.7 326.6h1M83.2 338.8h1M66.0 326.3h1M66.0 320.8h1M69.0 313.0h1M87.7 329.1h1" stroke="#e45737"/><path d="M54.3 313.9h1M80.0 284.2h1M82.0 285.0h1M54.5 310.9h1M103.7 319.7h1M86.1 291.0h1M85.4 288.1h1M45.6 315.7h1M76.1 300.4h1M86.0 291.2h1M101.5 310.4h1M70.5 282.8h1M60.0 298.3h1M106.9 319.8h1M109.5 322.4h1M107.2 328.6h1M73.2 304.1h1M82.3 277.9h1M81.0 291.9h1M66.9 299.6h1M80.5 278.3h1M67.4 305.1h1M74.9 280.4h1M70.4 300.6h1M74.0 290.4h1M75.5 285.9h1M107.3 312.4h1M107.6 321.6h1M64.8 306.0h1M51.3 321.3h1M74.7 278.6h1M67.6 285.5h1M50.7 321.3h1M45.6 319.2h1M69.1 303.1h1M79.5 285.0h1M77.2 287.9h1M65.1 299.9h1M106.7 329.4h1M108.6 321.3h1M42.3 314.7h1M68.2 292.2h1M83.0 286.8h1M46.1 317.3h1M40.0 320.2h1M49.0 318.1h1M70.3 301.6h1M108.0 330.9h1M66.2 286.9h1M54.9 311.3h1M85.6 289.1h1M71.4 300.8h1M103.2 308.0h1M84.2 290.9h1M83.7 286.2h1M82.3 280.6h1M55.4 305.6h1M74.8 299.4h1M74.1 302.1h1M48.8 324.3h1M94.8 323.1h1M99.9 319.8h1M77.2 285.6h1M76.1 294.0h1M41.0 319.9h1M63.5 302.7h1M47.1 315.9h1M68.4 295.4h1M50.8 311.4h1M76.1 301.5h1M57.8 307.2h1M62.8 305.6h1M50.4 310.4h1M107.3 322.6h1M77.8 287.8h1M64.6 299.0h1M63.6 303.6h1M45.8 316.3h1M47.5 314.2h1M106.4 314.3h1M71.6 296.2h1M42.8 316.6h1M69.4 295.2h1M46.9 313.4h1M70.0 301.2h1M64.5 296.1h1M72.8 291.1h1M107.5 319.1h1M66.5 283.7h1M43.9 313.3h1M79.6 290.4h1M100.9 324.7h1M70.8 296.7h1M79.3 291.5h1M81.5 293.4h1M61.2 299.8h1M67.4 293.1h1M84.4 281.3h1M72.2 295.5h1M69.2 282.8h1M99.3 328.6h1M109.5 327.8h1M50.7 316.9h1M106.7 320.1h1M59.6 313.6h1M59.8 304.1h1M47.7 311.2h1M85.2 290.5h1M49.5 319.7h1M78.9 292.4h1M106.4 325.7h1M59.9 304.1h1M105.0 314.8h1M78.9 288.9h1M48.7 311.5h1M105.8 328.9h1M83.8 285.2h1M68.4 303.8h1M105.2 315.8h1M59.0 303.3h1M74.9 289.2h1" stroke="#e7cf45"/><path d="M42.0 308.5h1M41.8 306.2h1M38.2 302.3h1M37.8 307.7h1M41.1 305.6h1M37.0 311.4h1M46.0 305.1h1M48.8 295.8h1M39.5 311.8h1M41.1 306.9h1M41.1 302.0h1M54.9 295.8h1M40.8 309.1h1M41.2 307.9h1M62.0 291.8h1M39.1 309.2h1M48.9 296.5h1M55.3 297.3h1" stroke="#58b9cd"/><path d="M65.8 284.4h1M66.3 293.2h1M99.2 318.6h1M64.1 294.5h1M41.9 317.9h1M56.3 303.0h1M49.5 301.4h1M57.3 303.2h1M59.1 303.6h1M57.0 302.4h1M74.8 285.2h1M103.3 311.5h1M50.1 323.3h1M66.7 282.6h1M84.2 290.0h1M52.0 309.3h1M104.4 328.5h1M62.0 295.8h1M67.8 294.1h1M53.7 303.9h1M109.9 323.9h1M78.5 290.8h1M43.2 314.2h1M75.6 289.0h1M105.4 315.5h1M63.5 302.6h1M82.0 286.5h1M57.9 304.0h1M105.7 313.6h1M68.7 290.5h1M70.4 298.6h1M58.1 301.9h1M55.1 318.9h1M71.3 289.8h1M51.5 303.0h1M105.4 325.5h1M55.5 312.1h1M108.3 318.9h1M84.1 282.3h1M84.6 289.1h1M101.1 326.0h1M49.5 308.3h1M60.1 299.4h1M58.8 302.3h1M43.7 313.3h1M77.0 287.4h1M52.6 298.6h1M36.9 316.5h1M75.7 292.1h1M52.9 305.7h1M69.0 301.2h1M85.3 289.3h1M105.6 322.7h1M58.3 302.9h1M41.3 316.8h1M57.8 300.3h1M45.4 315.4h1M62.3 294.4h1M110.0 324.9h1M69.4 298.9h1M83.0 284.5h1M84.0 286.7h1M106.3 329.5h1M47.2 309.5h1M109.5 319.0h1M51.8 299.2h1M84.6 292.7h1M80.0 297.6h1M64.1 300.2h1" stroke="#d5d24c"/><path d="M78.6 338.5h1M64.6 335.0h1M71.9 330.5h1M89.5 343.5h1M69.4 346.4h1M66.3 341.5h1M77.1 327.2h1M67.0 340.8h1M80.0 327.7h1M67.6 333.3h1M81.7 319.0h1M66.9 337.3h1M82.2 344.3h1M78.2 333.6h1M70.3 326.7h1M70.9 324.7h1M81.8 348.0h1M85.1 314.7h1M75.0 330.6h1M80.3 324.0h1M85.5 338.7h1M75.1 331.3h1M78.2 332.6h1M68.0 313.0h1M64.7 322.8h1M89.5 340.9h1M86.3 338.3h1M68.5 328.6h1M60.1 334.5h1M72.1 326.3h1M66.5 326.7h1M82.3 328.8h1M92.9 345.6h1M65.7 326.8h1M72.7 340.3h1M65.8 341.4h1M79.9 324.7h1M75.9 348.0h1M71.2 320.3h1M71.8 340.7h1M74.8 341.6h1M75.4 336.0h1M75.3 320.9h1M72.3 314.7h1M72.4 349.0h1M66.6 316.3h1M64.9 331.8h1M79.1 332.7h1M77.1 333.2h1M82.4 330.6h1M75.7 342.4h1M75.6 323.8h1M76.5 346.5h1M74.9 330.8h1M82.9 338.9h1M71.2 326.4h1M79.0 333.7h1M71.8 334.0h1M70.0 325.7h1M66.8 342.2h1M68.5 318.3h1M65.1 326.6h1M63.6 321.5h1M80.6 345.3h1M84.4 330.6h1M77.4 325.2h1M77.0 337.1h1M84.7 338.7h1M77.1 316.0h1M69.9 334.1h1M63.3 337.9h1M61.0 331.2h1M75.2 329.6h1M67.5 328.7h1M80.5 341.8h1M79.1 331.2h1M69.7 326.7h1M83.7 338.4h1M90.4 348.3h1M65.9 312.3h1M71.4 348.6h1M86.5 330.2h1M69.4 333.2h1M68.5 310.2h1M71.6 342.0h1M95.7 348.3h1M78.0 346.8h1M74.9 331.8h1M76.3 341.6h1M79.1 342.6h1M78.9 342.9h1M80.7 337.5h1M73.1 343.2h1M74.9 347.8h1M60.9 324.6h1M70.1 331.9h1M65.3 334.1h1M82.8 347.0h1M75.9 330.6h1M66.3 331.8h1M70.7 345.1h1M65.2 338.6h1M93.1 341.3h1M70.4 343.3h1M72.2 326.7h1M70.0 324.2h1M78.1 326.8h1M92.1 341.2h1M84.1 347.3h1M64.0 326.9h1M83.7 347.4h1M71.6 331.5h1" stroke="#d13837"/><path d="M101.9 320.6h1M85.7 298.9h1M44.5 318.4h1M45.7 314.7h1M80.3 280.6h1M57.6 315.0h1M95.5 323.9h1M96.6 313.0h1M76.5 296.1h1M76.3 286.6h1M70.1 281.8h1M82.0 299.0h1M55.6 310.2h1M102.8 333.9h1M109.0 326.8h1M94.2 311.4h1M81.4 279.8h1M67.4 305.4h1M68.2 291.6h1M79.3 288.8h1M48.7 311.1h1M55.3 310.3h1M104.5 321.8h1M73.7 279.9h1M79.6 283.2h1M78.2 295.5h1M71.7 290.8h1M73.2 294.0h1M108.4 326.0h1M49.7 313.6h1M73.4 299.1h1M101.5 324.5h1M103.4 316.2h1M43.8 323.8h1M96.5 325.6h1M74.4 296.1h1M45.0 315.4h1M79.1 304.5h1M107.4 311.5h1M41.3 317.9h1M81.9 286.0h1M68.0 291.2h1M82.0 291.9h1M76.0 287.7h1M73.9 297.0h1M64.1 295.5h1M106.1 328.7h1M100.5 317.4h1M81.3 296.9h1M103.8 326.6h1M105.2 329.1h1M68.2 304.9h1M54.7 309.7h1M68.0 291.6h1M102.0 323.7h1M75.7 279.7h1M51.1 321.7h1M77.9 295.2h1M51.8 312.3h1M109.5 320.7h1M70.7 297.3h1M46.5 325.9h1M93.5 330.7h1M75.9 280.3h1M65.8 315.6h1M70.4 286.9h1M72.5 282.9h1M100.4 310.2h1M72.4 292.8h1M106.1 320.9h1M106.2 327.4h1M84.1 291.0h1M75.3 295.5h1M51.1 313.1h1M73.1 298.1h1M102.6 320.9h1M100.5 309.5h1M57.7 310.6h1M64.7 283.3h1M75.0 288.2h1M51.0 314.1h1M76.1 304.6h1M59.4 314.6h1M40.2 319.2h1M76.3 299.3h1M71.4 292.5h1M101.1 328.2h1M71.0 301.0h1M99.9 317.8h1M70.8 296.3h1M79.5 296.6h1M66.8 300.6h1M75.6 278.1h1M56.3 305.2h1M70.4 292.8h1M104.3 315.3h1M98.9 313.5h1M105.1 332.0h1M40.1 316.6h1M69.4 286.9h1M106.4 326.7h1M42.0 317.2h1M74.0 282.0h1M101.5 331.1h1M104.7 333.7h1M68.5 286.4h1M44.8 316.4h1M62.6 309.7h1M102.3 332.7h1M58.5 313.9h1M100.9 320.4h1M96.1 316.6h1M102.2 333.8h1M84.3 289.5h1M46.0 315.7h1M76.0 299.4h1M83.0 299.4h1M54.0 313.4h1M42.0 319.8h1M60.4 300.3h1M108.0 317.9h1M80.2 292.6h1M77.2 283.0h1M74.5 291.2h1M40.5 317.5h1M39.6 319.8h1M67.8 297.3h1M105.4 320.4h1M68.6 299.0h1M83.2 291.5h1M85.2 292.9h1M105.0 321.0h1M86.6 290.8h1M68.5 299.4h1M80.5 285.1h1M94.4 324.8h1M62.9 304.6h1M56.8 315.7h1" stroke="#ecc142"/><path d="M66.7 319.2h1M72.8 315.3h1M83.0 321.6h1M57.8 328.1h1M73.2 339.4h1M89.6 339.8h1M72.7 314.7h1M85.2 315.5h1M90.5 339.3h1M53.0 329.9h1M67.4 309.4h1M85.8 319.8h1M77.5 315.1h1M62.9 317.3h1M50.6 327.6h1M67.4 319.6h1M79.5 278.6h1M96.3 336.6h1M95.1 307.2h1M91.7 306.0h1M96.2 347.3h1M96.2 315.1h1M89.7 341.6h1M98.3 339.2h1M89.1 312.3h1M76.1 310.5h1M82.6 309.4h1M57.8 323.8h1M85.7 320.8h1M95.9 349.3h1M91.0 317.4h1M85.4 348.0h1M67.0 321.2h1M99.7 348.0h1M71.0 321.4h1M77.2 336.1h1M81.2 315.1h1M73.2 316.2h1M84.6 305.2h1M84.8 347.5h1M78.9 310.4h1M69.0 319.6h1M72.8 347.2h1M69.1 308.0h1M90.8 325.7h1M91.6 302.6h1M93.2 314.5h1M91.6 340.8h1M97.1 333.8h1M89.5 342.4h1M67.5 311.4h1M86.0 348.3h1M96.9 337.2h1M83.7 309.6h1M82.2 339.6h1M70.5 326.5h1M59.9 324.3h1M72.8 314.9h1M84.3 328.9h1M97.1 338.3h1M57.3 328.6h1M84.5 338.8h1M92.8 303.6h1M89.5 326.1h1M89.9 342.6h1M73.2 316.6h1M102.7 340.3h1M89.4 320.9h1M84.6 304.1h1M57.9 318.3h1M69.3 309.5h1M84.6 315.4h1M92.9 311.4h1M64.6 331.8h1M81.3 324.1h1M83.6 315.4h1M100.6 321.0h1M65.8 318.0h1M82.2 310.3h1M61.9 324.2h1M84.5 341.2h1M81.6 320.4h1M89.0 340.5h1M88.6 316.2h1M67.4 308.4h1M100.7 306.6h1M71.4 318.4h1M70.0 319.7h1M90.6 299.2h1M65.6 334.8h1M97.8 337.5h1M84.5 308.5h1M68.6 329.8h1M63.2 316.0h1M57.3 321.8h1M89.1 337.2h1M94.8 308.3h1M79.4 305.7h1M57.6 326.3h1M70.1 308.2h1M68.0 321.3h1M98.1 342.6h1M80.2 322.9h1M83.1 297.8h1M95.1 339.6h1M58.4 320.8h1M93.3 303.7h1M59.7 320.9h1M59.2 321.5h1M86.7 314.6h1M79.8 348.4h1M70.5 309.0h1M85.4 313.8h1M97.6 313.7h1M89.2 346.4h1M54.2 319.9h1M91.2 320.8h1M64.8 333.5h1M86.7 332.0h1M104.4 313.0h1M100.0 346.1h1M72.8 314.3h1M84.5 309.0h1M88.9 332.7h1M73.5 314.1h1M100.9 337.8h1M89.0 336.0h1M57.6 322.7h1M71.3 308.3h1M85.2 318.9h1M85.4 316.8h1M88.7 303.2h1M95.8 312.8h1M94.8 302.8h1M77.1 341.0h1M79.4 311.5h1M99.4 314.4h1M91.1 342.5h1M75.6 314.3h1M85.8 331.1h1M65.0 334.5h1M94.1 339.8h1M93.0 318.7h1M54.5 320.1h1M94.9 347.3h1M74.9 308.4h1M80.0 317.1h1M95.8 308.7h1M98.6 308.9h1M87.1 333.5h1M88.5 320.7h1M89.3 302.3h1M55.6 320.2h1M82.4 329.0h1M85.6 328.5h1M91.5 326.6h1M75.6 320.1h1M93.9 302.5h1M83.4 328.6h1M70.3 305.8h1M96.1 327.5h1M57.0 327.5h1M102.9 344.0h1M91.3 303.6h1M85.4 313.5h1M88.8 308.0h1M72.8 314.4h1M71.5 324.4h1M82.1 323.1h1M102.9 306.3h1M78.3 313.4h1M78.9 318.6h1M70.8 327.5h1M71.1 329.0h1M84.3 313.7h1M96.6 308.5h1M86.1 328.0h1M97.1 340.8h1M88.8 310.0h1M99.7 320.8h1M72.3 308.3h1M76.8 311.4h1M72.4 318.4h1M79.4 323.3h1M56.8 326.8h1M56.4 329.4h1M83.9 326.7h1M58.8 324.0h1M57.7 327.3h1M71.3 317.0h1M62.2 319.3h1" stroke="#ec6837"/><path d="M45.8 292.7h1M49.9 294.0h1M38.8 299.3h1M48.8 291.1h1M42.2 297.4h1M46.6 292.7h1M46.9 295.5h1M57.3 291.7h1M45.8 293.7h1M52.7 292.7h1M40.3 297.3h1M40.1 298.0h1M49.9 288.6h1M43.2 289.8h1M49.1 292.8h1M39.3 297.3h1M54.5 283.4h1" stroke="#365fb2"/><path d="M62.8 286.9h1M43.7 308.6h1M37.1 312.4h1M58.9 298.2h1M52.5 302.7h1M42.7 308.4h1M42.5 313.1h1M40.2 312.5h1M45.6 304.0h1M47.9 306.4h1M46.7 306.4h1M45.7 300.5h1M43.0 308.3h1M58.1 297.5h1M64.8 293.8h1M47.3 307.2h1M48.5 303.4h1M49.4 306.4h1M46.6 304.3h1M36.8 314.6h1M49.8 302.2h1M62.5 289.6h1M56.8 299.2h1M47.9 303.5h1M40.5 313.4h1" stroke="#6dc295"/><path d="M43.7 298.0h1M56.6 290.2h1M53.1 292.7h1M39.2 299.2h1M56.6 292.4h1M45.5 289.2h1M49.2 290.5h1M49.6 291.9h1M41.7 291.4h1M47.0 292.7h1M37.9 298.8h1M47.5 293.1h1" stroke="#386cb9"/><path d="M48.8 305.9h1M60.2 294.5h1M42.2 305.6h1M48.7 304.9h1M41.1 309.0h1M45.9 301.5h1M49.0 297.5h1M39.2 307.9h1M45.8 307.5h1M40.5 311.4h1M42.6 306.0h1M55.9 299.9h1M87.5 283.8h1M63.0 291.9h1" stroke="#66bfa8"/><path d="M43.0 313.9h1M65.8 291.6h1M107.0 317.5h1M67.9 298.3h1M67.8 290.2h1M50.2 309.1h1M108.5 319.4h1M55.6 300.5h1M51.3 302.8h1M60.3 301.4h1M51.0 297.4h1M63.7 286.4h1M87.5 288.0h1M52.0 306.3h1M64.0 291.6h1M59.8 296.2h1M49.2 302.4h1M49.8 298.9h1M67.9 288.6h1M56.0 302.3h1M62.2 299.8h1M61.1 297.6h1M101.8 332.1h1M51.0 309.6h1M53.5 302.9h1M45.0 304.9h1M45.8 303.9h1M60.1 297.7h1M105.8 314.6h1M38.6 315.5h1M51.2 309.4h1M67.1 293.8h1M59.0 298.1h1M79.5 286.9h1M66.1 292.2h1M54.2 302.2h1M66.5 292.6h1M79.2 296.9h1" stroke="#aad25a"/><path d="M91.3 335.5h1M69.2 328.9h1M69.1 332.1h1M65.1 331.7h1M70.7 336.0h1M81.6 345.1h1M79.6 320.5h1M69.4 338.0h1M78.2 330.7h1M73.0 334.0h1M71.7 338.0h1M83.0 329.6h1M75.7 329.9h1M64.5 332.5h1M79.1 334.1h1M80.3 330.0h1M66.3 313.0h1M77.8 326.7h1M74.4 327.8h1M72.4 343.2h1M88.6 345.3h1M77.0 342.8h1M75.6 347.0h1M71.8 338.8h1M79.9 341.8h1M82.6 335.2h1M77.5 333.4h1M70.5 324.4h1M66.4 340.5h1M73.0 344.0h1M66.4 343.2h1M79.7 343.5h1M65.2 332.7h1M62.1 319.8h1M67.2 324.8h1M81.6 324.0h1M76.1 329.0h1M77.0 341.7h1M69.7 345.4h1M74.2 334.9h1M81.3 330.7h1M79.1 327.1h1M92.9 342.5h1M65.3 340.5h1M89.5 343.6h1M67.4 327.8h1M73.6 334.3h1M72.3 341.3h1M66.9 340.0h1M90.9 347.4h1M70.7 338.2h1M77.5 348.6h1M76.8 340.2h1M81.7 322.2h1M69.8 330.6h1M83.1 347.1h1M89.0 345.2h1M70.8 332.1h1" stroke="#c22f36"/><path d="M55.0 301.9h1M37.0 313.4h1M37.6 315.7h1M46.3 308.4h1M41.0 311.8h1M64.3 290.4h1M62.7 301.9h1M64.3 290.2h1M50.9 303.9h1M64.2 291.2h1M41.7 311.1h1M44.3 303.3h1M50.2 301.9h1M52.9 296.2h1M56.7 300.5h1M46.5 303.1h1M64.6 292.1h1M59.5 297.2h1M62.4 292.7h1M58.6 297.8h1M49.4 303.9h1M44.9 302.5h1M50.5 301.3h1M46.9 306.8h1M61.4 296.6h1" stroke="#7fc781"/><path d="M37.3 304.2h1M39.2 305.7h1M41.2 302.0h1M55.2 296.3h1M38.3 308.5h1M36.5 302.3h1M39.8 304.8h1" stroke="#52b0cf"/><path d="M61.2 289.3h1M59.3 288.2h1M48.0 296.4h1M53.9 294.5h1M60.9 290.3h1M50.2 294.1h1M41.2 300.9h1M36.9 303.3h1M87.5 284.9h1M48.1 296.9h1" stroke="#4291cd"/><path d="M60.3 292.0h1M56.9 290.7h1M49.0 294.8h1M61.3 288.3h1M49.6 295.0h1M43.4 299.0h1M57.6 292.4h1" stroke="#3e84c7"/><path d="M62.2 288.0h1M63.1 287.7h1M41.3 308.2h1M44.5 301.5h1M42.3 305.3h1M61.4 292.0h1M41.2 307.1h1M43.3 306.8h1M43.2 305.7h1M37.3 308.8h1M40.5 304.1h1M40.9 308.9h1M53.9 296.0h1M61.8 290.4h1" stroke="#5fbcba"/><path d="M46.3 293.4h1M39.7 299.8h1M41.4 297.2h1M53.8 293.5h1M40.8 292.0h1M52.1 293.5h1M36.8 292.1h1M48.5 291.3h1M42.2 296.5h1M41.1 293.9h1M50.3 291.1h1M52.2 294.3h1M42.1 289.8h1" stroke="#3148a2"/><path d="M45.6 292.9h1M54.5 290.3h1M43.5 294.6h1M46.1 294.8h1M47.9 290.6h1M39.6 300.1h1M43.2 296.2h1M49.5 291.9h1M57.9 290.4h1M56.6 292.3h1M41.9 294.5h1M54.6 288.6h1M45.3 294.6h1M42.7 293.9h1M40.5 300.2h1M45.8 294.3h1M49.8 289.7h1" stroke="#3452aa"/><path d="M39.9 299.1h1M43.1 297.9h1M45.7 293.9h1M43.5 296.9h1M41.4 296.7h1M39.3 297.6h1M39.4 293.4h1M42.0 293.3h1M36.3 293.0h1M44.0 289.2h1" stroke="#2e409a"/><path d="M66.0 299.2h1M83.3 289.5h1M78.9 284.1h1M63.0 296.1h1M64.4 297.1h1M66.7 286.6h1M66.4 301.9h1M67.7 290.6h1M56.2 306.3h1M65.9 300.6h1M107.2 321.9h1M36.5 317.9h1M85.2 291.9h1M62.2 297.7h1M50.4 307.2h1M51.3 300.8h1M47.5 303.9h1M51.5 307.1h1M72.4 293.4h1M82.8 286.9h1M70.3 296.1h1M40.7 320.9h1M52.0 297.7h1M104.7 321.2h1M106.0 323.7h1M66.7 303.1h1M52.7 308.5h1M107.0 320.8h1M52.7 303.6h1M55.0 298.8h1M107.0 313.4h1M86.4 287.9h1M42.4 315.6h1M69.4 295.7h1M84.8 280.4h1M60.1 299.4h1M102.9 320.2h1M53.7 302.8h1M53.0 307.4h1M86.4 291.8h1M86.7 283.1h1M46.2 309.7h1M110.0 316.9h1M40.4 319.2h1M41.5 313.0h1M64.8 286.4h1M81.0 297.7h1M52.4 306.6h1" stroke="#bfd253"/><path d="M49.1 296.6h1M54.3 295.7h1M38.7 308.2h1M45.7 299.5h1M51.2 294.1h1M54.7 296.5h1M49.2 295.5h1M61.1 291.3h1" stroke="#4ba6d0"/><path d="M41.3 307.1h1M61.2 291.3h1M41.8 302.8h1M59.4 291.6h1M60.2 290.7h1M37.3 302.8h1M55.3 295.7h1" stroke="#459dd2"/><path d="M65.8 325.8h1M74.0 338.8h1M65.4 323.8h1M74.8 332.3h1M67.0 336.3h1M74.4 335.9h1M79.5 331.7h1" stroke="#9f2430"/><path d="M55.7 292.9h1M47.1 297.1h1M49.4 289.5h1M56.2 291.5h1M54.4 295.1h1M56.0 293.3h1M40.9 301.0h1M36.3 303.2h1M53.4 291.9h1M50.7 293.3h1" stroke="#3b78c0"/><path d="M39.0 298.2h1M55.5 290.1h1M42.5 292.4h1M41.6 290.4h1M46.1 290.1h1M38.8 296.7h1M40.2 292.8h1" stroke="#2a3892"/><path d="M68.6 330.8h1M80.6 335.5h1" stroke="#8a1f2c"/><path d="M88.0 285.8h1" stroke="#273088"/></g><path d="M34.3 273.3V352.9H113.9" stroke="#7a7a7a" stroke-width="0.9" fill="none"/><path d="M32.3 273.3H113.9" stroke="#a8a8a8" stroke-width="0.8" fill="none"/><path d="M32.1 273.3h2.2M34.3 352.9v2.2M32.7 278.3h1.6M39.3 352.9v1.6M32.7 283.2h1.6M44.2 352.9v1.6M32.7 288.2h1.6M49.2 352.9v1.6M32.1 293.2h2.2M54.2 352.9v2.2M32.7 298.2h1.6M59.2 352.9v1.6M32.7 303.2h1.6M64.1 352.9v1.6M32.7 308.1h1.6M69.1 352.9v1.6M32.1 313.1h2.2M74.1 352.9v2.2M32.7 318.1h1.6M79.1 352.9v1.6M32.7 323.1h1.6M84.0 352.9v1.6M32.7 328.0h1.6M89.0 352.9v1.6M32.1 333.0h2.2M94.0 352.9v2.2M32.7 338.0h1.6M99.0 352.9v1.6M32.7 342.9h1.6M103.9 352.9v1.6M32.7 347.9h1.6M108.9 352.9v1.6M32.1 352.9h2.2M113.9 352.9v2.2" stroke="#6a6a6a" stroke-width="0.7" fill="none"/><text x="28.3" y="275.8" font-size="5.70" text-anchor="end" font-weight="normal" fill="#333" stroke="#333" stroke-width="0.25">6.1</text><text x="28.3" y="295.7" font-size="5.70" text-anchor="end" font-weight="normal" fill="#333" stroke="#333" stroke-width="0.25">3.1</text><text x="28.3" y="315.6" font-size="5.70" text-anchor="end" font-weight="normal" fill="#333" stroke="#333" stroke-width="0.25">0.1</text><text x="28.3" y="335.5" font-size="5.70" text-anchor="end" font-weight="normal" fill="#333" stroke="#333" stroke-width="0.25">−2.9</text><text x="28.3" y="355.4" font-size="5.70" text-anchor="end" font-weight="normal" fill="#333" stroke="#333" stroke-width="0.25">−5.9</text><text x="34.8" y="363.9" font-size="5.70" text-anchor="middle" font-weight="normal" fill="#3a3a3a" stroke="#3a3a3a" stroke-width="0.25">−8.5</text><text x="54.7" y="363.9" font-size="5.70" text-anchor="middle" font-weight="normal" fill="#3a3a3a" stroke="#3a3a3a" stroke-width="0.25">−4.4</text><text x="74.6" y="363.9" font-size="5.70" text-anchor="middle" font-weight="normal" fill="#3a3a3a" stroke="#3a3a3a" stroke-width="0.25">−0.3</text><text x="94.5" y="363.9" font-size="5.70" text-anchor="middle" font-weight="normal" fill="#3a3a3a" stroke="#3a3a3a" stroke-width="0.25">3.7</text><text x="114.4" y="363.9" font-size="5.70" text-anchor="middle" font-weight="normal" fill="#3a3a3a" stroke="#3a3a3a" stroke-width="0.25">7.8</text><rect x="113.9" y="273.3" width="3.8" height="79.6" fill="url(#cb)"/><path d="M117.7 277.3h-1.2M117.7 281.3h-1.2M117.7 285.2h-1.2M117.7 289.2h-1.2M117.7 293.2h-1.2M117.7 297.2h-1.2M117.7 301.2h-1.2M117.7 305.1h-1.2M117.7 309.1h-1.2M117.7 313.1h-1.2M117.7 317.1h-1.2M117.7 321.1h-1.2M117.7 325.0h-1.2M117.7 329.0h-1.2M117.7 333.0h-1.2M117.7 337.0h-1.2M117.7 341.0h-1.2M117.7 344.9h-1.2M117.7 348.9h-1.2" stroke="#fff" stroke-opacity="0.5" stroke-width="0.5"/><rect x="116.5" y="337.9" width="2.5" height="4.9" rx="1.0" fill="#000"/><text x="123.1" y="284.7" font-size="5.70" text-anchor="start" font-weight="normal" fill="#333" stroke="#333" stroke-width="0.25">10<tspan dy="-2.3" font-size="3.9">5</tspan></text><text x="123.1" y="320.2" font-size="5.70" text-anchor="start" font-weight="normal" fill="#333" stroke="#333" stroke-width="0.25">10<tspan dy="-2.3" font-size="3.9">4</tspan></text><text x="123.1" y="335.4" font-size="5.70" text-anchor="start" font-weight="normal" fill="#333" stroke="#333" stroke-width="0.25">10<tspan dy="-2.3" font-size="3.9">3</tspan></text><text x="123.1" y="340.6" font-size="5.70" text-anchor="start" font-weight="normal" fill="#333" stroke="#333" stroke-width="0.25">0</text><text x="123.1" y="345.9" font-size="5.70" text-anchor="start" font-weight="normal" fill="#333" stroke="#333" stroke-width="0.25">−10<tspan dy="-2.3" font-size="3.9">3</tspan></text><text x="37.9" y="281.8" font-size="8.00" text-anchor="start" font-weight="normal" fill="#222" stroke="#222" stroke-width="0.2" textLength="21.0" lengthAdjust="spacingAndGlyphs">CD48</text><g stroke-width="1" fill="none" filter="url(#halo)"><path d="M214.8 283.9h1M193.3 284.4h1M229.4 320.6h1M209.5 285.0h1M226.7 318.6h1M223.4 306.7h1M224.5 316.0h1M209.3 280.8h1M220.0 313.7h1M206.3 288.0h1M207.0 278.6h1M222.6 307.2h1M210.8 289.5h1M219.2 306.0h1M201.7 279.2h1M223.7 315.1h1M228.1 320.0h1M212.9 288.1h1M203.8 286.6h1M213.5 291.2h1M202.3 285.2h1M205.1 281.0h1M211.7 290.0h1M208.9 279.8h1M219.3 303.7h1M228.4 318.1h1M234.7 321.9h1M216.7 308.5h1M219.1 302.6h1M232.0 321.8h1M228.6 319.0h1M207.1 283.2h1M222.2 301.8h1M215.5 307.3h1M221.8 313.0h1M209.5 286.5h1M207.8 288.9h1M211.6 303.4h1M223.1 300.1h1M195.1 285.5h1M211.5 302.0h1M216.2 301.4h1M234.9 311.5h1M220.8 304.5h1M199.0 284.4h1M222.4 312.2h1M232.1 316.6h1M198.3 283.6h1M220.0 310.6h1M215.0 288.0h1M228.0 317.4h1M218.1 299.2h1M212.1 289.1h1M209.8 280.6h1M215.3 309.5h1M215.6 298.9h1M219.6 307.0h1M225.8 306.8h1M204.7 285.6h1M208.0 278.9h1M229.6 309.7h1M206.2 279.2h1M210.1 278.6h1M200.0 282.9h1M221.7 307.5h1M234.8 322.6h1M205.3 287.8h1M213.9 287.9h1M205.2 281.3h1M211.8 303.0h1M192.2 283.3h1M233.1 322.7h1M227.7 316.8h1M227.4 317.8h1M217.2 298.5h1M204.6 284.6h1M230.4 320.2h1M219.9 305.1h1M221.6 301.5h1M215.0 284.9h1M223.3 308.7h1M207.1 290.4h1M226.1 308.9h1M214.1 305.0h1M231.9 314.2h1M216.8 302.3h1M215.2 305.0h1M200.2 282.3h1M201.3 278.1h1M211.9 281.3h1M228.4 320.4h1M219.1 309.5h1M231.2 310.2h1M223.6 316.6h1M221.4 302.5h1M207.2 280.0h1M217.5 299.5h1M216.3 308.0h1M220.7 311.4h1M202.2 279.7h1M209.6 286.1h1M218.3 302.4h1M224.1 308.5h1M212.7 290.5h1M215.4 310.0h1M221.3 312.2h1M214.1 290.8h1M208.0 285.1h1" stroke="#459dd2"/><path d="M216.8 321.8h1M217.1 339.8h1M212.7 315.5h1M164.5 313.4h1M192.6 331.7h1M215.5 327.7h1M216.5 342.4h1M217.4 330.0h1M173.1 292.9h1M211.3 313.0h1M182.0 290.3h1M211.5 312.8h1M180.6 292.7h1M194.7 306.4h1M209.3 348.0h1M224.2 347.5h1M184.5 302.4h1M223.7 337.6h1M187.7 294.5h1M212.7 315.8h1M193.9 301.9h1M166.7 299.2h1M218.4 322.6h1M205.7 332.6h1M206.4 310.4h1M207.5 342.8h1M194.9 305.4h1M193.4 300.6h1M171.0 294.6h1M173.6 294.8h1M217.0 340.9h1M221.7 348.1h1M206.3 310.6h1M177.9 300.9h1M192.4 338.2h1M217.1 331.3h1M219.1 340.8h1M208.1 338.4h1M216.0 336.2h1M224.6 338.3h1M187.8 301.4h1M176.3 295.8h1M166.5 298.2h1M212.0 338.8h1M170.7 296.2h1M177.0 291.9h1M179.6 293.5h1M198.6 346.2h1M230.6 342.5h1M216.9 320.9h1M217.6 336.8h1M217.8 320.5h1M193.3 341.4h1M212.2 346.7h1M220.0 331.8h1M183.0 290.1h1M223.9 348.5h1M220.1 338.2h1M215.4 332.7h1M211.1 341.7h1M194.8 306.1h1M182.1 320.9h1M215.2 332.3h1M179.5 297.7h1M215.8 331.4h1M221.3 344.3h1M196.1 308.1h1M217.3 322.5h1M219.3 336.4h1M209.9 330.6h1M218.2 341.6h1M173.2 299.5h1M225.3 337.5h1M206.3 312.5h1M215.4 333.8h1M177.3 298.9h1M228.0 347.0h1M168.9 296.7h1M197.6 308.2h1M222.3 323.1h1M212.0 327.6h1M220.8 342.3h1M203.9 306.6h1M196.8 305.2h1M189.7 299.8h1M213.8 327.8h1M184.1 292.4h1M212.0 348.3h1M191.0 302.7h1M208.0 310.8h1M188.6 297.6h1M221.4 342.4h1M182.1 288.6h1M214.2 332.0h1M214.6 345.9h1M229.3 343.9h1M208.1 345.3h1M206.7 309.4h1M210.6 314.0h1M216.4 332.7h1M209.0 310.6h1M195.4 307.7h1M182.4 295.8h1M212.7 326.7h1M192.1 299.0h1M221.1 346.3h1M227.5 347.0h1M208.8 330.7h1M212.9 316.8h1M219.7 343.3h1M215.2 343.3h1M180.4 296.2h1M210.4 313.3h1M220.4 342.5h1M214.2 321.6h1M210.0 315.4h1M226.7 342.4h1M217.0 343.6h1M195.5 304.5h1M221.6 339.8h1M222.4 347.3h1M217.9 341.4h1M214.0 330.2h1M204.7 346.1h1M214.6 333.5h1M197.1 308.6h1M167.6 298.0h1M214.6 342.5h1M188.7 299.8h1M215.9 328.4h1M164.8 302.8h1M218.4 347.4h1M210.3 347.0h1M167.7 292.8h1M210.9 328.6h1M214.2 315.7h1M169.2 291.4h1M214.4 331.2h1M197.8 305.8h1M174.5 292.7h1M214.2 320.5h1M187.9 300.3h1M213.6 347.2h1M170.7 289.8h1M169.6 289.8h1M208.5 313.0h1M181.4 296.0h1M211.2 342.8h1M231.2 341.6h1M199.8 308.3h1M217.8 321.7h1M211.6 347.3h1M211.4 326.7h1M215.2 329.1h1M178.2 293.3h1M191.6 300.2h1" stroke="#7fc781"/><path d="M212.8 310.6h1M206.2 295.9h1M198.6 285.4h1M203.4 301.3h1M213.6 291.0h1M212.3 312.7h1M191.8 290.4h1M209.5 299.0h1M194.2 286.6h1M211.9 307.5h1M205.0 296.3h1M236.5 326.8h1M234.7 328.6h1M204.7 302.6h1M195.7 291.6h1M232.7 327.2h1M208.5 291.9h1M198.9 294.9h1M212.7 291.9h1M195.5 285.5h1M199.2 290.8h1M200.7 294.0h1M211.2 309.6h1M235.9 326.0h1M206.0 290.8h1M198.3 298.3h1M224.5 330.3h1M199.9 290.1h1M203.7 288.1h1M229.0 324.5h1M199.6 291.7h1M227.8 328.8h1M198.8 289.8h1M191.8 290.2h1M207.3 306.2h1M234.2 329.4h1M197.8 296.1h1M208.8 296.9h1M205.2 303.3h1M209.8 297.1h1M219.5 317.0h1M227.4 324.2h1M235.5 330.9h1M195.5 291.6h1M192.9 284.1h1M205.4 295.2h1M206.9 305.7h1M198.2 297.3h1M194.7 287.2h1M203.5 302.3h1M195.9 295.4h1M211.6 291.0h1M203.6 301.5h1M226.4 324.4h1M217.7 314.9h1M203.8 299.3h1M228.6 328.2h1M198.5 301.0h1M198.3 296.3h1M196.9 295.2h1M191.7 287.6h1M232.6 332.0h1M234.4 328.6h1M198.3 296.7h1M196.0 286.4h1M218.0 317.0h1M229.8 332.7h1M203.8 303.0h1M209.0 293.4h1M199.3 292.5h1M233.2 327.9h1M203.1 287.4h1M196.9 298.9h1M203.5 299.4h1M199.9 289.1h1M233.8 329.5h1M207.7 292.6h1M200.3 299.6h1M206.4 292.4h1M233.9 325.7h1M219.7 314.7h1M210.7 291.5h1M212.7 292.9h1M208.6 298.6h1M207.5 297.6h1M203.8 302.2h1M189.3 290.4h1M209.5 294.3h1" stroke="#58b9cd"/><path d="M219.9 339.7h1M214.1 317.0h1M218.8 335.5h1M221.8 328.9h1M188.7 289.3h1M197.5 296.1h1M186.8 288.2h1M223.8 336.6h1M193.3 291.6h1M218.5 334.7h1M193.5 299.2h1M220.2 326.0h1M225.8 339.2h1M190.5 296.1h1M212.6 314.7h1M233.0 340.4h1M214.6 333.3h1M218.5 317.4h1M230.3 333.9h1M223.2 328.4h1M195.2 290.6h1M219.8 324.7h1M195.3 290.2h1M189.5 295.8h1M196.6 308.0h1M213.2 311.6h1M223.3 322.9h1M231.0 337.7h1M202.9 293.1h1M200.9 299.1h1M197.9 300.6h1M229.4 336.4h1M215.6 332.6h1M225.1 336.7h1M223.4 329.1h1M224.0 325.6h1M203.7 305.6h1M224.7 335.7h1M196.6 303.1h1M185.4 290.4h1M192.6 299.9h1M221.2 319.5h1M231.0 341.0h1M206.2 303.6h1M233.6 328.7h1M218.7 333.7h1M192.0 299.2h1M191.7 291.2h1M222.6 331.6h1M216.1 316.2h1M191.5 291.6h1M197.8 301.6h1M223.8 320.5h1M222.0 335.6h1M226.5 335.6h1M188.7 291.3h1M225.6 325.1h1M202.1 304.7h1M219.4 315.7h1M201.6 302.1h1M233.1 334.2h1M213.8 313.3h1M228.8 334.2h1M226.5 326.0h1M203.6 294.0h1M223.5 324.8h1M219.1 332.7h1M231.0 337.1h1M203.2 292.1h1M231.7 337.1h1M196.5 301.2h1M228.4 337.8h1M233.3 338.9h1M218.8 324.5h1M201.3 299.3h1M229.3 332.1h1M226.5 338.2h1M196.9 295.7h1M212.4 314.8h1M218.5 319.4h1M199.1 296.2h1M194.3 300.6h1M230.0 338.2h1M220.5 318.7h1M219.1 334.5h1M232.2 333.7h1M228.4 324.7h1M189.9 292.7h1M189.8 294.4h1M227.0 329.5h1M225.6 335.3h1M194.9 293.1h1M224.2 347.3h1M219.0 326.6h1M221.9 330.9h1M201.1 303.5h1M229.3 325.2h1M203.4 300.3h1M226.0 327.9h1M207.7 306.3h1M208.0 293.4h1M224.6 340.8h1M229.2 333.1h1M223.2 331.9h1M231.3 340.6h1M225.0 325.5h1M190.5 291.9h1M194.0 292.6h1M207.5 308.8h1M196.0 299.4h1M201.7 303.7h1M221.9 324.8h1" stroke="#66bfa8"/><path d="M205.7 333.1h1M223.5 340.1h1M170.5 313.9h1M185.3 328.1h1M205.3 309.4h1M196.7 328.9h1M200.7 339.4h1M182.5 301.9h1M177.4 294.0h1M215.6 337.2h1M218.0 339.3h1M196.9 346.4h1M176.1 318.7h1M204.0 309.4h1M164.8 304.2h1M166.3 299.3h1M195.1 333.3h1M209.1 345.1h1M196.3 305.2h1M209.2 319.0h1M167.4 299.1h1M205.7 333.6h1M223.2 347.5h1M211.7 346.3h1M208.1 324.9h1M205.3 339.9h1M186.4 298.2h1M168.8 318.7h1M211.7 321.8h1M200.9 343.0h1M200.6 307.5h1M204.8 315.0h1M176.6 296.6h1M176.2 317.6h1M181.7 324.8h1M190.2 301.9h1M211.8 343.2h1M169.7 297.4h1M207.8 330.8h1M204.7 336.1h1M171.7 306.3h1M174.1 292.7h1M200.3 347.2h1M213.6 332.1h1M204.0 345.3h1M175.5 296.4h1M184.4 290.7h1M176.5 294.8h1M182.4 299.9h1M216.3 344.3h1M187.7 319.2h1M175.4 290.6h1M172.0 301.5h1M213.8 338.3h1M207.9 341.0h1M224.4 338.4h1M206.2 331.7h1M194.9 305.1h1M180.0 302.7h1M181.3 293.5h1M183.1 300.5h1M220.9 339.3h1M183.3 299.5h1M226.7 347.8h1M168.3 292.0h1M192.3 306.0h1M207.8 330.0h1M208.3 346.9h1M202.4 308.1h1M210.4 317.4h1M167.1 300.1h1M178.8 300.8h1M176.2 302.9h1M220.4 345.6h1M205.3 326.7h1M210.7 320.6h1M174.6 297.1h1M181.4 294.5h1M216.3 339.2h1M172.8 317.8h1M167.0 311.8h1M196.8 309.5h1M222.8 341.9h1M175.4 306.4h1M203.4 348.0h1M210.9 330.7h1M174.4 295.5h1M201.4 333.6h1M188.9 292.0h1M211.1 315.4h1M199.9 349.0h1M179.4 316.8h1M170.2 322.3h1M216.5 340.5h1M183.7 291.5h1M173.2 293.9h1M217.1 337.9h1M187.3 296.2h1M208.4 348.3h1M206.6 332.7h1M176.7 302.4h1M175.6 323.8h1M212.4 337.6h1M171.0 296.9h1M185.2 308.1h1M195.7 304.9h1M184.8 291.7h1M184.1 292.3h1M168.7 302.0h1M196.1 329.8h1M173.4 301.5h1M169.4 294.5h1M216.6 337.2h1M173.4 313.4h1M216.6 325.1h1M224.6 343.3h1M193.8 306.4h1M169.3 302.8h1M225.6 342.6h1M194.3 342.2h1M194.2 303.1h1M169.1 290.4h1M203.9 308.3h1M176.0 291.3h1M222.6 339.6h1M208.4 335.7h1M209.1 324.0h1M185.6 297.5h1M194.5 304.1h1M209.6 320.0h1M186.9 291.6h1M218.2 341.6h1M174.8 307.2h1M168.6 293.9h1M207.3 348.4h1M212.7 331.7h1M198.0 309.0h1M181.9 295.1h1M180.2 303.6h1M227.5 346.1h1M197.2 345.4h1M177.7 301.9h1M201.7 334.9h1M222.3 343.9h1M216.5 336.0h1M208.3 340.9h1M204.5 337.1h1M172.8 294.6h1M207.6 312.2h1M168.3 309.1h1M179.7 294.3h1M228.5 344.6h1M212.7 318.9h1M210.3 318.4h1M223.6 343.0h1M168.7 300.9h1M178.7 294.1h1M206.6 327.1h1M175.0 314.2h1M167.7 319.2h1M222.6 343.3h1M203.3 339.8h1M170.2 293.9h1M192.8 340.5h1M177.1 295.0h1M181.0 302.9h1M187.4 331.9h1M206.9 311.5h1M207.5 331.8h1M187.6 299.4h1M210.5 330.9h1M206.6 331.2h1M183.5 293.3h1M211.2 338.4h1M217.9 348.3h1M202.9 308.3h1M168.0 300.2h1M168.0 311.4h1M209.1 334.9h1M216.1 342.8h1M182.2 296.5h1M207.6 334.0h1M182.7 296.3h1M201.9 307.9h1M187.6 297.7h1M214.4 327.0h1M166.9 293.4h1M176.7 290.5h1M173.6 290.1h1M186.5 299.2h1M187.0 297.2h1M188.7 319.6h1M199.1 342.0h1M216.0 320.7h1M185.3 300.3h1M172.3 316.4h1M173.3 294.3h1M202.4 331.8h1M165.8 308.5h1M168.4 301.0h1M201.1 334.3h1M208.9 336.7h1M200.6 343.2h1M199.8 341.3h1M177.4 288.6h1M166.3 296.7h1M203.4 330.6h1M163.8 293.0h1M185.1 292.4h1M180.8 324.2h1M205.9 342.0h1M217.4 327.0h1M209.6 323.1h1M198.2 345.1h1M202.8 330.8h1M200.9 307.9h1M207.0 331.7h1M180.9 291.9h1M187.3 304.1h1M166.8 297.3h1M175.0 293.1h1M205.1 326.3h1M187.4 304.1h1M178.0 301.3h1M186.3 305.4h1M171.5 289.2h1M210.7 338.8h1M188.9 296.6h1M211.2 347.4h1M210.6 347.1h1M215.2 320.1h1M182.8 297.3h1M182.5 300.9h1M182.0 283.4h1" stroke="#95cd6e"/><path d="M193.0 342.3h1M183.7 314.5h1M176.6 323.4h1M201.6 319.6h1M185.1 307.1h1M182.5 313.2h1M180.5 329.9h1M172.0 318.4h1M173.2 314.7h1M190.6 318.2h1M167.3 321.2h1M169.4 317.9h1M199.1 314.0h1M168.5 311.8h1M181.7 317.3h1M184.8 303.2h1M177.0 314.7h1M203.6 310.5h1M188.1 333.6h1M192.4 312.2h1M185.5 306.1h1M182.6 314.5h1M207.8 324.0h1M187.5 298.3h1M177.6 323.3h1M183.3 315.7h1M198.5 321.4h1M208.7 315.1h1M200.7 316.2h1M200.9 322.0h1M195.5 313.0h1M190.9 334.2h1M201.3 326.9h1M192.2 322.8h1M180.5 313.3h1M196.2 330.5h1M181.5 329.6h1M192.8 306.2h1M198.0 326.5h1M187.4 324.3h1M208.9 344.7h1M177.2 326.7h1M207.6 317.3h1M172.4 304.5h1M192.0 332.5h1M184.8 328.6h1M202.7 319.9h1M192.4 326.2h1M192.8 319.5h1M200.6 326.1h1M193.2 326.8h1M201.9 327.8h1M191.7 338.5h1M179.0 307.1h1M166.2 308.2h1M185.4 318.3h1M181.0 315.6h1M184.9 322.8h1M198.7 320.3h1M184.4 326.1h1M202.3 341.6h1M188.2 331.3h1M168.2 320.9h1M212.0 341.2h1M194.7 311.8h1M192.4 331.8h1M168.6 309.0h1M201.6 321.3h1M182.2 328.4h1M197.5 319.7h1M182.2 309.7h1M200.8 325.0h1M203.2 342.4h1M182.2 327.3h1M181.7 329.4h1M201.7 325.5h1M202.1 319.9h1M184.7 319.1h1M187.3 309.8h1M206.5 333.7h1M181.4 328.4h1M197.5 325.7h1M198.1 342.3h1M194.3 325.6h1M187.0 320.5h1M196.8 318.9h1M196.0 318.3h1M185.9 320.8h1M170.5 308.3h1M174.5 320.6h1M192.6 326.6h1M188.9 333.9h1M186.1 326.6h1M174.6 315.9h1M176.3 325.4h1M192.3 333.5h1M176.9 306.4h1M169.2 322.5h1M175.3 317.0h1M188.0 320.2h1M200.3 314.3h1M180.2 320.7h1M194.1 318.8h1M169.9 315.6h1M173.3 316.3h1M184.6 324.8h1M187.9 318.9h1M207.8 323.6h1M190.2 309.6h1M172.4 313.1h1M178.5 309.6h1M207.4 318.3h1M170.3 316.6h1M185.7 309.7h1M195.0 328.7h1M199.5 315.6h1M193.1 314.3h1M171.4 313.3h1M202.3 332.3h1M196.9 333.2h1M194.9 327.8h1M199.3 314.4h1M188.2 310.2h1M183.9 310.9h1M205.0 312.2h1M190.1 309.7h1M183.1 320.2h1M195.7 332.6h1M208.2 337.5h1M176.9 303.9h1M188.3 323.9h1M197.6 331.9h1M199.0 324.4h1M189.9 334.0h1M197.5 309.4h1M198.3 327.5h1M198.6 329.0h1M167.1 319.8h1M174.7 309.5h1M201.6 343.4h1M198.2 320.5h1M199.9 318.4h1M183.9 329.4h1M183.2 326.4h1M196.5 313.0h1M190.4 304.6h1" stroke="#d5d24c"/><path d="M209.5 302.5h1M190.3 286.9h1M213.2 298.9h1M232.8 324.5h1M227.6 326.1h1M223.5 321.9h1M223.8 323.1h1M216.6 312.3h1M205.1 286.6h1M218.4 300.0h1M231.9 328.5h1M206.8 288.8h1M222.7 320.5h1M204.7 287.0h1M211.3 308.3h1M193.1 285.1h1M210.9 307.7h1M211.7 293.2h1M220.7 314.5h1M203.1 289.0h1M197.3 284.4h1M216.7 298.9h1M206.6 304.5h1M209.5 291.9h1M232.9 325.5h1M195.7 292.2h1M228.2 335.8h1M193.7 286.9h1M231.3 326.6h1M232.7 329.1h1M210.1 292.4h1M226.1 319.2h1M233.5 323.7h1M227.8 329.0h1M213.5 303.3h1M204.5 287.4h1M206.0 302.3h1M217.3 310.5h1M234.7 327.7h1M224.4 315.8h1M208.6 304.9h1M213.7 303.4h1M226.6 320.1h1M197.9 292.8h1M212.3 280.4h1M192.0 296.1h1M223.9 319.5h1M196.9 286.9h1M194.0 283.7h1M213.9 291.8h1M233.9 326.7h1M214.3 308.5h1M229.0 331.1h1M206.8 291.5h1M208.8 289.2h1M192.3 286.4h1M229.7 333.8h1M208.5 297.7h1M212.9 313.5h1M211.3 301.4h1M231.9 322.1h1M219.8 303.6h1M214.1 311.3h1M225.1 319.8h1M206.4 288.9h1M206.1 290.1h1M216.3 310.0h1M212.1 292.7h1M207.0 301.9h1M202.4 289.2h1" stroke="#52b0cf"/><path d="M202.7 325.8h1M181.8 313.9h1M169.5 308.5h1M194.2 319.2h1M171.2 298.0h1M176.3 305.9h1M202.1 323.5h1M203.9 316.8h1M177.2 302.9h1M210.5 321.6h1M199.4 330.5h1M183.5 327.5h1M187.1 311.2h1M189.3 324.1h1M176.3 316.1h1M193.4 313.3h1M197.5 324.7h1M195.8 309.0h1M190.2 320.7h1M213.3 319.8h1M193.8 341.5h1M169.3 306.2h1M188.2 318.6h1M165.1 315.7h1M209.9 330.0h1M193.5 340.5h1M189.3 323.5h1M173.8 308.4h1M178.1 327.6h1M185.1 315.0h1M194.9 319.6h1M168.8 308.2h1M194.4 337.3h1M170.1 320.6h1M177.0 324.7h1M171.2 308.6h1M193.1 337.4h1M212.5 322.3h1M210.9 345.1h1M173.1 315.7h1M198.4 324.7h1M165.3 307.7h1M193.3 314.5h1M190.0 321.7h1M186.6 303.6h1M173.0 308.9h1M166.7 305.7h1M210.9 321.1h1M203.1 321.8h1M168.6 305.6h1M203.7 310.3h1M183.1 310.2h1M190.7 339.3h1M204.4 327.2h1M173.8 326.9h1M193.3 325.8h1M194.5 321.2h1M164.5 311.4h1M169.7 305.6h1M202.6 331.3h1M173.5 305.1h1M183.7 306.3h1M196.5 319.6h1M179.5 309.3h1M203.3 311.2h1M210.7 326.0h1M197.7 309.0h1M185.2 327.1h1M182.2 326.3h1M167.8 319.1h1M176.2 311.1h1M178.0 310.7h1M170.6 297.9h1M172.0 307.9h1M168.9 297.2h1M182.8 310.3h1M209.9 321.5h1M191.4 330.1h1M181.4 301.8h1M185.0 313.8h1M181.6 321.0h1M191.0 302.6h1M185.4 304.0h1M178.4 326.7h1M199.0 322.3h1M178.8 302.8h1M203.4 327.2h1M207.5 346.2h1M199.6 326.3h1M187.3 305.1h1M178.8 321.3h1M209.8 328.8h1M189.2 315.8h1M177.1 305.4h1M193.1 335.0h1M175.3 325.3h1M185.1 320.8h1M193.8 313.0h1M192.9 323.8h1M190.4 303.5h1M185.0 314.0h1M178.2 321.3h1M170.0 313.1h1M173.1 319.2h1M172.5 315.4h1M199.9 343.2h1M187.3 324.4h1M198.4 317.5h1M175.0 303.9h1M182.7 328.3h1M181.5 309.1h1M193.9 338.2h1M205.7 338.0h1M167.7 312.5h1M212.1 327.6h1M176.3 321.8h1M207.1 338.7h1M209.3 318.7h1M185.0 328.1h1M168.9 318.9h1M168.8 317.9h1M186.7 315.7h1M193.1 332.0h1M204.5 342.8h1M178.4 312.4h1M208.2 341.3h1M178.4 303.9h1M192.1 331.8h1M203.1 347.0h1M202.9 336.0h1M185.5 313.1h1M170.0 292.4h1M179.5 306.3h1M199.3 338.8h1M207.4 341.8h1M205.0 333.4h1M198.0 324.4h1M173.6 317.3h1M183.0 325.9h1M209.1 320.4h1M167.5 320.2h1M188.8 320.4h1M194.1 316.3h1M176.2 304.9h1M173.2 300.5h1M176.5 318.1h1M191.3 305.9h1M183.0 312.1h1M182.4 311.3h1M204.6 333.2h1M198.9 318.4h1M164.3 292.1h1M174.1 307.0h1M193.1 334.8h1M176.1 320.8h1M207.2 343.5h1M178.6 321.7h1M190.7 316.0h1M176.5 297.5h1M208.9 335.7h1M193.5 324.6h1M210.4 338.9h1M194.1 334.4h1M169.2 311.1h1M184.0 328.4h1M199.3 334.0h1M179.3 312.3h1M185.1 326.3h1M186.2 326.7h1M189.6 319.8h1M176.3 324.3h1M195.5 321.3h1M207.7 322.9h1M174.9 308.2h1M183.7 328.6h1M177.3 317.4h1M203.5 324.8h1M186.3 302.3h1M176.0 318.6h1M184.8 306.3h1M190.9 308.9h1M187.2 320.9h1M193.3 315.6h1M197.6 329.3h1M204.5 341.7h1M194.0 332.4h1M176.0 303.4h1M164.4 316.5h1M196.7 323.5h1M195.2 339.4h1M198.9 339.7h1M178.3 311.4h1M180.2 308.5h1M178.6 325.2h1M177.2 316.4h1M168.7 307.1h1M196.1 330.8h1M174.1 304.3h1M177.9 310.4h1M178.6 313.1h1M182.5 298.8h1M193.7 311.4h1M204.4 347.7h1M164.3 314.6h1M185.2 310.6h1M199.9 324.9h1M185.8 302.9h1M202.2 320.5h1M185.7 321.8h1M198.4 334.4h1M198.0 331.3h1M182.7 324.9h1M190.8 337.9h1M214.8 329.6h1M182.3 315.3h1M189.3 309.1h1M204.6 341.0h1M184.2 300.5h1M177.3 302.2h1M174.4 313.4h1M173.3 307.5h1M202.7 329.6h1M195.5 318.0h1M173.0 289.2h1M167.6 316.6h1M207.0 331.8h1M177.8 321.5h1M180.5 307.4h1M186.4 310.5h1M190.0 317.4h1M208.1 320.7h1M193.4 339.5h1M192.5 334.5h1M209.9 345.7h1M168.5 319.6h1M211.3 344.1h1M168.7 318.2h1M196.0 310.2h1M184.0 325.6h1M194.5 336.3h1M201.9 335.9h1M172.9 315.4h1M185.4 326.1h1M186.1 297.8h1M200.1 340.1h1M206.6 342.6h1M191.2 316.9h1M206.1 311.5h1M208.2 342.3h1M176.4 296.5h1M166.1 315.5h1M187.6 331.7h1M188.4 324.6h1M194.4 312.9h1M174.2 324.9h1M208.1 335.5h1M173.6 323.9h1M163.8 303.2h1M192.8 334.1h1M178.7 309.4h1M198.2 338.2h1M178.2 316.9h1M193.8 331.8h1M184.5 327.5h1M173.5 315.7h1M209.1 316.0h1M192.3 318.0h1M188.3 308.7h1M196.3 307.5h1M174.6 324.0h1M186.2 317.7h1M187.1 313.6h1M182.5 317.9h1M216.4 341.5h1M204.3 340.2h1M168.0 317.5h1M175.2 311.2h1M179.9 306.6h1M177.0 319.7h1M213.6 328.0h1M176.7 295.5h1M176.2 311.5h1M175.6 296.9h1M209.2 322.2h1M184.3 326.8h1M193.5 326.3h1M180.4 328.7h1M193.5 320.8h1M168.0 313.4h1M177.9 304.0h1M191.5 326.9h1M168.2 321.7h1M185.2 327.3h1M185.5 319.8h1M194.0 328.5h1M184.3 315.7h1M189.7 319.3h1" stroke="#bfd253"/><path d="M195.9 289.4h1M219.7 318.1h1M210.0 310.7h1M220.9 331.3h1M215.0 314.0h1M231.2 332.8h1M189.7 288.0h1M201.7 302.7h1M190.6 287.7h1M223.0 323.9h1M224.1 320.2h1M210.1 309.4h1M203.6 300.4h1M229.3 334.0h1M224.3 323.7h1M205.8 305.9h1M202.8 292.0h1M195.4 298.3h1M192.3 291.4h1M225.5 335.0h1M195.3 294.1h1M205.7 295.5h1M232.8 329.4h1M201.5 290.4h1M196.2 290.5h1M197.9 298.6h1M204.6 302.3h1M201.9 296.1h1M222.4 328.8h1M199.9 293.4h1M225.7 336.6h1M202.6 303.2h1M191.2 286.4h1M195.5 291.2h1M219.6 333.6h1M203.5 303.2h1M229.2 328.2h1M201.4 297.0h1M227.1 337.4h1M209.7 310.3h1M208.2 305.8h1M188.4 290.3h1M202.5 302.6h1M218.8 321.6h1M231.8 332.8h1M196.0 292.4h1M196.9 290.0h1M202.3 299.4h1M228.6 326.0h1M188.8 288.3h1M228.5 334.6h1M192.7 287.1h1M210.6 297.8h1M203.2 303.8h1M219.9 327.1h1M214.2 314.6h1M210.8 293.8h1M199.9 292.8h1M233.7 327.4h1M200.9 297.2h1M200.6 298.1h1M225.0 336.0h1M220.5 322.4h1M202.5 288.2h1M203.6 304.6h1M231.5 327.6h1M226.2 332.5h1M198.9 292.5h1M223.7 322.9h1M226.2 334.3h1M197.5 301.2h1M192.1 292.1h1M200.3 291.1h1M228.5 329.0h1M219.1 313.9h1M227.9 336.7h1M210.4 302.1h1M196.5 291.0h1M224.2 326.7h1M226.6 337.5h1M199.7 295.5h1M190.0 289.6h1M226.8 328.6h1M237.0 327.8h1M223.6 327.5h1M194.6 293.8h1M223.1 325.1h1M231.5 331.8h1M193.6 292.2h1M216.5 316.3h1M202.0 291.2h1M195.3 297.3h1M196.1 299.0h1M205.0 302.4h1M206.7 296.9h1" stroke="#5fbcba"/><path d="M181.3 310.1h1M206.1 338.5h1M192.1 335.0h1M196.3 344.6h1M179.1 320.8h1M208.8 317.0h1M208.3 336.5h1M200.3 315.3h1M181.4 318.9h1M177.2 311.4h1M195.7 308.7h1M196.6 332.1h1M195.8 345.1h1M208.2 322.8h1M194.9 309.4h1M204.6 327.2h1M205.0 315.1h1M213.5 326.2h1M198.2 336.0h1M183.8 303.0h1M190.4 317.3h1M210.6 319.6h1M194.5 340.8h1M173.8 293.4h1M222.5 348.3h1M207.5 327.7h1M165.7 302.3h1M177.0 301.4h1M176.8 319.4h1M201.4 308.1h1M209.7 344.3h1M199.0 341.7h1M209.4 329.7h1M189.1 331.0h1M223.7 347.3h1M191.9 327.1h1M199.6 328.9h1M167.2 299.8h1M193.3 307.1h1M217.2 341.6h1M176.3 291.1h1M164.6 312.4h1M197.8 317.3h1M205.1 337.1h1M185.3 323.8h1M196.9 338.0h1M213.2 320.8h1M217.2 344.6h1M202.5 330.6h1M183.9 330.4h1M190.5 310.6h1M168.8 307.1h1M205.7 330.7h1M227.2 348.0h1M200.5 334.0h1M205.3 309.4h1M197.0 308.2h1M212.3 347.5h1M189.3 310.3h1M181.3 327.0h1M199.2 338.0h1M210.5 329.6h1M177.7 309.1h1M164.0 317.9h1M189.6 316.8h1M213.8 338.1h1M203.2 329.9h1M183.2 292.9h1M199.3 337.8h1M196.0 328.6h1M201.5 338.8h1M196.3 338.8h1M195.0 311.4h1M213.5 348.3h1M209.7 339.6h1M187.6 334.5h1M186.6 331.4h1M177.2 313.6h1M211.3 338.4h1M170.7 314.2h1M217.4 321.4h1M211.8 328.9h1M206.6 334.1h1M201.4 330.5h1M170.2 308.4h1M175.2 318.3h1M194.0 326.7h1M178.5 297.4h1M171.3 323.8h1M216.3 340.1h1M197.2 344.0h1M185.6 301.9h1M217.4 342.6h1M200.2 340.3h1M182.6 318.9h1M194.3 325.7h1M187.8 308.6h1M205.2 343.6h1M176.9 289.5h1M207.4 324.7h1M173.1 304.0h1M204.6 310.1h1M169.8 305.3h1M179.0 303.0h1M212.1 315.4h1M216.1 345.3h1M169.8 314.7h1M199.3 340.7h1M211.5 338.1h1M208.8 324.1h1M168.9 311.0h1M209.9 318.2h1M197.6 328.4h1M210.1 335.2h1M189.4 324.2h1M186.5 322.5h1M176.6 319.9h1M208.9 347.7h1M194.6 332.4h1M174.2 306.4h1M193.9 340.5h1M194.9 308.4h1M172.5 303.8h1M200.5 344.0h1M207.7 323.7h1M192.3 326.2h1M193.9 343.2h1M199.6 346.5h1M200.6 315.4h1M171.2 319.1h1M182.4 329.2h1M203.7 333.6h1M192.7 332.7h1M168.6 306.9h1M203.1 323.8h1M171.2 322.8h1M177.7 294.1h1M215.6 345.7h1M182.9 305.6h1M184.8 321.8h1M204.0 346.5h1M202.4 330.8h1M198.7 326.4h1M204.1 337.5h1M202.3 343.7h1M166.7 307.9h1M199.6 337.0h1M203.4 328.9h1M186.7 310.7h1M178.9 327.5h1M177.0 308.3h1M194.7 324.8h1M174.0 325.9h1M187.6 299.4h1M183.5 302.3h1M203.6 329.0h1M191.4 311.8h1M200.3 333.6h1M198.6 336.9h1M186.7 321.5h1M169.7 296.5h1M178.7 301.7h1M207.2 330.8h1M171.2 313.3h1M212.9 330.8h1M178.3 299.1h1M219.4 337.5h1M168.5 319.9h1M216.7 346.4h1M180.1 298.6h1M181.7 319.9h1M191.1 321.5h1M216.3 337.2h1M177.5 320.7h1M202.6 343.1h1M215.9 347.1h1M168.6 302.0h1M194.1 307.7h1M171.8 303.3h1M180.4 305.7h1M170.8 306.8h1M211.9 330.6h1M185.3 307.2h1M190.3 305.6h1M195.0 318.1h1M201.0 314.1h1M206.2 311.1h1M177.8 291.1h1M180.2 292.7h1M185.1 322.7h1M204.9 325.2h1M191.3 318.0h1M198.8 308.3h1M166.8 297.6h1M213.5 322.4h1M191.1 303.6h1M178.5 314.1h1M212.2 338.7h1M209.0 315.0h1M202.8 328.4h1M170.7 305.7h1M198.1 348.0h1M202.4 342.6h1M186.9 314.6h1M194.2 328.5h1M220.9 345.2h1M194.2 341.5h1M164.8 308.8h1M164.4 303.3h1M215.5 336.3h1M187.3 323.9h1M203.4 308.1h1M194.7 312.8h1M224.5 349.3h1M210.4 337.7h1M194.1 335.4h1M197.4 334.1h1M195.2 338.9h1M188.5 331.2h1M173.8 319.9h1M168.0 304.1h1M168.8 316.8h1M193.9 319.6h1M174.0 303.1h1M172.5 304.9h1M193.7 336.6h1M167.8 297.3h1M208.0 341.8h1M181.2 302.8h1M218.6 342.5h1M173.3 303.9h1M199.6 334.6h1M194.0 307.9h1M197.2 326.7h1M178.0 326.0h1M205.4 310.5h1M182.0 320.1h1M199.2 340.7h1M170.9 299.0h1M224.7 347.6h1M169.5 317.2h1M193.4 312.3h1M198.9 348.6h1M219.2 346.8h1M208.9 314.0h1M184.8 305.3h1M187.6 308.9h1M170.1 306.0h1M173.7 309.7h1M219.1 340.0h1M166.6 309.2h1M223.2 348.3h1M178.1 328.6h1M193.2 328.6h1M205.5 346.8h1M167.9 319.2h1M183.4 299.9h1M220.7 348.1h1M203.8 341.6h1M198.5 308.7h1M204.4 338.2h1M184.7 309.5h1M209.9 329.0h1M206.4 342.9h1M186.0 313.9h1M169.5 293.3h1M213.1 328.5h1M197.0 308.5h1M208.6 330.3h1M177.1 291.9h1M202.4 347.8h1M182.8 295.7h1M194.4 340.0h1M205.0 348.6h1M230.4 344.0h1M164.0 302.3h1M192.4 333.6h1M190.6 319.2h1M181.5 313.4h1M184.6 319.5h1M184.3 299.2h1M214.6 328.2h1M169.5 319.8h1M192.7 338.6h1M220.6 341.3h1M165.4 298.8h1M177.0 312.6h1M172.4 302.5h1M197.9 343.3h1M176.6 292.8h1M168.4 308.9h1M205.8 313.4h1M208.1 335.0h1M197.5 324.2h1M193.4 315.3h1M175.2 316.0h1M175.4 303.5h1M225.7 347.8h1M182.2 326.6h1M181.7 302.2h1M205.6 326.8h1M219.6 341.2h1M177.2 311.4h1M179.3 299.2h1M204.3 311.4h1M207.4 346.4h1M188.2 319.7h1M174.4 306.8h1M186.3 324.0h1M192.0 339.8h1M197.3 330.6h1M202.9 329.9h1M186.5 303.3h1M190.1 309.7h1M216.5 345.2h1M167.3 304.8h1M183.6 319.1h1M198.3 332.1h1" stroke="#aad25a"/><path d="M207.5 284.2h1M219.2 310.5h1M227.7 329.7h1M204.7 282.2h1M206.4 284.1h1M217.5 300.1h1M197.6 281.8h1M198.0 282.8h1M216.9 298.6h1M194.2 282.6h1M219.5 312.0h1M230.1 322.8h1M219.2 301.8h1M237.4 323.9h1M218.2 302.3h1M222.1 303.8h1M216.8 299.6h1M209.4 285.1h1M206.5 287.9h1M204.7 287.9h1M203.5 287.7h1M228.1 321.0h1M223.6 317.6h1M210.5 286.8h1M219.1 299.1h1M212.6 303.5h1M227.5 320.6h1M213.1 289.1h1M211.6 282.3h1M205.1 289.8h1M229.5 323.7h1M213.0 303.6h1M212.0 308.5h1M211.7 290.9h1M215.4 305.8h1M227.4 319.8h1M195.4 288.6h1M223.2 320.6h1M228.8 309.0h1M197.9 286.9h1M226.0 317.1h1M196.5 283.8h1M202.8 295.5h1M231.1 321.2h1M219.4 312.9h1M212.0 309.0h1M209.4 283.9h1M212.8 289.3h1M213.8 306.5h1M222.2 312.2h1M211.6 302.4h1M214.3 303.9h1M202.2 280.2h1M205.1 283.7h1M216.2 303.2h1M228.3 323.7h1M223.3 312.8h1M207.0 296.6h1M215.5 285.8h1M195.2 286.5h1M217.2 311.5h1M214.7 305.9h1M224.9 316.7h1M216.2 309.4h1M213.3 309.0h1M207.5 282.3h1M195.5 284.5h1M220.6 311.5h1M237.5 324.9h1M211.8 289.5h1M219.3 311.5h1M210.5 299.4h1M207.0 286.9h1M204.7 283.0h1M214.9 307.7h1M228.0 318.9h1M233.3 328.9h1M232.5 321.0h1M221.3 302.7h1" stroke="#4ba6d0"/><path d="M188.4 307.7h1M194.5 318.2h1M202.8 320.9h1M199.4 316.1h1M194.6 312.4h1M169.0 313.0h1M206.4 318.6h1" stroke="#ecc142"/><path d="M173.3 292.7h1M219.1 341.0h1M193.8 293.2h1M230.4 336.2h1M218.9 326.6h1M221.3 329.0h1M217.0 343.5h1M191.6 294.5h1M229.2 342.9h1M184.1 290.2h1M220.8 324.3h1M187.8 292.0h1M228.2 343.6h1M201.0 304.5h1M221.5 329.9h1M216.7 315.3h1M204.0 296.1h1M217.7 346.6h1M221.1 325.4h1M191.9 297.1h1M224.2 338.2h1M223.4 349.3h1M213.3 316.3h1M188.7 294.4h1M216.4 338.2h1M213.0 338.7h1M228.6 336.8h1M212.9 348.0h1M214.7 337.7h1M212.9 347.5h1M226.5 338.5h1M204.3 307.6h1M210.5 313.0h1M181.8 295.7h1M200.7 304.1h1M223.6 341.3h1M218.3 325.7h1M194.4 299.6h1M224.6 333.8h1M217.0 342.4h1M224.4 337.2h1M225.5 333.3h1M189.7 297.7h1M194.9 302.3h1M231.8 341.6h1M217.0 326.1h1M230.2 340.3h1M216.3 334.3h1M218.4 341.5h1M222.1 330.7h1M191.6 295.5h1M196.9 306.3h1M223.7 330.9h1M221.6 347.2h1M207.2 342.6h1M198.9 300.8h1M191.7 295.1h1M173.3 293.7h1M224.2 323.4h1M218.0 318.3h1M227.7 348.9h1M218.4 320.4h1M221.0 330.7h1M192.3 293.8h1M218.8 321.4h1M187.7 290.7h1M212.9 313.8h1M190.5 299.1h1M218.7 320.8h1M219.8 321.6h1M217.1 332.0h1M218.2 324.7h1M224.2 336.1h1M227.3 345.1h1M225.9 336.5h1M223.4 332.3h1M210.9 312.1h1M229.0 342.9h1M217.3 331.0h1M200.6 304.4h1M189.5 291.8h1M217.2 316.4h1M200.1 304.0h1M213.3 331.1h1M227.5 341.8h1M223.8 339.2h1M195.0 304.4h1M217.8 321.3h1M202.4 308.4h1M216.8 328.8h1M216.5 332.1h1M186.5 298.1h1M209.2 311.2h1M191.0 301.0h1M211.8 313.7h1M177.3 289.7h1M225.4 337.4h1M219.0 340.1h1M222.9 336.1h1M195.9 303.8h1M188.6 291.3h1M216.8 335.1h1M220.8 327.5h1" stroke="#6dc295"/><path d="M192.1 321.8h1M188.4 324.3h1M200.2 314.7h1M182.0 310.9h1M180.4 316.4h1M200.6 315.6h1M182.8 318.4h1M202.7 320.9h1M197.8 326.7h1M198.6 313.0h1M192.2 323.0h1M181.2 303.9h1M200.3 314.9h1M177.9 307.2h1M200.7 316.6h1M193.3 318.0h1M199.8 314.7h1M200.6 319.3h1M204.0 314.9h1M207.2 318.1h1M171.4 321.7h1M189.5 307.7h1M192.2 330.8h1M168.7 307.9h1M204.6 316.0h1M186.1 311.2h1M183.8 305.2h1M203.1 314.3h1M207.5 317.1h1M203.4 321.7h1M207.6 319.0h1M203.1 320.1h1M179.0 328.6h1M187.1 314.1h1M200.3 314.4h1M199.7 326.7h1M206.9 323.3h1M198.8 317.0h1M199.1 331.5h1M179.7 321.8h1" stroke="#e7cf45"/><path d="M224.3 309.5h1M237.6 315.9h1M203.7 276.7h1M201.7 281.0h1M203.0 280.8h1M224.1 313.0h1M225.9 310.3h1M223.6 301.0h1M224.1 307.4h1M237.0 322.4h1M217.2 310.4h1M212.1 305.2h1M221.5 300.8h1M226.5 311.0h1M208.0 278.3h1M202.4 280.4h1M232.9 315.5h1M203.0 285.9h1M197.6 278.2h1M229.5 310.9h1M216.4 300.6h1M207.0 285.0h1M221.4 304.5h1M212.1 304.1h1M205.1 280.6h1M209.4 286.0h1M210.3 286.9h1M203.5 279.9h1M226.5 315.3h1M224.1 309.2h1M200.5 282.2h1M225.7 307.9h1M235.8 318.9h1M230.7 308.0h1M223.1 312.7h1M211.2 286.2h1M209.1 282.1h1M221.4 311.0h1M224.1 308.3h1M221.7 299.2h1M203.4 280.3h1M220.8 303.7h1M227.2 308.9h1M225.1 313.7h1M229.7 318.4h1M233.6 320.9h1M204.2 279.5h1M218.9 305.2h1M230.8 307.3h1M217.6 303.2h1M223.0 307.6h1M230.1 320.9h1M228.0 309.5h1M227.0 317.4h1M216.8 307.2h1M233.9 314.3h1M218.7 305.2h1M203.1 278.1h1M222.3 302.8h1M202.8 282.2h1M226.9 314.4h1M201.5 282.0h1M224.2 313.2h1M214.2 283.1h1M214.7 306.7h1M200.1 279.5h1M227.2 306.7h1M228.9 305.2h1M196.7 282.8h1M196.5 284.1h1M208.9 278.4h1M234.2 320.1h1M210.5 284.5h1M205.0 282.0h1M218.8 303.6h1M211.5 286.7h1M215.0 283.8h1M221.4 311.2h1M211.3 285.2h1M227.2 320.8h1M220.9 305.3h1M198.9 283.2h1M201.1 279.2h1" stroke="#4291cd"/><path d="M231.2 319.7h1M221.6 312.0h1M230.5 309.1h1M207.8 280.6h1M223.6 308.5h1M234.5 317.5h1M229.0 310.4h1M234.4 319.8h1M223.6 302.1h1M230.8 311.5h1M209.8 279.3h1M221.7 311.4h1M209.8 277.9h1M208.3 280.7h1M236.0 319.4h1M230.2 310.1h1M201.2 279.9h1M229.5 313.3h1M234.8 312.4h1M235.1 321.6h1M230.9 316.2h1M202.2 278.6h1M220.3 303.6h1M225.0 309.7h1M220.4 311.4h1M226.8 310.0h1M210.1 279.7h1M231.2 315.2h1M232.2 321.2h1M203.2 279.7h1M229.9 309.9h1M221.1 301.7h1M207.3 281.0h1M231.0 315.9h1M237.0 320.7h1M201.0 283.0h1M227.3 311.6h1M234.5 320.8h1M231.9 313.0h1M202.9 281.2h1M216.3 306.3h1M234.5 313.4h1M234.9 311.1h1M226.4 313.5h1M235.0 319.1h1M208.2 281.5h1M229.9 311.1h1M230.6 318.9h1M236.4 321.5h1M199.1 279.7h1M230.4 306.3h1M235.5 317.9h1M232.6 313.7h1M206.1 280.8h1M230.6 317.2h1M232.7 315.8h1" stroke="#3e84c7"/><path d="M229.9 314.2h1M204.6 279.7h1M229.0 317.4h1M223.6 307.3h1M228.2 312.1h1M204.6 277.2h1M231.8 317.6h1M233.2 313.6h1M236.1 321.3h1M226.1 309.3h1M228.2 306.6h1M222.3 308.3h1M200.9 279.0h1M231.3 308.2h1M221.2 303.5h1M227.9 310.2h1M227.4 317.8h1M237.5 316.9h1M229.3 315.0h1M224.9 306.3h1M204.5 278.3h1M232.5 314.8h1M237.0 319.0h1" stroke="#3b78c0"/><path d="M207.1 320.5h1" stroke="#f5a53c"/><path d="M227.9 305.2h1M236.5 317.4h1M227.9 308.7h1M231.8 315.3h1M233.3 314.6h1M226.9 305.6h1M228.9 305.8h1M232.9 320.4h1" stroke="#386cb9"/><path d="M202.6 319.8h1M202.4 320.3h1" stroke="#f0b33f"/><path d="M204.1 320.4h1" stroke="#f2913a"/></g><path d="M161.8 273.3V352.9H241.4" stroke="#7a7a7a" stroke-width="0.9" fill="none"/><path d="M159.8 273.3H241.4" stroke="#a8a8a8" stroke-width="0.8" fill="none"/><path d="M159.6 273.3h2.2M161.8 352.9v2.2M160.2 278.3h1.6M166.8 352.9v1.6M160.2 283.2h1.6M171.8 352.9v1.6M160.2 288.2h1.6M176.7 352.9v1.6M159.6 293.2h2.2M181.7 352.9v2.2M160.2 298.2h1.6M186.7 352.9v1.6M160.2 303.2h1.6M191.7 352.9v1.6M160.2 308.1h1.6M196.6 352.9v1.6M159.6 313.1h2.2M201.6 352.9v2.2M160.2 318.1h1.6M206.6 352.9v1.6M160.2 323.1h1.6M211.6 352.9v1.6M160.2 328.0h1.6M216.5 352.9v1.6M159.6 333.0h2.2M221.5 352.9v2.2M160.2 338.0h1.6M226.5 352.9v1.6M160.2 342.9h1.6M231.4 352.9v1.6M160.2 347.9h1.6M236.4 352.9v1.6M159.6 352.9h2.2M241.4 352.9v2.2" stroke="#6a6a6a" stroke-width="0.7" fill="none"/><text x="155.8" y="275.8" font-size="5.70" text-anchor="end" font-weight="normal" fill="#333" stroke="#333" stroke-width="0.25">6.1</text><text x="155.8" y="295.7" font-size="5.70" text-anchor="end" font-weight="normal" fill="#333" stroke="#333" stroke-width="0.25">3.1</text><text x="155.8" y="315.6" font-size="5.70" text-anchor="end" font-weight="normal" fill="#333" stroke="#333" stroke-width="0.25">0.1</text><text x="155.8" y="335.5" font-size="5.70" text-anchor="end" font-weight="normal" fill="#333" stroke="#333" stroke-width="0.25">−2.9</text><text x="155.8" y="355.4" font-size="5.70" text-anchor="end" font-weight="normal" fill="#333" stroke="#333" stroke-width="0.25">−5.9</text><text x="162.3" y="363.9" font-size="5.70" text-anchor="middle" font-weight="normal" fill="#3a3a3a" stroke="#3a3a3a" stroke-width="0.25">−8.5</text><text x="182.2" y="363.9" font-size="5.70" text-anchor="middle" font-weight="normal" fill="#3a3a3a" stroke="#3a3a3a" stroke-width="0.25">−4.4</text><text x="202.1" y="363.9" font-size="5.70" text-anchor="middle" font-weight="normal" fill="#3a3a3a" stroke="#3a3a3a" stroke-width="0.25">−0.3</text><text x="222.0" y="363.9" font-size="5.70" text-anchor="middle" font-weight="normal" fill="#3a3a3a" stroke="#3a3a3a" stroke-width="0.25">3.7</text><text x="241.9" y="363.9" font-size="5.70" text-anchor="middle" font-weight="normal" fill="#3a3a3a" stroke="#3a3a3a" stroke-width="0.25">7.8</text><rect x="241.4" y="273.3" width="3.8" height="79.6" fill="url(#cb)"/><path d="M245.2 277.3h-1.2M245.2 281.3h-1.2M245.2 285.2h-1.2M245.2 289.2h-1.2M245.2 293.2h-1.2M245.2 297.2h-1.2M245.2 301.2h-1.2M245.2 305.1h-1.2M245.2 309.1h-1.2M245.2 313.1h-1.2M245.2 317.1h-1.2M245.2 321.1h-1.2M245.2 325.0h-1.2M245.2 329.0h-1.2M245.2 333.0h-1.2M245.2 337.0h-1.2M245.2 341.0h-1.2M245.2 344.9h-1.2M245.2 348.9h-1.2" stroke="#fff" stroke-opacity="0.5" stroke-width="0.5"/><rect x="244.0" y="330.1" width="2.5" height="2.2" rx="0.9" fill="#000"/><text x="250.6" y="296.3" font-size="5.70" text-anchor="start" font-weight="normal" fill="#333" stroke="#333" stroke-width="0.25">10<tspan dy="-2.3" font-size="3.9">4</tspan></text><text x="250.6" y="321.5" font-size="5.70" text-anchor="start" font-weight="normal" fill="#333" stroke="#333" stroke-width="0.25">10<tspan dy="-2.3" font-size="3.9">3</tspan></text><text x="250.6" y="333.2" font-size="5.70" text-anchor="start" font-weight="normal" fill="#333" stroke="#333" stroke-width="0.25">0</text><text x="250.6" y="343.6" font-size="5.70" text-anchor="start" font-weight="normal" fill="#333" stroke="#333" stroke-width="0.25">−10<tspan dy="-2.3" font-size="3.9">3</tspan></text><text x="165.4" y="281.8" font-size="8.00" text-anchor="start" font-weight="normal" fill="#222" stroke="#222" stroke-width="0.2" textLength="20.4" lengthAdjust="spacingAndGlyphs">CD34</text><g stroke-width="1" fill="none" filter="url(#halo)"><path d="M341.7 283.9h1M322.8 289.4h1M320.2 284.4h1M312.2 328.1h1M315.3 324.3h1M310.4 327.5h1M322.6 308.7h1M314.0 311.2h1M291.4 313.4h1M309.4 313.2h1M296.2 306.2h1M317.5 318.2h1M311.0 290.2h1M334.7 280.6h1M307.3 316.4h1M303.9 301.4h1M295.7 308.2h1M313.7 288.2h1M303.7 319.4h1M337.7 289.5h1M339.8 288.1h1M333.3 284.1h1M330.9 296.1h1M313.5 303.6h1M303.9 314.7h1M303.2 291.1h1M313.3 298.2h1M312.2 323.8h1M307.5 292.7h1M311.4 302.4h1M310.0 310.2h1M303.5 296.6h1M317.4 310.6h1M336.7 279.3h1M291.4 311.4h1M296.6 305.6h1M322.4 313.0h1M316.2 310.3h1M306.4 309.3h1M324.6 309.0h1M303.1 311.1h1M304.9 310.7h1M297.5 297.9h1M325.8 294.9h1M290.9 317.9h1M307.4 313.3h1M295.8 297.2h1M316.5 316.8h1M304.8 300.9h1M308.4 329.6h1M329.8 293.1h1M332.9 290.8h1M297.6 314.2h1M328.4 290.4h1M329.9 285.9h1M336.4 286.5h1M305.3 326.7h1M324.5 278.2h1M326.8 290.1h1M304.8 307.2h1M311.7 328.6h1M336.3 285.1h1M303.2 295.8h1M305.7 321.3h1M333.4 287.9h1M329.1 278.6h1M293.4 298.2h1M302.2 325.3h1M322.0 285.5h1M303.1 302.9h1M306.5 293.5h1M325.7 289.8h1M323.5 303.1h1M318.7 290.2h1M308.3 294.5h1M318.1 286.4h1M296.7 305.3h1M311.9 328.1h1M295.7 317.9h1M311.8 322.8h1M313.6 315.7h1M311.3 326.1h1M322.6 292.2h1M328.3 297.0h1M318.5 295.5h1M323.8 306.3h1M306.4 306.3h1M309.9 325.9h1M297.1 322.3h1M300.1 293.9h1M320.6 286.9h1M297.9 296.9h1M338.5 282.3h1M309.1 328.4h1M332.0 289.8h1M301.0 307.0h1M295.6 302.0h1M330.1 279.7h1M303.0 320.8h1M329.0 304.7h1M300.3 301.5h1M300.2 293.7h1M303.4 297.5h1M296.3 294.5h1M309.8 305.6h1M320.7 306.4h1M319.8 284.1h1M304.2 298.9h1M306.2 312.3h1M293.6 307.9h1M324.5 308.2h1M313.6 310.7h1M319.6 287.1h1M322.3 288.6h1M305.8 327.5h1M303.9 308.3h1M327.8 279.0h1M302.9 318.6h1M297.4 308.3h1M321.4 304.1h1M313.6 321.5h1M298.1 313.3h1M295.5 293.9h1M331.1 279.5h1M305.2 311.4h1M309.0 288.6h1M296.1 322.5h1M307.3 305.7h1M297.7 306.8h1M336.3 283.9h1M320.6 311.4h1M327.5 298.1h1M332.2 287.8h1M309.3 295.8h1M291.2 314.6h1M299.7 294.6h1M318.0 303.6h1M319.1 283.3h1M300.2 316.3h1M297.6 305.7h1M295.6 300.9h1M305.6 294.1h1M314.8 318.9h1M313.0 311.2h1M304.0 295.0h1M323.8 295.2h1M324.8 292.8h1M304.2 302.2h1M316.4 291.8h1M318.6 287.6h1M294.9 304.1h1M295.7 316.8h1M312.6 309.7h1M314.5 299.4h1M318.9 296.1h1M299.4 304.9h1M294.7 297.3h1M307.4 307.4h1M304.9 326.0h1M320.0 314.3h1M296.4 317.2h1M294.9 311.4h1M309.1 296.5h1M309.6 296.3h1M334.0 290.4h1M310.9 325.6h1M313.4 299.2h1M300.6 309.7h1M315.6 319.6h1M325.2 296.7h1M335.1 281.5h1M327.0 279.5h1M322.9 286.4h1M312.2 300.3h1M299.2 316.4h1M333.7 291.5h1M317.0 309.7h1M310.0 320.2h1M316.7 294.4h1M325.4 308.7h1M334.4 282.3h1M321.8 293.1h1M326.6 295.5h1M323.4 284.1h1M315.2 323.9h1M301.1 324.9h1M319.2 286.4h1M335.8 278.4h1M316.9 289.6h1M305.6 309.4h1M300.4 315.7h1M307.7 324.2h1M326.0 279.7h1M330.4 299.4h1M330.3 300.3h1M336.5 286.1h1M308.4 313.4h1M311.2 299.2h1M314.8 300.3h1M314.0 313.6h1M297.6 289.8h1M299.3 302.5h1M341.9 283.8h1M331.6 283.0h1M314.2 304.1h1M293.7 297.3h1M306.8 306.6h1M313.2 305.4h1M303.6 295.5h1M317.4 291.9h1M310.8 329.4h1M339.6 292.9h1M295.1 321.7h1M315.8 296.6h1M312.1 327.3h1M334.4 297.6h1M330.7 302.2h1M294.2 304.8h1M317.3 304.6h1M310.5 319.1h1M306.6 321.8h1M308.9 283.4h1" stroke="#3148a2"/><path d="M343.7 321.8h1M322.7 345.1h1M340.2 319.8h1M320.7 341.5h1M351.4 316.0h1M351.0 313.0h1M338.6 321.8h1M355.9 310.4h1M357.7 311.5h1M355.1 312.1h1M337.6 326.0h1M355.3 318.1h1M353.4 311.0h1M357.1 310.1h1M319.3 338.2h1M358.7 317.6h1M327.1 340.3h1M337.8 330.7h1M333.5 332.7h1M339.3 337.6h1M353.0 319.2h1M346.3 315.7h1M339.6 331.7h1M352.0 313.7h1M345.6 320.8h1M338.8 330.6h1M351.3 315.8h1M349.1 312.2h1M339.6 326.7h1M340.4 322.4h1M354.9 309.5h1M335.7 330.7h1M354.6 316.8h1M319.7 340.5h1M334.5 334.0h1M327.0 340.1h1M335.1 337.5h1M335.8 336.7h1M356.2 315.0h1M358.1 310.2h1M350.5 316.6h1M324.5 331.9h1M341.1 320.5h1M335.0 335.0h1M340.5 328.0h1" stroke="#66bfa8"/><path d="M339.7 310.6h1M332.6 333.1h1M319.9 342.3h1M335.2 336.5h1M327.6 339.4h1M321.4 340.8h1M332.6 333.6h1M355.9 317.4h1M352.8 310.3h1M340.2 316.3h1M317.6 339.3h1M345.4 317.4h1M334.7 330.8h1M327.4 334.0h1M332.6 332.6h1M326.1 338.0h1M338.2 308.3h1M347.6 314.5h1M333.5 334.1h1M351.9 309.7h1M337.6 320.6h1M318.6 338.5h1M339.0 327.6h1M329.8 336.0h1M326.2 338.8h1M337.0 335.2h1M351.0 309.2h1M350.0 312.7h1M335.8 335.7h1M348.3 311.0h1M338.9 327.6h1M335.3 335.7h1M354.1 308.9h1M334.1 330.8h1M356.5 309.7h1M346.3 312.9h1M328.6 334.9h1M339.8 316.8h1M350.2 312.8h1M322.1 338.9h1M320.6 336.6h1M333.5 331.2h1M320.3 339.5h1M351.8 316.7h1M328.8 335.9h1M328.0 334.3h1M346.0 309.5h1M335.0 335.5h1M321.3 340.0h1M343.4 316.3h1" stroke="#5fbcba"/><path d="M346.8 339.7h1M347.8 331.3h1M359.7 324.5h1M358.1 332.8h1M348.4 329.9h1M344.1 341.6h1M344.6 346.6h1M350.3 349.3h1M357.2 333.9h1M354.1 348.0h1M358.8 328.5h1M361.6 321.9h1M364.3 323.9h1M351.5 338.3h1M357.1 340.3h1M357.5 342.5h1M339.1 346.7h1M349.7 341.9h1M361.1 329.4h1M349.0 330.7h1M345.6 333.7h1M349.5 331.6h1M359.6 329.1h1M356.4 323.7h1M352.2 337.5h1M351.5 343.3h1M360.6 327.4h1M361.6 327.7h1M341.5 345.9h1M354.2 345.1h1M357.0 320.9h1M355.9 342.9h1M358.4 327.6h1M355.5 328.2h1M346.6 343.3h1M353.1 334.3h1M347.3 342.5h1M359.5 332.0h1M346.0 334.5h1M351.6 347.6h1M360.8 326.7h1M346.1 346.8h1M352.5 335.3h1M363.3 321.5h1M351.1 347.3h1M357.3 344.0h1M352.6 347.8h1M345.9 340.1h1M351.9 325.5h1" stroke="#f0b33f"/><path d="M336.4 302.5h1M336.1 319.0h1M346.1 306.0h1M335.0 324.9h1M338.8 307.5h1M335.6 315.1h1M332.2 309.4h1M339.0 305.2h1M327.8 322.0h1M330.2 311.2h1M354.8 305.2h1M342.4 307.3h1M346.1 301.8h1M338.1 309.6h1M313.5 331.4h1M343.7 299.6h1M350.0 300.1h1M331.5 302.3h1M337.3 317.4h1M347.2 303.6h1M343.6 298.9h1M348.3 304.5h1M339.0 304.1h1M347.7 304.5h1M335.1 305.8h1M324.9 324.4h1M345.0 299.2h1M328.6 325.5h1M330.9 314.9h1M346.5 307.0h1M319.5 326.6h1M348.1 303.5h1M344.2 310.5h1M340.7 306.5h1M318.2 318.0h1M338.7 303.0h1M341.2 303.9h1M334.7 323.6h1M345.6 305.2h1M343.1 303.2h1M333.8 311.5h1M336.9 315.4h1M315.4 331.2h1M344.1 311.5h1M322.4 304.5h1M324.1 326.7h1M329.8 308.3h1M350.2 308.7h1M337.3 302.1h1M321.8 327.8h1M341.0 305.0h1M341.6 306.7h1M342.1 305.0h1M330.3 330.6h1M344.4 299.5h1M343.2 308.0h1M338.2 301.4h1M329.7 330.8h1M341.8 307.7h1M332.0 326.3h1M334.4 308.8h1M333.9 301.9h1" stroke="#4291cd"/><path d="M329.6 325.8h1M303.5 323.4h1M321.1 319.2h1M327.2 315.3h1M330.3 301.3h1M336.4 285.0h1M304.1 311.4h1M304.1 302.9h1M303.2 316.1h1M322.7 309.0h1M317.1 320.7h1M318.5 294.5h1M316.2 323.5h1M317.3 317.3h1M316.6 288.0h1M305.0 327.6h1M300.7 293.4h1M330.6 276.7h1M312.0 315.0h1M321.8 319.6h1M333.2 288.0h1M308.6 317.3h1M297.0 320.6h1M300.0 315.7h1M320.2 314.5h1M330.7 286.6h1M291.5 312.4h1M324.7 317.3h1M330.5 300.4h1M324.9 282.8h1M327.5 307.5h1M319.3 312.2h1M336.4 299.0h1M312.4 306.1h1M314.4 298.3h1M308.6 324.8h1M332.7 305.9h1M320.8 301.9h1M331.9 296.3h1M293.6 299.2h1M321.1 282.6h1M322.1 290.6h1M335.8 279.8h1M322.2 290.2h1M304.6 309.1h1M302.4 296.4h1M335.4 291.9h1M303.4 294.8h1M309.3 299.9h1M335.2 280.7h1M308.1 303.9h1M302.3 290.6h1M319.7 306.2h1M321.9 311.4h1M306.9 302.7h1M330.0 289.0h1M334.7 288.9h1M314.2 305.1h1M324.8 298.6h1M316.1 315.8h1M327.5 326.1h1M330.6 305.6h1M296.9 313.1h1M328.8 296.1h1M300.0 319.2h1M325.3 317.5h1M314.7 308.6h1M303.2 321.8h1M329.5 303.2h1M325.9 284.4h1M332.0 280.6h1M322.4 291.2h1M330.4 287.7h1M305.9 303.0h1M296.7 314.7h1M315.8 292.0h1M312.4 313.1h1M341.9 288.0h1M315.1 331.3h1M318.6 291.2h1M295.1 320.9h1M316.3 324.2h1M313.4 322.5h1M321.6 311.8h1M306.4 297.7h1M315.7 320.4h1M327.4 282.2h1M301.1 306.4h1M315.3 290.3h1M321.8 308.4h1M319.2 326.2h1M309.9 312.1h1M312.1 308.1h1M322.9 292.4h1M309.1 309.7h1M327.7 325.0h1M300.1 299.5h1M308.6 329.4h1M338.1 286.2h1M310.9 328.4h1M296.2 302.8h1M322.4 321.3h1M324.4 325.7h1M302.9 291.3h1M313.2 302.3h1M312.5 297.5h1M330.1 303.8h1M311.0 292.4h1M318.3 311.8h1M330.5 294.0h1M337.7 293.8h1M307.0 298.6h1M317.9 302.7h1M330.4 302.3h1M330.1 292.1h1M317.4 299.1h1M323.6 323.5h1M327.8 297.2h1M338.5 291.0h1M303.8 306.4h1M329.7 295.5h1M321.0 307.7h1M329.8 281.2h1M314.9 320.2h1M327.2 314.3h1M301.0 304.3h1M317.2 305.6h1M327.9 314.1h1M322.3 307.7h1M307.1 292.7h1M321.0 318.8h1M312.0 322.7h1M332.1 281.3h1M312.1 310.6h1M306.6 294.3h1M329.4 288.2h1M313.8 314.6h1M332.0 283.7h1M325.4 301.0h1M321.5 312.4h1M326.0 296.2h1M342.4 285.8h1M327.5 304.4h1M309.2 315.3h1M301.3 313.4h1M300.7 319.9h1M331.5 284.6h1M319.0 292.1h1M316.9 317.4h1M320.9 307.9h1M326.4 315.6h1M330.3 321.7h1M314.5 308.9h1M300.5 290.1h1M326.2 314.4h1M324.0 308.6h1M313.9 297.2h1M312.3 326.1h1M311.6 309.5h1M303.3 296.5h1M312.9 313.9h1M303.8 303.9h1M293.0 315.5h1M304.0 291.9h1M314.5 331.7h1M290.7 303.2h1M290.7 293.0h1M331.9 282.0h1M315.2 308.7h1M323.2 307.5h1M327.2 314.4h1M329.1 279.7h1M337.4 299.4h1M320.5 292.2h1M327.8 307.9h1M326.8 289.1h1M309.4 317.9h1M317.9 301.0h1M334.9 293.4h1M339.6 290.5h1M314.3 304.1h1M320.3 315.3h1M298.4 289.2h1M326.8 318.4h1M322.8 303.8h1M307.3 328.7h1M304.8 304.0h1M336.4 294.3h1M329.3 289.2h1M318.5 300.2h1M316.6 319.3h1" stroke="#365fb2"/><path d="M333.1 295.9h1M320.7 293.2h1M324.4 324.7h1M326.0 314.0h1M292.6 302.3h1M317.5 287.7h1M333.9 278.6h1M327.9 304.5h1M327.5 315.6h1M325.3 324.7h1M316.9 321.7h1M321.6 306.4h1M330.0 321.8h1M330.6 310.3h1M325.5 313.0h1M310.8 330.4h1M317.1 301.9h1M321.4 321.2h1M325.4 321.4h1M338.6 290.0h1M331.2 307.6h1M327.6 304.1h1M316.4 295.8h1M294.7 319.1h1M320.3 300.6h1M323.5 308.0h1M346.0 302.6h1M338.6 293.2h1M332.6 295.5h1M334.9 278.3h1M316.6 297.7h1M304.1 326.7h1M317.9 302.6h1M345.1 302.3h1M314.7 301.4h1M323.1 290.5h1M338.5 303.4h1M319.3 326.2h1M329.5 319.8h1M329.3 308.1h1M305.4 297.4h1M305.9 307.1h1M319.5 299.9h1M330.4 303.2h1M337.2 286.9h1M333.1 303.6h1M335.7 296.9h1M329.7 320.9h1M320.2 318.0h1M332.1 303.3h1M336.7 297.1h1M321.7 306.1h1M309.0 320.9h1M294.4 320.2h1M321.0 316.3h1M334.6 323.7h1M337.0 292.4h1M340.0 289.1h1M325.8 318.4h1M322.6 304.9h1M311.7 291.7h1M325.8 300.8h1M324.4 319.7h1M339.9 303.6h1M339.0 289.1h1M338.6 290.9h1M325.6 326.4h1M312.0 326.3h1M313.1 326.7h1M325.1 297.3h1M327.9 283.0h1M322.9 318.3h1M312.8 320.8h1M331.0 320.4h1M331.4 287.4h1M332.9 302.3h1M326.3 316.1h1M322.8 295.4h1M312.2 307.2h1M323.4 301.2h1M309.4 298.8h1M319.0 299.0h1M340.6 303.4h1M311.5 324.8h1M295.6 307.9h1M291.7 308.8h1M333.9 296.6h1M297.2 316.6h1M322.4 318.0h1M324.4 301.2h1M346.8 305.1h1M330.0 314.3h1M321.9 304.4h1M311.7 305.3h1M303.6 290.5h1M341.1 283.1h1M315.1 310.2h1M330.7 303.0h1M318.1 316.9h1M321.3 312.9h1M330.0 320.1h1M305.9 328.6h1M324.7 305.8h1M338.7 289.5h1M335.4 297.7h1M325.9 324.4h1M334.6 292.6h1M308.6 302.2h1M333.0 290.1h1M347.8 305.3h1M320.4 320.8h1M341.0 290.8h1M318.4 326.9h1M333.6 296.9h1M322.9 299.4h1M335.5 298.6h1M328.6 303.7h1" stroke="#386cb9"/><path d="M325.5 285.4h1M328.5 319.6h1M329.0 323.5h1M330.8 316.8h1M340.1 298.9h1M327.1 314.7h1M320.3 313.3h1M331.5 327.2h1M330.9 309.4h1M340.5 291.0h1M328.6 281.0h1M328.3 308.1h1M320.2 291.6h1M329.6 320.9h1M292.2 307.7h1M330.5 310.5h1M340.4 291.2h1M324.5 281.8h1M331.7 315.0h1M321.1 286.6h1M323.4 319.6h1M331.6 302.6h1M346.2 303.7h1M312.1 327.1h1M334.0 283.2h1M349.1 301.8h1M324.9 326.5h1M327.2 314.9h1M325.9 322.3h1M329.6 319.9h1M321.8 302.3h1M320.9 326.7h1M328.8 327.8h1M343.1 301.4h1M321.2 325.7h1M331.5 310.1h1M293.9 311.8h1M325.6 320.3h1M319.3 331.8h1M330.0 323.8h1M336.7 280.6h1M320.4 324.6h1M321.2 325.6h1M321.6 324.8h1M330.8 306.6h1M333.1 279.2h1M304.4 320.7h1M331.8 325.2h1M330.5 304.6h1M323.8 295.7h1M331.5 316.0h1M330.3 308.1h1M321.2 300.6h1M320.8 319.6h1M329.3 308.4h1M334.4 317.1h1M328.8 307.9h1M340.2 309.0h1M323.9 308.5h1M315.3 324.6h1M317.5 319.2h1M333.3 318.6h1M302.1 311.2h1M324.4 324.2h1M326.7 308.3h1M331.2 311.4h1M333.8 323.3h1M313.4 303.3h1M325.7 317.0h1" stroke="#3b78c0"/><path d="M350.4 340.1h1M354.6 329.7h1M350.7 336.6h1M352.7 339.2h1M350.6 337.6h1M353.4 338.5h1M350.5 341.3h1M352.4 333.3h1M359.7 329.4h1M351.6 335.7h1M346.9 331.8h1M346.5 333.6h1M354.0 337.4h1M355.1 335.8h1M348.2 344.3h1M358.7 332.8h1M353.4 335.6h1M360.0 334.2h1M352.5 342.6h1M347.7 342.3h1M347.9 330.7h1M355.7 334.2h1M346.3 337.5h1M346.0 332.7h1M357.9 337.1h1M348.3 342.4h1M355.3 337.8h1M360.2 338.9h1M355.4 344.6h1M349.5 343.3h1M353.6 342.4h1M361.3 328.6h1M354.8 336.7h1M359.1 333.7h1M350.1 348.3h1M356.7 332.7h1M356.6 333.8h1M353.7 328.6h1M356.2 325.2h1M358.4 331.8h1M360.7 329.5h1M351.5 340.8h1M358.1 341.6h1M352.3 337.4h1M356.1 333.1h1" stroke="#f2913a"/><path d="M308.7 313.9h1M310.6 314.5h1M296.4 308.5h1M300.2 292.7h1M298.1 298.0h1M300.1 314.7h1M296.3 317.9h1M336.2 280.8h1M293.2 299.3h1M314.7 292.0h1M324.4 296.1h1M300.0 292.9h1M295.4 311.8h1M311.7 303.2h1M303.9 324.7h1M309.7 318.4h1M317.4 296.1h1M293.6 305.7h1M332.0 286.6h1M309.5 314.5h1M329.2 285.2h1M303.1 317.6h1M315.6 294.4h1M300.7 326.9h1M304.5 323.3h1M300.4 305.1h1M308.7 295.7h1M301.0 292.7h1M309.1 326.3h1M298.9 307.9h1M331.6 287.0h1M314.6 319.2h1M310.1 292.9h1M328.1 279.9h1M308.3 301.8h1M311.9 313.8h1M308.2 293.5h1M310.0 300.5h1M314.3 324.3h1M308.5 321.0h1M304.1 313.6h1M295.2 292.0h1M330.6 288.1h1M319.2 306.0h1M302.1 318.3h1M294.0 300.1h1M297.6 296.2h1M303.9 291.9h1M301.5 297.1h1M333.9 285.0h1M308.4 309.1h1M312.3 290.4h1M326.8 293.4h1M299.7 317.8h1M312.3 318.3h1M295.8 318.9h1M309.9 290.1h1M302.3 306.4h1M301.3 295.5h1M336.4 291.9h1M325.2 283.6h1M305.3 312.4h1M330.4 279.9h1M295.8 311.0h1M337.4 286.8h1M337.0 279.7h1M300.5 317.3h1M303.5 319.9h1M318.4 291.6h1M310.6 291.5h1M303.4 318.1h1M318.2 305.9h1M299.4 303.8h1M303.6 302.4h1M315.6 291.3h1M304.6 294.1h1M300.3 313.4h1M315.7 288.3h1M295.8 296.7h1M303.2 324.3h1M310.6 328.6h1M310.4 302.3h1M298.3 321.7h1M301.4 320.6h1M331.6 285.6h1M296.6 296.5h1M313.8 291.6h1M305.2 299.1h1M314.6 290.7h1M301.5 315.9h1M315.5 297.6h1M307.1 308.5h1M298.7 303.3h1M302.2 317.0h1M304.6 301.9h1M305.5 313.1h1M293.7 297.6h1M295.2 309.1h1M294.6 319.2h1M325.8 292.5h1M321.6 312.8h1M325.2 296.3h1M309.6 324.9h1M305.4 309.6h1M307.9 302.9h1M300.2 307.5h1M299.9 289.2h1M339.2 280.4h1M300.9 303.1h1M294.5 316.6h1M308.1 302.8h1M310.4 293.3h1M294.9 300.2h1M297.8 299.0h1M298.3 313.3h1M328.4 282.0h1M295.6 318.2h1M314.5 297.7h1M293.8 293.4h1M297.0 306.0h1M328.2 278.1h1M296.1 291.4h1M334.1 280.0h1M290.9 302.3h1M301.4 292.7h1M313.4 298.1h1M338.4 286.7h1M301.5 324.0h1M296.4 319.8h1M292.3 298.8h1M303.9 312.6h1M307.8 291.9h1M304.2 289.7h1M294.0 319.8h1M308.3 296.0h1M301.6 309.5h1M304.9 301.3h1M333.3 288.9h1M333.0 280.8h1M303.1 311.5h1M338.2 285.2h1M311.2 326.8h1M339.0 292.7h1M320.9 292.6h1M334.9 285.1h1M325.8 283.2h1M309.7 297.3h1M309.4 300.9h1" stroke="#2e409a"/><path d="M308.2 310.1h1M334.4 284.2h1M315.3 307.7h1M306.0 320.8h1M317.2 286.9h1M319.0 321.8h1M308.3 318.9h1M303.2 305.9h1M297.4 313.9h1M316.2 324.1h1M309.4 301.9h1M308.9 310.9h1M312.0 307.1h1M304.3 294.0h1M307.4 329.9h1M321.8 309.4h1M298.9 318.4h1M315.1 318.6h1M292.0 315.7h1M294.2 321.2h1M291.7 304.2h1M310.7 303.0h1M300.7 308.4h1M328.6 302.7h1M331.5 279.7h1M323.2 305.2h1M294.3 299.1h1M320.4 299.2h1M298.1 308.6h1M329.9 280.8h1M321.4 318.2h1M328.6 279.2h1M294.1 299.8h1M320.2 307.1h1M318.7 290.4h1M318.8 297.1h1M295.5 305.6h1M343.8 298.6h1M314.6 294.5h1M332.0 281.0h1M295.7 307.1h1M329.7 292.0h1M310.2 315.7h1M327.6 316.2h1M322.3 298.3h1M319.2 291.4h1M323.9 308.2h1M298.6 306.3h1M310.6 306.3h1M308.2 327.0h1M322.6 291.6h1M333.7 288.8h1M336.7 277.9h1M311.3 290.7h1M331.5 277.2h1M297.9 294.6h1M319.1 322.8h1M300.5 294.8h1M320.0 285.1h1M339.6 291.9h1M319.1 323.0h1M298.9 301.5h1M321.3 299.6h1M322.4 285.5h1M326.1 290.8h1M327.6 294.0h1M321.8 305.1h1M329.3 280.4h1M325.2 298.3h1M310.2 299.5h1M324.8 300.6h1M312.3 304.0h1M297.1 308.4h1M326.5 291.7h1M298.2 323.8h1M304.0 305.4h1M324.2 284.4h1M312.5 301.9h1M312.0 320.8h1M320.7 313.0h1M309.5 318.9h1M317.3 303.5h1M311.9 314.0h1M305.1 321.3h1M299.4 315.4h1M314.2 324.4h1M309.6 328.3h1M294.6 312.5h1M331.6 287.9h1M293.1 308.2h1M323.7 309.5h1M336.3 286.0h1M305.3 303.9h1M324.7 296.1h1M296.9 292.4h1M318.9 299.2h1M326.7 314.7h1M306.3 316.8h1M300.1 300.5h1M324.7 301.6h1M314.2 296.2h1M329.4 302.6h1M302.5 323.8h1M309.3 311.3h1M327.5 315.4h1M298.1 319.1h1M309.3 329.2h1M322.4 291.6h1M291.2 292.1h1M311.0 292.3h1M309.1 327.3h1M318.6 295.1h1M305.5 321.7h1M295.5 306.9h1M329.0 319.9h1M323.8 290.0h1M298.1 322.8h1M336.0 282.1h1M329.2 299.4h1M311.7 321.8h1M314.2 309.8h1M328.5 302.1h1M332.3 295.2h1M334.2 281.0h1M316.5 319.8h1M308.3 328.4h1M313.9 320.5h1M321.1 303.1h1M296.0 290.4h1M300.9 325.9h1M314.5 299.4h1M323.7 305.2h1M330.3 280.3h1M316.6 299.8h1M311.7 306.3h1M317.8 308.9h1M314.1 320.9h1M334.9 278.9h1M320.2 315.6h1M305.6 301.7h1M337.0 278.6h1M324.8 286.9h1M313.0 326.6h1M324.9 309.0h1M326.9 282.9h1M321.6 287.2h1M326.8 292.8h1M308.6 319.9h1M318.0 321.5h1M291.3 316.5h1M323.4 283.8h1M305.5 325.2h1M330.5 301.5h1M304.1 316.4h1M304.8 310.4h1M321.9 318.1h1M339.7 289.3h1M304.7 291.1h1M340.8 287.9h1M325.7 308.3h1M296.8 315.6h1M305.4 314.1h1M328.2 299.3h1M329.1 320.5h1M291.3 303.3h1M330.7 299.3h1M317.1 309.6h1M312.6 321.8h1M314.2 323.9h1M299.3 313.1h1M297.1 293.9h1M330.0 278.1h1M316.2 309.1h1M329.7 282.2h1M311.1 300.5h1M322.1 286.5h1M304.7 321.5h1M300.2 303.9h1M313.3 310.5h1M327.2 291.1h1M327.0 304.0h1M320.9 283.7h1M308.9 320.1h1M340.8 291.8h1M320.3 312.3h1M322.9 310.2h1M293.5 309.2h1M310.8 310.9h1M323.4 291.0h1M310.3 299.9h1M300.2 294.3h1M313.0 297.8h1M335.9 293.4h1M315.6 299.8h1M292.7 308.5h1M326.2 292.5h1M327.1 282.3h1M296.4 293.3h1M322.4 284.5h1M335.7 289.2h1M323.6 282.8h1M309.7 295.7h1M295.9 313.0h1M300.5 323.9h1M304.3 288.6h1M293.2 296.7h1M314.0 314.1h1M305.1 316.9h1M330.0 287.4h1M323.8 298.9h1M337.4 284.5h1M311.4 327.5h1M321.5 293.8h1M319.2 318.0h1M328.0 303.5h1M333.9 286.9h1M313.1 317.7h1M303.5 292.8h1M324.4 309.4h1M327.2 299.6h1M294.9 317.5h1M331.4 278.3h1M301.9 293.1h1M303.9 319.7h1M333.3 292.4h1M322.2 297.3h1M302.1 316.0h1M302.3 303.5h1M323.0 299.0h1M309.1 326.6h1M304.1 311.4h1M306.2 299.2h1M337.6 291.5h1M310.1 326.4h1M323.4 313.0h1M315.1 319.7h1M294.9 313.4h1M315.5 291.3h1M313.2 324.0h1M317.0 309.7h1M316.2 290.4h1M311.2 315.7h1M305.1 293.3h1M328.0 279.2h1" stroke="#3452aa"/><path d="M333.0 338.5h1M323.2 344.6h1M364.5 315.9h1M357.4 309.1h1M361.4 317.5h1M332.0 337.1h1M339.9 338.7h1M337.4 329.6h1M349.6 320.5h1M350.2 322.9h1M355.5 319.0h1M363.4 317.4h1M356.4 313.3h1M344.3 321.4h1M324.1 344.0h1M338.9 338.8h1M343.9 326.1h1M325.5 346.2h1M348.1 319.5h1M330.3 348.0h1M326.2 340.7h1M354.9 317.4h1M350.7 320.5h1M354.4 320.6h1M320.8 343.2h1M356.8 309.9h1M354.3 319.8h1M345.3 320.4h1M350.1 320.6h1M340.7 327.8h1M355.7 309.0h1M339.8 330.8h1M352.9 317.1h1M325.8 339.7h1M329.3 342.6h1M341.1 321.6h1M334.4 331.8h1M353.8 314.4h1M351.1 313.2h1M325.8 348.6h1M341.5 333.5h1M342.9 320.7h1M360.2 314.6h1M331.3 338.2h1M357.5 318.9h1M337.8 328.6h1M341.3 331.2h1M359.5 313.7h1" stroke="#7fc781"/><path d="M356.3 320.6h1M342.5 337.2h1M347.7 324.3h1M349.9 323.9h1M351.0 320.2h1M347.1 326.0h1M332.2 339.9h1M340.1 320.8h1M361.3 319.8h1M339.8 348.0h1M327.2 347.2h1M345.2 325.7h1M336.6 339.6h1M326.8 343.2h1M343.8 320.9h1M332.1 343.6h1M344.7 320.5h1M332.6 338.0h1M334.0 338.7h1M359.0 316.6h1M327.4 344.0h1M330.1 342.4h1M330.9 346.5h1M351.1 323.4h1M342.3 333.8h1M349.2 323.1h1M331.4 341.7h1M354.2 311.6h1M334.2 348.4h1M360.5 320.9h1M343.2 337.2h1M361.4 320.8h1M347.4 322.4h1M360.0 322.7h1M350.6 322.9h1M361.9 319.1h1M338.1 338.4h1M331.6 346.1h1M364.4 316.9h1M326.0 342.0h1M332.4 346.8h1M330.7 341.6h1M333.5 342.6h1M329.3 347.8h1M326.7 341.3h1M343.4 332.1h1M331.9 348.6h1M352.9 327.9h1M354.1 320.8h1" stroke="#aad25a"/><path d="M346.6 318.1h1M345.8 326.6h1M358.1 319.7h1M353.6 318.6h1M323.8 346.4h1M325.9 341.7h1M327.8 343.0h1M341.5 333.3h1M351.2 323.7h1M341.6 337.7h1M345.3 322.6h1M346.7 324.7h1M334.4 342.8h1M362.9 319.4h1M334.8 341.0h1M331.4 342.8h1M330.0 347.0h1M342.3 332.7h1M346.4 317.0h1M335.3 348.3h1M345.7 321.6h1M337.3 338.9h1M331.0 337.5h1M357.9 315.9h1M325.0 342.3h1M345.7 321.4h1M350.4 324.8h1M356.6 318.4h1M341.1 332.0h1M361.4 313.4h1M345.7 324.5h1M353.5 320.1h1M360.8 314.3h1M345.4 319.4h1M337.3 337.7h1M341.7 329.6h1M331.5 341.0h1M358.7 315.3h1M350.8 319.5h1M344.7 321.3h1M358.8 314.2h1M333.3 342.9h1M327.5 343.2h1M345.9 326.6h1M324.8 343.3h1M359.4 314.8h1M352.0 319.8h1M328.5 343.4h1M363.9 319.0h1M337.6 338.8h1" stroke="#95cd6e"/><path d="M319.0 335.0h1M346.1 310.5h1M323.5 332.1h1M319.5 331.7h1M325.1 336.0h1M350.5 308.5h1M338.2 313.0h1M337.0 309.4h1M350.5 302.1h1M339.6 315.8h1M329.5 331.3h1M346.4 312.0h1M340.1 311.6h1M336.8 321.5h1M323.2 338.8h1M349.0 303.8h1M334.7 330.0h1M320.0 335.0h1M320.2 341.4h1M338.0 315.4h1M336.8 318.2h1M324.5 328.4h1M336.0 320.4h1M346.0 299.1h1M320.8 340.5h1M357.6 308.0h1M320.0 334.8h1M319.6 332.7h1M333.2 312.5h1M329.3 330.8h1M349.2 308.3h1M333.8 305.7h1M326.5 337.0h1M352.7 306.8h1M336.0 324.0h1M327.2 333.6h1M341.1 314.6h1M319.1 330.8h1M348.6 307.5h1M338.9 309.0h1M335.9 310.6h1M333.1 311.1h1M344.5 303.2h1M337.8 312.1h1M333.5 327.1h1M321.1 328.5h1M334.3 318.3h1M321.9 328.7h1M319.4 334.5h1M343.7 302.3h1M343.1 309.4h1M322.6 332.6h1M333.0 311.5h1M336.1 311.2h1M332.7 313.4h1M355.8 305.8h1M325.5 329.0h1M343.2 310.0h1M336.1 322.2h1M318.9 339.8h1M324.2 330.6h1M348.2 302.7h1M320.9 328.5h1" stroke="#4ba6d0"/><path d="M335.7 317.0h1M341.0 317.0h1M337.4 321.6h1M341.9 314.0h1M348.5 312.0h1M336.8 330.0h1M320.4 340.5h1M346.9 313.7h1M334.4 327.7h1M322.0 333.3h1M321.3 337.3h1M339.4 322.3h1M343.5 312.3h1M337.8 321.1h1M329.4 330.6h1M344.1 310.4h1M337.8 307.7h1M333.2 310.6h1M328.4 338.8h1M338.7 328.9h1M360.1 313.6h1M336.7 328.8h1M349.3 312.2h1M328.3 333.6h1M353.7 310.0h1M319.0 331.8h1M346.9 310.6h1M331.9 333.4h1M321.5 332.4h1M336.8 330.6h1M338.9 308.5h1M351.0 308.3h1M333.4 333.7h1M330.3 328.9h1M358.2 308.2h1M320.9 332.4h1M323.0 330.8h1M357.7 307.3h1M334.5 312.2h1M339.6 318.9h1M344.6 314.9h1M335.9 315.0h1M321.1 341.5h1M325.3 334.4h1M337.3 313.3h1M333.9 331.8h1M344.1 316.4h1M323.8 333.2h1M353.0 308.9h1M334.5 319.0h1M319.7 334.1h1M325.1 338.2h1M320.7 331.8h1M336.0 316.0h1M339.8 313.5h1M357.3 306.3h1M338.7 313.7h1M342.3 310.0h1M346.6 314.7h1M348.2 312.2h1" stroke="#58b9cd"/><path d="M346.0 341.0h1M348.2 329.0h1M344.9 339.3h1M356.1 342.9h1M343.4 342.4h1M336.2 348.0h1M351.1 347.5h1M338.7 343.2h1M339.2 347.5h1M361.6 328.6h1M343.9 340.9h1M344.0 331.3h1M352.0 336.7h1M343.2 334.3h1M345.3 341.5h1M343.0 345.3h1M345.1 341.6h1M342.5 345.7h1M355.4 334.6h1M360.4 323.7h1M345.1 341.6h1M343.3 332.7h1M349.2 343.9h1M350.3 332.3h1M348.0 346.3h1M345.5 342.5h1M355.4 329.0h1M338.2 344.1h1M344.8 341.4h1M346.0 340.0h1M345.3 347.4h1M363.9 327.8h1M343.3 341.5h1M360.2 328.9h1M343.7 335.1h1" stroke="#ecc142"/><path d="M345.7 335.5h1M345.4 334.7h1M350.6 347.3h1M344.1 344.6h1M351.1 338.2h1M350.1 328.4h1M351.3 338.4h1M351.3 337.2h1M351.4 330.3h1M353.6 347.8h1M358.7 341.6h1M354.7 328.8h1M349.3 328.8h1M357.9 341.0h1M359.8 325.5h1M350.8 348.5h1M360.5 328.7h1M347.0 338.2h1M338.0 341.7h1M350.6 330.9h1M362.4 330.9h1M348.9 335.6h1M354.9 347.0h1M354.7 329.0h1M338.9 348.3h1M351.1 336.1h1M351.9 336.0h1M354.4 347.0h1M353.4 338.2h1M347.8 345.2h1M351.4 349.3h1M350.7 339.2h1M348.5 339.8h1M347.6 348.1h1M360.1 327.9h1M348.8 330.9h1M350.1 331.9h1M358.2 340.6h1" stroke="#f5a53c"/><path d="M357.3 336.2h1M358.6 337.1h1" stroke="#e45737"/><path d="M351.2 309.5h1M336.9 310.7h1M339.6 315.5h1M337.5 319.6h1M336.3 329.7h1M338.4 312.8h1M343.6 315.3h1M323.8 338.0h1M334.7 324.0h1M350.5 307.3h1M332.6 330.7h1M348.6 311.4h1M337.4 313.0h1M323.1 330.5h1M326.2 337.8h1M333.1 331.7h1M334.5 317.3h1M318.9 332.5h1M328.3 330.5h1M320.8 338.2h1M339.0 315.4h1M347.3 311.4h1M320.0 332.0h1M353.0 309.3h1M335.7 324.1h1M354.8 308.7h1M343.0 316.2h1M355.1 306.6h1M331.5 333.2h1M323.0 329.8h1M321.0 334.4h1M326.2 334.0h1M321.2 342.2h1M340.7 313.3h1M324.5 329.3h1M354.8 310.2h1M339.8 313.8h1M319.2 333.5h1M324.9 331.3h1M321.0 335.4h1M324.3 334.1h1M317.7 337.9h1M326.5 334.6h1M341.6 305.9h1M329.2 332.3h1M321.4 336.3h1M354.1 306.7h1M355.8 305.2h1M336.8 329.0h1M347.5 311.5h1M335.5 330.3h1M341.1 315.7h1M346.2 311.5h1M319.3 333.6h1M347.6 311.4h1M319.6 338.6h1M351.0 308.5h1M348.3 311.2h1" stroke="#52b0cf"/><path d="M326.3 330.5h1M335.1 322.8h1M331.9 315.1h1M350.3 306.7h1M349.5 307.2h1M320.0 337.4h1M326.5 328.9h1M334.0 320.5h1M324.7 326.7h1M339.2 312.7h1M339.5 314.7h1M351.0 307.4h1M331.3 327.2h1M333.3 310.4h1M317.8 334.2h1M343.6 308.5h1M330.1 329.9h1M318.3 330.1h1M320.1 326.8h1M338.4 302.0h1M334.3 324.7h1M336.2 318.7h1M336.6 310.3h1M352.6 307.9h1M339.5 303.5h1M328.5 321.3h1M342.2 309.5h1M348.0 301.7h1M342.5 298.9h1M334.6 322.9h1M330.5 329.0h1M336.5 320.0h1M315.8 333.9h1M337.5 314.0h1M343.2 306.3h1M335.5 304.9h1M349.9 307.6h1M338.5 302.4h1M337.2 318.4h1M339.3 314.8h1M343.7 307.2h1M349.2 302.8h1M344.1 298.5h1M329.6 329.6h1M335.0 320.7h1M348.5 301.5h1M341.2 308.5h1M335.8 314.0h1M331.9 312.2h1M329.3 331.8h1M348.3 302.5h1M351.8 306.3h1M345.7 303.6h1M336.5 323.1h1M353.8 305.6h1M316.8 334.0h1M345.2 302.4h1M346.7 303.6h1M341.0 311.3h1M335.4 313.0h1M332.5 326.8h1M329.8 329.9h1M326.0 331.5h1M325.2 332.1h1" stroke="#459dd2"/><path d="M332.2 309.4h1M323.6 328.9h1M316.0 331.0h1M318.8 327.1h1M344.4 300.1h1M315.0 333.6h1M350.5 301.0h1M320.2 325.8h1M345.3 300.0h1M348.4 300.8h1M328.2 326.9h1M322.9 328.6h1M314.5 334.5h1M330.3 327.2h1M343.3 300.6h1M326.5 326.3h1M319.7 319.5h1M327.6 316.6h1M332.2 326.7h1M319.8 323.8h1M333.5 304.5h1M334.2 306.2h1M329.3 320.3h1M327.5 319.3h1M317.6 316.0h1M342.3 305.8h1M348.6 299.2h1M334.1 318.1h1M323.7 318.9h1M330.8 308.3h1M337.5 297.8h1M330.4 324.8h1M347.7 303.7h1M325.5 336.9h1M319.2 293.8h1M340.4 303.3h1M316.4 307.7h1M334.9 310.8h1M333.6 309.4h1M345.8 305.2h1M329.7 328.4h1M326.8 324.9h1M314.3 331.9h1M323.8 286.9h1M332.3 310.5h1M320.1 328.6h1M338.8 281.3h1M334.6 306.3h1M328.9 291.2h1M325.2 327.5h1M326.6 326.7h1M325.1 320.5h1M331.9 302.4h1M320.4 326.3h1" stroke="#3e84c7"/><path d="M343.9 343.5h1M354.5 326.1h1M349.4 348.3h1M336.6 344.3h1M337.8 345.1h1M350.1 347.5h1M338.6 346.3h1M343.3 338.2h1M339.8 347.5h1M357.0 322.8h1M348.6 348.1h1M346.0 340.8h1M343.9 342.4h1M340.4 348.3h1M362.8 326.0h1M335.8 344.7h1M355.9 324.5h1M350.3 329.1h1M343.2 340.1h1M344.3 342.6h1M347.3 345.6h1M344.5 336.8h1M343.2 339.2h1M354.3 324.2h1M342.7 331.4h1M344.0 337.9h1M358.2 326.6h1M343.5 337.2h1M355.5 326.0h1M354.6 348.9h1M353.4 326.0h1M329.5 343.1h1M354.4 346.1h1M361.7 322.6h1M353.3 324.4h1M339.1 338.7h1M355.2 323.7h1M344.2 331.0h1M334.9 341.8h1M344.8 348.3h1M336.8 345.7h1M343.0 342.8h1M355.3 324.7h1M364.4 324.9h1M350.5 327.5h1M332.8 342.0h1M340.5 347.2h1M347.5 341.3h1M359.8 320.4h1M338.1 342.8h1M346.5 341.2h1M343.4 345.2h1" stroke="#e7cf45"/><path d="M344.0 339.8h1M348.7 328.9h1M350.7 323.1h1M344.3 330.0h1M336.0 345.1h1M348.0 325.4h1M363.4 326.8h1M343.2 344.3h1M340.7 338.3h1M342.9 336.2h1M362.0 321.6h1M334.4 346.2h1M342.5 332.6h1M350.9 325.6h1M363.0 321.3h1M356.1 328.2h1M335.8 347.7h1M348.5 347.2h1M362.7 318.9h1M334.1 342.6h1M352.5 325.1h1M334.1 343.5h1M343.5 325.1h1M329.2 343.7h1M342.8 347.1h1M356.2 343.9h1M358.0 321.2h1M331.3 347.7h1M343.4 336.0h1M335.2 340.9h1M342.1 343.3h1M343.9 343.6h1M357.3 320.2h1M341.5 342.5h1M353.9 329.5h1M335.1 342.3h1M342.8 328.4h1M343.7 328.8h1M337.2 347.0h1M338.5 347.3h1M334.3 346.4h1M338.1 347.4h1M337.5 347.1h1M348.8 324.8h1M347.7 327.5h1" stroke="#d5d24c"/><path d="M342.4 327.7h1M350.4 321.9h1M355.0 320.0h1M363.9 322.4h1M330.9 345.3h1M340.7 338.1h1M358.9 321.8h1M335.0 338.4h1M338.2 338.4h1M335.2 346.9h1M335.1 341.3h1M355.0 321.0h1M334.3 341.8h1M338.9 341.2h1M342.1 332.3h1M343.4 340.5h1M359.1 321.2h1M326.5 346.5h1M363.9 320.7h1M346.8 327.1h1M343.6 346.4h1M346.7 321.6h1M335.0 345.3h1M344.0 332.0h1M345.1 324.7h1M325.0 348.0h1M342.4 336.3h1M351.1 326.7h1M361.1 320.1h1M344.3 327.0h1M350.0 325.1h1M325.1 345.1h1M341.5 328.2h1M331.2 340.2h1M358.8 322.1h1M354.9 318.9h1M344.7 321.7h1M359.4 321.0h1M342.1 320.1h1" stroke="#bfd253"/><path d="M303.0 318.7h1M308.9 290.3h1M295.7 318.7h1M299.9 308.9h1M296.6 297.4h1M309.7 310.3h1M299.3 304.5h1M327.8 299.1h1M305.7 300.8h1M303.1 304.9h1M295.5 309.0h1M323.0 308.1h1M311.6 319.1h1M296.1 311.1h1M301.8 308.2h1M301.7 307.2h1M295.4 319.9h1M302.9 303.4h1M307.1 303.6h1M295.6 307.1h1M307.1 320.7h1M329.1 280.2h1M301.9 314.2h1M307.3 296.2h1M295.4 319.6h1M316.8 292.7h1M305.0 328.6h1M294.8 319.2h1M294.5 298.0h1M299.8 315.4h1M295.3 301.0h1M291.7 302.8h1M294.6 292.8h1M312.0 292.4h1M311.5 319.5h1M295.3 308.9h1M302.5 296.9h1M301.3 306.8h1M312.4 319.8h1" stroke="#2a3892"/><path d="M340.4 326.2h1M356.8 314.2h1M350.6 315.1h1M331.6 336.1h1M340.5 332.1h1M348.7 313.0h1M359.8 315.5h1M361.7 312.4h1M356.4 310.9h1M357.8 316.2h1M361.8 311.5h1M329.2 341.6h1M338.4 338.1h1M350.5 317.6h1M353.4 315.3h1M326.8 349.0h1M358.1 315.2h1M344.2 322.5h1M330.6 333.6h1M344.9 318.3h1M322.1 339.4h1M358.8 313.0h1M324.1 345.4h1M361.8 311.1h1M331.4 337.1h1M353.9 317.4h1M330.2 339.8h1M354.3 317.8h1M353.3 313.5h1M354.3 317.8h1M337.4 330.9h1M340.2 331.1h1M347.4 318.7h1M326.1 340.7h1M346.0 313.9h1M336.0 334.9h1M340.9 330.2h1M341.3 327.0h1M344.9 317.0h1M356.8 311.1h1M355.3 320.4h1M340.0 328.5h1M362.4 317.9h1M333.9 331.7h1M338.3 326.7h1M357.5 317.2h1M359.6 315.8h1M342.1 329.1h1" stroke="#6dc295"/><path d="M315.6 289.3h1M331.6 282.2h1M321.8 305.4h1M322.2 294.1h1M301.9 303.9h1M303.8 289.5h1M300.0 304.0h1M307.9 315.6h1M304.2 317.4h1M308.8 295.1h1M295.5 302.0h1M312.7 302.9h1M310.7 305.2h1M341.9 284.9h1M296.5 289.8h1" stroke="#273088"/><path d="M355.1 343.6h1M356.2 334.0h1M359.9 340.4h1M359.6 327.2h1M357.9 337.7h1M347.8 339.3h1M356.3 336.4h1M346.2 336.4h1M349.5 339.6h1M352.8 336.5h1M350.5 343.0h1M356.2 332.1h1M353.1 332.5h1M356.9 338.2h1M354.4 341.8h1M353.5 337.5h1M360.8 325.7h1" stroke="#ef7c39"/><path d="M355.5 336.8h1M352.4 335.0h1M351.5 333.8h1M352.6 336.6h1M349.3 347.3h1M355.9 331.1h1M349.8 336.1h1" stroke="#ec6837"/><path d="M305.7 302.8h1M303.2 325.4h1" stroke="#222976"/></g><path d="M288.7 273.3V352.9H368.3" stroke="#7a7a7a" stroke-width="0.9" fill="none"/><path d="M286.7 273.3H368.3" stroke="#a8a8a8" stroke-width="0.8" fill="none"/><path d="M286.5 273.3h2.2M288.7 352.9v2.2M287.1 278.3h1.6M293.7 352.9v1.6M287.1 283.2h1.6M298.6 352.9v1.6M287.1 288.2h1.6M303.6 352.9v1.6M286.5 293.2h2.2M308.6 352.9v2.2M287.1 298.2h1.6M313.6 352.9v1.6M287.1 303.2h1.6M318.6 352.9v1.6M287.1 308.1h1.6M323.5 352.9v1.6M286.5 313.1h2.2M328.5 352.9v2.2M287.1 318.1h1.6M333.5 352.9v1.6M287.1 323.1h1.6M338.4 352.9v1.6M287.1 328.0h1.6M343.4 352.9v1.6M286.5 333.0h2.2M348.4 352.9v2.2M287.1 338.0h1.6M353.4 352.9v1.6M287.1 342.9h1.6M358.3 352.9v1.6M287.1 347.9h1.6M363.3 352.9v1.6M286.5 352.9h2.2M368.3 352.9v2.2" stroke="#6a6a6a" stroke-width="0.7" fill="none"/><text x="282.7" y="275.8" font-size="5.70" text-anchor="end" font-weight="normal" fill="#333" stroke="#333" stroke-width="0.25">6.1</text><text x="282.7" y="295.7" font-size="5.70" text-anchor="end" font-weight="normal" fill="#333" stroke="#333" stroke-width="0.25">3.1</text><text x="282.7" y="315.6" font-size="5.70" text-anchor="end" font-weight="normal" fill="#333" stroke="#333" stroke-width="0.25">0.1</text><text x="282.7" y="335.5" font-size="5.70" text-anchor="end" font-weight="normal" fill="#333" stroke="#333" stroke-width="0.25">−2.9</text><text x="282.7" y="355.4" font-size="5.70" text-anchor="end" font-weight="normal" fill="#333" stroke="#333" stroke-width="0.25">−5.9</text><text x="289.2" y="363.9" font-size="5.70" text-anchor="middle" font-weight="normal" fill="#3a3a3a" stroke="#3a3a3a" stroke-width="0.25">−8.5</text><text x="309.1" y="363.9" font-size="5.70" text-anchor="middle" font-weight="normal" fill="#3a3a3a" stroke="#3a3a3a" stroke-width="0.25">−4.4</text><text x="329.0" y="363.9" font-size="5.70" text-anchor="middle" font-weight="normal" fill="#3a3a3a" stroke="#3a3a3a" stroke-width="0.25">−0.3</text><text x="348.9" y="363.9" font-size="5.70" text-anchor="middle" font-weight="normal" fill="#3a3a3a" stroke="#3a3a3a" stroke-width="0.25">3.7</text><text x="368.8" y="363.9" font-size="5.70" text-anchor="middle" font-weight="normal" fill="#3a3a3a" stroke="#3a3a3a" stroke-width="0.25">7.8</text><rect x="368.3" y="273.3" width="3.8" height="79.6" fill="url(#cb)"/><path d="M372.1 277.3h-1.2M372.1 281.3h-1.2M372.1 285.2h-1.2M372.1 289.2h-1.2M372.1 293.2h-1.2M372.1 297.2h-1.2M372.1 301.2h-1.2M372.1 305.1h-1.2M372.1 309.1h-1.2M372.1 313.1h-1.2M372.1 317.1h-1.2M372.1 321.1h-1.2M372.1 325.0h-1.2M372.1 329.0h-1.2M372.1 333.0h-1.2M372.1 337.0h-1.2M372.1 341.0h-1.2M372.1 344.9h-1.2M372.1 348.9h-1.2" stroke="#fff" stroke-opacity="0.5" stroke-width="0.5"/><rect x="370.9" y="351.8" width="2.5" height="1.0" rx="0.4" fill="#000"/><text x="377.5" y="315.9" font-size="5.70" text-anchor="start" font-weight="normal" fill="#333" stroke="#333" stroke-width="0.25">10<tspan dy="-2.3" font-size="3.9">4</tspan></text><text x="377.5" y="348.4" font-size="5.70" text-anchor="start" font-weight="normal" fill="#333" stroke="#333" stroke-width="0.25">10<tspan dy="-2.3" font-size="3.9">3</tspan></text><text x="377.5" y="353.0" font-size="5.70" text-anchor="start" font-weight="normal" fill="#333" stroke="#333" stroke-width="0.25">0</text><text x="292.3" y="281.8" font-size="8.00" text-anchor="start" font-weight="normal" fill="#222" stroke="#222" stroke-width="0.2" textLength="32.5" lengthAdjust="spacingAndGlyphs">CD16/32</text><g stroke-width="1" fill="none" filter="url(#halo)"><path d="M465.3 283.9h1M456.7 295.9h1M449.1 285.4h1M446.4 289.4h1M438.9 324.3h1M447.2 328.9h1M434.0 327.5h1M446.2 308.7h1M437.6 311.2h1M439.8 324.1h1M440.9 317.3h1M449.6 314.0h1M455.1 279.7h1M457.5 278.6h1M446.8 305.2h1M453.5 280.8h1M463.4 288.1h1M448.9 324.7h1M454.3 286.6h1M435.8 323.8h1M455.6 281.0h1M439.2 294.4h1M445.0 321.2h1M444.7 282.6h1M462.2 290.0h1M459.4 279.8h1M445.8 290.2h1M451.2 304.1h1M445.4 305.4h1M435.7 327.1h1M455.1 277.2h1M440.1 316.8h1M462.2 293.2h1M449.7 290.8h1M458.5 278.3h1M453.4 293.1h1M445.5 311.4h1M437.9 324.3h1M435.9 304.0h1M448.1 278.2h1M458.3 288.9h1M442.9 326.2h1M457.0 287.9h1M452.7 278.6h1M443.3 319.5h1M445.6 285.5h1M435.6 320.8h1M452.4 327.8h1M440.9 303.5h1M433.2 328.3h1M429.5 307.1h1M443.1 299.9h1M435.5 328.1h1M449.5 284.4h1M459.9 286.0h1M454.0 287.7h1M449.2 320.3h1M465.5 288.0h1M461.0 286.8h1M449.8 338.8h1M451.1 319.3h1M448.3 301.6h1M433.5 312.1h1M462.1 282.3h1M451.1 315.4h1M448.0 319.7h1M443.6 334.8h1M432.2 329.4h1M452.2 325.5h1M419.1 306.9h1M459.6 282.1h1M460.3 280.6h1M449.2 326.4h1M439.3 288.3h1M455.9 295.2h1M434.2 328.6h1M440.2 299.8h1M441.4 308.9h1M455.2 285.6h1M458.5 278.9h1M449.1 336.9h1M442.8 293.8h1M448.5 309.0h1M447.2 323.5h1M447.0 283.8h1M438.5 320.2h1M447.0 301.2h1M445.5 318.1h1M464.4 287.9h1M442.7 283.3h1M452.7 320.5h1M440.7 309.6h1M437.8 323.9h1M448.8 296.3h1M436.6 311.2h1M439.8 309.1h1M448.4 292.8h1M442.2 287.6h1M462.8 280.4h1M442.5 296.1h1M447.7 326.7h1M443.0 334.5h1M464.7 283.1h1M457.3 291.5h1M450.7 282.3h1M451.8 278.1h1M440.5 289.6h1M448.1 331.9h1M453.6 287.4h1M447.4 298.9h1M459.0 297.7h1M449.6 279.7h1M442.9 333.6h1M453.9 300.3h1M437.6 313.6h1M440.4 334.0h1M433.0 317.9h1M465.5 283.8h1M458.5 293.4h1M449.1 329.0h1M463.2 290.5h1M443.9 315.3h1M456.9 288.9h1M432.7 326.6h1M456.6 290.1h1M455.5 302.4h1M446.4 303.8h1M457.2 296.9h1M458.5 285.1h1M435.7 327.3h1M452.9 289.2h1" stroke="#3148a2"/><path d="M467.3 321.8h1M463.3 310.6h1M463.2 315.5h1M474.0 321.9h1M470.5 313.7h1M478.2 329.7h1M485.0 317.5h1M474.2 315.1h1M457.6 320.5h1M467.1 312.3h1M471.6 325.4h1M476.4 310.3h1M474.7 347.5h1M474.1 301.0h1M474.1 307.3h1M467.7 310.4h1M477.0 338.5h1M474.1 341.3h1M485.2 321.9h1M480.6 322.8h1M468.8 325.7h1M477.0 311.0h1M479.1 319.0h1M481.5 337.7h1M472.7 301.8h1M487.9 323.9h1M480.0 310.9h1M485.6 321.6h1M479.5 324.5h1M473.9 329.1h1M462.6 327.6h1M476.2 336.6h1M470.5 310.6h1M478.5 317.4h1M477.0 315.3h1M478.7 335.8h1M469.6 299.1h1M466.3 331.4h1M472.1 347.2h1M486.3 318.9h1M468.6 299.2h1M477.0 335.6h1M484.0 323.7h1M481.5 315.9h1M470.1 307.0h1M476.3 306.8h1M481.8 308.2h1M467.8 310.5h1M470.3 321.6h1M482.4 313.0h1M481.3 307.3h1M469.9 312.9h1M468.7 324.7h1M473.9 332.3h1M473.5 307.6h1M469.0 319.4h1M474.2 322.9h1M472.8 302.8h1M470.4 305.1h1M485.5 319.1h1M479.0 329.0h1M472.1 301.5h1M473.8 308.7h1M477.7 306.7h1M465.7 305.0h1M477.5 329.5h1M471.1 311.5h1M469.6 309.5h1M474.1 327.5h1M469.8 311.5h1M483.4 320.4h1M475.1 340.8h1M483.0 314.8h1M475.6 319.8h1M478.5 318.9h1M483.8 328.9h1M469.5 340.1h1M483.0 321.0h1M467.3 335.1h1" stroke="#7fc781"/><path d="M470.4 339.7h1M459.3 317.0h1M464.6 317.0h1M472.3 328.9h1M468.5 339.3h1M463.8 319.8h1M461.8 313.0h1M474.2 347.3h1M461.4 345.1h1M473.7 347.5h1M459.8 348.0h1M463.1 314.7h1M461.4 321.1h1M467.4 298.6h1M463.8 316.3h1M469.0 317.4h1M465.2 337.7h1M461.0 329.6h1M461.2 326.0h1M464.1 332.1h1M486.5 319.4h1M466.8 344.3h1M460.4 321.5h1M469.6 340.8h1M466.5 336.2h1M461.7 309.6h1M471.4 339.3h1M467.9 321.4h1M466.8 340.1h1M462.5 338.8h1M468.9 341.5h1M460.4 318.2h1M461.6 341.7h1M459.4 347.7h1M466.6 316.2h1M471.8 344.3h1M466.1 345.7h1M467.1 325.1h1M457.0 333.7h1M465.9 305.8h1M462.5 327.6h1M464.3 313.3h1M471.5 330.7h1M464.3 327.8h1M463.2 331.7h1M467.2 346.4h1M464.7 332.0h1M469.3 324.5h1M458.1 312.2h1M463.2 318.9h1M473.1 343.3h1M470.9 342.5h1M457.4 311.5h1M467.7 298.5h1M461.0 330.9h1M469.1 342.5h1M467.7 316.4h1M458.6 320.7h1M469.6 334.5h1M459.6 334.9h1M466.6 342.8h1M468.3 321.3h1M464.5 330.2h1M459.4 314.0h1M464.9 327.0h1M465.1 333.5h1M465.1 342.5h1M463.6 328.5h1M474.7 347.3h1M469.5 326.6h1M464.7 315.7h1M459.7 311.2h1M459.0 313.0h1M472.4 324.8h1" stroke="#5fbcba"/><path d="M456.2 333.1h1M443.5 342.3h1M432.3 313.9h1M456.6 338.5h1M450.8 315.3h1M444.3 293.2h1M426.8 316.1h1M446.3 345.1h1M427.9 294.0h1M419.8 306.2h1M423.7 314.7h1M442.1 294.5h1M415.3 304.2h1M440.2 288.0h1M423.6 292.9h1M437.3 288.2h1M419.0 311.8h1M427.3 319.4h1M432.2 317.3h1M432.5 290.3h1M420.6 320.6h1M415.8 307.7h1M436.9 298.2h1M423.5 308.9h1M419.3 307.1h1M417.2 299.2h1M443.8 325.8h1M420.2 297.4h1M415.0 311.4h1M455.2 336.1h1M451.0 334.0h1M451.2 316.2h1M449.7 338.0h1M430.0 309.3h1M426.0 296.4h1M427.0 294.8h1M422.5 307.9h1M442.7 322.8h1M431.0 313.3h1M433.7 292.9h1M449.8 337.8h1M458.6 338.4h1M430.5 302.7h1M433.6 300.5h1M422.9 304.5h1M448.4 300.6h1M438.3 301.4h1M450.1 291.7h1M437.8 305.1h1M439.7 315.8h1M443.6 335.0h1M429.3 300.8h1M426.7 302.9h1M454.2 305.6h1M433.1 318.9h1M425.1 297.1h1M420.5 313.1h1M437.8 324.4h1M455.1 310.1h1M441.7 286.4h1M417.5 311.8h1M425.9 306.4h1M428.9 303.9h1M453.4 336.0h1M419.4 311.0h1M430.0 306.3h1M424.1 317.3h1M427.1 319.9h1M423.7 293.9h1M423.0 303.8h1M458.9 348.3h1M442.8 326.2h1M426.1 323.8h1M444.4 343.2h1M455.1 333.2h1M435.3 291.7h1M423.9 301.5h1M441.2 316.0h1M419.9 294.5h1M435.2 319.1h1M454.5 314.9h1M452.1 302.1h1M454.6 337.5h1M419.7 311.1h1M429.8 312.3h1M419.8 302.8h1M444.8 342.2h1M454.1 329.0h1M425.0 320.6h1M454.6 320.4h1M454.1 294.0h1M450.8 333.6h1M443.1 326.6h1M455.0 341.7h1M428.8 299.1h1M430.6 298.6h1M441.5 302.7h1M441.6 321.5h1M428.0 320.7h1M432.6 288.6h1M430.7 308.5h1M421.3 306.8h1M414.8 314.6h1M458.8 340.9h1M417.3 297.6h1M423.8 316.3h1M419.2 300.9h1M438.4 318.9h1M457.1 327.1h1M448.9 334.4h1M430.9 296.2h1M453.9 308.1h1M420.7 293.9h1M444.6 335.4h1M424.9 313.4h1M423.5 289.2h1M458.5 341.8h1M428.3 321.5h1M423.8 303.9h1M449.7 340.7h1M432.7 296.5h1M457.6 290.4h1M453.9 321.7h1M420.6 306.0h1M424.1 290.1h1M460.9 302.1h1M437.0 299.2h1M440.4 292.7h1M454.3 341.6h1M418.9 301.0h1M420.0 293.3h1M433.3 295.7h1M450.3 341.3h1M419.5 313.0h1M414.3 303.2h1M416.8 296.7h1M443.3 334.1h1M453.6 320.1h1M429.5 328.6h1M419.7 291.4h1M462.3 289.5h1M435.6 292.4h1M414.5 302.3h1M443.2 338.6h1M418.9 308.9h1M420.1 289.8h1M431.4 291.9h1M437.8 304.1h1M417.3 297.3h1M430.4 306.6h1M428.5 301.3h1M452.1 343.4h1M457.4 323.3h1M441.0 291.9h1M444.5 292.6h1M463.2 292.9h1M438.7 319.7h1M446.5 299.4h1M434.1 319.1h1M430.2 321.8h1M440.2 319.3h1M432.5 283.4h1" stroke="#3b78c0"/><path d="M460.0 302.5h1M474.0 340.1h1M470.2 318.1h1M474.8 309.5h1M471.3 324.3h1M461.1 319.6h1M469.7 306.0h1M478.6 320.0h1M467.2 315.3h1M470.7 326.0h1M463.7 320.8h1M473.9 349.3h1M468.9 322.6h1M473.2 320.5h1M467.6 331.3h1M466.0 307.3h1M473.6 300.1h1M475.5 309.7h1M467.4 320.9h1M472.9 328.8h1M462.6 315.4h1M476.6 309.3h1M470.6 338.2h1M469.2 333.7h1M470.0 317.0h1M473.1 331.6h1M467.6 337.9h1M474.3 320.5h1M465.8 309.5h1M474.6 308.3h1M478.5 347.0h1M472.2 299.2h1M472.8 323.1h1M478.2 348.9h1M468.9 320.4h1M471.3 303.7h1M469.3 321.4h1M462.5 348.3h1M461.1 314.0h1M462.5 309.0h1M466.8 306.3h1M476.9 324.4h1M463.4 316.8h1M479.8 332.1h1M484.4 314.3h1M466.7 303.2h1M476.7 334.3h1M460.9 313.3h1M467.8 331.0h1M474.4 319.5h1M463.8 331.1h1M464.8 308.5h1M468.4 341.4h1M464.6 305.0h1M469.6 340.0h1M474.7 326.7h1M480.4 311.1h1M460.4 329.0h1M466.4 328.4h1M473.6 325.1h1M466.8 308.0h1M480.9 306.3h1M484.3 329.5h1M484.4 325.7h1M464.1 328.0h1M473.7 331.9h1M466.8 310.0h1M470.2 314.7h1M477.7 320.8h1" stroke="#6dc295"/><path d="M453.2 325.8h1M446.8 344.6h1M454.4 316.8h1M463.7 298.9h1M435.6 307.1h1M438.7 318.6h1M434.6 290.2h1M416.8 299.3h1M424.3 293.4h1M421.7 308.6h1M456.2 333.6h1M426.8 291.1h1M438.0 298.3h1M462.8 347.5h1M424.0 305.1h1M456.2 332.6h1M456.9 310.4h1M424.6 292.7h1M450.8 347.2h1M414.5 317.9h1M424.1 294.8h1M425.9 290.6h1M422.5 301.5h1M456.7 331.7h1M433.8 299.5h1M429.3 302.8h1M418.8 292.0h1M458.8 346.9h1M429.0 297.4h1M427.6 305.4h1M417.0 298.2h1M421.2 296.2h1M450.7 340.3h1M462.0 302.0h1M449.1 346.2h1M427.4 289.5h1M424.9 295.5h1M420.3 314.7h1M462.0 338.1h1M438.7 331.3h1M462.5 341.2h1M430.0 297.7h1M439.3 320.4h1M424.7 306.4h1M427.0 318.1h1M451.0 344.0h1M450.1 346.5h1M454.2 333.6h1M419.2 302.0h1M457.7 343.5h1M458.2 322.9h1M429.2 301.7h1M419.1 293.9h1M439.1 297.6h1M428.3 291.1h1M462.3 303.0h1M455.0 337.1h1M436.3 302.9h1M418.2 319.2h1M415.3 308.8h1M429.0 309.6h1M427.6 295.0h1M418.5 304.1h1M457.5 331.8h1M458.1 334.0h1M439.2 319.6h1M455.5 312.2h1M418.1 298.0h1M433.9 299.9h1M458.7 337.5h1M452.9 347.8h1M425.1 324.0h1M415.9 298.8h1M458.6 335.0h1M455.6 326.3h1M425.2 309.5h1M422.0 289.2h1M426.1 296.9h1M427.7 311.4h1M429.8 299.2h1M462.1 347.3h1M457.9 346.4h1M418.5 313.4h1M428.4 304.0h1M457.5 301.9h1M428.7 293.3h1M433.0 300.9h1" stroke="#4291cd"/><path d="M434.2 314.5h1M431.8 310.1h1M427.1 323.4h1M438.9 307.7h1M431.9 318.9h1M426.8 305.9h1M427.7 302.9h1M451.2 339.4h1M448.0 324.7h1M440.7 320.7h1M443.1 331.7h1M455.1 327.2h1M422.5 318.4h1M417.8 321.2h1M458.3 280.6h1M464.1 291.0h1M448.7 336.0h1M434.3 303.0h1M424.3 308.4h1M438.3 292.0h1M445.0 340.8h1M452.2 302.7h1M445.6 333.3h1M448.0 296.1h1M427.5 324.7h1M444.0 299.2h1M461.3 289.5h1M448.3 326.7h1M456.9 284.1h1M427.5 314.7h1M454.1 310.5h1M448.3 317.3h1M419.3 318.7h1M441.0 296.1h1M445.2 306.4h1M447.4 338.0h1M464.0 291.2h1M448.1 281.8h1M453.0 330.6h1M453.6 321.8h1M435.0 302.4h1M444.7 286.6h1M436.0 306.1h1M434.4 330.4h1M441.0 310.6h1M432.2 324.8h1M453.3 292.0h1M456.2 330.7h1M449.0 321.4h1M445.7 290.6h1M439.8 310.3h1M447.0 319.6h1M432.7 326.3h1M428.5 310.7h1M460.3 277.9h1M442.7 323.0h1M442.9 338.2h1M453.7 329.9h1M432.0 329.6h1M431.9 301.8h1M446.5 328.6h1M435.5 313.8h1M451.2 294.0h1M445.4 305.1h1M440.2 297.7h1M438.1 334.5h1M427.7 326.7h1M450.8 314.9h1M427.7 313.6h1M442.5 332.5h1M453.9 327.2h1M451.9 330.5h1M450.1 326.3h1M446.7 290.5h1M448.4 298.6h1M452.9 308.1h1M444.5 326.7h1M421.8 323.8h1M447.8 284.4h1M455.8 326.7h1M443.7 326.8h1M443.4 323.8h1M444.8 325.7h1M423.0 315.4h1M444.4 338.2h1M418.2 312.5h1M423.3 317.8h1M446.0 291.2h1M434.9 326.1h1M443.6 332.0h1M442.6 331.8h1M439.4 292.0h1M447.4 306.3h1M460.6 279.7h1M448.5 324.4h1M418.7 320.9h1M433.5 325.9h1M437.0 322.5h1M441.8 305.9h1M435.7 308.1h1M432.7 328.4h1M446.5 292.4h1M434.6 292.3h1M453.7 279.7h1M426.6 320.8h1M429.1 321.7h1M462.2 290.9h1M452.9 330.8h1M437.8 309.8h1M444.3 306.4h1M443.4 284.1h1M444.6 334.4h1M435.6 326.3h1M417.2 307.9h1M453.9 328.9h1M437.2 310.7h1M444.7 303.1h1M445.9 288.6h1M429.4 327.5h1M427.5 308.3h1M441.9 311.8h1M443.8 315.6h1M437.2 321.5h1M448.1 329.3h1M437.4 291.6h1M455.0 287.4h1M460.6 278.6h1M440.0 307.7h1M438.2 290.7h1M450.5 282.9h1M461.3 293.8h1M419.0 319.9h1M454.0 302.3h1M426.5 303.4h1M426.8 325.4h1M453.7 292.1h1M445.7 339.4h1M429.1 325.2h1M430.7 303.6h1M430.9 305.7h1M454.1 301.5h1M435.8 307.2h1M446.6 330.8h1M450.8 314.3h1M459.9 283.9h1M452.2 334.9h1M430.7 320.7h1M455.4 325.2h1M441.8 318.0h1M449.3 308.3h1M435.7 310.6h1M429.0 314.1h1M444.7 328.5h1M449.4 292.5h1M453.6 278.1h1M443.3 340.5h1M445.7 338.9h1M434.3 305.2h1M432.8 315.3h1M434.7 300.5h1M423.8 307.5h1M453.2 329.6h1M419.3 316.8h1M448.0 301.2h1M438.1 299.4h1M450.1 334.6h1M444.5 307.9h1M450.6 304.0h1M453.4 308.3h1M450.0 315.6h1M421.9 313.3h1M419.2 318.2h1M438.1 297.7h1M417.4 293.4h1M447.4 333.2h1M446.5 310.2h1M438.1 308.9h1M445.4 327.8h1M452.4 335.9h1M428.6 328.6h1M443.7 328.6h1M418.4 319.2h1M440.6 309.7h1M454.3 303.0h1M436.6 297.8h1M439.2 299.8h1M451.6 334.3h1M462.4 281.3h1M416.6 315.5h1M438.9 324.6h1M438.8 323.9h1M429.2 309.4h1M437.6 314.1h1M453.9 330.6h1M428.7 316.9h1M444.3 331.8h1M414.3 293.0h1M435.0 327.5h1M455.5 282.0h1M451.6 303.5h1M454.0 299.4h1M441.1 319.2h1M461.0 299.4h1M457.5 286.9h1M435.1 319.5h1M453.3 330.8h1M451.4 307.9h1M436.7 317.7h1M458.2 292.6h1M448.8 327.5h1M425.7 311.2h1M455.0 278.3h1M434.8 326.8h1M434.4 329.4h1M433.7 326.4h1M444.0 326.3h1M444.0 320.8h1M424.9 306.8h1M439.1 291.3h1M437.0 303.3h1M444.5 328.5h1M460.0 294.3h1M442.1 300.2h1" stroke="#365fb2"/><path d="M420.0 308.5h1M458.8 336.5h1M421.7 298.0h1M447.4 346.4h1M444.3 341.5h1M426.6 318.7h1M415.6 315.7h1M444.0 340.5h1M459.6 345.1h1M416.2 302.3h1M419.3 308.2h1M451.5 304.5h1M443.6 337.4h1M417.7 299.8h1M442.3 290.4h1M455.6 337.1h1M451.4 343.0h1M438.6 333.6h1M454.2 310.3h1M453.1 331.3h1M454.8 307.6h1M426.7 311.1h1M421.5 294.6h1M432.9 299.9h1M438.2 319.2h1M452.0 338.8h1M421.2 314.2h1M447.7 344.0h1M430.1 293.5h1M425.5 303.9h1M455.7 343.6h1M435.9 290.4h1M453.9 348.0h1M442.1 295.5h1M420.5 292.4h1M450.3 314.7h1M455.7 303.3h1M455.5 333.4h1M418.0 320.2h1M426.7 304.9h1M423.7 300.5h1M419.1 309.0h1M457.1 332.7h1M432.7 309.7h1M424.6 307.0h1M428.2 294.1h1M427.0 297.5h1M459.4 335.7h1M427.8 298.9h1M452.8 343.7h1M419.4 296.7h1M419.6 290.4h1M454.4 308.3h1M427.8 317.4h1M421.9 321.7h1M420.2 296.5h1M421.7 313.3h1M419.1 302.0h1M458.6 345.3h1M419.2 307.1h1M433.0 298.8h1M432.9 295.8h1M423.3 294.6h1M430.2 294.3h1M448.6 348.0h1M419.2 307.9h1M437.4 314.6h1M447.4 295.7h1M414.9 303.3h1M453.8 339.8h1M433.2 324.9h1M447.9 334.1h1M441.3 337.9h1M420.8 316.6h1M455.1 341.0h1M440.0 291.8h1M439.0 331.2h1M436.2 309.7h1M424.5 303.1h1M418.1 316.6h1M442.6 292.1h1M423.0 304.9h1M444.2 336.6h1M431.7 302.8h1M444.5 283.7h1M443.9 339.5h1M460.4 345.7h1M418.5 300.2h1M421.4 299.0h1M418.5 311.4h1M433.2 296.3h1M455.2 346.1h1M427.2 290.5h1M417.1 309.2h1M423.8 294.3h1M452.9 331.8h1M440.3 294.4h1M456.9 342.9h1M436.5 313.9h1M459.4 336.7h1M427.4 303.9h1M424.1 323.9h1M444.9 340.0h1M448.7 338.2h1M418.2 292.8h1M455.5 348.6h1M425.0 292.7h1M438.8 308.7h1M461.8 301.4h1M434.8 299.2h1M420.0 319.8h1M422.9 302.5h1M457.5 331.7h1M425.5 293.1h1M431.9 296.0h1M425.7 316.0h1M425.9 303.5h1M427.2 295.5h1M456.1 326.8h1M439.8 290.4h1M417.8 304.8h1M433.3 297.3h1" stroke="#3e84c7"/><path d="M443.8 284.4h1M452.6 323.5h1M441.1 318.2h1M439.2 289.3h1M454.2 276.7h1M456.8 288.0h1M452.2 281.0h1M451.9 308.1h1M443.8 314.5h1M452.8 285.2h1M460.3 279.3h1M448.2 309.0h1M446.2 291.6h1M443.9 300.6h1M459.0 291.9h1M463.2 291.9h1M456.2 295.5h1M446.0 285.5h1M448.5 326.5h1M431.8 293.5h1M451.4 299.1h1M453.5 285.9h1M460.0 286.5h1M450.4 290.1h1M442.8 306.0h1M445.4 302.3h1M449.3 289.8h1M442.3 290.2h1M435.4 322.8h1M437.2 315.7h1M460.0 291.9h1M460.3 297.1h1M452.1 321.3h1M446.2 304.9h1M449.4 300.8h1M432.9 329.2h1M446.0 291.6h1M462.6 289.1h1M444.0 324.6h1M448.7 297.3h1M424.5 325.9h1M451.4 279.0h1M451.5 283.0h1M445.0 304.1h1M450.4 292.8h1M454.7 279.5h1M442.7 330.8h1M444.6 307.7h1M451.5 314.1h1M444.2 311.4h1M453.0 288.2h1M450.4 324.9h1M455.6 283.7h1M449.0 301.0h1M445.1 312.4h1M466.0 285.8h1M447.4 295.2h1M445.5 328.7h1M455.1 284.6h1M445.5 304.4h1M452.0 282.0h1M443.9 312.3h1M447.6 308.6h1M446.5 286.4h1M449.0 308.7h1M459.5 293.4h1M441.7 316.9h1M458.0 282.3h1M459.3 289.2h1M445.1 293.8h1M446.8 307.5h1M448.0 309.4h1M445.8 297.3h1M448.0 324.2h1M461.8 285.2h1M448.7 320.5h1M450.3 308.3h1M458.0 297.6h1M454.3 302.2h1" stroke="#2e409a"/><path d="M479.9 320.6h1M471.4 331.3h1M474.3 323.1h1M480.4 314.2h1M474.3 336.6h1M478.7 343.6h1M472.0 329.9h1M476.3 339.2h1M474.8 323.7h1M463.2 315.8h1M473.7 328.4h1M478.7 312.1h1M476.0 335.0h1M483.2 327.2h1M478.9 318.1h1M478.4 305.2h1M469.6 302.6h1M475.1 333.8h1M487.0 317.4h1M476.0 333.3h1M472.3 313.0h1M479.9 336.4h1M472.6 303.8h1M483.7 313.6h1M475.6 336.7h1M482.3 341.6h1M478.3 328.8h1M471.9 304.5h1M486.6 321.3h1M470.1 333.6h1M477.3 310.0h1M479.7 328.2h1M483.4 325.5h1M484.1 328.7h1M478.4 308.7h1M477.9 324.2h1M481.8 326.6h1M478.7 306.6h1M469.3 321.6h1M480.0 323.7h1M469.9 315.7h1M472.8 308.3h1M483.6 334.2h1M487.5 320.7h1M476.1 342.6h1M473.7 320.6h1M473.1 339.6h1M479.3 334.2h1M478.3 329.0h1M479.3 309.0h1M471.7 303.5h1M474.0 324.8h1M478.4 310.2h1M478.0 346.1h1M474.9 315.8h1M485.0 313.4h1M480.6 320.9h1M478.5 309.5h1M464.2 303.4h1M464.8 303.9h1M478.0 347.0h1M474.1 343.0h1M477.5 317.4h1M477.0 338.2h1M479.1 328.2h1M477.9 317.8h1M478.8 323.7h1M473.8 312.8h1M477.4 314.4h1M480.9 320.2h1M480.5 338.2h1M478.0 341.8h1M474.3 339.2h1M471.0 318.7h1M475.4 316.7h1M484.9 328.6h1M458.0 317.1h1M488.0 316.9h1M466.7 309.4h1M468.5 317.0h1M480.3 332.7h1M463.8 309.0h1M477.1 337.5h1M486.9 321.5h1M478.9 320.4h1M481.7 310.2h1M480.2 333.8h1M471.9 302.5h1M484.7 320.1h1M469.3 303.6h1M468.0 299.5h1M482.0 331.8h1M476.5 327.9h1M486.0 317.9h1M483.1 313.7h1M465.9 310.0h1M481.8 340.6h1M475.5 325.5h1M471.8 312.2h1M481.1 317.2h1" stroke="#95cd6e"/><path d="M452.1 319.6h1M444.7 319.2h1M442.6 335.0h1M429.6 320.8h1M421.0 313.9h1M433.0 313.2h1M431.0 329.9h1M459.8 280.8h1M454.5 309.4h1M441.1 287.7h1M427.5 301.4h1M443.8 291.6h1M435.3 303.2h1M451.1 315.6h1M417.9 299.1h1M433.3 318.4h1M453.2 320.9h1M442.4 327.1h1M445.0 318.2h1M450.1 328.9h1M423.6 315.7h1M437.1 303.6h1M415.1 312.4h1M454.1 300.4h1M417.2 305.7h1M442.4 297.1h1M419.1 305.6h1M433.1 314.5h1M433.6 310.2h1M438.2 294.5h1M454.9 327.2h1M440.7 301.9h1M424.3 326.9h1M433.8 315.7h1M442.8 291.4h1M422.2 306.3h1M434.2 306.3h1M441.4 334.2h1M428.2 309.1h1M440.0 295.8h1M434.9 290.7h1M446.7 330.5h1M428.4 300.9h1M431.7 303.9h1M433.3 310.3h1M441.9 330.1h1M444.9 299.6h1M446.8 338.8h1M432.1 321.0h1M420.7 308.4h1M425.7 318.3h1M453.2 319.9h1M426.8 295.8h1M429.3 321.3h1M451.1 326.1h1M427.5 291.9h1M451.2 316.6h1M435.5 314.0h1M442.2 338.5h1M452.4 296.1h1M423.6 319.2h1M450.4 343.2h1M448.9 317.5h1M438.3 308.6h1M432.0 309.1h1M456.2 338.0h1M443.8 341.4h1M423.6 304.0h1M426.8 321.8h1M453.1 303.2h1M452.9 320.3h1M420.3 305.3h1M419.4 318.9h1M433.5 290.1h1M454.0 303.2h1M460.8 286.9h1M428.9 312.4h1M453.3 320.9h1M439.9 324.2h1M445.3 306.1h1M432.6 320.9h1M420.7 322.3h1M445.1 332.4h1M442.0 291.6h1M444.4 340.5h1M427.2 302.4h1M453.0 302.6h1M432.9 311.3h1M421.5 296.9h1M432.7 327.3h1M452.6 319.9h1M421.7 322.8h1M423.8 293.7h1M433.4 305.6h1M423.9 313.4h1M434.5 328.4h1M449.8 334.0h1M457.8 281.0h1M436.7 326.7h1M450.1 337.0h1M431.9 328.4h1M426.8 324.3h1M444.8 325.6h1M443.2 287.1h1M437.5 320.5h1M425.4 308.2h1M461.1 297.8h1M454.4 306.6h1M434.0 302.3h1M436.4 320.8h1M436.1 297.5h1M435.3 306.3h1M434.6 292.4h1M439.4 333.9h1M456.5 302.3h1M441.0 299.1h1M449.4 339.7h1M442.8 333.5h1M419.7 322.5h1M427.7 316.4h1M447.7 345.4h1M424.6 304.3h1M440.8 305.6h1M428.2 301.9h1M430.7 292.7h1M455.8 287.8h1M444.6 318.8h1M435.6 322.7h1M442.6 299.0h1M420.4 315.6h1M453.3 328.4h1M421.2 305.7h1M444.7 341.5h1M422.9 313.1h1M448.5 331.3h1M449.6 296.2h1M431.5 302.9h1M437.9 331.9h1M424.3 319.9h1M457.1 331.2h1M431.0 307.4h1M434.0 293.3h1M447.4 286.9h1M428.5 326.0h1M432.5 320.1h1M420.0 317.2h1M452.8 332.3h1M452.9 308.4h1M435.3 305.3h1M437.5 297.2h1M445.0 336.3h1M438.7 310.2h1M448.8 296.7h1M450.6 279.5h1M435.8 300.3h1M422.8 316.4h1M435.9 326.1h1M435.2 309.5h1M426.9 296.5h1M451.1 343.2h1M446.0 284.5h1M415.3 302.8h1M444.9 312.9h1M442.8 286.4h1M448.3 305.8h1M431.3 324.2h1M437.0 298.1h1M450.8 314.4h1M432.0 313.4h1M427.5 312.6h1M421.2 289.8h1M448.4 343.3h1M441.5 301.0h1M418.5 317.5h1M427.8 289.7h1M427.5 319.7h1M437.9 304.1h1M446.6 299.0h1M432.2 302.2h1M426.7 311.5h1M442.5 339.8h1M442.0 326.9h1M418.7 321.7h1M439.4 296.6h1M453.4 329.9h1M449.3 317.0h1M449.6 331.5h1M440.9 304.6h1M448.8 332.1h1" stroke="#386cb9"/><path d="M458.0 284.2h1M440.8 286.9h1M442.6 321.8h1M427.7 311.4h1M449.9 330.5h1M435.8 328.1h1M447.1 332.1h1M433.0 301.9h1M450.7 314.7h1M432.5 310.9h1M415.0 313.4h1M445.4 309.4h1M419.9 317.9h1M439.8 323.5h1M428.6 327.6h1M435.6 315.0h1M445.4 319.6h1M444.9 337.3h1M439.6 331.0h1M443.8 307.1h1M440.5 321.7h1M448.5 282.8h1M451.1 307.5h1M442.9 312.2h1M449.1 313.0h1M441.2 339.3h1M426.7 317.6h1M428.1 323.3h1M420.2 305.6h1M447.5 308.2h1M451.4 322.0h1M431.8 327.0h1M455.2 302.6h1M457.3 288.8h1M418.3 319.1h1M451.8 326.9h1M445.8 294.1h1M443.6 285.1h1M457.6 283.2h1M452.9 280.4h1M437.1 331.4h1M456.5 290.8h1M441.5 302.6h1M452.0 290.4h1M428.9 326.7h1M449.5 322.3h1M428.4 307.2h1M435.3 328.6h1M459.9 285.1h1M453.1 319.8h1M425.8 325.3h1M436.1 301.9h1M444.3 313.0h1M428.7 321.3h1M447.1 303.1h1M457.5 285.0h1M455.2 287.9h1M416.7 308.2h1M435.9 318.3h1M431.5 315.6h1M447.3 309.5h1M419.3 317.9h1M451.9 333.6h1M448.8 283.6h1M429.5 303.0h1M448.3 296.1h1M436.0 313.1h1M448.1 328.4h1M442.5 299.2h1M443.8 318.0h1M442.2 291.2h1M429.9 316.8h1M444.6 316.3h1M451.0 282.2h1M438.9 290.3h1M437.8 296.2h1M445.4 308.4h1M444.2 286.9h1M455.6 289.8h1M421.7 319.1h1M451.3 325.0h1M423.7 299.5h1M439.2 291.3h1M442.2 295.1h1M443.2 332.7h1M452.6 304.7h1M446.6 329.8h1M453.6 323.8h1M447.4 290.0h1M452.8 299.4h1M435.3 321.8h1M440.1 319.8h1M446.0 321.3h1M448.0 325.7h1M447.3 318.9h1M445.2 324.8h1M438.1 299.4h1M446.5 318.3h1M454.0 324.8h1M426.5 318.6h1M453.9 280.3h1M453.7 303.8h1M448.4 286.9h1M436.6 326.6h1M444.5 332.4h1M445.2 287.2h1M449.9 316.1h1M432.2 319.9h1M425.1 315.9h1M446.4 295.4h1M451.4 297.2h1M462.1 291.0h1M428.8 311.4h1M427.4 306.4h1M453.4 281.2h1M425.8 317.0h1M428.4 310.4h1M429.1 313.1h1M445.9 307.7h1M435.1 324.8h1M454.1 304.6h1M451.8 299.3h1M425.5 314.2h1M454.3 299.3h1M436.2 321.8h1M445.2 312.8h1M457.5 296.6h1M444.8 300.6h1M451.1 304.4h1M453.3 282.2h1M446.0 318.0h1M445.7 286.5h1M444.4 319.6h1M446.0 304.5h1M450.8 291.1h1M440.5 317.4h1M419.0 319.6h1M464.4 291.8h1M443.6 314.3h1M465.5 284.9h1M452.4 307.9h1M434.5 325.6h1M449.8 314.4h1M449.6 342.0h1M434.4 310.9h1M447.0 291.0h1M433.6 320.2h1M423.4 315.4h1M446.2 332.6h1M416.3 308.5h1M445.4 293.1h1M447.5 308.5h1M450.2 295.5h1M438.1 331.7h1M447.2 282.8h1M447.0 284.1h1M424.7 324.9h1M459.4 278.4h1M457.7 280.0h1M424.0 315.7h1M442.8 318.0h1M449.5 324.4h1M452.7 279.7h1M460.1 286.1h1M444.1 292.2h1M438.4 300.3h1M450.4 289.1h1M455.2 283.0h1M450.8 299.6h1M436.8 305.4h1M450.4 318.4h1M462.6 292.7h1M430.9 328.7h1M447.0 313.0h1M436.8 324.0h1M447.8 330.6h1M449.4 283.2h1M452.2 303.7h1M440.6 309.7h1M436.0 319.8h1M434.8 315.7h1" stroke="#3452aa"/><path d="M423.8 292.7h1M455.8 309.4h1M458.7 322.8h1M458.0 327.7h1M430.9 316.4h1M455.8 339.9h1M460.6 309.4h1M463.4 348.0h1M458.3 330.8h1M455.8 309.4h1M432.3 295.7h1M453.8 311.2h1M454.5 345.3h1M421.1 297.9h1M419.4 297.2h1M464.3 338.3h1M458.4 341.0h1M457.1 334.1h1M458.3 330.0h1M455.0 342.8h1M453.6 347.0h1M452.8 341.6h1M457.9 341.8h1M450.4 349.0h1M434.2 291.5h1M458.2 323.7h1M463.1 303.5h1M457.7 342.6h1M453.7 342.4h1M463.5 303.6h1M454.5 346.5h1M460.9 338.9h1M448.6 342.3h1M436.8 302.3h1M421.0 308.3h1M460.1 320.0h1M425.3 307.2h1M458.5 310.8h1M432.4 295.1h1M414.9 316.5h1M466.8 337.2h1M453.1 343.1h1M422.3 303.3h1M418.8 309.1h1M459.3 330.7h1M452.9 342.6h1M458.3 323.6h1M460.9 337.7h1M427.8 302.2h1M458.0 331.8h1M418.3 297.3h1M455.9 310.5h1M424.2 309.7h1M456.0 346.8h1M450.6 340.1h1M454.9 338.2h1M457.1 342.6h1M456.6 311.5h1M458.7 342.3h1M427.6 291.9h1M458.6 335.5h1M427.9 288.6h1M456.4 342.0h1M448.7 345.1h1M454.8 340.2h1M417.6 319.8h1M461.7 342.8h1M461.2 338.8h1M458.0 308.8h1M461.7 347.4h1M461.1 347.1h1" stroke="#459dd2"/><path d="M453.9 301.3h1M455.2 287.0h1M451.7 279.9h1M455.1 302.3h1M451.9 297.0h1M445.2 311.8h1M452.7 280.2h1M458.7 281.5h1M450.2 326.7h1M456.9 292.4h1M459.1 298.6h1" stroke="#273088"/><path d="M460.0 285.0h1M452.2 279.2h1M455.2 282.2h1M454.5 296.1h1M455.5 296.3h1M458.8 280.7h1M454.2 288.1h1M456.6 280.8h1" stroke="#222976"/><path d="M469.6 341.0h1M467.6 339.8h1M464.0 326.2h1M473.5 323.9h1M469.0 334.7h1M474.6 313.0h1M465.1 333.3h1M458.3 324.0h1M477.7 348.0h1M470.3 324.7h1M461.4 307.7h1M473.8 322.9h1M471.2 314.5h1M474.9 338.4h1M467.5 342.4h1M475.0 330.3h1M468.7 302.3h1M466.9 300.6h1M466.1 332.6h1M462.1 303.4h1M460.9 317.4h1M460.3 328.8h1M467.9 342.6h1M466.7 301.4h1M468.3 320.5h1M471.7 319.5h1M459.8 318.7h1M472.9 312.2h1M472.6 330.7h1M465.9 332.7h1M460.2 310.3h1M459.6 320.4h1M474.2 330.9h1M467.8 322.5h1M469.8 336.4h1M462.5 308.5h1M465.9 333.8h1M468.5 318.3h1M471.3 342.3h1M470.4 327.1h1M464.0 303.3h1M469.9 337.5h1M467.6 332.0h1M477.8 345.1h1M464.3 306.5h1M468.1 303.2h1M464.0 322.4h1M471.0 322.4h1M468.2 314.9h1M459.5 315.0h1M471.4 345.2h1M462.9 314.8h1M466.0 336.3h1M475.0 349.3h1M465.2 305.9h1M472.1 339.8h1M465.2 306.7h1M467.0 332.1h1M472.4 330.9h1M461.4 328.6h1M465.1 328.2h1M471.1 341.3h1M467.0 316.3h1M468.8 302.4h1M462.3 313.7h1M465.4 307.7h1M464.6 311.3h1M470.1 341.2h1M468.3 321.7h1M465.7 329.1h1M471.3 327.5h1" stroke="#66bfa8"/><path d="M469.3 335.5h1M469.4 326.6h1M461.0 321.6h1M460.5 310.7h1M466.1 337.2h1M465.5 314.0h1M466.0 327.7h1M460.4 330.0h1M467.0 342.4h1M467.9 330.0h1M459.7 319.0h1M459.9 329.7h1M462.0 312.8h1M462.2 346.3h1M467.7 341.6h1M462.2 321.8h1M462.4 307.5h1M456.3 305.9h1M462.6 305.2h1M463.7 311.6h1M456.8 310.6h1M477.2 347.8h1M467.5 326.1h1M461.2 320.6h1M467.2 298.9h1M468.1 336.8h1M466.8 339.2h1M470.5 331.8h1M473.3 341.9h1M456.7 303.6h1M474.4 348.5h1M459.3 324.1h1M467.0 340.5h1M456.8 312.5h1M458.9 335.7h1M468.7 341.6h1M463.4 313.8h1M469.2 320.8h1M471.9 342.4h1M462.4 330.6h1M456.7 311.1h1M472.8 343.9h1M463.2 326.7h1M471.6 346.3h1M460.8 318.4h1M461.4 312.1h1M462.7 338.7h1M470.2 343.3h1M465.7 343.3h1M460.5 315.4h1M461.7 338.4h1M461.8 344.1h1M475.2 347.6h1M449.4 348.6h1M466.5 320.7h1M473.7 348.3h1M471.2 348.1h1M467.3 328.8h1M468.9 347.4h1M459.6 316.0h1M467.9 327.0h1M464.7 320.5h1M464.1 347.2h1M476.2 347.8h1M459.7 322.2h1M467.0 345.2h1M465.7 320.1h1" stroke="#58b9cd"/><path d="M480.9 336.2h1M471.8 329.0h1M481.7 319.7h1M472.1 312.0h1M483.3 324.5h1M481.0 309.1h1M473.1 307.2h1M479.5 310.4h1M472.2 311.4h1M480.0 313.3h1M481.1 342.5h1M457.1 304.5h1M477.7 308.9h1M481.5 337.1h1M478.9 337.8h1M478.2 316.8h1M458.1 319.0h1M475.4 306.3h1M477.4 305.6h1M482.4 322.1h1M473.4 336.1h1M471.4 305.3h1" stroke="#d5d24c"/><path d="M469.7 310.5h1M481.7 332.8h1M474.1 308.5h1M479.5 317.4h1M479.8 334.0h1M483.5 340.4h1M474.7 338.2h1M474.2 337.6h1M484.9 319.8h1M474.1 302.1h1M487.5 322.4h1M480.8 333.9h1M479.1 336.8h1M481.3 311.5h1M487.0 326.8h1M468.9 300.0h1M470.0 312.0h1M485.2 328.6h1M482.4 328.5h1M469.8 303.7h1M472.0 300.8h1M480.7 310.1h1M467.2 308.5h1M469.7 301.8h1M474.9 337.2h1M486.4 326.0h1M482.3 317.6h1M483.3 329.4h1M483.4 315.5h1M467.3 299.6h1M474.5 325.6h1M457.8 306.2h1M485.4 311.5h1M484.7 329.4h1M481.5 341.0h1M482.6 316.6h1M470.9 311.4h1M474.1 317.6h1M477.6 337.4h1M486.0 330.9h1M476.2 307.9h1M472.5 335.6h1M478.0 320.6h1M481.2 308.0h1M475.8 337.5h1M476.1 325.1h1M473.6 312.7h1M476.6 319.2h1M471.9 311.0h1M480.4 309.9h1M471.6 301.7h1M479.1 326.0h1M474.7 323.4h1M475.1 343.3h1M479.0 334.6h1M477.9 319.8h1M476.5 317.1h1M475.6 313.7h1M484.2 327.4h1M482.2 337.1h1M485.0 320.8h1M479.8 343.9h1M481.6 321.2h1M483.8 338.9h1M475.5 336.0h1M472.7 312.2h1M485.4 311.1h1M479.0 344.6h1M483.6 322.7h1M477.1 320.1h1M479.5 342.9h1M476.7 332.5h1M482.3 315.3h1M477.2 342.4h1M476.9 313.5h1M477.9 317.8h1M483.1 332.0h1M467.7 311.5h1M469.6 313.9h1M474.7 313.2h1M479.5 331.1h1M482.7 333.7h1M479.4 305.2h1M483.8 314.6h1M481.1 318.9h1M483.7 327.9h1M479.8 315.0h1M474.1 316.6h1M480.9 344.0h1M479.8 325.2h1M471.2 311.4h1M470.3 303.6h1M471.9 311.2h1M475.9 337.4h1M483.2 315.8h1" stroke="#aad25a"/><path d="M467.5 343.5h1M455.5 315.1h1M473.0 348.3h1M463.0 322.3h1M462.8 312.7h1M458.6 324.9h1M467.7 344.6h1M466.9 338.2h1M463.5 338.7h1M462.3 343.2h1M459.2 315.1h1M463.4 347.5h1M458.0 342.8h1M461.0 313.0h1M467.5 340.9h1M472.2 348.1h1M464.0 348.3h1M459.4 344.7h1M462.3 328.9h1M470.9 345.6h1M466.8 334.3h1M462.6 304.1h1M457.9 324.7h1M461.4 330.7h1M466.6 345.3h1M465.7 332.3h1M460.4 330.6h1M468.7 341.6h1M414.8 292.1h1M467.1 337.2h1M457.7 330.8h1M464.7 314.6h1M463.4 330.8h1M457.8 348.4h1M466.4 347.1h1M457.2 309.4h1M466.9 332.7h1M459.5 310.6h1M467.0 336.0h1M455.1 316.0h1M464.7 321.6h1M469.7 346.8h1M459.1 330.3h1M460.8 347.0h1M464.9 331.2h1M460.1 323.1h1M427.1 292.8h1M456.3 313.4h1M461.9 326.7h1" stroke="#52b0cf"/><path d="M443.9 313.3h1M446.3 309.0h1M455.6 286.6h1M460.0 299.0h1M444.4 301.9h1M445.9 298.3h1M446.0 313.0h1M447.1 308.0h1M449.4 294.9h1M443.3 306.2h1M448.8 298.3h1M453.6 289.0h1M450.4 293.4h1M455.6 280.6h1M446.2 292.2h1M454.0 279.9h1M459.3 296.9h1M442.9 331.8h1M446.6 308.1h1M460.6 292.4h1M463.6 289.1h1M449.4 318.4h1M448.1 308.2h1M447.3 305.2h1M437.7 320.9h1M456.7 279.2h1M453.3 295.5h1M463.3 289.3h1M451.1 298.1h1M455.7 281.3h1M441.6 303.6h1M436.9 310.5h1M449.8 292.5h1M461.0 284.5h1M462.0 286.7h1M452.5 291.2h1M461.2 291.5h1M464.6 290.8h1M451.6 279.2h1" stroke="#2a3892"/><path d="M477.2 318.6h1M488.1 315.9h1M478.1 326.1h1M479.7 342.9h1M475.0 316.0h1M474.6 320.2h1M468.0 300.1h1M474.6 307.4h1M482.5 321.8h1M458.1 317.3h1M485.3 312.4h1M481.4 316.2h1M470.8 303.6h1M480.7 340.3h1M475.2 335.7h1M478.6 321.0h1M474.6 309.2h1M481.7 315.2h1M482.7 321.2h1M483.2 329.1h1M482.3 332.8h1M477.0 326.0h1M477.8 311.6h1M469.6 332.7h1M480.2 318.4h1M484.1 320.9h1M485.2 327.7h1M472.2 307.5h1M469.4 305.2h1M485.3 322.6h1M474.7 336.1h1M476.4 336.5h1M482.0 327.6h1M467.3 307.2h1M484.4 326.7h1M478.4 336.7h1M476.6 308.9h1M478.9 324.7h1M482.4 314.2h1M476.1 335.3h1M477.3 328.6h1M487.5 327.8h1M479.4 305.8h1M474.6 308.5h1M487.5 319.0h1M481.7 341.6h1M479.7 333.1h1M471.8 302.7h1" stroke="#bfd253"/><path d="M473.9 306.7h1M471.3 304.5h1M457.4 305.7h1M457.7 318.1h1M480.1 309.7h1M469.2 305.2h1M467.3 302.3h1M488.0 324.9h1" stroke="#e7cf45"/><path d="M460.2 344.3h1M449.5 341.7h1M468.2 346.6h1M431.1 292.7h1M455.3 315.0h1M427.1 296.6h1M461.8 308.3h1M464.3 338.1h1M460.2 339.6h1M461.8 338.4h1M458.0 346.2h1M417.6 300.1h1M431.9 294.5h1M462.7 346.7h1M457.6 338.7h1M458.7 341.3h1M449.8 340.7h1M461.6 315.4h1M460.6 335.2h1M462.9 337.6h1M466.1 298.9h1M426.5 291.3h1M459.6 324.0h1M465.1 345.9h1M454.9 347.7h1M462.1 302.4h1M429.2 294.1h1M465.3 329.6h1M467.5 343.6h1M453.6 314.3h1M468.4 348.3h1M472.9 347.3h1M463.4 313.5h1M466.9 341.5h1M454.8 311.4h1" stroke="#4ba6d0"/><path d="M475.1 338.3h1M458.7 305.8h1M457.9 318.3h1" stroke="#f0b33f"/><path d="M461.7 286.2h1" stroke="#1e2163"/><path d="M459.1 304.9h1" stroke="#ec6837"/><path d="M458.2 306.3h1" stroke="#ecc142"/><path d="M456.9 318.6h1" stroke="#f2913a"/></g><path d="M412.3 273.3V352.9H491.9" stroke="#7a7a7a" stroke-width="0.9" fill="none"/><path d="M410.3 273.3H491.9" stroke="#a8a8a8" stroke-width="0.8" fill="none"/><path d="M410.1 273.3h2.2M412.3 352.9v2.2M410.7 278.3h1.6M417.3 352.9v1.6M410.7 283.2h1.6M422.2 352.9v1.6M410.7 288.2h1.6M427.2 352.9v1.6M410.1 293.2h2.2M432.2 352.9v2.2M410.7 298.2h1.6M437.2 352.9v1.6M410.7 303.2h1.6M442.2 352.9v1.6M410.7 308.1h1.6M447.1 352.9v1.6M410.1 313.1h2.2M452.1 352.9v2.2M410.7 318.1h1.6M457.1 352.9v1.6M410.7 323.1h1.6M462.1 352.9v1.6M410.7 328.0h1.6M467.0 352.9v1.6M410.1 333.0h2.2M472.0 352.9v2.2M410.7 338.0h1.6M477.0 352.9v1.6M410.7 342.9h1.6M481.9 352.9v1.6M410.7 347.9h1.6M486.9 352.9v1.6M410.1 352.9h2.2M491.9 352.9v2.2" stroke="#6a6a6a" stroke-width="0.7" fill="none"/><text x="406.3" y="275.8" font-size="5.70" text-anchor="end" font-weight="normal" fill="#333" stroke="#333" stroke-width="0.25">6.1</text><text x="406.3" y="295.7" font-size="5.70" text-anchor="end" font-weight="normal" fill="#333" stroke="#333" stroke-width="0.25">3.1</text><text x="406.3" y="315.6" font-size="5.70" text-anchor="end" font-weight="normal" fill="#333" stroke="#333" stroke-width="0.25">0.1</text><text x="406.3" y="335.5" font-size="5.70" text-anchor="end" font-weight="normal" fill="#333" stroke="#333" stroke-width="0.25">−2.9</text><text x="406.3" y="355.4" font-size="5.70" text-anchor="end" font-weight="normal" fill="#333" stroke="#333" stroke-width="0.25">−5.9</text><text x="412.8" y="363.9" font-size="5.70" text-anchor="middle" font-weight="normal" fill="#3a3a3a" stroke="#3a3a3a" stroke-width="0.25">−8.5</text><text x="432.7" y="363.9" font-size="5.70" text-anchor="middle" font-weight="normal" fill="#3a3a3a" stroke="#3a3a3a" stroke-width="0.25">−4.4</text><text x="452.6" y="363.9" font-size="5.70" text-anchor="middle" font-weight="normal" fill="#3a3a3a" stroke="#3a3a3a" stroke-width="0.25">−0.3</text><text x="472.5" y="363.9" font-size="5.70" text-anchor="middle" font-weight="normal" fill="#3a3a3a" stroke="#3a3a3a" stroke-width="0.25">3.7</text><text x="492.4" y="363.9" font-size="5.70" text-anchor="middle" font-weight="normal" fill="#3a3a3a" stroke="#3a3a3a" stroke-width="0.25">7.8</text><rect x="491.9" y="273.3" width="3.8" height="79.6" fill="url(#cb)"/><path d="M495.7 277.3h-1.2M495.7 281.3h-1.2M495.7 285.2h-1.2M495.7 289.2h-1.2M495.7 293.2h-1.2M495.7 297.2h-1.2M495.7 301.2h-1.2M495.7 305.1h-1.2M495.7 309.1h-1.2M495.7 313.1h-1.2M495.7 317.1h-1.2M495.7 321.1h-1.2M495.7 325.0h-1.2M495.7 329.0h-1.2M495.7 333.0h-1.2M495.7 337.0h-1.2M495.7 341.0h-1.2M495.7 344.9h-1.2M495.7 348.9h-1.2" stroke="#fff" stroke-opacity="0.5" stroke-width="0.5"/><text x="501.1" y="300.3" font-size="5.70" text-anchor="start" font-weight="normal" fill="#333" stroke="#333" stroke-width="0.25">10<tspan dy="-2.3" font-size="3.9">4</tspan></text><text x="501.1" y="348.4" font-size="5.70" text-anchor="start" font-weight="normal" fill="#333" stroke="#333" stroke-width="0.25">10<tspan dy="-2.3" font-size="3.9">3</tspan></text><text x="415.9" y="281.8" font-size="8.00" text-anchor="start" font-weight="normal" fill="#222" stroke="#222" stroke-width="0.2" textLength="25.0" lengthAdjust="spacingAndGlyphs">CD127</text></svg></body></html>
